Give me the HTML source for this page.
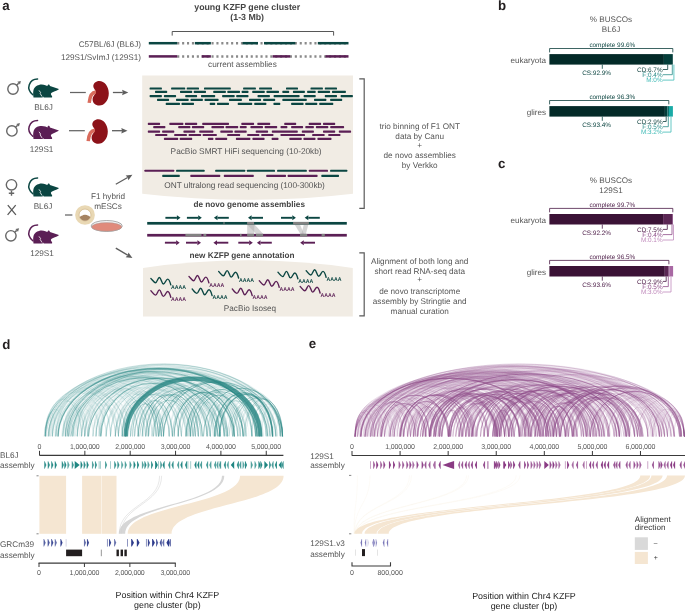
<!DOCTYPE html>
<html><head><meta charset="utf-8"><style>
html,body{margin:0;padding:0;background:#fff;}
svg{display:block;will-change:transform;font-family:"Liberation Sans",sans-serif;text-rendering:geometricPrecision;}
</style></head><body>
<svg width="685" height="612" viewBox="0 0 685 612">
<rect width="685" height="612" fill="#fff"/>
<text x="2.3" y="9.7" font-size="13.3" text-anchor="start" fill="#231f20" font-weight="bold" >a</text>
<text x="247.2" y="10.4" font-size="8.8" text-anchor="middle" fill="#444" font-weight="bold" >young KZFP gene cluster</text>
<text x="247.2" y="20.4" font-size="8.8" text-anchor="middle" fill="#444" font-weight="bold" >(1-3 Mb)</text>
<path d="M172.2,35.6 V31.5 H333.6 V35.6" fill="none" stroke="#444" stroke-width="0.9"/>
<text x="141" y="47.3" font-size="8.2" text-anchor="end" fill="#555555" font-weight="normal" >C57BL/6J (BL6J)</text>
<text x="141" y="60.4" font-size="8.2" text-anchor="end" fill="#555555" font-weight="normal" >129S1/SvImJ (129S1)</text>
<line x1="177.2" y1="43.2" x2="348.5" y2="43.2" stroke="#8a8a8a" stroke-width="2.5" stroke-dasharray="2.1 2.8"/>
<line x1="177.2" y1="56.4" x2="348.5" y2="56.4" stroke="#8a8a8a" stroke-width="2.5" stroke-dasharray="2.1 2.8"/>
<rect x="148.8" y="41.95" width="28.399999999999977" height="2.5" fill="#0b4642"/>
<rect x="194.8" y="41.95" width="16.099999999999994" height="2.5" fill="#0b4642"/>
<rect x="242.6" y="41.95" width="15.400000000000006" height="2.5" fill="#0b4642"/>
<rect x="264" y="41.95" width="31.30000000000001" height="2.5" fill="#0b4642"/>
<rect x="317.8" y="41.95" width="30.69999999999999" height="2.5" fill="#0b4642"/>
<rect x="148.8" y="55.15" width="28.399999999999977" height="2.5" fill="#5b1f55"/>
<rect x="201.7" y="55.15" width="9.200000000000017" height="2.5" fill="#5b1f55"/>
<rect x="272.6" y="55.15" width="17.599999999999966" height="2.5" fill="#5b1f55"/>
<rect x="325.5" y="55.15" width="23.0" height="2.5" fill="#5b1f55"/>
<text x="242.4" y="67.2" font-size="8.2" text-anchor="middle" fill="#555555" font-weight="normal" >current assemblies</text>
<path d="M142.2,75.5 H353 V193.7 Q247.6,206 142.2,193.7 Z" fill="#f1ece4"/>
<rect x="149.6" y="87.45" width="12.3" height="2.1" rx="0.6" fill="#0b4642"/>
<rect x="171.1" y="87.45" width="14.1" height="2.1" rx="0.6" fill="#0b4642"/>
<rect x="186.7" y="87.45" width="12.3" height="2.1" rx="0.6" fill="#0b4642"/>
<rect x="204.0" y="87.45" width="26.8" height="2.1" rx="0.6" fill="#0b4642"/>
<rect x="243.1" y="87.45" width="12.8" height="2.1" rx="0.6" fill="#0b4642"/>
<rect x="259.1" y="87.45" width="12.9" height="2.1" rx="0.6" fill="#0b4642"/>
<rect x="286.0" y="87.45" width="12.0" height="2.1" rx="0.6" fill="#0b4642"/>
<rect x="310.5" y="87.45" width="12.4" height="2.1" rx="0.6" fill="#0b4642"/>
<rect x="324.8" y="87.45" width="12.2" height="2.1" rx="0.6" fill="#0b4642"/>
<rect x="155.0" y="90.85" width="12.2" height="2.1" rx="0.6" fill="#0b4642"/>
<rect x="180.0" y="90.85" width="12.2" height="2.1" rx="0.6" fill="#0b4642"/>
<rect x="193.7" y="90.85" width="12.3" height="2.1" rx="0.6" fill="#0b4642"/>
<rect x="213.2" y="90.85" width="12.7" height="2.1" rx="0.6" fill="#0b4642"/>
<rect x="227.3" y="90.85" width="12.7" height="2.1" rx="0.6" fill="#0b4642"/>
<rect x="241.6" y="90.85" width="6.9" height="2.1" rx="0.6" fill="#0b4642"/>
<rect x="252.2" y="90.85" width="12.6" height="2.1" rx="0.6" fill="#0b4642"/>
<rect x="266.4" y="90.85" width="12.6" height="2.1" rx="0.6" fill="#0b4642"/>
<rect x="282.3" y="90.85" width="6.9" height="2.1" rx="0.6" fill="#0b4642"/>
<rect x="292.9" y="90.85" width="12.0" height="2.1" rx="0.6" fill="#0b4642"/>
<rect x="307.1" y="90.85" width="8.6" height="2.1" rx="0.6" fill="#0b4642"/>
<rect x="317.7" y="90.85" width="12.4" height="2.1" rx="0.6" fill="#0b4642"/>
<rect x="332.0" y="90.85" width="13.9" height="2.1" rx="0.6" fill="#0b4642"/>
<rect x="149.6" y="95.05" width="12.3" height="2.1" rx="0.6" fill="#0b4642"/>
<rect x="163.9" y="95.05" width="12.2" height="2.1" rx="0.6" fill="#0b4642"/>
<rect x="185.2" y="95.05" width="11.9" height="2.1" rx="0.6" fill="#0b4642"/>
<rect x="201.0" y="95.05" width="14.2" height="2.1" rx="0.6" fill="#0b4642"/>
<rect x="222.1" y="95.05" width="12.6" height="2.1" rx="0.6" fill="#0b4642"/>
<rect x="236.2" y="95.05" width="12.3" height="2.1" rx="0.6" fill="#0b4642"/>
<rect x="257.5" y="95.05" width="12.4" height="2.1" rx="0.6" fill="#0b4642"/>
<rect x="273.6" y="95.05" width="26.0" height="2.1" rx="0.6" fill="#0b4642"/>
<rect x="303.6" y="95.05" width="12.1" height="2.1" rx="0.6" fill="#0b4642"/>
<rect x="324.8" y="95.05" width="12.2" height="2.1" rx="0.6" fill="#0b4642"/>
<rect x="340.6" y="95.05" width="12.3" height="2.1" rx="0.6" fill="#0b4642"/>
<rect x="157.0" y="98.85" width="12.1" height="2.1" rx="0.6" fill="#0b4642"/>
<rect x="176.0" y="98.85" width="12.7" height="2.1" rx="0.6" fill="#0b4642"/>
<rect x="190.5" y="98.85" width="12.4" height="2.1" rx="0.6" fill="#0b4642"/>
<rect x="204.5" y="98.85" width="14.1" height="2.1" rx="0.6" fill="#0b4642"/>
<rect x="229.0" y="98.85" width="12.9" height="2.1" rx="0.6" fill="#0b4642"/>
<rect x="249.0" y="98.85" width="12.1" height="2.1" rx="0.6" fill="#0b4642"/>
<rect x="263.1" y="98.85" width="12.1" height="2.1" rx="0.6" fill="#0b4642"/>
<rect x="282.3" y="98.85" width="24.5" height="2.1" rx="0.6" fill="#0b4642"/>
<rect x="314.0" y="98.85" width="12.4" height="2.1" rx="0.6" fill="#0b4642"/>
<rect x="330.1" y="98.85" width="12.1" height="2.1" rx="0.6" fill="#0b4642"/>
<rect x="165.7" y="102.85" width="14.3" height="2.1" rx="0.6" fill="#0b4642"/>
<rect x="181.5" y="102.85" width="12.5" height="2.1" rx="0.6" fill="#0b4642"/>
<rect x="209.7" y="102.85" width="5.5" height="2.1" rx="0.6" fill="#0b4642"/>
<rect x="217.0" y="102.85" width="12.0" height="2.1" rx="0.6" fill="#0b4642"/>
<rect x="237.7" y="102.85" width="14.5" height="2.1" rx="0.6" fill="#0b4642"/>
<rect x="254.2" y="102.85" width="12.2" height="2.1" rx="0.6" fill="#0b4642"/>
<rect x="273.4" y="102.85" width="6.9" height="2.1" rx="0.6" fill="#0b4642"/>
<rect x="291.1" y="102.85" width="12.5" height="2.1" rx="0.6" fill="#0b4642"/>
<rect x="305.2" y="102.85" width="12.1" height="2.1" rx="0.6" fill="#0b4642"/>
<rect x="319.2" y="102.85" width="14.1" height="2.1" rx="0.6" fill="#0b4642"/>
<rect x="147.8" y="122.85" width="12.3" height="2.1" rx="0.6" fill="#5b1f55"/>
<rect x="169.3" y="122.85" width="14.1" height="2.1" rx="0.6" fill="#5b1f55"/>
<rect x="184.9" y="122.85" width="12.3" height="2.1" rx="0.6" fill="#5b1f55"/>
<rect x="202.2" y="122.85" width="26.8" height="2.1" rx="0.6" fill="#5b1f55"/>
<rect x="241.3" y="122.85" width="12.8" height="2.1" rx="0.6" fill="#5b1f55"/>
<rect x="257.3" y="122.85" width="12.9" height="2.1" rx="0.6" fill="#5b1f55"/>
<rect x="284.2" y="122.85" width="12.0" height="2.1" rx="0.6" fill="#5b1f55"/>
<rect x="308.7" y="122.85" width="12.4" height="2.1" rx="0.6" fill="#5b1f55"/>
<rect x="323.0" y="122.85" width="12.2" height="2.1" rx="0.6" fill="#5b1f55"/>
<rect x="153.2" y="126.05" width="12.2" height="2.1" rx="0.6" fill="#5b1f55"/>
<rect x="178.2" y="126.05" width="12.2" height="2.1" rx="0.6" fill="#5b1f55"/>
<rect x="191.9" y="126.05" width="12.3" height="2.1" rx="0.6" fill="#5b1f55"/>
<rect x="211.4" y="126.05" width="12.7" height="2.1" rx="0.6" fill="#5b1f55"/>
<rect x="225.5" y="126.05" width="12.7" height="2.1" rx="0.6" fill="#5b1f55"/>
<rect x="239.8" y="126.05" width="6.9" height="2.1" rx="0.6" fill="#5b1f55"/>
<rect x="250.4" y="126.05" width="12.6" height="2.1" rx="0.6" fill="#5b1f55"/>
<rect x="264.6" y="126.05" width="12.6" height="2.1" rx="0.6" fill="#5b1f55"/>
<rect x="280.5" y="126.05" width="6.9" height="2.1" rx="0.6" fill="#5b1f55"/>
<rect x="291.1" y="126.05" width="12.0" height="2.1" rx="0.6" fill="#5b1f55"/>
<rect x="305.3" y="126.05" width="8.6" height="2.1" rx="0.6" fill="#5b1f55"/>
<rect x="315.9" y="126.05" width="12.4" height="2.1" rx="0.6" fill="#5b1f55"/>
<rect x="330.2" y="126.05" width="13.9" height="2.1" rx="0.6" fill="#5b1f55"/>
<rect x="147.8" y="130.55" width="12.3" height="2.1" rx="0.6" fill="#5b1f55"/>
<rect x="162.1" y="130.55" width="12.2" height="2.1" rx="0.6" fill="#5b1f55"/>
<rect x="183.4" y="130.55" width="11.9" height="2.1" rx="0.6" fill="#5b1f55"/>
<rect x="199.2" y="130.55" width="14.2" height="2.1" rx="0.6" fill="#5b1f55"/>
<rect x="220.3" y="130.55" width="12.6" height="2.1" rx="0.6" fill="#5b1f55"/>
<rect x="234.4" y="130.55" width="12.3" height="2.1" rx="0.6" fill="#5b1f55"/>
<rect x="255.7" y="130.55" width="12.4" height="2.1" rx="0.6" fill="#5b1f55"/>
<rect x="271.8" y="130.55" width="26.0" height="2.1" rx="0.6" fill="#5b1f55"/>
<rect x="301.8" y="130.55" width="12.1" height="2.1" rx="0.6" fill="#5b1f55"/>
<rect x="323.0" y="130.55" width="12.2" height="2.1" rx="0.6" fill="#5b1f55"/>
<rect x="338.8" y="130.55" width="12.3" height="2.1" rx="0.6" fill="#5b1f55"/>
<rect x="155.2" y="133.95" width="12.1" height="2.1" rx="0.6" fill="#5b1f55"/>
<rect x="174.2" y="133.95" width="12.7" height="2.1" rx="0.6" fill="#5b1f55"/>
<rect x="188.7" y="133.95" width="12.4" height="2.1" rx="0.6" fill="#5b1f55"/>
<rect x="202.7" y="133.95" width="14.1" height="2.1" rx="0.6" fill="#5b1f55"/>
<rect x="227.2" y="133.95" width="12.9" height="2.1" rx="0.6" fill="#5b1f55"/>
<rect x="247.2" y="133.95" width="12.1" height="2.1" rx="0.6" fill="#5b1f55"/>
<rect x="261.3" y="133.95" width="12.1" height="2.1" rx="0.6" fill="#5b1f55"/>
<rect x="280.5" y="133.95" width="24.5" height="2.1" rx="0.6" fill="#5b1f55"/>
<rect x="312.2" y="133.95" width="12.4" height="2.1" rx="0.6" fill="#5b1f55"/>
<rect x="328.3" y="133.95" width="12.1" height="2.1" rx="0.6" fill="#5b1f55"/>
<rect x="163.9" y="137.85" width="14.3" height="2.1" rx="0.6" fill="#5b1f55"/>
<rect x="179.7" y="137.85" width="12.5" height="2.1" rx="0.6" fill="#5b1f55"/>
<rect x="207.9" y="137.85" width="5.5" height="2.1" rx="0.6" fill="#5b1f55"/>
<rect x="215.2" y="137.85" width="12.0" height="2.1" rx="0.6" fill="#5b1f55"/>
<rect x="235.9" y="137.85" width="14.5" height="2.1" rx="0.6" fill="#5b1f55"/>
<rect x="252.4" y="137.85" width="12.2" height="2.1" rx="0.6" fill="#5b1f55"/>
<rect x="271.6" y="137.85" width="6.9" height="2.1" rx="0.6" fill="#5b1f55"/>
<rect x="289.3" y="137.85" width="12.5" height="2.1" rx="0.6" fill="#5b1f55"/>
<rect x="303.4" y="137.85" width="12.1" height="2.1" rx="0.6" fill="#5b1f55"/>
<rect x="317.4" y="137.85" width="14.1" height="2.1" rx="0.6" fill="#5b1f55"/>
<text x="246.1" y="154.1" font-size="8.3" text-anchor="middle" fill="#555555" font-weight="normal" textLength="151">PacBio SMRT HiFi sequencing (10-20kb)</text>
<rect x="144.5" y="169.75" width="29.7" height="2.1" rx="0.6" fill="#5b1f55"/>
<rect x="176.1" y="169.75" width="28.5" height="2.1" rx="0.6" fill="#0b4642"/>
<rect x="215.2" y="169.75" width="30.0" height="2.1" rx="0.6" fill="#0b4642"/>
<rect x="246.9" y="169.75" width="28.1" height="2.1" rx="0.6" fill="#0b4642"/>
<rect x="277.1" y="169.75" width="29.7" height="2.1" rx="0.6" fill="#0b4642"/>
<rect x="308.9" y="169.75" width="19.1" height="2.1" rx="0.6" fill="#5b1f55"/>
<rect x="330.1" y="169.75" width="17.2" height="2.1" rx="0.6" fill="#0b4642"/>
<rect x="162.2" y="174.85" width="17.6" height="2.1" rx="0.6" fill="#0b4642"/>
<rect x="190.3" y="174.85" width="30.0" height="2.1" rx="0.6" fill="#5b1f55"/>
<rect x="223.8" y="174.85" width="30.0" height="2.1" rx="0.6" fill="#5b1f55"/>
<rect x="266.2" y="174.85" width="19.8" height="2.1" rx="0.6" fill="#5b1f55"/>
<rect x="287.6" y="174.85" width="30.0" height="2.1" rx="0.6" fill="#5b1f55"/>
<rect x="321.3" y="174.85" width="17.7" height="2.1" rx="0.6" fill="#0b4642"/>
<text x="244.6" y="188.4" font-size="8.3" text-anchor="middle" fill="#555555" font-weight="normal" textLength="160.5">ONT ultralong read sequencing (100-300kb)</text>
<path d="M359.3,78.9 H364.2 V208.4 H359.3" fill="none" stroke="#5a5a5a" stroke-width="1.2"/>
<path d="M359.3,252.8 H364.2 V315.8 H359.3" fill="none" stroke="#5a5a5a" stroke-width="1.2"/>
<text x="419.7" y="128.9" font-size="8.2" text-anchor="middle" fill="#555555" font-weight="normal" >trio binning of F1 ONT</text>
<text x="419.7" y="139" font-size="8.2" text-anchor="middle" fill="#555555" font-weight="normal" >data by Canu</text>
<text x="419.7" y="147.6" font-size="8.2" text-anchor="middle" fill="#555555" font-weight="normal" >+</text>
<text x="419.7" y="158" font-size="8.2" text-anchor="middle" fill="#555555" font-weight="normal" >de novo assemblies</text>
<text x="419.7" y="167.8" font-size="8.2" text-anchor="middle" fill="#555555" font-weight="normal" >by Verkko</text>
<text x="419.7" y="264.2" font-size="8.2" text-anchor="middle" fill="#555555" font-weight="normal" >Alignment of both long and</text>
<text x="419.7" y="274.1" font-size="8.2" text-anchor="middle" fill="#555555" font-weight="normal" >short read RNA-seq data</text>
<text x="419.7" y="282.4" font-size="8.2" text-anchor="middle" fill="#555555" font-weight="normal" >+</text>
<text x="419.7" y="293.7" font-size="8.2" text-anchor="middle" fill="#555555" font-weight="normal" >de novo transcriptome</text>
<text x="419.7" y="303.7" font-size="8.2" text-anchor="middle" fill="#555555" font-weight="normal" >assembly by Stringtie and</text>
<text x="419.7" y="313.6" font-size="8.2" text-anchor="middle" fill="#555555" font-weight="normal" >manual curation</text>
<text x="249.2" y="206.6" font-size="8.2" text-anchor="middle" fill="#444" font-weight="bold" >de novo genome assemblies</text>
<path d="M247.2,224.5 L254.5,224.5 L254,234 L247.2,234 Z" fill="#b4b4b4" fill-opacity="0.55"/>
<path d="M247.2,224.5 L254.5,224.5 L263.3,234 L256,234 Z" fill="#b4b4b4" fill-opacity="0.55"/>
<path d="M294.6,224.6 L300,224.6 L304,234 L300.4,234 Z" fill="#b4b4b4" fill-opacity="0.55"/>
<path d="M303.8,224.6 L308.3,224.6 L305.9,234 L301.4,234 Z" fill="#b4b4b4" fill-opacity="0.55"/>
<rect x="147.2" y="221.95000000000002" width="199.60000000000002" height="2.7" fill="#0b4642"/>
<rect x="147.2" y="233.9" width="199.60000000000002" height="2.7" fill="#5b1f55"/>
<rect x="223.5" y="221.95000000000002" width="1.0" height="2.7" fill="#828282"/>
<rect x="247.1" y="221.95000000000002" width="7.0" height="2.7" fill="#828282"/>
<rect x="293.1" y="221.95000000000002" width="15.799999999999955" height="2.7" fill="#828282"/>
<rect x="185.4" y="233.9" width="16.099999999999994" height="2.7" fill="#828282"/>
<rect x="203.4" y="233.9" width="2.9000000000000057" height="2.7" fill="#828282"/>
<rect x="240" y="233.9" width="1.5999999999999943" height="2.7" fill="#828282"/>
<rect x="247.1" y="233.9" width="7.0" height="2.7" fill="#828282"/>
<rect x="256" y="233.9" width="7.100000000000023" height="2.7" fill="#828282"/>
<rect x="300" y="233.9" width="7.199999999999989" height="2.7" fill="#828282"/>
<rect x="321.6" y="233.9" width="3.1999999999999886" height="2.7" fill="#828282"/>
<line x1="165.4" y1="217.8" x2="176.9" y2="217.8" stroke="#0b4642" stroke-width="1.9"/>
<path d="M176.9,215.3 L180.5,217.8 L176.9,220.3 Z" fill="#0b4642"/>
<line x1="186.9" y1="217.8" x2="198.20000000000002" y2="217.8" stroke="#0b4642" stroke-width="1.9"/>
<path d="M198.20000000000002,215.3 L201.8,217.8 L198.20000000000002,220.3 Z" fill="#0b4642"/>
<line x1="228.8" y1="217.8" x2="217.5" y2="217.8" stroke="#0b4642" stroke-width="1.9"/>
<path d="M217.5,215.3 L213.9,217.8 L217.5,220.3 Z" fill="#0b4642"/>
<line x1="263" y1="217.8" x2="251.6" y2="217.8" stroke="#0b4642" stroke-width="1.9"/>
<path d="M251.6,215.3 L248,217.8 L251.6,220.3 Z" fill="#0b4642"/>
<line x1="281" y1="217.8" x2="292.29999999999995" y2="217.8" stroke="#0b4642" stroke-width="1.9"/>
<path d="M292.29999999999995,215.3 L295.9,217.8 L292.29999999999995,220.3 Z" fill="#0b4642"/>
<line x1="319.8" y1="217.8" x2="308.3" y2="217.8" stroke="#0b4642" stroke-width="1.9"/>
<path d="M308.3,215.3 L304.7,217.8 L308.3,220.3 Z" fill="#0b4642"/>
<line x1="164.9" y1="242.7" x2="176.1" y2="242.7" stroke="#5b1f55" stroke-width="1.9"/>
<path d="M176.1,240.2 L179.7,242.7 L176.1,245.2 Z" fill="#5b1f55"/>
<line x1="186" y1="242.7" x2="197.4" y2="242.7" stroke="#5b1f55" stroke-width="1.9"/>
<path d="M197.4,240.2 L201,242.7 L197.4,245.2 Z" fill="#5b1f55"/>
<line x1="228.3" y1="242.7" x2="217.0" y2="242.7" stroke="#5b1f55" stroke-width="1.9"/>
<path d="M217.0,240.2 L213.4,242.7 L217.0,245.2 Z" fill="#5b1f55"/>
<line x1="238.3" y1="242.7" x2="249.20000000000002" y2="242.7" stroke="#5b1f55" stroke-width="1.9"/>
<path d="M249.20000000000002,240.2 L252.8,242.7 L249.20000000000002,245.2 Z" fill="#5b1f55"/>
<line x1="271.8" y1="242.7" x2="260.5" y2="242.7" stroke="#5b1f55" stroke-width="1.9"/>
<path d="M260.5,240.2 L256.9,242.7 L260.5,245.2 Z" fill="#5b1f55"/>
<line x1="315" y1="242.7" x2="303.8" y2="242.7" stroke="#5b1f55" stroke-width="1.9"/>
<path d="M303.8,240.2 L300.2,242.7 L303.8,245.2 Z" fill="#5b1f55"/>
<line x1="115.8" y1="184.3" x2="127.64" y2="177.45" stroke="#5e5e5e" stroke-width="1.3"/>
<path d="M128.41,180.18 L132.4,174.7 L125.66,175.42 L127.64,177.45 Z" fill="#5e5e5e"/>
<line x1="115.8" y1="248.1" x2="127.68" y2="255.18" stroke="#5e5e5e" stroke-width="1.3"/>
<path d="M125.67,257.19 L132.4,258 L128.48,252.46 L127.68,255.18 Z" fill="#5e5e5e"/>
<line x1="112.9" y1="92.5" x2="122.80" y2="92.50" stroke="#5e5e5e" stroke-width="1.3"/>
<path d="M122.10,95.25 L128.3,92.5 L122.10,89.75 L122.80,92.50 Z" fill="#5e5e5e"/>
<line x1="112" y1="130.7" x2="122.00" y2="130.70" stroke="#5e5e5e" stroke-width="1.3"/>
<path d="M121.30,133.45 L127.5,130.7 L121.30,127.95 L122.00,130.70 Z" fill="#5e5e5e"/>
<line x1="70" y1="92.5" x2="85.8" y2="92.5" stroke="#646464" stroke-width="1.25"/>
<line x1="69" y1="130.7" x2="84.8" y2="130.7" stroke="#646464" stroke-width="1.25"/>
<line x1="65" y1="215" x2="72.4" y2="215" stroke="#646464" stroke-width="1.25"/>
<path d="M143,268 Q247.6,252.6 352.8,268 V316.4 H143 Z" fill="#f1ece4"/>
<text x="242" y="258.2" font-size="8.2" text-anchor="middle" fill="#444" font-weight="bold" >new KZFP gene annotation</text>
<text x="250" y="310.8" font-size="8.2" text-anchor="middle" fill="#555555" font-weight="normal" >PacBio Isoseq</text>
<path d="M150.9,278.40000000000003 C152.4,279.90000000000003 153.9,282.7 155.5,282.7 C157.20000000000002,282.7 157.8,277.5 159.4,277.5 C161.1,277.5 161.70000000000002,284.0 163.4,284.0 C165.20000000000002,284.0 165.9,279.1 167.70000000000002,279.1 C169.3,279.1 170.1,282.3 170.8,284.90000000000003" fill="none" stroke="#0b4642" stroke-width="1.4" stroke-linecap="round"/>
<text x="171.1" y="288.6" font-size="5.3" text-anchor="start" fill="#0b4642" font-weight="bold" textLength="15" lengthAdjust="spacingAndGlyphs">AAAA</text>
<path d="M150.9,290.8 C152.4,292.3 153.9,295.09999999999997 155.5,295.09999999999997 C157.20000000000002,295.09999999999997 157.8,289.9 159.4,289.9 C161.1,289.9 161.70000000000002,296.4 163.4,296.4 C165.20000000000002,296.4 165.9,291.5 167.70000000000002,291.5 C169.3,291.5 170.1,294.7 170.8,297.3" fill="none" stroke="#5b1f55" stroke-width="1.4" stroke-linecap="round"/>
<text x="171.1" y="301.0" font-size="5.3" text-anchor="start" fill="#5b1f55" font-weight="bold" textLength="15" lengthAdjust="spacingAndGlyphs">AAAA</text>
<path d="M189,276.40000000000003 C190.5,277.90000000000003 192,280.7 193.6,280.7 C195.3,280.7 195.9,275.5 197.5,275.5 C199.2,275.5 199.8,282.0 201.5,282.0 C203.3,282.0 204,277.1 205.8,277.1 C207.4,277.1 208.2,280.3 208.9,282.90000000000003" fill="none" stroke="#5b1f55" stroke-width="1.4" stroke-linecap="round"/>
<text x="209.2" y="286.6" font-size="5.3" text-anchor="start" fill="#5b1f55" font-weight="bold" textLength="15" lengthAdjust="spacingAndGlyphs">AAAA</text>
<path d="M192.2,289.1 C193.7,290.6 195.2,293.4 196.79999999999998,293.4 C198.5,293.4 199.1,288.2 200.7,288.2 C202.39999999999998,288.2 203.0,294.7 204.7,294.7 C206.5,294.7 207.2,289.8 209.0,289.8 C210.6,289.8 211.39999999999998,293 212.1,295.6" fill="none" stroke="#0b4642" stroke-width="1.4" stroke-linecap="round"/>
<text x="212.39999999999998" y="299.3" font-size="5.3" text-anchor="start" fill="#0b4642" font-weight="bold" textLength="15" lengthAdjust="spacingAndGlyphs">AAAA</text>
<path d="M218.7,271.5 C220.2,273.0 221.7,275.79999999999995 223.29999999999998,275.79999999999995 C225.0,275.79999999999995 225.6,270.59999999999997 227.2,270.59999999999997 C228.89999999999998,270.59999999999997 229.5,277.09999999999997 231.2,277.09999999999997 C233.0,277.09999999999997 233.7,272.2 235.5,272.2 C237.1,272.2 237.89999999999998,275.4 238.6,278.0" fill="none" stroke="#0b4642" stroke-width="1.4" stroke-linecap="round"/>
<text x="238.89999999999998" y="281.7" font-size="5.3" text-anchor="start" fill="#0b4642" font-weight="bold" textLength="15" lengthAdjust="spacingAndGlyphs">AAAA</text>
<path d="M232.3,289.1 C233.8,290.6 235.3,293.4 236.9,293.4 C238.60000000000002,293.4 239.20000000000002,288.2 240.8,288.2 C242.5,288.2 243.10000000000002,294.7 244.8,294.7 C246.60000000000002,294.7 247.3,289.8 249.10000000000002,289.8 C250.70000000000002,289.8 251.5,293 252.20000000000002,295.6" fill="none" stroke="#5b1f55" stroke-width="1.4" stroke-linecap="round"/>
<text x="252.5" y="299.3" font-size="5.3" text-anchor="start" fill="#5b1f55" font-weight="bold" textLength="15" lengthAdjust="spacingAndGlyphs">AAAA</text>
<path d="M259.3,280.70000000000005 C260.8,282.20000000000005 262.3,285.0 263.90000000000003,285.0 C265.6,285.0 266.2,279.8 267.8,279.8 C269.5,279.8 270.1,286.3 271.8,286.3 C273.6,286.3 274.3,281.40000000000003 276.1,281.40000000000003 C277.7,281.40000000000003 278.5,284.6 279.2,287.20000000000005" fill="none" stroke="#5b1f55" stroke-width="1.4" stroke-linecap="round"/>
<text x="279.5" y="290.90000000000003" font-size="5.3" text-anchor="start" fill="#5b1f55" font-weight="bold" textLength="15" lengthAdjust="spacingAndGlyphs">AAAA</text>
<path d="M278,272.3 C279.5,273.8 281,276.59999999999997 282.6,276.59999999999997 C284.3,276.59999999999997 284.9,271.4 286.5,271.4 C288.2,271.4 288.8,277.9 290.5,277.9 C292.3,277.9 293,273.0 294.8,273.0 C296.4,273.0 297.2,276.2 297.9,278.8" fill="none" stroke="#0b4642" stroke-width="1.4" stroke-linecap="round"/>
<text x="298.2" y="282.5" font-size="5.3" text-anchor="start" fill="#0b4642" font-weight="bold" textLength="15" lengthAdjust="spacingAndGlyphs">AAAA</text>
<path d="M306.2,270.70000000000005 C307.7,272.20000000000005 309.2,275.0 310.8,275.0 C312.5,275.0 313.09999999999997,269.8 314.7,269.8 C316.4,269.8 317.0,276.3 318.7,276.3 C320.5,276.3 321.2,271.40000000000003 323.0,271.40000000000003 C324.59999999999997,271.40000000000003 325.4,274.6 326.09999999999997,277.20000000000005" fill="none" stroke="#0b4642" stroke-width="1.4" stroke-linecap="round"/>
<text x="326.4" y="280.90000000000003" font-size="5.3" text-anchor="start" fill="#0b4642" font-weight="bold" textLength="15" lengthAdjust="spacingAndGlyphs">AAAA</text>
<path d="M300.2,286.5 C301.7,288.0 303.2,290.79999999999995 304.8,290.79999999999995 C306.5,290.79999999999995 307.09999999999997,285.59999999999997 308.7,285.59999999999997 C310.4,285.59999999999997 311.0,292.09999999999997 312.7,292.09999999999997 C314.5,292.09999999999997 315.2,287.2 317.0,287.2 C318.59999999999997,287.2 319.4,290.4 320.09999999999997,293.0" fill="none" stroke="#5b1f55" stroke-width="1.4" stroke-linecap="round"/>
<text x="320.4" y="296.7" font-size="5.3" text-anchor="start" fill="#5b1f55" font-weight="bold" textLength="15" lengthAdjust="spacingAndGlyphs">AAAA</text>
<circle cx="13" cy="89" r="5.2" fill="none" stroke="#666" stroke-width="1.4"/>
<line x1="16.63" y1="85.28" x2="18.67" y2="83.19" stroke="#666" stroke-width="1.4"/>
<path d="M20.03,84.52 L20.9,80.9 L17.31,81.86 Z" fill="#666"/>
<g transform="translate(25,75)">
<path d="M12.55,4.1 C9,4.1 5.5,6.5 4.2,10 C3.2,13 4,16.5 7.8,19.8" fill="none" stroke="#0b4642" stroke-width="1.5" stroke-linecap="round"/>
<path d="M8.5,22.5 C8,19 8,16 8.8,14 C9.6,12 11.5,10.5 14,9.9 C16,9.4 18.5,9.5 20.4,10.2 C21.3,10.5 22,10.8 22.4,11 C22.5,10 23.2,9.3 23.9,9.4 C24.5,9.6 24.8,10.3 24.9,11 C26,11.3 27,11.6 28,12 L33.9,14 L33.3,14.7 C32,15.3 30.5,16 29.2,16.6 C28,17.2 27,17.6 26.3,18.1 C25.8,18.6 25.8,19.2 26,19.6 C26.5,20.5 27.2,21.3 27.2,21.9 L26.9,22.5 L18.7,22.5 L18.1,21.6 L17.5,22.5 Z" fill="#0b4642"/>
<path d="M14,15.4 L15.6,17.6 L15.2,18.5 L17,21.5" fill="none" stroke="#fff" stroke-width="0.8"/>
</g>
<text x="43.6" y="110.3" font-size="8.2" text-anchor="middle" fill="#555555" font-weight="normal" >BL6J</text>
<circle cx="11.9" cy="130.9" r="5.2" fill="none" stroke="#666" stroke-width="1.4"/>
<line x1="15.60" y1="127.25" x2="17.62" y2="125.25" stroke="#666" stroke-width="1.4"/>
<path d="M18.96,126.60 L19.9,123 L16.29,123.90 Z" fill="#666"/>
<g transform="translate(25,116.4)">
<path d="M12.55,4.1 C9,4.1 5.5,6.5 4.2,10 C3.2,13 4,16.5 7.8,19.8" fill="none" stroke="#5b1f55" stroke-width="1.5" stroke-linecap="round"/>
<path d="M8.5,22.5 C8,19 8,16 8.8,14 C9.6,12 11.5,10.5 14,9.9 C16,9.4 18.5,9.5 20.4,10.2 C21.3,10.5 22,10.8 22.4,11 C22.5,10 23.2,9.3 23.9,9.4 C24.5,9.6 24.8,10.3 24.9,11 C26,11.3 27,11.6 28,12 L33.9,14 L33.3,14.7 C32,15.3 30.5,16 29.2,16.6 C28,17.2 27,17.6 26.3,18.1 C25.8,18.6 25.8,19.2 26,19.6 C26.5,20.5 27.2,21.3 27.2,21.9 L26.9,22.5 L18.7,22.5 L18.1,21.6 L17.5,22.5 Z" fill="#5b1f55"/>
<path d="M14,15.4 L15.6,17.6 L15.2,18.5 L17,21.5" fill="none" stroke="#fff" stroke-width="0.8"/>
</g>
<text x="41.6" y="152" font-size="8.2" text-anchor="middle" fill="#555555" font-weight="normal" >129S1</text>
<circle cx="11.5" cy="184.8" r="5.2" fill="none" stroke="#666" stroke-width="1.4"/>
<path d="M11.5,190.70000000000002 V195.8 M8.8,193.20000000000002 H14.2" fill="none" stroke="#666" stroke-width="1.4"/>
<g transform="translate(25,174)">
<path d="M12.55,4.1 C9,4.1 5.5,6.5 4.2,10 C3.2,13 4,16.5 7.8,19.8" fill="none" stroke="#0b4642" stroke-width="1.5" stroke-linecap="round"/>
<path d="M8.5,22.5 C8,19 8,16 8.8,14 C9.6,12 11.5,10.5 14,9.9 C16,9.4 18.5,9.5 20.4,10.2 C21.3,10.5 22,10.8 22.4,11 C22.5,10 23.2,9.3 23.9,9.4 C24.5,9.6 24.8,10.3 24.9,11 C26,11.3 27,11.6 28,12 L33.9,14 L33.3,14.7 C32,15.3 30.5,16 29.2,16.6 C28,17.2 27,17.6 26.3,18.1 C25.8,18.6 25.8,19.2 26,19.6 C26.5,20.5 27.2,21.3 27.2,21.9 L26.9,22.5 L18.7,22.5 L18.1,21.6 L17.5,22.5 Z" fill="#0b4642"/>
<path d="M14,15.4 L15.6,17.6 L15.2,18.5 L17,21.5" fill="none" stroke="#fff" stroke-width="0.8"/>
</g>
<text x="43" y="209.2" font-size="8.2" text-anchor="middle" fill="#555555" font-weight="normal" >BL6J</text>
<path d="M7.8,205.2 L15.9,214.8 M15.7,205.2 L7.6,214.8" stroke="#5a5a5a" stroke-width="1.3"/>
<circle cx="10.9" cy="235.8" r="5.2" fill="none" stroke="#666" stroke-width="1.4"/>
<line x1="14.71" y1="232.27" x2="16.75" y2="230.38" stroke="#666" stroke-width="1.4"/>
<path d="M18.04,231.77 L19.1,228.2 L15.46,228.98 Z" fill="#666"/>
<g transform="translate(25,221)">
<path d="M12.55,4.1 C9,4.1 5.5,6.5 4.2,10 C3.2,13 4,16.5 7.8,19.8" fill="none" stroke="#5b1f55" stroke-width="1.5" stroke-linecap="round"/>
<path d="M8.5,22.5 C8,19 8,16 8.8,14 C9.6,12 11.5,10.5 14,9.9 C16,9.4 18.5,9.5 20.4,10.2 C21.3,10.5 22,10.8 22.4,11 C22.5,10 23.2,9.3 23.9,9.4 C24.5,9.6 24.8,10.3 24.9,11 C26,11.3 27,11.6 28,12 L33.9,14 L33.3,14.7 C32,15.3 30.5,16 29.2,16.6 C28,17.2 27,17.6 26.3,18.1 C25.8,18.6 25.8,19.2 26,19.6 C26.5,20.5 27.2,21.3 27.2,21.9 L26.9,22.5 L18.7,22.5 L18.1,21.6 L17.5,22.5 Z" fill="#5b1f55"/>
<path d="M14,15.4 L15.6,17.6 L15.2,18.5 L17,21.5" fill="none" stroke="#fff" stroke-width="0.8"/>
</g>
<text x="42" y="255.5" font-size="8.2" text-anchor="middle" fill="#555555" font-weight="normal" >129S1</text>
<g transform="translate(84,76)">
<path d="M15.2,5 C20.5,5 24.8,10.5 24.8,17.3 C24.8,24.5 20.4,29.6 15.3,29.6 C11.4,29.6 8.6,27 8.6,23.6 C8.6,20.2 11.5,18.6 11.5,15.8 C11.5,13.6 9.3,12.6 9.3,10.3 C9.3,7.3 12,5 15.2,5 Z" fill="#8c1219"/>
<path d="M11.8,16 C7.6,16.3 5.9,19.6 5.2,26.9" fill="none" stroke="#d96b5c" stroke-width="3.5"/>
</g>
<g transform="translate(83,114.2)">
<path d="M15.2,5 C20.5,5 24.8,10.5 24.8,17.3 C24.8,24.5 20.4,29.6 15.3,29.6 C11.4,29.6 8.6,27 8.6,23.6 C8.6,20.2 11.5,18.6 11.5,15.8 C11.5,13.6 9.3,12.6 9.3,10.3 C9.3,7.3 12,5 15.2,5 Z" fill="#8c1219"/>
<path d="M11.8,16 C7.6,16.3 5.9,19.6 5.2,26.9" fill="none" stroke="#d96b5c" stroke-width="3.5"/>
</g>
<circle cx="85" cy="215" r="7.8" fill="#fff" stroke="#e9d8b4" stroke-width="4.1"/>
<circle cx="85" cy="215" r="6" fill="none" stroke="#cdb185" stroke-width="0.6"/>
<path d="M79.75,217.2 C80.5,216.1 81.5,215.6 82.5,215.4 C83.3,214.7 84.2,214.5 85,214.9 C86,214.6 87,215.2 87.8,215.6 C88.8,215.8 89.7,216.4 90.25,217.2 A5.7,5.7 0 0 1 79.75,217.2 Z" fill="#a68463"/>
<ellipse cx="106.7" cy="226" rx="15.6" ry="5.5" fill="#f4f4f4" stroke="#8a8a8a" stroke-width="0.7"/>
<ellipse cx="106.7" cy="226.9" rx="15" ry="4.3" fill="#e08a7b" stroke="#9a9a9a" stroke-width="0.4"/>
<text x="108" y="199.4" font-size="8.2" text-anchor="middle" fill="#555555" font-weight="normal" >F1 hybrid</text>
<text x="108" y="209.4" font-size="8.2" text-anchor="middle" fill="#555555" font-weight="normal" >mESCs</text>
<text x="497.9" y="9.7" font-size="13.3" text-anchor="start" fill="#231f20" font-weight="bold" >b</text>
<text x="611" y="22" font-size="8.1" text-anchor="middle" fill="#555555" font-weight="normal" >% BUSCOs</text>
<text x="611" y="31.6" font-size="8.1" text-anchor="middle" fill="#555555" font-weight="normal" >BL6J</text>
<path d="M549.6,52.4 V48.5 H672.8 V52.4" fill="none" stroke="#0c3e3b" stroke-width="0.8"/>
<text x="612.3" y="46.8" font-size="6.4" text-anchor="middle" fill="#0d4541" font-weight="normal" >complete 99.6%</text>
<rect x="549.4" y="54.1" width="114.50" height="10.5" fill="#032a28"/>
<rect x="663.9" y="54.1" width="8.90" height="10.5" fill="#043e3a"/>
<text x="546" y="62.6" font-size="8.1" text-anchor="end" fill="#555555" font-weight="normal" >eukaryota</text>
<line x1="602.3" y1="64.6" x2="602.3" y2="68.8" stroke="#0d4541" stroke-width="0.8"/>
<text x="596.6" y="75.4" font-size="6.4" text-anchor="middle" fill="#0d4541" font-weight="normal" >CS:92.9%</text>
<text x="662.6" y="71.6" font-size="6.4" text-anchor="end" fill="#0c3e3b" font-weight="normal" >CD:6.7%</text>
<path d="M663,69.5 H667.7 V64.6" fill="none" stroke="#0c3e3b" stroke-width="0.8"/>
<text x="662.6" y="76.9" font-size="6.4" text-anchor="end" fill="#2a8c88" font-weight="normal" >F:0.4%</text>
<path d="M663,74.7 H672.3 V64.6" fill="none" stroke="#2a8c88" stroke-width="0.8"/>
<text x="662.6" y="82.2" font-size="6.4" text-anchor="end" fill="#3fbab6" font-weight="normal" >M:0%</text>
<path d="M663,80.1 H673.9 V64.6" fill="none" stroke="#3fbab6" stroke-width="0.8"/>
<path d="M549.6,104.4 V100.5 H668.8 V104.4" fill="none" stroke="#0c3e3b" stroke-width="0.8"/>
<text x="612.3" y="98.8" font-size="6.4" text-anchor="middle" fill="#0d4541" font-weight="normal" >complete 96.3%</text>
<rect x="549.4" y="106.1" width="115.50" height="10.5" fill="#032a28"/>
<rect x="664.9" y="106.1" width="2.60" height="10.5" fill="#043e3a"/>
<rect x="667.5" y="106.1" width="1.50" height="10.5" fill="#0e6e6a"/>
<rect x="669" y="106.1" width="3.90" height="10.5" fill="#19aaa6"/>
<text x="546" y="114.6" font-size="8.1" text-anchor="end" fill="#555555" font-weight="normal" >glires</text>
<line x1="602.3" y1="116.6" x2="602.3" y2="120.8" stroke="#0d4541" stroke-width="0.8"/>
<text x="596.6" y="127.4" font-size="6.4" text-anchor="middle" fill="#0d4541" font-weight="normal" >CS:93.4%</text>
<text x="662.6" y="123.6" font-size="6.4" text-anchor="end" fill="#0c3e3b" font-weight="normal" >CD:2.9%</text>
<path d="M663,121.5 H666.2 V116.6" fill="none" stroke="#0c3e3b" stroke-width="0.8"/>
<text x="662.6" y="128.9" font-size="6.4" text-anchor="end" fill="#2a8c88" font-weight="normal" >F:0.5%</text>
<path d="M663,126.7 H668.3 V116.6" fill="none" stroke="#2a8c88" stroke-width="0.8"/>
<text x="662.6" y="134.2" font-size="6.4" text-anchor="end" fill="#3fbab6" font-weight="normal" >M:3.2%</text>
<path d="M663,132.1 H671 V116.6" fill="none" stroke="#3fbab6" stroke-width="0.8"/>
<text x="497.9" y="167.6" font-size="13.3" text-anchor="start" fill="#231f20" font-weight="bold" >c</text>
<text x="611" y="183.1" font-size="8.1" text-anchor="middle" fill="#555555" font-weight="normal" >% BUSCOs</text>
<text x="611" y="192.94" font-size="8.1" text-anchor="middle" fill="#555555" font-weight="normal" >129S1</text>
<path d="M549.6,212.3 V208.4 H672.8 V212.3" fill="none" stroke="#4a1a45" stroke-width="0.8"/>
<text x="612.3" y="206.7" font-size="6.4" text-anchor="middle" fill="#4a1a45" font-weight="normal" >complete 99.7%</text>
<rect x="549.4" y="214.0" width="113.70" height="10.5" fill="#3b1236"/>
<rect x="663.1" y="214.0" width="9.10" height="10.5" fill="#5b2654"/>
<rect x="672.2" y="214.0" width="0.80" height="10.5" fill="#7d3f78"/>
<text x="546" y="222.5" font-size="8.1" text-anchor="end" fill="#555555" font-weight="normal" >eukaryota</text>
<line x1="602.3" y1="224.5" x2="602.3" y2="228.7" stroke="#4a1a45" stroke-width="0.8"/>
<text x="596.6" y="235.3" font-size="6.4" text-anchor="middle" fill="#4a1a45" font-weight="normal" >CS:92.2%</text>
<text x="662.6" y="231.5" font-size="6.4" text-anchor="end" fill="#4a1a45" font-weight="normal" >CD:7.5%</text>
<path d="M663,229.4 H667.3 V224.5" fill="none" stroke="#4a1a45" stroke-width="0.8"/>
<text x="662.6" y="236.8" font-size="6.4" text-anchor="end" fill="#8e4d89" font-weight="normal" >F:0.4%</text>
<path d="M663,234.60000000000002 H672 V224.5" fill="none" stroke="#8e4d89" stroke-width="0.8"/>
<text x="662.6" y="242.10000000000002" font-size="6.4" text-anchor="end" fill="#c08bbc" font-weight="normal" >M:0.1%</text>
<path d="M663,240.0 H673.5 V224.5" fill="none" stroke="#c08bbc" stroke-width="0.8"/>
<path d="M549.6,264.3 V260.4 H668.9 V264.3" fill="none" stroke="#4a1a45" stroke-width="0.8"/>
<text x="612.3" y="258.7" font-size="6.4" text-anchor="middle" fill="#4a1a45" font-weight="normal" >complete 96.5%</text>
<rect x="549.4" y="266.0" width="115.40" height="10.5" fill="#3b1236"/>
<rect x="664.8" y="266.0" width="3.80" height="10.5" fill="#5b2654"/>
<rect x="668.6" y="266.0" width="0.90" height="10.5" fill="#7d3f78"/>
<rect x="669.5" y="266.0" width="3.60" height="10.5" fill="#a868a3"/>
<text x="546" y="274.5" font-size="8.1" text-anchor="end" fill="#555555" font-weight="normal" >glires</text>
<line x1="602.3" y1="276.5" x2="602.3" y2="280.7" stroke="#4a1a45" stroke-width="0.8"/>
<text x="596.6" y="287.3" font-size="6.4" text-anchor="middle" fill="#4a1a45" font-weight="normal" >CS:93.6%</text>
<text x="662.6" y="283.5" font-size="6.4" text-anchor="end" fill="#4a1a45" font-weight="normal" >CD:2.9%</text>
<path d="M663,281.4 H666.2 V276.5" fill="none" stroke="#4a1a45" stroke-width="0.8"/>
<text x="662.6" y="288.8" font-size="6.4" text-anchor="end" fill="#8e4d89" font-weight="normal" >F:0.5%</text>
<path d="M663,286.6 H668.3 V276.5" fill="none" stroke="#8e4d89" stroke-width="0.8"/>
<text x="662.6" y="294.1" font-size="6.4" text-anchor="end" fill="#c08bbc" font-weight="normal" >M:3.0%</text>
<path d="M663,292.0 H671 V276.5" fill="none" stroke="#c08bbc" stroke-width="0.8"/>
<g fill="none" stroke="#2a8784">
<path d="M158.5,436.4 A16.1,35.4 0 0 1 190.7,436.4" stroke-width="0.5" stroke-opacity="0.06"/>
<path d="M156.5,436.4 A31.8,45.2 0 0 1 220.0,436.4" stroke-width="0.35" stroke-opacity="0.05"/>
<path d="M130.6,436.4 A27.7,43.0 0 0 1 186.0,436.4" stroke-width="0.45" stroke-opacity="0.11"/>
<path d="M48.8,436.4 A44.6,51.1 0 0 1 138.1,436.4" stroke-width="0.3" stroke-opacity="0.05"/>
<path d="M152.1,436.4 A53.7,54.6 0 0 1 259.5,436.4" stroke-width="0.45" stroke-opacity="0.07"/>
<path d="M161.3,436.4 A47.1,52.1 0 0 1 255.6,436.4" stroke-width="0.45" stroke-opacity="0.05"/>
<path d="M87.7,436.4 A50.1,53.2 0 0 1 187.9,436.4" stroke-width="0.45" stroke-opacity="0.11"/>
<path d="M45.3,436.4 A21.2,39.1 0 0 1 87.7,436.4" stroke-width="0.3" stroke-opacity="0.05"/>
<path d="M106.1,436.4 A19.7,38.0 0 0 1 145.5,436.4" stroke-width="0.3" stroke-opacity="0.10"/>
<path d="M169.2,436.4 A35.5,47.0 0 0 1 240.2,436.4" stroke-width="0.4" stroke-opacity="0.07"/>
<path d="M195.4,436.4 A35.4,47.0 0 0 1 266.2,436.4" stroke-width="0.3" stroke-opacity="0.06"/>
<path d="M96.0,436.4 A11.2,31.0 0 0 1 118.4,436.4" stroke-width="0.5" stroke-opacity="0.06"/>
<path d="M152.1,436.4 A2.2,17.3 0 0 1 156.5,436.4" stroke-width="0.35" stroke-opacity="0.07"/>
<path d="M227.7,436.4 A5.1,23.3 0 0 1 237.8,436.4" stroke-width="0.5" stroke-opacity="0.07"/>
<path d="M45.3,436.4 A3.5,20.4 0 0 1 52.3,436.4" stroke-width="0.35" stroke-opacity="0.06"/>
<path d="M48.8,436.4 A57.4,55.9 0 0 1 163.6,436.4" stroke-width="0.4" stroke-opacity="0.10"/>
<path d="M181.4,436.4 A28.2,43.3 0 0 1 237.8,436.4" stroke-width="0.35" stroke-opacity="0.05"/>
<path d="M122.3,436.4 A71.9,60.6 0 0 1 266.2,436.4" stroke-width="0.35" stroke-opacity="0.10"/>
<path d="M72.8,436.4 A37.9,48.1 0 0 1 148.6,436.4" stroke-width="0.35" stroke-opacity="0.09"/>
<path d="M138.1,436.4 A11.6,31.4 0 0 1 161.3,436.4" stroke-width="0.45" stroke-opacity="0.10"/>
<path d="M77.2,436.4 A5.2,23.6 0 0 1 87.7,436.4" stroke-width="0.4" stroke-opacity="0.06"/>
<path d="M240.2,436.4 A15.0,34.4 0 0 1 270.1,436.4" stroke-width="0.5" stroke-opacity="0.08"/>
<path d="M145.5,436.4 A26.3,42.2 0 0 1 198.2,436.4" stroke-width="0.5" stroke-opacity="0.09"/>
<path d="M172.5,436.4 A36.8,47.6 0 0 1 246.0,436.4" stroke-width="0.35" stroke-opacity="0.10"/>
<path d="M81.6,436.4 A43.8,50.7 0 0 1 169.2,436.4" stroke-width="0.35" stroke-opacity="0.05"/>
<path d="M130.6,436.4 A7.5,26.8 0 0 1 145.5,436.4" stroke-width="0.35" stroke-opacity="0.11"/>
<path d="M125.8,436.4 A40.6,49.4 0 0 1 207.1,436.4" stroke-width="0.3" stroke-opacity="0.08"/>
<path d="M195.4,436.4 A11.0,30.8 0 0 1 217.3,436.4" stroke-width="0.3" stroke-opacity="0.09"/>
<path d="M84.7,436.4 A16.9,36.0 0 0 1 118.4,436.4" stroke-width="0.3" stroke-opacity="0.05"/>
<path d="M65.4,436.4 A79.7,62.9 0 0 1 224.8,436.4" stroke-width="0.6" stroke-opacity="0.10"/>
<path d="M122.3,436.4 A42.4,50.1 0 0 1 207.1,436.4" stroke-width="0.45" stroke-opacity="0.11"/>
<path d="M55.8,436.4 A10.7,30.5 0 0 1 77.2,436.4" stroke-width="0.5" stroke-opacity="0.09"/>
<path d="M48.8,436.4 A89.4,65.6 0 0 1 227.7,436.4" stroke-width="0.3" stroke-opacity="0.05"/>
<path d="M115.3,436.4 A77.4,62.2 0 0 1 270.1,436.4" stroke-width="0.6" stroke-opacity="0.07"/>
<path d="M110.5,436.4 A38.7,48.5 0 0 1 187.9,436.4" stroke-width="0.5" stroke-opacity="0.05"/>
<path d="M110.5,436.4 A23.0,40.2 0 0 1 156.5,436.4" stroke-width="0.35" stroke-opacity="0.11"/>
<path d="M77.2,436.4 A19.0,37.6 0 0 1 115.3,436.4" stroke-width="0.6" stroke-opacity="0.11"/>
<path d="M207.1,436.4 A31.5,45.0 0 0 1 270.1,436.4" stroke-width="0.35" stroke-opacity="0.08"/>
<path d="M110.5,436.4 A49.9,53.1 0 0 1 210.3,436.4" stroke-width="0.35" stroke-opacity="0.07"/>
<path d="M161.3,436.4 A54.4,54.8 0 0 1 270.1,436.4" stroke-width="0.35" stroke-opacity="0.10"/>
<path d="M237.8,436.4 A7.0,26.2 0 0 1 251.8,436.4" stroke-width="0.4" stroke-opacity="0.06"/>
<path d="M62.8,436.4 A31.5,45.0 0 0 1 125.8,436.4" stroke-width="0.4" stroke-opacity="0.10"/>
<path d="M115.3,436.4 A21.6,39.3 0 0 1 158.5,436.4" stroke-width="0.35" stroke-opacity="0.10"/>
<path d="M77.2,436.4 A75.2,61.6 0 0 1 227.7,436.4" stroke-width="0.6" stroke-opacity="0.10"/>
<path d="M125.8,436.4 A16.4,35.6 0 0 1 158.5,436.4" stroke-width="0.5" stroke-opacity="0.05"/>
<path d="M110.5,436.4 A31.0,44.8 0 0 1 172.5,436.4" stroke-width="0.45" stroke-opacity="0.08"/>
<path d="M45.3,436.4 A5.2,23.6 0 0 1 55.8,436.4" stroke-width="0.6" stroke-opacity="0.06"/>
<path d="M106.1,436.4 A59.4,56.6 0 0 1 224.8,436.4" stroke-width="0.6" stroke-opacity="0.06"/>
<path d="M148.6,436.4 A35.7,47.1 0 0 1 220.0,436.4" stroke-width="0.5" stroke-opacity="0.09"/>
<path d="M145.5,436.4 A26.3,42.2 0 0 1 198.2,436.4" stroke-width="0.5" stroke-opacity="0.08"/>
<path d="M138.1,436.4 A51.0,53.6 0 0 1 240.2,436.4" stroke-width="0.6" stroke-opacity="0.11"/>
<path d="M93.0,436.4 A91.4,66.1 0 0 1 275.9,436.4" stroke-width="0.6" stroke-opacity="0.07"/>
<path d="M118.4,436.4 A20.0,38.3 0 0 1 158.5,436.4" stroke-width="0.5" stroke-opacity="0.09"/>
<path d="M210.3,436.4 A34.9,46.8 0 0 1 280.2,436.4" stroke-width="0.6" stroke-opacity="0.11"/>
<path d="M96.0,436.4 A45.0,51.2 0 0 1 186.0,436.4" stroke-width="0.4" stroke-opacity="0.08"/>
<path d="M163.6,436.4 A18.7,37.3 0 0 1 201.0,436.4" stroke-width="0.3" stroke-opacity="0.07"/>
<path d="M62.8,436.4 A12.5,32.2 0 0 1 87.7,436.4" stroke-width="0.5" stroke-opacity="0.07"/>
<path d="M172.5,436.4 A30.0,44.3 0 0 1 232.5,436.4" stroke-width="0.35" stroke-opacity="0.10"/>
<path d="M81.6,436.4 A8.8,28.4 0 0 1 99.1,436.4" stroke-width="0.35" stroke-opacity="0.08"/>
<path d="M125.8,436.4 A42.3,50.1 0 0 1 210.3,436.4" stroke-width="0.45" stroke-opacity="0.09"/>
<path d="M93.0,436.4 A79.4,62.8 0 0 1 251.8,436.4" stroke-width="0.5" stroke-opacity="0.07"/>
<path d="M142.9,436.4 A6.8,25.9 0 0 1 156.5,436.4" stroke-width="0.5" stroke-opacity="0.06"/>
<path d="M138.1,436.4 A44.8,51.1 0 0 1 227.7,436.4" stroke-width="0.5" stroke-opacity="0.07"/>
<path d="M77.2,436.4 A42.1,50.0 0 0 1 161.3,436.4" stroke-width="0.3" stroke-opacity="0.08"/>
<path d="M55.8,436.4 A85.9,64.6 0 0 1 227.7,436.4" stroke-width="0.3" stroke-opacity="0.08"/>
<path d="M118.4,436.4 A77.0,62.1 0 0 1 272.5,436.4" stroke-width="0.6" stroke-opacity="0.06"/>
<path d="M187.9,436.4 A44.0,50.8 0 0 1 275.9,436.4" stroke-width="0.45" stroke-opacity="0.07"/>
<path d="M220.0,436.4 A31.3,44.9 0 0 1 282.6,436.4" stroke-width="0.45" stroke-opacity="0.08"/>
<path d="M106.1,436.4 A23.0,40.2 0 0 1 152.1,436.4" stroke-width="0.3" stroke-opacity="0.11"/>
<path d="M96.0,436.4 A13.1,32.9 0 0 1 122.3,436.4" stroke-width="0.6" stroke-opacity="0.07"/>
<path d="M217.3,436.4 A22.0,39.6 0 0 1 261.4,436.4" stroke-width="0.3" stroke-opacity="0.08"/>
<path d="M118.4,436.4 A19.0,37.6 0 0 1 156.5,436.4" stroke-width="0.6" stroke-opacity="0.06"/>
<path d="M100.4,436.4 A38.8,48.6 0 0 1 178.1,436.4" stroke-width="0.5" stroke-opacity="0.06"/>
<path d="M125.8,436.4 A64.9,58.4 0 0 1 255.6,436.4" stroke-width="0.6" stroke-opacity="0.10"/>
<path d="M148.6,436.4 A24.8,41.3 0 0 1 198.2,436.4" stroke-width="0.35" stroke-opacity="0.06"/>
<path d="M134.6,436.4 A8.8,28.4 0 0 1 152.1,436.4" stroke-width="0.3" stroke-opacity="0.06"/>
<path d="M96.0,436.4 A2.2,17.3 0 0 1 100.4,436.4" stroke-width="0.45" stroke-opacity="0.08"/>
<path d="M122.3,436.4 A19.5,37.9 0 0 1 161.3,436.4" stroke-width="0.6" stroke-opacity="0.10"/>
<path d="M96.0,436.4 A32.7,45.6 0 0 1 161.3,436.4" stroke-width="0.4" stroke-opacity="0.11"/>
<path d="M115.3,436.4 A52.4,54.1 0 0 1 220.1,436.4" stroke-width="0.6" stroke-opacity="0.10"/>
<path d="M152.1,436.4 A64.0,58.1 0 0 1 280.2,436.4" stroke-width="0.45" stroke-opacity="0.05"/>
<path d="M62.8,436.4 A46.9,52.0 0 0 1 156.5,436.4" stroke-width="0.45" stroke-opacity="0.06"/>
<path d="M62.8,436.4 A42.9,50.3 0 0 1 148.6,436.4" stroke-width="0.6" stroke-opacity="0.05"/>
<path d="M72.8,436.4 A26.5,42.3 0 0 1 125.8,436.4" stroke-width="0.45" stroke-opacity="0.05"/>
<path d="M96.0,436.4 A24.8,41.3 0 0 1 145.5,436.4" stroke-width="0.45" stroke-opacity="0.06"/>
<path d="M48.8,436.4 A88.0,65.2 0 0 1 224.8,436.4" stroke-width="0.3" stroke-opacity="0.10"/>
<path d="M148.6,436.4 A63.6,58.0 0 0 1 275.9,436.4" stroke-width="0.6" stroke-opacity="0.07"/>
<path d="M118.4,436.4 A16.8,36.0 0 0 1 152.1,436.4" stroke-width="0.3" stroke-opacity="0.10"/>
<path d="M152.1,436.4 A60.2,56.9 0 0 1 272.5,436.4" stroke-width="0.4" stroke-opacity="0.10"/>
<path d="M163.6,436.4 A4.5,22.3 0 0 1 172.5,436.4" stroke-width="0.6" stroke-opacity="0.10"/>
<path d="M138.1,436.4 A39.6,48.9 0 0 1 217.3,436.4" stroke-width="0.6" stroke-opacity="0.07"/>
<path d="M100.4,436.4 A24.1,40.9 0 0 1 148.6,436.4" stroke-width="0.6" stroke-opacity="0.06"/>
<path d="M186.0,436.4 A12.2,32.0 0 0 1 210.3,436.4" stroke-width="0.3" stroke-opacity="0.10"/>
<path d="M68.5,436.4 A18.8,37.4 0 0 1 106.1,436.4" stroke-width="0.6" stroke-opacity="0.07"/>
<path d="M148.6,436.4 A30.9,44.7 0 0 1 210.3,436.4" stroke-width="0.6" stroke-opacity="0.06"/>
<path d="M172.5,436.4 A33.8,46.2 0 0 1 240.2,436.4" stroke-width="0.4" stroke-opacity="0.08"/>
<path d="M68.5,436.4 A105.8,69.7 0 0 1 280.2,436.4" stroke-width="0.6" stroke-opacity="0.07"/>
<path d="M96.0,436.4 A26.3,42.2 0 0 1 148.6,436.4" stroke-width="0.5" stroke-opacity="0.07"/>
<path d="M96.0,436.4 A7.2,26.5 0 0 1 110.5,436.4" stroke-width="0.3" stroke-opacity="0.08"/>
<path d="M65.4,436.4 A86.2,64.7 0 0 1 237.8,436.4" stroke-width="0.35" stroke-opacity="0.07"/>
<path d="M77.2,436.4 A32.9,45.7 0 0 1 142.9,436.4" stroke-width="0.5" stroke-opacity="0.05"/>
<path d="M77.2,436.4 A28.7,43.6 0 0 1 134.6,436.4" stroke-width="0.4" stroke-opacity="0.08"/>
<path d="M169.2,436.4 A48.5,52.6 0 0 1 266.2,436.4" stroke-width="0.4" stroke-opacity="0.09"/>
<path d="M125.8,436.4 A27.8,43.1 0 0 1 181.4,436.4" stroke-width="0.6" stroke-opacity="0.06"/>
<path d="M68.5,436.4 A84.7,64.3 0 0 1 237.8,436.4" stroke-width="0.6" stroke-opacity="0.07"/>
<path d="M84.7,436.4 A56.7,55.7 0 0 1 198.2,436.4" stroke-width="0.35" stroke-opacity="0.08"/>
<path d="M65.4,436.4 A98.0,67.8 0 0 1 261.4,436.4" stroke-width="0.6" stroke-opacity="0.11"/>
<path d="M130.6,436.4 A65.4,58.6 0 0 1 261.4,436.4" stroke-width="0.3" stroke-opacity="0.05"/>
<path d="M246.0,436.4 A18.3,37.0 0 0 1 282.6,436.4" stroke-width="0.35" stroke-opacity="0.06"/>
<path d="M110.5,436.4 A7.6,27.1 0 0 1 125.8,436.4" stroke-width="0.45" stroke-opacity="0.09"/>
<path d="M220.1,436.4 A31.3,44.9 0 0 1 282.6,436.4" stroke-width="0.5" stroke-opacity="0.10"/>
<path d="M125.8,436.4 A27.8,43.1 0 0 1 181.4,436.4" stroke-width="0.35" stroke-opacity="0.08"/>
<path d="M195.4,436.4 A42.4,50.1 0 0 1 280.2,436.4" stroke-width="0.5" stroke-opacity="0.10"/>
<path d="M152.1,436.4 A10.2,30.0 0 0 1 172.5,436.4" stroke-width="0.35" stroke-opacity="0.11"/>
<path d="M161.3,436.4 A59.4,56.6 0 0 1 280.2,436.4" stroke-width="0.3" stroke-opacity="0.09"/>
<path d="M106.1,436.4 A72.9,60.9 0 0 1 251.8,436.4" stroke-width="0.3" stroke-opacity="0.10"/>
<path d="M138.1,436.4 A60.7,57.0 0 0 1 259.5,436.4" stroke-width="0.4" stroke-opacity="0.08"/>
<path d="M217.3,436.4 A32.7,45.6 0 0 1 282.6,436.4" stroke-width="0.3" stroke-opacity="0.10"/>
<path d="M158.5,436.4 A43.8,50.7 0 0 1 246.0,436.4" stroke-width="0.6" stroke-opacity="0.06"/>
<path d="M134.6,436.4 A17.3,36.3 0 0 1 169.2,436.4" stroke-width="0.6" stroke-opacity="0.10"/>
<path d="M99.1,436.4 A24.8,41.3 0 0 1 148.6,436.4" stroke-width="0.5" stroke-opacity="0.05"/>
<path d="M87.7,436.4 A56.6,55.6 0 0 1 201.0,436.4" stroke-width="0.45" stroke-opacity="0.08"/>
<path d="M217.3,436.4 A7.6,27.0 0 0 1 232.5,436.4" stroke-width="0.35" stroke-opacity="0.11"/>
<path d="M87.7,436.4 A49.1,52.9 0 0 1 186.0,436.4" stroke-width="0.6" stroke-opacity="0.07"/>
<path d="M130.6,436.4 A19.3,37.8 0 0 1 169.2,436.4" stroke-width="0.3" stroke-opacity="0.07"/>
<path d="M110.5,436.4 A31.0,44.8 0 0 1 172.5,436.4" stroke-width="0.4" stroke-opacity="0.08"/>
<path d="M251.8,436.4 A10.3,30.2 0 0 1 272.5,436.4" stroke-width="0.6" stroke-opacity="0.11"/>
<path d="M261.4,436.4 A5.6,24.1 0 0 1 272.5,436.4" stroke-width="0.6" stroke-opacity="0.07"/>
<path d="M152.1,436.4 A42.9,50.3 0 0 1 237.8,436.4" stroke-width="0.4" stroke-opacity="0.10"/>
<path d="M134.6,436.4 A40.2,49.2 0 0 1 215.0,436.4" stroke-width="0.4" stroke-opacity="0.10"/>
<path d="M72.8,436.4 A89.5,65.6 0 0 1 251.8,436.4" stroke-width="0.5" stroke-opacity="0.07"/>
<path d="M52.3,436.4 A36.8,47.6 0 0 1 125.8,436.4" stroke-width="0.3" stroke-opacity="0.07"/>
<path d="M106.1,436.4 A33.2,45.9 0 0 1 172.5,436.4" stroke-width="0.3" stroke-opacity="0.05"/>
<path d="M96.0,436.4 A17.3,36.3 0 0 1 130.6,436.4" stroke-width="0.6" stroke-opacity="0.08"/>
<path d="M232.5,436.4 A9.7,29.4 0 0 1 251.8,436.4" stroke-width="0.5" stroke-opacity="0.07"/>
<path d="M187.9,436.4 A32.0,45.3 0 0 1 251.8,436.4" stroke-width="0.45" stroke-opacity="0.08"/>
<path d="M65.4,436.4 A9.6,29.4 0 0 1 84.7,436.4" stroke-width="0.6" stroke-opacity="0.07"/>
<path d="M45.3,436.4 A91.2,66.0 0 0 1 227.7,436.4" stroke-width="0.45" stroke-opacity="0.11"/>
<path d="M55.8,436.4 A82.2,63.6 0 0 1 220.1,436.4" stroke-width="0.3" stroke-opacity="0.07"/>
<path d="M195.4,436.4 A43.6,50.6 0 0 1 282.6,436.4" stroke-width="0.45" stroke-opacity="0.09"/>
<path d="M201.0,436.4 A15.8,35.1 0 0 1 232.5,436.4" stroke-width="0.3" stroke-opacity="0.08"/>
<path d="M115.3,436.4 A35.4,46.9 0 0 1 186.0,436.4" stroke-width="0.35" stroke-opacity="0.11"/>
<path d="M52.3,436.4 A67.8,59.3 0 0 1 187.9,436.4" stroke-width="0.3" stroke-opacity="0.07"/>
<path d="M106.1,436.4 A27.6,42.9 0 0 1 161.3,436.4" stroke-width="0.45" stroke-opacity="0.09"/>
<path d="M251.8,436.4 A15.4,34.8 0 0 1 282.6,436.4" stroke-width="0.4" stroke-opacity="0.09"/>
<path d="M163.6,436.4 A51.3,53.7 0 0 1 266.2,436.4" stroke-width="0.45" stroke-opacity="0.11"/>
<path d="M93.0,436.4 A58.7,56.3 0 0 1 210.3,436.4" stroke-width="0.35" stroke-opacity="0.07"/>
<path d="M125.8,436.4 A60.1,56.8 0 0 1 246.0,436.4" stroke-width="0.45" stroke-opacity="0.11"/>
<path d="M72.8,436.4 A49.9,53.1 0 0 1 172.5,436.4" stroke-width="0.35" stroke-opacity="0.11"/>
<path d="M220.0,436.4 A2.4,17.8 0 0 1 224.8,436.4" stroke-width="0.35" stroke-opacity="0.09"/>
<path d="M138.1,436.4 A10.2,30.0 0 0 1 158.5,436.4" stroke-width="0.5" stroke-opacity="0.06"/>
<path d="M161.3,436.4 A3.9,21.3 0 0 1 169.2,436.4" stroke-width="0.35" stroke-opacity="0.10"/>
<path d="M45.3,436.4 A21.2,39.1 0 0 1 87.7,436.4" stroke-width="0.6" stroke-opacity="0.08"/>
<path d="M237.8,436.4 A21.2,39.1 0 0 1 280.2,436.4" stroke-width="0.6" stroke-opacity="0.05"/>
<path d="M110.5,436.4 A25.4,41.7 0 0 1 161.3,436.4" stroke-width="0.35" stroke-opacity="0.11"/>
<path d="M142.9,436.4 A26.2,42.2 0 0 1 195.4,436.4" stroke-width="0.45" stroke-opacity="0.09"/>
<path d="M65.4,436.4 A8.1,27.6 0 0 1 81.6,436.4" stroke-width="0.45" stroke-opacity="0.09"/>
<path d="M118.4,436.4 A33.8,46.2 0 0 1 186.0,436.4" stroke-width="0.45" stroke-opacity="0.06"/>
<path d="M115.3,436.4 A36.3,47.4 0 0 1 187.9,436.4" stroke-width="0.6" stroke-opacity="0.06"/>
<path d="M134.6,436.4 A23.4,40.5 0 0 1 181.4,436.4" stroke-width="0.5" stroke-opacity="0.10"/>
<path d="M210.3,436.4 A14.9,34.4 0 0 1 240.2,436.4" stroke-width="0.3" stroke-opacity="0.06"/>
<path d="M161.3,436.4 A33.2,45.9 0 0 1 227.7,436.4" stroke-width="0.4" stroke-opacity="0.07"/>
<path d="M172.5,436.4 A23.8,40.7 0 0 1 220.0,436.4" stroke-width="0.4" stroke-opacity="0.08"/>
<path d="M210.3,436.4 A8.7,28.3 0 0 1 227.7,436.4" stroke-width="0.6" stroke-opacity="0.09"/>
<path d="M169.2,436.4 A10.8,30.6 0 0 1 190.7,436.4" stroke-width="0.3" stroke-opacity="0.08"/>
<path d="M84.7,436.4 A62.8,57.7 0 0 1 210.3,436.4" stroke-width="0.45" stroke-opacity="0.11"/>
<path d="M125.8,436.4 A58.9,56.4 0 0 1 243.6,436.4" stroke-width="0.6" stroke-opacity="0.07"/>
<path d="M207.1,436.4 A34.4,46.5 0 0 1 275.9,436.4" stroke-width="0.6" stroke-opacity="0.07"/>
<path d="M198.2,436.4 A31.6,45.1 0 0 1 261.4,436.4" stroke-width="0.5" stroke-opacity="0.08"/>
<path d="M163.6,436.4 A30.6,44.6 0 0 1 224.8,436.4" stroke-width="0.3" stroke-opacity="0.08"/>
<path d="M243.6,436.4 A19.5,37.9 0 0 1 282.6,436.4" stroke-width="0.5" stroke-opacity="0.09"/>
<path d="M186.0,436.4 A42.1,50.0 0 0 1 270.1,436.4" stroke-width="0.4" stroke-opacity="0.09"/>
<path d="M130.6,436.4 A13.0,32.7 0 0 1 156.5,436.4" stroke-width="0.35" stroke-opacity="0.11"/>
<path d="M55.8,436.4 A52.8,54.2 0 0 1 161.3,436.4" stroke-width="0.35" stroke-opacity="0.10"/>
<path d="M125.8,436.4 A67.8,59.3 0 0 1 261.4,436.4" stroke-width="0.45" stroke-opacity="0.09"/>
<path d="M93.0,436.4 A57.0,55.8 0 0 1 207.1,436.4" stroke-width="0.4" stroke-opacity="0.07"/>
<path d="M118.4,436.4 A20.0,38.3 0 0 1 158.5,436.4" stroke-width="0.35" stroke-opacity="0.06"/>
<path d="M81.6,436.4 A28.2,43.3 0 0 1 138.1,436.4" stroke-width="0.3" stroke-opacity="0.11"/>
<path d="M45.3,436.4 A66.4,58.9 0 0 1 178.1,436.4" stroke-width="0.4" stroke-opacity="0.06"/>
<path d="M172.5,436.4 A23.8,40.7 0 0 1 220.1,436.4" stroke-width="0.45" stroke-opacity="0.06"/>
<path d="M125.8,436.4 A34.8,46.7 0 0 1 195.4,436.4" stroke-width="0.6" stroke-opacity="0.11"/>
<path d="M52.3,436.4 A5.2,23.6 0 0 1 62.8,436.4" stroke-width="0.5" stroke-opacity="0.07"/>
<path d="M243.6,436.4 A14.5,34.0 0 0 1 272.5,436.4" stroke-width="0.5" stroke-opacity="0.11"/>
<path d="M62.8,436.4 A2.9,19.0 0 0 1 68.5,436.4" stroke-width="0.35" stroke-opacity="0.07"/>
<path d="M77.2,436.4 A14.4,34.0 0 0 1 106.1,436.4" stroke-width="0.45" stroke-opacity="0.11"/>
<path d="M178.1,436.4 A48.9,52.8 0 0 1 275.9,436.4" stroke-width="0.45" stroke-opacity="0.10"/>
<path d="M195.4,436.4 A40.2,49.2 0 0 1 275.9,436.4" stroke-width="0.5" stroke-opacity="0.07"/>
<path d="M100.4,436.4 A91.1,66.0 0 0 1 282.6,436.4" stroke-width="0.4" stroke-opacity="0.11"/>
<path d="M100.4,436.4 A40.5,49.3 0 0 1 181.4,436.4" stroke-width="0.5" stroke-opacity="0.07"/>
<path d="M195.4,436.4 A14.7,34.2 0 0 1 224.8,436.4" stroke-width="0.45" stroke-opacity="0.11"/>
<path d="M106.1,436.4 A57.0,55.7 0 0 1 220.0,436.4" stroke-width="0.35" stroke-opacity="0.08"/>
<path d="M240.2,436.4 A9.7,29.4 0 0 1 259.5,436.4" stroke-width="0.6" stroke-opacity="0.11"/>
<path d="M224.8,436.4 A28.9,43.7 0 0 1 282.6,436.4" stroke-width="0.35" stroke-opacity="0.06"/>
<path d="M118.4,436.4 A82.1,63.6 0 0 1 282.6,436.4" stroke-width="0.3" stroke-opacity="0.08"/>
<path d="M187.9,436.4 A5.1,23.5 0 0 1 198.2,436.4" stroke-width="0.35" stroke-opacity="0.05"/>
<path d="M145.5,436.4 A6.5,25.5 0 0 1 158.5,436.4" stroke-width="0.3" stroke-opacity="0.08"/>
<path d="M115.3,436.4 A41.4,49.7 0 0 1 198.2,436.4" stroke-width="0.45" stroke-opacity="0.10"/>
<path d="M161.3,436.4 A10.0,29.9 0 0 1 181.4,436.4" stroke-width="0.6" stroke-opacity="0.11"/>
<path d="M161.3,436.4 A18.4,37.1 0 0 1 198.2,436.4" stroke-width="0.4" stroke-opacity="0.11"/>
<path d="M52.3,436.4 A46.6,51.9 0 0 1 145.5,436.4" stroke-width="0.6" stroke-opacity="0.11"/>
<path d="M100.4,436.4 A30.5,44.5 0 0 1 161.3,436.4" stroke-width="0.4" stroke-opacity="0.09"/>
<path d="M172.5,436.4 A12.8,32.6 0 0 1 198.2,436.4" stroke-width="0.6" stroke-opacity="0.10"/>
<path d="M110.5,436.4 A48.3,52.5 0 0 1 207.1,436.4" stroke-width="0.35" stroke-opacity="0.06"/>
<path d="M118.4,436.4 A38.5,48.4 0 0 1 195.4,436.4" stroke-width="0.35" stroke-opacity="0.07"/>
<path d="M259.5,436.4 A10.3,30.2 0 0 1 280.2,436.4" stroke-width="0.4" stroke-opacity="0.07"/>
<path d="M115.3,436.4 A70.2,60.1 0 0 1 255.6,436.4" stroke-width="0.35" stroke-opacity="0.09"/>
<path d="M122.3,436.4 A25.1,41.5 0 0 1 172.5,436.4" stroke-width="0.3" stroke-opacity="0.08"/>
<path d="M84.7,436.4 A12.9,32.7 0 0 1 110.5,436.4" stroke-width="0.3" stroke-opacity="0.08"/>
<path d="M45.3,436.4 A10.1,29.9 0 0 1 65.4,436.4" stroke-width="0.4" stroke-opacity="0.08"/>
<path d="M72.8,436.4 A13.1,32.9 0 0 1 99.1,436.4" stroke-width="0.4" stroke-opacity="0.09"/>
<path d="M55.8,436.4 A46.4,51.8 0 0 1 148.6,436.4" stroke-width="0.35" stroke-opacity="0.11"/>
<path d="M62.8,436.4 A63.9,58.1 0 0 1 190.7,436.4" stroke-width="0.5" stroke-opacity="0.07"/>
<path d="M77.2,436.4 A16.6,35.8 0 0 1 110.5,436.4" stroke-width="0.45" stroke-opacity="0.10"/>
<path d="M181.4,436.4 A49.4,53.0 0 0 1 280.2,436.4" stroke-width="0.6" stroke-opacity="0.09"/>
<path d="M145.5,436.4 A13.5,33.2 0 0 1 172.5,436.4" stroke-width="0.45" stroke-opacity="0.08"/>
<path d="M190.7,436.4 A39.7,48.9 0 0 1 270.1,436.4" stroke-width="0.5" stroke-opacity="0.08"/>
<path d="M62.8,436.4 A49.3,52.9 0 0 1 161.3,436.4" stroke-width="0.6" stroke-opacity="0.05"/>
<path d="M100.4,436.4 A29.0,43.7 0 0 1 158.5,436.4" stroke-width="0.45" stroke-opacity="0.08"/>
<path d="M110.5,436.4 A26.5,42.3 0 0 1 163.6,436.4" stroke-width="0.5" stroke-opacity="0.09"/>
<path d="M259.5,436.4 A5.3,23.7 0 0 1 270.1,436.4" stroke-width="0.4" stroke-opacity="0.10"/>
<path d="M125.8,436.4 A18.9,37.5 0 0 1 163.6,436.4" stroke-width="0.35" stroke-opacity="0.06"/>
<path d="M187.9,436.4 A18.5,37.1 0 0 1 224.8,436.4" stroke-width="0.35" stroke-opacity="0.09"/>
<path d="M65.4,436.4 A28.4,43.4 0 0 1 122.3,436.4" stroke-width="0.5" stroke-opacity="0.11"/>
<path d="M130.6,436.4 A28.7,43.5 0 0 1 187.9,436.4" stroke-width="0.3" stroke-opacity="0.05"/>
<path d="M275.9,436.4 A3.4,20.1 0 0 1 282.6,436.4" stroke-width="0.3" stroke-opacity="0.11"/>
<path d="M215.0,436.4 A20.3,38.4 0 0 1 255.6,436.4" stroke-width="0.3" stroke-opacity="0.11"/>
<path d="M210.3,436.4 A4.9,23.0 0 0 1 220.1,436.4" stroke-width="0.45" stroke-opacity="0.09"/>
<path d="M72.8,436.4 A68.8,59.6 0 0 1 210.3,436.4" stroke-width="0.5" stroke-opacity="0.11"/>
<path d="M145.5,436.4 A22.6,40.0 0 0 1 190.7,436.4" stroke-width="0.35" stroke-opacity="0.07"/>
<path d="M68.5,436.4 A88.8,65.4 0 0 1 246.0,436.4" stroke-width="0.35" stroke-opacity="0.06"/>
<path d="M81.6,436.4 A28.2,43.3 0 0 1 138.1,436.4" stroke-width="0.4" stroke-opacity="0.08"/>
<path d="M148.6,436.4 A42.0,49.9 0 0 1 232.5,436.4" stroke-width="0.35" stroke-opacity="0.08"/>
<path d="M52.3,436.4 A60.1,56.8 0 0 1 172.5,436.4" stroke-width="0.6" stroke-opacity="0.06"/>
<path d="M240.2,436.4 A5.8,24.5 0 0 1 251.8,436.4" stroke-width="0.6" stroke-opacity="0.11"/>
<path d="M125.8,436.4 A47.1,52.1 0 0 1 220.1,436.4" stroke-width="0.6" stroke-opacity="0.10"/>
<path d="M52.3,436.4 A33.1,45.8 0 0 1 118.4,436.4" stroke-width="0.45" stroke-opacity="0.08"/>
<path d="M195.4,436.4 A16.1,35.4 0 0 1 227.7,436.4" stroke-width="0.5" stroke-opacity="0.06"/>
<path d="M55.8,436.4 A4.8,22.9 0 0 1 65.4,436.4" stroke-width="0.4" stroke-opacity="0.07"/>
<path d="M125.8,436.4 A70.2,60.1 0 0 1 266.2,436.4" stroke-width="0.5" stroke-opacity="0.06"/>
<path d="M81.6,436.4 A38.5,48.4 0 0 1 158.5,436.4" stroke-width="0.5" stroke-opacity="0.09"/>
<path d="M272.5,436.4 A5.1,23.3 0 0 1 282.6,436.4" stroke-width="0.4" stroke-opacity="0.07"/>
<path d="M178.1,436.4 A34.0,46.3 0 0 1 246.0,436.4" stroke-width="0.45" stroke-opacity="0.08"/>
<path d="M81.6,436.4 A52.2,54.0 0 0 1 186.0,436.4" stroke-width="0.35" stroke-opacity="0.08"/>
<path d="M118.4,436.4 A49.5,53.0 0 0 1 217.3,436.4" stroke-width="0.4" stroke-opacity="0.06"/>
<path d="M93.0,436.4 A35.3,46.9 0 0 1 163.6,436.4" stroke-width="0.3" stroke-opacity="0.07"/>
<path d="M72.8,436.4 A16.6,35.8 0 0 1 106.1,436.4" stroke-width="0.6" stroke-opacity="0.07"/>
<path d="M100.4,436.4 A18.8,37.4 0 0 1 138.1,436.4" stroke-width="0.6" stroke-opacity="0.06"/>
<path d="M93.0,436.4 A58.7,56.3 0 0 1 210.3,436.4" stroke-width="0.35" stroke-opacity="0.08"/>
<path d="M195.4,436.4 A37.4,47.9 0 0 1 270.1,436.4" stroke-width="0.3" stroke-opacity="0.11"/>
<path d="M118.4,436.4 A50.8,53.5 0 0 1 220.1,436.4" stroke-width="0.45" stroke-opacity="0.07"/>
<path d="M77.2,436.4 A75.2,61.6 0 0 1 227.7,436.4" stroke-width="0.4" stroke-opacity="0.08"/>
<path d="M163.6,436.4 A18.7,37.3 0 0 1 201.0,436.4" stroke-width="0.4" stroke-opacity="0.08"/>
<path d="M148.6,436.4 A7.5,26.9 0 0 1 163.6,436.4" stroke-width="0.45" stroke-opacity="0.09"/>
<path d="M55.8,436.4 A82.2,63.6 0 0 1 220.1,436.4" stroke-width="0.35" stroke-opacity="0.10"/>
<path d="M68.5,436.4 A103.7,69.2 0 0 1 275.9,436.4" stroke-width="0.3" stroke-opacity="0.07"/>
<path d="M190.7,436.4 A5.2,23.5 0 0 1 201.0,436.4" stroke-width="0.35" stroke-opacity="0.09"/>
<path d="M169.2,436.4 A13.1,32.8 0 0 1 195.4,436.4" stroke-width="0.45" stroke-opacity="0.11"/>
<path d="M134.6,436.4 A31.8,45.2 0 0 1 198.2,436.4" stroke-width="0.35" stroke-opacity="0.08"/>
<path d="M240.2,436.4 A21.2,39.1 0 0 1 282.6,436.4" stroke-width="0.5" stroke-opacity="0.05"/>
<path d="M172.5,436.4 A17.3,36.3 0 0 1 207.1,436.4" stroke-width="0.6" stroke-opacity="0.06"/>
<path d="M138.1,436.4 A51.0,53.6 0 0 1 240.2,436.4" stroke-width="0.35" stroke-opacity="0.06"/>
<path d="M232.5,436.4 A18.8,37.4 0 0 1 270.1,436.4" stroke-width="0.6" stroke-opacity="0.08"/>
<path d="M178.1,436.4 A40.7,49.4 0 0 1 259.5,436.4" stroke-width="0.6" stroke-opacity="0.06"/>
<path d="M115.3,436.4 A40.1,49.1 0 0 1 195.4,436.4" stroke-width="0.5" stroke-opacity="0.10"/>
<path d="M266.2,436.4 A8.2,27.7 0 0 1 282.6,436.4" stroke-width="0.3" stroke-opacity="0.07"/>
<path d="M240.2,436.4 A20.0,38.2 0 0 1 280.2,436.4" stroke-width="0.6" stroke-opacity="0.07"/>
<path d="M224.8,436.4 A22.7,40.0 0 0 1 270.1,436.4" stroke-width="0.4" stroke-opacity="0.06"/>
<path d="M122.3,436.4 A60.6,57.0 0 0 1 243.6,436.4" stroke-width="0.45" stroke-opacity="0.09"/>
<path d="M122.3,436.4 A23.4,40.5 0 0 1 169.2,436.4" stroke-width="0.35" stroke-opacity="0.06"/>
<path d="M181.4,436.4 A37.1,47.8 0 0 1 255.6,436.4" stroke-width="0.3" stroke-opacity="0.08"/>
<path d="M125.8,436.4 A21.7,39.4 0 0 1 169.2,436.4" stroke-width="0.45" stroke-opacity="0.06"/>
<path d="M45.3,436.4 A40.2,49.2 0 0 1 125.8,436.4" stroke-width="0.35" stroke-opacity="0.07"/>
<path d="M45.3,436.4 A36.6,47.5 0 0 1 118.4,436.4" stroke-width="0.45" stroke-opacity="0.06"/>
<path d="M81.6,436.4 A56.9,55.7 0 0 1 195.4,436.4" stroke-width="0.6" stroke-opacity="0.07"/>
<path d="M240.2,436.4 A17.8,36.7 0 0 1 275.9,436.4" stroke-width="0.5" stroke-opacity="0.07"/>
<path d="M178.1,436.4 A34.0,46.3 0 0 1 246.0,436.4" stroke-width="0.35" stroke-opacity="0.08"/>
<path d="M106.1,436.4 A82.0,63.6 0 0 1 270.1,436.4" stroke-width="0.45" stroke-opacity="0.06"/>
<path d="M169.2,436.4 A15.9,35.2 0 0 1 201.0,436.4" stroke-width="0.45" stroke-opacity="0.07"/>
<path d="M87.7,436.4 A83.9,64.1 0 0 1 255.6,436.4" stroke-width="0.4" stroke-opacity="0.08"/>
<path d="M68.5,436.4 A31.0,44.8 0 0 1 130.6,436.4" stroke-width="0.3" stroke-opacity="0.06"/>
<path d="M125.8,436.4 A70.2,60.1 0 0 1 266.2,436.4" stroke-width="0.35" stroke-opacity="0.11"/>
<path d="M275.9,436.4 A3.4,20.1 0 0 1 282.6,436.4" stroke-width="0.45" stroke-opacity="0.08"/>
<path d="M246.0,436.4 A18.3,37.0 0 0 1 282.6,436.4" stroke-width="0.45" stroke-opacity="0.08"/>
<path d="M68.5,436.4 A38.5,48.4 0 0 1 145.5,436.4" stroke-width="0.35" stroke-opacity="0.08"/>
<path d="M84.7,436.4 A7.2,26.5 0 0 1 99.1,436.4" stroke-width="0.45" stroke-opacity="0.05"/>
<path d="M81.6,436.4 A81.0,63.3 0 0 1 243.6,436.4" stroke-width="0.3" stroke-opacity="0.10"/>
<path d="M163.6,436.4 A48.9,52.8 0 0 1 261.4,436.4" stroke-width="0.6" stroke-opacity="0.08"/>
<path d="M96.0,436.4 A49.7,53.1 0 0 1 195.4,436.4" stroke-width="0.45" stroke-opacity="0.07"/>
<path d="M270.1,436.4 A2.9,19.1 0 0 1 275.9,436.4" stroke-width="0.5" stroke-opacity="0.05"/>
<path d="M130.6,436.4 A25.4,41.7 0 0 1 181.4,436.4" stroke-width="0.4" stroke-opacity="0.10"/>
<path d="M220.1,436.4 A6.2,25.1 0 0 1 232.5,436.4" stroke-width="0.6" stroke-opacity="0.07"/>
<path d="M72.8,436.4 A11.6,31.4 0 0 1 96.0,436.4" stroke-width="0.6" stroke-opacity="0.06"/>
<path d="M163.6,436.4 A11.2,31.0 0 0 1 186.0,436.4" stroke-width="0.4" stroke-opacity="0.07"/>
<path d="M62.8,436.4 A18.8,37.4 0 0 1 100.4,436.4" stroke-width="0.4" stroke-opacity="0.11"/>
<path d="M52.3,436.4 A95.7,67.2 0 0 1 243.6,436.4" stroke-width="0.4" stroke-opacity="0.05"/>
<path d="M106.1,436.4 A47.5,52.2 0 0 1 201.0,436.4" stroke-width="0.35" stroke-opacity="0.08"/>
<path d="M145.5,436.4 A43.5,50.6 0 0 1 232.5,436.4" stroke-width="0.4" stroke-opacity="0.10"/>
<path d="M217.3,436.4 A32.7,45.6 0 0 1 282.6,436.4" stroke-width="0.3" stroke-opacity="0.06"/>
<path d="M110.5,436.4 A52.2,54.0 0 0 1 215.0,436.4" stroke-width="0.6" stroke-opacity="0.08"/>
<path d="M100.4,436.4 A43.8,50.7 0 0 1 187.9,436.4" stroke-width="0.45" stroke-opacity="0.10"/>
<path d="M227.7,436.4 A26.2,42.2 0 0 1 280.2,436.4" stroke-width="0.3" stroke-opacity="0.08"/>
<path d="M100.4,436.4 A29.0,43.7 0 0 1 158.5,436.4" stroke-width="0.4" stroke-opacity="0.06"/>
<path d="M190.7,436.4 A8.2,27.7 0 0 1 207.1,436.4" stroke-width="0.6" stroke-opacity="0.09"/>
<path d="M152.1,436.4 A34.0,46.3 0 0 1 220.0,436.4" stroke-width="0.45" stroke-opacity="0.05"/>
<path d="M45.3,436.4 A38.5,48.4 0 0 1 122.3,436.4" stroke-width="0.6" stroke-opacity="0.10"/>
<path d="M115.3,436.4 A7.6,27.1 0 0 1 130.6,436.4" stroke-width="0.5" stroke-opacity="0.06"/>
<path d="M96.0,436.4 A33.8,46.2 0 0 1 163.6,436.4" stroke-width="0.4" stroke-opacity="0.08"/>
<path d="M134.6,436.4 A40.2,49.2 0 0 1 215.0,436.4" stroke-width="0.35" stroke-opacity="0.08"/>
<path d="M259.5,436.4 A11.6,31.4 0 0 1 282.6,436.4" stroke-width="0.45" stroke-opacity="0.10"/>
<path d="M77.2,436.4 A3.8,20.9 0 0 1 84.7,436.4" stroke-width="0.5" stroke-opacity="0.11"/>
<path d="M81.6,436.4 A26.5,42.3 0 0 1 134.6,436.4" stroke-width="0.35" stroke-opacity="0.05"/>
<path d="M62.8,436.4 A76.1,61.9 0 0 1 215.0,436.4" stroke-width="0.35" stroke-opacity="0.10"/>
<path d="M118.4,436.4 A6.1,24.9 0 0 1 130.6,436.4" stroke-width="0.6" stroke-opacity="0.09"/>
<path d="M181.4,436.4 A25.5,41.8 0 0 1 232.5,436.4" stroke-width="0.4" stroke-opacity="0.10"/>
<path d="M161.3,436.4 A33.2,45.9 0 0 1 227.7,436.4" stroke-width="0.6" stroke-opacity="0.11"/>
<path d="M220.1,436.4 A11.8,31.6 0 0 1 243.6,436.4" stroke-width="0.5" stroke-opacity="0.08"/>
<path d="M122.3,436.4 A29.6,44.0 0 0 1 181.4,436.4" stroke-width="0.4" stroke-opacity="0.07"/>
<path d="M48.8,436.4 A16.4,35.6 0 0 1 81.6,436.4" stroke-width="0.6" stroke-opacity="0.09"/>
<path d="M134.6,436.4 A30.4,44.5 0 0 1 195.4,436.4" stroke-width="0.45" stroke-opacity="0.07"/>
<path d="M172.5,436.4 A51.7,53.8 0 0 1 275.9,436.4" stroke-width="0.5" stroke-opacity="0.06"/>
<path d="M96.0,436.4 A59.5,56.6 0 0 1 215.0,436.4" stroke-width="0.45" stroke-opacity="0.06"/>
<path d="M118.4,436.4 A44.3,50.9 0 0 1 207.1,436.4" stroke-width="0.3" stroke-opacity="0.09"/>
<path d="M187.9,436.4 A32.0,45.3 0 0 1 251.8,436.4" stroke-width="0.45" stroke-opacity="0.06"/>
<path d="M251.8,436.4 A12.0,31.9 0 0 1 275.9,436.4" stroke-width="0.3" stroke-opacity="0.07"/>
<path d="M178.1,436.4 A14.5,34.1 0 0 1 207.1,436.4" stroke-width="0.6" stroke-opacity="0.11"/>
<path d="M48.8,436.4 A66.3,58.9 0 0 1 181.4,436.4" stroke-width="0.35" stroke-opacity="0.05"/>
<path d="M122.3,436.4 A51.3,53.7 0 0 1 224.8,436.4" stroke-width="0.4" stroke-opacity="0.07"/>
<path d="M118.4,436.4 A27.0,42.6 0 0 1 172.5,436.4" stroke-width="0.3" stroke-opacity="0.08"/>
<path d="M93.0,436.4 A75.3,61.6 0 0 1 243.6,436.4" stroke-width="0.3" stroke-opacity="0.07"/>
<path d="M52.3,436.4 A81.3,63.4 0 0 1 215.0,436.4" stroke-width="0.35" stroke-opacity="0.08"/>
<path d="M142.9,436.4 A38.6,48.5 0 0 1 220.1,436.4" stroke-width="0.4" stroke-opacity="0.08"/>
<path d="M72.8,436.4 A89.5,65.6 0 0 1 251.8,436.4" stroke-width="0.45" stroke-opacity="0.08"/>
<path d="M115.3,436.4 A70.2,60.1 0 0 1 255.6,436.4" stroke-width="0.3" stroke-opacity="0.11"/>
<path d="M246.0,436.4 A13.2,33.0 0 0 1 272.5,436.4" stroke-width="0.5" stroke-opacity="0.06"/>
<path d="M130.6,436.4 A47.1,52.1 0 0 1 224.8,436.4" stroke-width="0.3" stroke-opacity="0.10"/>
<path d="M87.7,436.4 A30.4,44.5 0 0 1 148.6,436.4" stroke-width="0.6" stroke-opacity="0.08"/>
<path d="M100.4,436.4 A9.0,28.7 0 0 1 118.4,436.4" stroke-width="0.3" stroke-opacity="0.07"/>
<path d="M220.1,436.4 A26.2,42.1 0 0 1 272.5,436.4" stroke-width="0.5" stroke-opacity="0.11"/>
<path d="M96.0,436.4 A45.0,51.2 0 0 1 186.0,436.4" stroke-width="0.5" stroke-opacity="0.06"/>
<path d="M122.3,436.4 A68.6,59.6 0 0 1 259.5,436.4" stroke-width="0.5" stroke-opacity="0.08"/>
<path d="M181.4,436.4 A18.0,36.8 0 0 1 217.3,436.4" stroke-width="0.35" stroke-opacity="0.09"/>
<path d="M68.5,436.4 A61.1,57.2 0 0 1 190.7,436.4" stroke-width="0.5" stroke-opacity="0.08"/>
<path d="M45.3,436.4 A30.4,44.5 0 0 1 106.1,436.4" stroke-width="0.5" stroke-opacity="0.06"/>
<path d="M145.5,436.4 A65.2,58.5 0 0 1 275.9,436.4" stroke-width="0.6" stroke-opacity="0.11"/>
<path d="M207.1,436.4 A34.4,46.5 0 0 1 275.9,436.4" stroke-width="0.6" stroke-opacity="0.07"/>
<path d="M55.8,436.4 A62.8,57.7 0 0 1 181.4,436.4" stroke-width="0.45" stroke-opacity="0.07"/>
<path d="M65.4,436.4 A86.2,64.7 0 0 1 237.8,436.4" stroke-width="0.3" stroke-opacity="0.06"/>
<path d="M115.3,436.4 A11.4,31.2 0 0 1 138.1,436.4" stroke-width="0.5" stroke-opacity="0.11"/>
<path d="M163.6,436.4 A37.1,47.8 0 0 1 237.8,436.4" stroke-width="0.45" stroke-opacity="0.07"/>
<path d="M100.4,436.4 A53.3,54.4 0 0 1 207.1,436.4" stroke-width="0.3" stroke-opacity="0.07"/>
<path d="M72.8,436.4 A32.6,45.6 0 0 1 138.1,436.4" stroke-width="0.5" stroke-opacity="0.07"/>
<path d="M96.0,436.4 A77.9,62.4 0 0 1 251.8,436.4" stroke-width="0.3" stroke-opacity="0.07"/>
<path d="M255.6,436.4 A5.3,23.7 0 0 1 266.2,436.4" stroke-width="0.5" stroke-opacity="0.08"/>
<path d="M48.8,436.4 A88.0,65.2 0 0 1 224.8,436.4" stroke-width="0.3" stroke-opacity="0.05"/>
<path d="M217.3,436.4 A32.7,45.6 0 0 1 282.6,436.4" stroke-width="0.35" stroke-opacity="0.09"/>
<path d="M45.3,436.4 A13.8,33.4 0 0 1 72.8,436.4" stroke-width="0.4" stroke-opacity="0.05"/>
<path d="M93.0,436.4 A38.1,48.2 0 0 1 169.2,436.4" stroke-width="0.45" stroke-opacity="0.09"/>
<path d="M210.3,436.4 A7.2,26.5 0 0 1 224.8,436.4" stroke-width="0.35" stroke-opacity="0.10"/>
<path d="M134.6,436.4 A36.2,47.4 0 0 1 207.1,436.4" stroke-width="0.6" stroke-opacity="0.07"/>
<path d="M178.1,436.4 A27.2,42.7 0 0 1 232.5,436.4" stroke-width="0.4" stroke-opacity="0.09"/>
<path d="M52.3,436.4 A96.8,67.5 0 0 1 246.0,436.4" stroke-width="0.3" stroke-opacity="0.10"/>
<path d="M243.6,436.4 A11.3,31.1 0 0 1 266.2,436.4" stroke-width="0.3" stroke-opacity="0.08"/>
<path d="M125.8,436.4 A50.9,53.5 0 0 1 227.7,436.4" stroke-width="0.6" stroke-opacity="0.08"/>
<path d="M45.3,436.4 A36.6,47.5 0 0 1 118.4,436.4" stroke-width="0.4" stroke-opacity="0.09"/>
<path d="M45.3,436.4 A35.0,46.8 0 0 1 115.3,436.4" stroke-width="0.35" stroke-opacity="0.05"/>
<path d="M125.8,436.4 A37.6,48.0 0 0 1 201.0,436.4" stroke-width="0.3" stroke-opacity="0.06"/>
<path d="M172.5,436.4 A23.8,40.7 0 0 1 220.0,436.4" stroke-width="0.45" stroke-opacity="0.11"/>
<path d="M77.2,436.4 A42.1,50.0 0 0 1 161.3,436.4" stroke-width="0.6" stroke-opacity="0.10"/>
<path d="M84.7,436.4 A35.9,47.2 0 0 1 156.5,436.4" stroke-width="0.4" stroke-opacity="0.06"/>
<path d="M138.1,436.4 A38.5,48.4 0 0 1 215.0,436.4" stroke-width="0.45" stroke-opacity="0.09"/>
<path d="M158.5,436.4 A39.7,48.9 0 0 1 237.8,436.4" stroke-width="0.45" stroke-opacity="0.07"/>
<path d="M130.6,436.4 A67.8,59.3 0 0 1 266.2,436.4" stroke-width="0.45" stroke-opacity="0.07"/>
<path d="M232.5,436.4 A11.5,31.4 0 0 1 255.6,436.4" stroke-width="0.4" stroke-opacity="0.09"/>
<path d="M65.4,436.4 A102.4,68.8 0 0 1 270.1,436.4" stroke-width="0.4" stroke-opacity="0.07"/>
<path d="M100.4,436.4 A72.8,60.9 0 0 1 246.0,436.4" stroke-width="0.3" stroke-opacity="0.08"/>
<path d="M251.8,436.4 A12.0,31.9 0 0 1 275.9,436.4" stroke-width="0.5" stroke-opacity="0.05"/>
<path d="M195.4,436.4 A42.4,50.1 0 0 1 280.2,436.4" stroke-width="0.3" stroke-opacity="0.11"/>
<path d="M138.1,436.4 A39.6,48.9 0 0 1 217.3,436.4" stroke-width="0.4" stroke-opacity="0.08"/>
<path d="M158.5,436.4 A29.4,43.9 0 0 1 217.3,436.4" stroke-width="0.3" stroke-opacity="0.06"/>
<path d="M134.6,436.4 A55.7,55.3 0 0 1 246.0,436.4" stroke-width="0.5" stroke-opacity="0.10"/>
<path d="M158.5,436.4 A28.2,43.3 0 0 1 215.0,436.4" stroke-width="0.4" stroke-opacity="0.09"/>
<path d="M106.1,436.4 A57.0,55.8 0 0 1 220.1,436.4" stroke-width="0.6" stroke-opacity="0.10"/>
<path d="M142.9,436.4 A10.3,30.2 0 0 1 163.6,436.4" stroke-width="0.4" stroke-opacity="0.09"/>
<path d="M178.1,436.4 A46.0,51.6 0 0 1 270.1,436.4" stroke-width="0.4" stroke-opacity="0.08"/>
<path d="M169.2,436.4 A43.2,50.5 0 0 1 255.6,436.4" stroke-width="0.35" stroke-opacity="0.10"/>
<path d="M122.3,436.4 A7.9,27.4 0 0 1 138.1,436.4" stroke-width="0.5" stroke-opacity="0.10"/>
<path d="M138.1,436.4 A43.4,50.5 0 0 1 224.8,436.4" stroke-width="0.4" stroke-opacity="0.09"/>
<path d="M255.6,436.4 A5.3,23.7 0 0 1 266.2,436.4" stroke-width="0.4" stroke-opacity="0.07"/>
<path d="M246.0,436.4 A18.3,37.0 0 0 1 282.6,436.4" stroke-width="0.3" stroke-opacity="0.11"/>
<path d="M99.1,436.4 A8.1,27.6 0 0 1 115.3,436.4" stroke-width="0.5" stroke-opacity="0.11"/>
<path d="M138.1,436.4 A7.0,26.2 0 0 1 152.1,436.4" stroke-width="0.6" stroke-opacity="0.09"/>
<path d="M55.8,436.4 A37.4,47.9 0 0 1 130.6,436.4" stroke-width="0.35" stroke-opacity="0.11"/>
<path d="M84.7,436.4 A7.9,27.3 0 0 1 100.4,436.4" stroke-width="0.35" stroke-opacity="0.05"/>
<path d="M77.2,436.4 A70.1,60.1 0 0 1 217.3,436.4" stroke-width="0.6" stroke-opacity="0.05"/>
<path d="M125.8,436.4 A4.4,22.2 0 0 1 134.6,436.4" stroke-width="0.5" stroke-opacity="0.05"/>
<path d="M186.0,436.4 A42.1,50.0 0 0 1 270.1,436.4" stroke-width="0.5" stroke-opacity="0.11"/>
<path d="M99.1,436.4 A17.8,36.6 0 0 1 134.6,436.4" stroke-width="0.3" stroke-opacity="0.09"/>
<path d="M110.5,436.4 A43.8,50.7 0 0 1 198.2,436.4" stroke-width="0.3" stroke-opacity="0.05"/>
<path d="M45.3,436.4 A5.2,23.6 0 0 1 55.8,436.4" stroke-width="0.5" stroke-opacity="0.10"/>
<path d="M45.3,436.4 A21.2,39.1 0 0 1 87.7,436.4" stroke-width="0.35" stroke-opacity="0.07"/>
<path d="M125.8,436.4 A40.6,49.4 0 0 1 207.1,436.4" stroke-width="0.35" stroke-opacity="0.06"/>
<path d="M207.1,436.4 A8.9,28.5 0 0 1 224.8,436.4" stroke-width="0.4" stroke-opacity="0.08"/>
<path d="M232.5,436.4 A13.5,33.2 0 0 1 259.5,436.4" stroke-width="0.45" stroke-opacity="0.08"/>
<path d="M207.1,436.4 A29.5,44.0 0 0 1 266.2,436.4" stroke-width="0.5" stroke-opacity="0.06"/>
<path d="M45.3,436.4 A3.5,20.4 0 0 1 52.3,436.4" stroke-width="0.4" stroke-opacity="0.10"/>
<path d="M62.8,436.4 A90.4,65.8 0 0 1 243.6,436.4" stroke-width="0.5" stroke-opacity="0.05"/>
<path d="M261.4,436.4 A9.4,29.1 0 0 1 280.2,436.4" stroke-width="0.3" stroke-opacity="0.07"/>
<path d="M125.8,436.4 A49.5,53.0 0 0 1 224.8,436.4" stroke-width="0.3" stroke-opacity="0.11"/>
<path d="M125.8,436.4 A56.0,55.4 0 0 1 237.8,436.4" stroke-width="0.6" stroke-opacity="0.10"/>
<path d="M210.3,436.4 A27.9,43.1 0 0 1 266.2,436.4" stroke-width="0.6" stroke-opacity="0.05"/>
<path d="M48.8,436.4 A9.9,29.6 0 0 1 68.5,436.4" stroke-width="0.45" stroke-opacity="0.11"/>
<path d="M77.2,436.4 A10.9,30.8 0 0 1 99.1,436.4" stroke-width="0.45" stroke-opacity="0.11"/>
<path d="M178.1,436.4 A10.0,29.9 0 0 1 198.2,436.4" stroke-width="0.6" stroke-opacity="0.07"/>
<path d="M45.3,436.4 A10.1,29.9 0 0 1 65.4,436.4" stroke-width="0.6" stroke-opacity="0.10"/>
<path d="M106.1,436.4 A40.9,49.5 0 0 1 187.9,436.4" stroke-width="0.35" stroke-opacity="0.11"/>
<path d="M84.7,436.4 A31.9,45.3 0 0 1 148.6,436.4" stroke-width="0.6" stroke-opacity="0.05"/>
<path d="M163.6,436.4 A15.9,35.2 0 0 1 195.4,436.4" stroke-width="0.5" stroke-opacity="0.08"/>
<path d="M110.5,436.4 A26.5,42.3 0 0 1 163.6,436.4" stroke-width="0.3" stroke-opacity="0.09"/>
<path d="M52.3,436.4 A16.2,35.4 0 0 1 84.7,436.4" stroke-width="0.6" stroke-opacity="0.08"/>
<path d="M138.1,436.4 A34.5,46.5 0 0 1 207.1,436.4" stroke-width="0.3" stroke-opacity="0.07"/>
<path d="M187.9,436.4 A13.5,33.2 0 0 1 215.0,436.4" stroke-width="0.45" stroke-opacity="0.08"/>
<path d="M130.6,436.4 A10.8,30.6 0 0 1 152.1,436.4" stroke-width="0.6" stroke-opacity="0.05"/>
<path d="M251.8,436.4 A10.3,30.2 0 0 1 272.5,436.4" stroke-width="0.6" stroke-opacity="0.10"/>
<path d="M52.3,436.4 A29.1,43.8 0 0 1 110.5,436.4" stroke-width="0.3" stroke-opacity="0.08"/>
<path d="M148.6,436.4 A44.6,51.0 0 0 1 237.8,436.4" stroke-width="0.4" stroke-opacity="0.06"/>
<path d="M224.8,436.4 A10.6,30.4 0 0 1 246.0,436.4" stroke-width="0.35" stroke-opacity="0.10"/>
<path d="M99.1,436.4 A91.8,66.2 0 0 1 282.6,436.4" stroke-width="0.45" stroke-opacity="0.06"/>
<path d="M232.5,436.4 A11.5,31.4 0 0 1 255.6,436.4" stroke-width="0.5" stroke-opacity="0.10"/>
<path d="M138.1,436.4 A26.3,42.2 0 0 1 190.7,436.4" stroke-width="0.4" stroke-opacity="0.10"/>
<path d="M198.2,436.4 A30.7,44.6 0 0 1 259.5,436.4" stroke-width="0.45" stroke-opacity="0.06"/>
<path d="M178.1,436.4 A16.1,35.4 0 0 1 210.3,436.4" stroke-width="0.6" stroke-opacity="0.09"/>
<path d="M215.0,436.4 A25.6,41.8 0 0 1 266.2,436.4" stroke-width="0.45" stroke-opacity="0.10"/>
<path d="M156.5,436.4 A35.6,47.1 0 0 1 227.7,436.4" stroke-width="0.6" stroke-opacity="0.08"/>
<path d="M77.2,436.4 A46.0,51.6 0 0 1 169.2,436.4" stroke-width="0.6" stroke-opacity="0.08"/>
<path d="M72.8,436.4 A6.0,24.7 0 0 1 84.7,436.4" stroke-width="0.35" stroke-opacity="0.11"/>
<path d="M172.5,436.4 A36.8,47.6 0 0 1 246.0,436.4" stroke-width="0.35" stroke-opacity="0.09"/>
<path d="M227.7,436.4 A22.4,39.8 0 0 1 272.5,436.4" stroke-width="0.5" stroke-opacity="0.05"/>
<path d="M84.7,436.4 A73.9,61.2 0 0 1 232.5,436.4" stroke-width="0.35" stroke-opacity="0.07"/>
<path d="M220.0,436.4 A30.1,44.3 0 0 1 280.2,436.4" stroke-width="0.6" stroke-opacity="0.10"/>
<path d="M122.3,436.4 A31.9,45.2 0 0 1 186.0,436.4" stroke-width="0.6" stroke-opacity="0.09"/>
<path d="M186.0,436.4 A17.0,36.1 0 0 1 220.0,436.4" stroke-width="0.35" stroke-opacity="0.05"/>
<path d="M52.3,436.4 A52.1,54.0 0 0 1 156.5,436.4" stroke-width="0.45" stroke-opacity="0.10"/>
<path d="M81.6,436.4 A95.5,67.1 0 0 1 272.5,436.4" stroke-width="0.35" stroke-opacity="0.06"/>
<path d="M118.4,436.4 A29.8,44.2 0 0 1 178.1,436.4" stroke-width="0.4" stroke-opacity="0.11"/>
<path d="M72.8,436.4 A24.8,41.3 0 0 1 122.3,436.4" stroke-width="0.45" stroke-opacity="0.10"/>
<path d="M45.3,436.4 A59.1,56.5 0 0 1 163.6,436.4" stroke-width="0.6" stroke-opacity="0.11"/>
<path d="M237.8,436.4 A7.0,26.2 0 0 1 251.8,436.4" stroke-width="0.3" stroke-opacity="0.05"/>
<path d="M77.2,436.4 A30.4,44.5 0 0 1 138.1,436.4" stroke-width="0.35" stroke-opacity="0.06"/>
<path d="M118.4,436.4 A8.1,27.6 0 0 1 134.6,436.4" stroke-width="0.4" stroke-opacity="0.08"/>
<path d="M55.8,436.4 A46.4,51.8 0 0 1 148.6,436.4" stroke-width="0.6" stroke-opacity="0.10"/>
<path d="M45.3,436.4 A30.4,44.5 0 0 1 106.1,436.4" stroke-width="0.4" stroke-opacity="0.08"/>
<path d="M186.0,436.4 A2.3,17.7 0 0 1 190.7,436.4" stroke-width="0.4" stroke-opacity="0.05"/>
<path d="M169.2,436.4 A38.4,48.4 0 0 1 246.0,436.4" stroke-width="0.5" stroke-opacity="0.05"/>
<path d="M261.4,436.4 A10.6,30.4 0 0 1 282.6,436.4" stroke-width="0.4" stroke-opacity="0.07"/>
<path d="M68.5,436.4 A70.9,60.3 0 0 1 210.3,436.4" stroke-width="0.4" stroke-opacity="0.08"/>
<path d="M246.0,436.4 A18.3,37.0 0 0 1 282.6,436.4" stroke-width="0.35" stroke-opacity="0.10"/>
<path d="M87.7,436.4 A15.4,34.8 0 0 1 118.4,436.4" stroke-width="0.45" stroke-opacity="0.09"/>
<path d="M270.1,436.4 A5.0,23.3 0 0 1 280.2,436.4" stroke-width="0.45" stroke-opacity="0.11"/>
<path d="M45.3,436.4 A23.9,40.7 0 0 1 93.0,436.4" stroke-width="0.35" stroke-opacity="0.08"/>
<path d="M106.1,436.4 A31.5,45.1 0 0 1 169.2,436.4" stroke-width="0.45" stroke-opacity="0.05"/>
<path d="M106.1,436.4 A40.9,49.5 0 0 1 187.9,436.4" stroke-width="0.3" stroke-opacity="0.08"/>
<path d="M45.3,436.4 A61.9,57.5 0 0 1 169.2,436.4" stroke-width="0.5" stroke-opacity="0.08"/>
<path d="M99.1,436.4 A11.6,31.4 0 0 1 122.3,436.4" stroke-width="0.6" stroke-opacity="0.06"/>
<path d="M232.5,436.4 A13.5,33.2 0 0 1 259.5,436.4" stroke-width="0.5" stroke-opacity="0.08"/>
<path d="M52.3,436.4 A33.1,45.8 0 0 1 118.4,436.4" stroke-width="0.5" stroke-opacity="0.05"/>
<path d="M232.5,436.4 A14.4,34.0 0 0 1 261.4,436.4" stroke-width="0.4" stroke-opacity="0.11"/>
<path d="M45.3,436.4 A36.6,47.5 0 0 1 118.4,436.4" stroke-width="0.6" stroke-opacity="0.08"/>
<path d="M84.7,436.4 A33.7,46.1 0 0 1 152.1,436.4" stroke-width="0.45" stroke-opacity="0.06"/>
<path d="M100.4,436.4 A71.6,60.5 0 0 1 243.6,436.4" stroke-width="0.4" stroke-opacity="0.06"/>
<path d="M52.3,436.4 A111.8,71.1 0 0 1 275.9,436.4" stroke-width="0.5" stroke-opacity="0.10"/>
<path d="M187.9,436.4 A16.0,35.3 0 0 1 220.0,436.4" stroke-width="0.5" stroke-opacity="0.08"/>
<path d="M227.7,436.4 A26.2,42.2 0 0 1 280.2,436.4" stroke-width="0.45" stroke-opacity="0.10"/>
<path d="M84.7,436.4 A22.9,40.2 0 0 1 130.6,436.4" stroke-width="0.6" stroke-opacity="0.07"/>
<path d="M87.7,436.4 A61.3,57.2 0 0 1 210.3,436.4" stroke-width="0.45" stroke-opacity="0.05"/>
<path d="M215.0,436.4 A33.8,46.2 0 0 1 282.6,436.4" stroke-width="0.4" stroke-opacity="0.05"/>
<path d="M227.7,436.4 A12.1,31.9 0 0 1 251.8,436.4" stroke-width="0.4" stroke-opacity="0.11"/>
<path d="M84.7,436.4 A38.3,48.3 0 0 1 161.3,436.4" stroke-width="0.6" stroke-opacity="0.07"/>
<path d="M210.3,436.4 A4.9,23.0 0 0 1 220.1,436.4" stroke-width="0.4" stroke-opacity="0.06"/>
<path d="M138.1,436.4 A68.9,59.7 0 0 1 275.9,436.4" stroke-width="0.35" stroke-opacity="0.10"/>
<path d="M156.5,436.4 A22.2,39.7 0 0 1 201.0,436.4" stroke-width="0.4" stroke-opacity="0.10"/>
<path d="M210.3,436.4 A31.1,44.8 0 0 1 272.5,436.4" stroke-width="0.4" stroke-opacity="0.11"/>
<path d="M237.8,436.4 A22.4,39.8 0 0 1 282.6,436.4" stroke-width="0.5" stroke-opacity="0.08"/>
<path d="M52.3,436.4 A29.1,43.8 0 0 1 110.5,436.4" stroke-width="0.4" stroke-opacity="0.08"/>
<path d="M45.3,436.4 A11.6,31.4 0 0 1 68.5,436.4" stroke-width="0.35" stroke-opacity="0.07"/>
<path d="M118.4,436.4 A27.0,42.6 0 0 1 172.5,436.4" stroke-width="0.45" stroke-opacity="0.09"/>
<path d="M134.6,436.4 A30.4,44.5 0 0 1 195.4,436.4" stroke-width="0.5" stroke-opacity="0.06"/>
<path d="M84.7,436.4 A30.4,44.5 0 0 1 145.5,436.4" stroke-width="0.3" stroke-opacity="0.10"/>
<path d="M52.3,436.4 A55.6,55.3 0 0 1 163.6,436.4" stroke-width="0.6" stroke-opacity="0.09"/>
<path d="M181.4,436.4 A32.3,45.4 0 0 1 246.0,436.4" stroke-width="0.4" stroke-opacity="0.10"/>
<path d="M220.0,436.4 A13.0,32.7 0 0 1 246.0,436.4" stroke-width="0.3" stroke-opacity="0.08"/>
<path d="M178.1,436.4 A51.0,53.6 0 0 1 280.2,436.4" stroke-width="0.35" stroke-opacity="0.08"/>
<path d="M134.6,436.4 A31.8,45.2 0 0 1 198.2,436.4" stroke-width="0.4" stroke-opacity="0.10"/>
<path d="M100.4,436.4 A22.5,39.9 0 0 1 145.5,436.4" stroke-width="0.5" stroke-opacity="0.09"/>
<path d="M142.9,436.4 A13.1,32.9 0 0 1 169.2,436.4" stroke-width="0.4" stroke-opacity="0.10"/>
<path d="M201.0,436.4 A25.4,41.7 0 0 1 251.8,436.4" stroke-width="0.6" stroke-opacity="0.05"/>
<path d="M45.3,436.4 A18.1,36.9 0 0 1 81.6,436.4" stroke-width="0.45" stroke-opacity="0.09"/>
<path d="M81.6,436.4 A78.1,62.4 0 0 1 237.8,436.4" stroke-width="0.45" stroke-opacity="0.05"/>
<path d="M81.6,436.4 A32.0,45.3 0 0 1 145.5,436.4" stroke-width="0.4" stroke-opacity="0.05"/>
<path d="M178.1,436.4 A36.9,47.7 0 0 1 251.8,436.4" stroke-width="0.4" stroke-opacity="0.06"/>
<path d="M45.3,436.4 A108.0,70.2 0 0 1 261.4,436.4" stroke-width="0.4" stroke-opacity="0.06"/>
<path d="M45.3,436.4 A3.5,20.4 0 0 1 52.3,436.4" stroke-width="0.3" stroke-opacity="0.06"/>
<path d="M96.0,436.4 A62.0,57.5 0 0 1 220.0,436.4" stroke-width="0.35" stroke-opacity="0.07"/>
<path d="M110.5,436.4 A19.0,37.6 0 0 1 148.6,436.4" stroke-width="0.4" stroke-opacity="0.08"/>
<path d="M251.8,436.4 A15.4,34.8 0 0 1 282.6,436.4" stroke-width="0.6" stroke-opacity="0.10"/>
<path d="M178.1,436.4 A4.9,23.0 0 0 1 187.9,436.4" stroke-width="0.4" stroke-opacity="0.10"/>
<path d="M190.7,436.4 A17.1,36.1 0 0 1 224.8,436.4" stroke-width="0.45" stroke-opacity="0.05"/>
<path d="M255.6,436.4 A12.3,32.1 0 0 1 280.2,436.4" stroke-width="0.6" stroke-opacity="0.11"/>
<path d="M152.1,436.4 A27.5,42.9 0 0 1 207.1,436.4" stroke-width="0.5" stroke-opacity="0.08"/>
<path d="M62.8,436.4 A59.3,56.6 0 0 1 181.4,436.4" stroke-width="0.3" stroke-opacity="0.08"/>
<path d="M48.8,436.4 A33.2,45.9 0 0 1 115.3,436.4" stroke-width="0.45" stroke-opacity="0.09"/>
<path d="M115.3,436.4 A21.6,39.3 0 0 1 158.5,436.4" stroke-width="0.45" stroke-opacity="0.09"/>
<path d="M45.3,436.4 A13.8,33.4 0 0 1 72.8,436.4" stroke-width="0.35" stroke-opacity="0.11"/>
<path d="M152.1,436.4 A29.1,43.8 0 0 1 210.3,436.4" stroke-width="0.35" stroke-opacity="0.10"/>
<path d="M145.5,436.4 A30.8,44.7 0 0 1 207.1,436.4" stroke-width="0.5" stroke-opacity="0.08"/>
<path d="M77.2,436.4 A35.7,47.1 0 0 1 148.6,436.4" stroke-width="0.3" stroke-opacity="0.07"/>
<path d="M125.8,436.4 A17.8,36.6 0 0 1 161.3,436.4" stroke-width="0.6" stroke-opacity="0.06"/>
<path d="M201.0,436.4 A9.5,29.3 0 0 1 220.0,436.4" stroke-width="0.6" stroke-opacity="0.06"/>
<path d="M45.3,436.4 A35.0,46.8 0 0 1 115.3,436.4" stroke-width="0.3" stroke-opacity="0.10"/>
<path d="M186.0,436.4 A25.9,42.0 0 0 1 237.8,436.4" stroke-width="0.6" stroke-opacity="0.06"/>
<path d="M148.6,436.4 A67.0,59.1 0 0 1 282.6,436.4" stroke-width="0.3" stroke-opacity="0.06"/>
<path d="M48.8,436.4 A19.5,37.9 0 0 1 87.7,436.4" stroke-width="0.6" stroke-opacity="0.09"/>
<path d="M198.2,436.4 A19.8,38.1 0 0 1 237.8,436.4" stroke-width="0.3" stroke-opacity="0.07"/>
<path d="M118.4,436.4 A59.7,56.7 0 0 1 237.8,436.4" stroke-width="0.3" stroke-opacity="0.06"/>
<path d="M220.1,436.4 A2.4,17.7 0 0 1 224.8,436.4" stroke-width="0.45" stroke-opacity="0.06"/>
<path d="M148.6,436.4 A47.5,52.2 0 0 1 243.6,436.4" stroke-width="0.45" stroke-opacity="0.09"/>
<path d="M246.0,436.4 A6.8,25.9 0 0 1 259.5,436.4" stroke-width="0.3" stroke-opacity="0.06"/>
<path d="M237.8,436.4 A22.4,39.8 0 0 1 282.6,436.4" stroke-width="0.6" stroke-opacity="0.06"/>
<path d="M201.0,436.4 A9.5,29.3 0 0 1 220.1,436.4" stroke-width="0.35" stroke-opacity="0.09"/>
<path d="M55.8,436.4 A101.8,68.7 0 0 1 259.5,436.4" stroke-width="0.45" stroke-opacity="0.06"/>
<path d="M65.4,436.4 A30.2,44.4 0 0 1 125.8,436.4" stroke-width="0.5" stroke-opacity="0.11"/>
<path d="M45.3,436.4 A8.8,28.4 0 0 1 62.8,436.4" stroke-width="0.3" stroke-opacity="0.08"/>
<path d="M84.7,436.4 A20.5,38.6 0 0 1 125.8,436.4" stroke-width="0.45" stroke-opacity="0.08"/>
<path d="M156.5,436.4 A17.1,36.1 0 0 1 190.7,436.4" stroke-width="0.5" stroke-opacity="0.05"/>
<path d="M48.8,436.4 A79.2,62.7 0 0 1 207.1,436.4" stroke-width="0.5" stroke-opacity="0.10"/>
<path d="M122.3,436.4 A42.4,50.1 0 0 1 207.1,436.4" stroke-width="0.3" stroke-opacity="0.11"/>
<path d="M65.4,436.4 A13.8,33.5 0 0 1 93.0,436.4" stroke-width="0.3" stroke-opacity="0.09"/>
<path d="M148.6,436.4 A45.8,51.5 0 0 1 240.2,436.4" stroke-width="0.4" stroke-opacity="0.10"/>
<path d="M172.5,436.4 A23.8,40.7 0 0 1 220.1,436.4" stroke-width="0.45" stroke-opacity="0.09"/>
<path d="M130.6,436.4 A16.5,35.7 0 0 1 163.6,436.4" stroke-width="0.5" stroke-opacity="0.05"/>
<path d="M72.8,436.4 A13.8,33.5 0 0 1 100.4,436.4" stroke-width="0.4" stroke-opacity="0.06"/>
<path d="M207.1,436.4 A15.4,34.8 0 0 1 237.8,436.4" stroke-width="0.4" stroke-opacity="0.08"/>
<path d="M152.1,436.4 A34.0,46.3 0 0 1 220.1,436.4" stroke-width="0.3" stroke-opacity="0.05"/>
<path d="M45.3,436.4 A80.9,63.2 0 0 1 207.1,436.4" stroke-width="0.45" stroke-opacity="0.11"/>
<path d="M55.8,436.4 A12.9,32.7 0 0 1 81.6,436.4" stroke-width="0.35" stroke-opacity="0.10"/>
<path d="M145.5,436.4 A22.6,40.0 0 0 1 190.7,436.4" stroke-width="0.6" stroke-opacity="0.07"/>
<path d="M198.2,436.4 A26.8,42.5 0 0 1 251.8,436.4" stroke-width="0.5" stroke-opacity="0.06"/>
<path d="M122.3,436.4 A19.5,37.9 0 0 1 161.3,436.4" stroke-width="0.35" stroke-opacity="0.09"/>
<path d="M275.9,436.4 A3.4,20.1 0 0 1 282.6,436.4" stroke-width="0.5" stroke-opacity="0.09"/>
<path d="M198.2,436.4 A9.6,29.3 0 0 1 217.3,436.4" stroke-width="0.6" stroke-opacity="0.10"/>
<path d="M187.9,436.4 A41.1,49.6 0 0 1 270.1,436.4" stroke-width="0.4" stroke-opacity="0.11"/>
<path d="M55.8,436.4 A8.5,28.1 0 0 1 72.8,436.4" stroke-width="0.3" stroke-opacity="0.05"/>
<path d="M138.1,436.4 A9.2,28.9 0 0 1 156.5,436.4" stroke-width="0.5" stroke-opacity="0.09"/>
<path d="M215.0,436.4 A33.8,46.2 0 0 1 282.6,436.4" stroke-width="0.5" stroke-opacity="0.09"/>
<path d="M68.5,436.4 A95.5,67.1 0 0 1 259.5,436.4" stroke-width="0.4" stroke-opacity="0.07"/>
<path d="M99.1,436.4 A39.5,48.9 0 0 1 178.1,436.4" stroke-width="0.3" stroke-opacity="0.08"/>
<path d="M163.6,436.4 A51.3,53.7 0 0 1 266.2,436.4" stroke-width="0.5" stroke-opacity="0.06"/>
<path d="M72.8,436.4 A48.2,52.5 0 0 1 169.2,436.4" stroke-width="0.4" stroke-opacity="0.09"/>
<path d="M96.0,436.4 A36.6,47.5 0 0 1 169.2,436.4" stroke-width="0.45" stroke-opacity="0.11"/>
<path d="M240.2,436.4 A13.0,32.7 0 0 1 266.2,436.4" stroke-width="0.4" stroke-opacity="0.05"/>
<path d="M65.4,436.4 A26.5,42.3 0 0 1 118.4,436.4" stroke-width="0.5" stroke-opacity="0.05"/>
<path d="M134.6,436.4 A8.8,28.4 0 0 1 152.1,436.4" stroke-width="0.35" stroke-opacity="0.10"/>
<path d="M110.5,436.4 A40.1,49.1 0 0 1 190.7,436.4" stroke-width="0.35" stroke-opacity="0.09"/>
<path d="M45.3,436.4 A48.8,52.7 0 0 1 142.9,436.4" stroke-width="0.35" stroke-opacity="0.06"/>
<path d="M81.6,436.4 A16.9,36.0 0 0 1 115.3,436.4" stroke-width="0.35" stroke-opacity="0.06"/>
<path d="M148.6,436.4 A5.0,23.1 0 0 1 158.5,436.4" stroke-width="0.3" stroke-opacity="0.07"/>
<path d="M68.5,436.4 A69.3,59.8 0 0 1 207.1,436.4" stroke-width="0.45" stroke-opacity="0.10"/>
<path d="M62.8,436.4 A21.6,39.3 0 0 1 106.1,436.4" stroke-width="0.4" stroke-opacity="0.08"/>
<path d="M65.4,436.4 A89.1,65.5 0 0 1 243.6,436.4" stroke-width="0.35" stroke-opacity="0.08"/>
<path d="M186.0,436.4 A4.7,22.7 0 0 1 195.4,436.4" stroke-width="0.35" stroke-opacity="0.10"/>
<path d="M84.7,436.4 A99.0,68.0 0 0 1 282.6,436.4" stroke-width="0.45" stroke-opacity="0.09"/>
<path d="M72.8,436.4 A64.1,58.2 0 0 1 201.0,436.4" stroke-width="0.3" stroke-opacity="0.10"/>
<path d="M125.8,436.4 A66.8,59.0 0 0 1 259.5,436.4" stroke-width="0.5" stroke-opacity="0.11"/>
<path d="M178.1,436.4 A40.7,49.4 0 0 1 259.5,436.4" stroke-width="0.5" stroke-opacity="0.10"/>
<path d="M210.3,436.4 A25.5,41.8 0 0 1 261.4,436.4" stroke-width="0.6" stroke-opacity="0.11"/>
<path d="M224.8,436.4 A13.5,33.2 0 0 1 251.8,436.4" stroke-width="0.35" stroke-opacity="0.10"/>
<path d="M77.2,436.4 A7.9,27.4 0 0 1 93.0,436.4" stroke-width="0.35" stroke-opacity="0.11"/>
<path d="M261.4,436.4 A10.6,30.4 0 0 1 282.6,436.4" stroke-width="0.6" stroke-opacity="0.11"/>
<path d="M275.9,436.4 A3.4,20.1 0 0 1 282.6,436.4" stroke-width="0.4" stroke-opacity="0.08"/>
<path d="M134.6,436.4 A17.3,36.3 0 0 1 169.2,436.4" stroke-width="0.45" stroke-opacity="0.09"/>
<path d="M45.3,436.4 A10.1,29.9 0 0 1 65.4,436.4" stroke-width="0.35" stroke-opacity="0.11"/>
<path d="M186.0,436.4 A20.8,38.8 0 0 1 227.7,436.4" stroke-width="0.6" stroke-opacity="0.06"/>
<path d="M87.7,436.4 A91.2,66.0 0 0 1 270.1,436.4" stroke-width="0.45" stroke-opacity="0.06"/>
<path d="M81.6,436.4 A67.9,59.4 0 0 1 217.3,436.4" stroke-width="0.35" stroke-opacity="0.10"/>
<path d="M99.1,436.4 A5.7,24.3 0 0 1 110.5,436.4" stroke-width="0.6" stroke-opacity="0.08"/>
<path d="M158.5,436.4 A21.2,39.1 0 0 1 201.0,436.4" stroke-width="0.3" stroke-opacity="0.10"/>
<path d="M48.8,436.4 A105.3,69.6 0 0 1 259.5,436.4" stroke-width="0.5" stroke-opacity="0.08"/>
<path d="M62.8,436.4 A67.7,59.3 0 0 1 198.2,436.4" stroke-width="0.45" stroke-opacity="0.07"/>
<path d="M125.8,436.4 A47.1,52.1 0 0 1 220.1,436.4" stroke-width="0.6" stroke-opacity="0.08"/>
<path d="M122.3,436.4 A44.0,50.8 0 0 1 210.3,436.4" stroke-width="0.3" stroke-opacity="0.06"/>
<path d="M96.0,436.4 A30.2,44.4 0 0 1 156.5,436.4" stroke-width="0.4" stroke-opacity="0.11"/>
<path d="M62.8,436.4 A62.6,57.7 0 0 1 187.9,436.4" stroke-width="0.4" stroke-opacity="0.09"/>
<path d="M138.1,436.4 A68.9,59.7 0 0 1 275.9,436.4" stroke-width="0.6" stroke-opacity="0.09"/>
<path d="M93.0,436.4 A8.8,28.4 0 0 1 110.5,436.4" stroke-width="0.6" stroke-opacity="0.05"/>
<path d="M93.0,436.4 A22.5,39.9 0 0 1 138.1,436.4" stroke-width="0.5" stroke-opacity="0.08"/>
<path d="M106.1,436.4 A50.5,53.4 0 0 1 207.1,436.4" stroke-width="0.45" stroke-opacity="0.05"/>
<path d="M93.0,436.4 A67.3,59.2 0 0 1 227.7,436.4" stroke-width="0.35" stroke-opacity="0.05"/>
<path d="M148.6,436.4 A10.3,30.1 0 0 1 169.2,436.4" stroke-width="0.5" stroke-opacity="0.09"/>
<path d="M45.3,436.4 A26.9,42.5 0 0 1 99.1,436.4" stroke-width="0.3" stroke-opacity="0.08"/>
<path d="M84.7,436.4 A38.3,48.3 0 0 1 161.3,436.4" stroke-width="0.45" stroke-opacity="0.09"/>
<path d="M220.0,436.4 A31.3,44.9 0 0 1 282.6,436.4" stroke-width="0.35" stroke-opacity="0.09"/>
<path d="M142.9,436.4 A38.6,48.5 0 0 1 220.1,436.4" stroke-width="0.3" stroke-opacity="0.11"/>
<path d="M122.3,436.4 A48.9,52.7 0 0 1 220.0,436.4" stroke-width="0.3" stroke-opacity="0.06"/>
<path d="M100.4,436.4 A57.3,55.9 0 0 1 215.0,436.4" stroke-width="0.3" stroke-opacity="0.08"/>
<path d="M187.9,436.4 A18.5,37.1 0 0 1 224.8,436.4" stroke-width="0.6" stroke-opacity="0.10"/>
<path d="M130.6,436.4 A27.7,43.0 0 0 1 186.0,436.4" stroke-width="0.3" stroke-opacity="0.08"/>
<path d="M99.1,436.4 A76.4,61.9 0 0 1 251.8,436.4" stroke-width="0.3" stroke-opacity="0.05"/>
<path d="M237.8,436.4 A7.0,26.2 0 0 1 251.8,436.4" stroke-width="0.6" stroke-opacity="0.10"/>
<path d="M190.7,436.4 A18.5,37.2 0 0 1 227.7,436.4" stroke-width="0.45" stroke-opacity="0.10"/>
<path d="M148.6,436.4 A53.5,54.5 0 0 1 255.6,436.4" stroke-width="0.3" stroke-opacity="0.06"/>
<path d="M198.2,436.4 A14.8,34.3 0 0 1 227.7,436.4" stroke-width="0.3" stroke-opacity="0.10"/>
<path d="M65.4,436.4 A60.3,56.9 0 0 1 186.0,436.4" stroke-width="0.4" stroke-opacity="0.05"/>
<path d="M96.0,436.4 A33.8,46.2 0 0 1 163.6,436.4" stroke-width="0.3" stroke-opacity="0.11"/>
<path d="M210.3,436.4 A11.1,30.9 0 0 1 232.5,436.4" stroke-width="0.35" stroke-opacity="0.06"/>
<path d="M186.0,436.4 A12.2,32.0 0 0 1 210.3,436.4" stroke-width="0.45" stroke-opacity="0.10"/>
<path d="M156.5,436.4 A41.8,49.9 0 0 1 240.2,436.4" stroke-width="0.45" stroke-opacity="0.07"/>
<path d="M45.3,436.4 A19.7,38.0 0 0 1 84.7,436.4" stroke-width="0.5" stroke-opacity="0.07"/>
<path d="M220.1,436.4 A17.8,36.6 0 0 1 255.6,436.4" stroke-width="0.4" stroke-opacity="0.08"/>
<path d="M272.5,436.4 A5.1,23.3 0 0 1 282.6,436.4" stroke-width="0.4" stroke-opacity="0.09"/>
<path d="M220.0,436.4 A3.8,21.1 0 0 1 227.7,436.4" stroke-width="0.4" stroke-opacity="0.06"/>
<path d="M55.8,436.4 A101.8,68.7 0 0 1 259.5,436.4" stroke-width="0.5" stroke-opacity="0.05"/>
<path d="M45.3,436.4 A5.2,23.6 0 0 1 55.8,436.4" stroke-width="0.3" stroke-opacity="0.07"/>
<path d="M77.2,436.4 A24.3,41.0 0 0 1 125.8,436.4" stroke-width="0.6" stroke-opacity="0.11"/>
<path d="M130.6,436.4 A27.7,43.0 0 0 1 186.0,436.4" stroke-width="0.5" stroke-opacity="0.11"/>
<path d="M45.3,436.4 A38.5,48.4 0 0 1 122.3,436.4" stroke-width="0.4" stroke-opacity="0.06"/>
<path d="M115.3,436.4 A58.6,56.3 0 0 1 232.5,436.4" stroke-width="0.4" stroke-opacity="0.10"/>
<path d="M100.4,436.4 A40.5,49.3 0 0 1 181.4,436.4" stroke-width="0.4" stroke-opacity="0.11"/>
<path d="M190.7,436.4 A42.6,50.2 0 0 1 275.9,436.4" stroke-width="0.3" stroke-opacity="0.09"/>
<path d="M62.8,436.4 A11.0,30.8 0 0 1 84.7,436.4" stroke-width="0.35" stroke-opacity="0.07"/>
<path d="M106.1,436.4 A60.8,57.1 0 0 1 227.7,436.4" stroke-width="0.3" stroke-opacity="0.10"/>
<path d="M122.3,436.4 A23.4,40.5 0 0 1 169.2,436.4" stroke-width="0.5" stroke-opacity="0.06"/>
<path d="M207.1,436.4 A15.4,34.8 0 0 1 237.8,436.4" stroke-width="0.45" stroke-opacity="0.08"/>
<path d="M125.8,436.4 A34.8,46.7 0 0 1 195.4,436.4" stroke-width="0.6" stroke-opacity="0.11"/>
<path d="M255.6,436.4 A13.5,33.2 0 0 1 282.6,436.4" stroke-width="0.4" stroke-opacity="0.09"/>
<path d="M181.4,436.4 A7.0,26.2 0 0 1 195.4,436.4" stroke-width="0.35" stroke-opacity="0.05"/>
<path d="M65.4,436.4 A89.1,65.5 0 0 1 243.6,436.4" stroke-width="0.3" stroke-opacity="0.06"/>
<path d="M87.7,436.4 A37.9,48.2 0 0 1 163.6,436.4" stroke-width="0.45" stroke-opacity="0.11"/>
<path d="M122.3,436.4 A48.9,52.7 0 0 1 220.0,436.4" stroke-width="0.5" stroke-opacity="0.10"/>
<path d="M178.1,436.4 A11.5,31.3 0 0 1 201.0,436.4" stroke-width="0.6" stroke-opacity="0.11"/>
<path d="M62.8,436.4 A106.5,69.8 0 0 1 275.9,436.4" stroke-width="0.4" stroke-opacity="0.08"/>
<path d="M45.3,436.4 A19.7,38.0 0 0 1 84.7,436.4" stroke-width="0.45" stroke-opacity="0.05"/>
<path d="M45.3,436.4 A27.6,42.9 0 0 1 100.4,436.4" stroke-width="0.45" stroke-opacity="0.09"/>
<path d="M190.7,436.4 A40.9,49.5 0 0 1 272.5,436.4" stroke-width="0.35" stroke-opacity="0.08"/>
<path d="M106.1,436.4 A42.3,50.1 0 0 1 190.7,436.4" stroke-width="0.35" stroke-opacity="0.06"/>
<path d="M125.8,436.4 A78.4,62.5 0 0 1 282.6,436.4" stroke-width="0.3" stroke-opacity="0.09"/>
<path d="M145.5,436.4 A25.0,41.4 0 0 1 195.4,436.4" stroke-width="0.4" stroke-opacity="0.05"/>
<path d="M84.7,436.4 A65.2,58.5 0 0 1 215.0,436.4" stroke-width="0.3" stroke-opacity="0.10"/>
<path d="M68.5,436.4 A61.1,57.2 0 0 1 190.7,436.4" stroke-width="0.3" stroke-opacity="0.11"/>
<path d="M81.6,436.4 A30.7,44.6 0 0 1 142.9,436.4" stroke-width="0.4" stroke-opacity="0.09"/>
<path d="M161.3,436.4 A35.6,47.1 0 0 1 232.5,436.4" stroke-width="0.5" stroke-opacity="0.11"/>
<path d="M190.7,436.4 A24.8,41.3 0 0 1 240.2,436.4" stroke-width="0.5" stroke-opacity="0.07"/>
<path d="M72.8,436.4 A71.1,60.4 0 0 1 215.0,436.4" stroke-width="0.45" stroke-opacity="0.07"/>
<path d="M81.6,436.4 A7.2,26.5 0 0 1 96.0,436.4" stroke-width="0.6" stroke-opacity="0.07"/>
<path d="M93.0,436.4 A12.7,32.5 0 0 1 118.4,436.4" stroke-width="0.45" stroke-opacity="0.07"/>
<path d="M65.4,436.4 A72.5,60.8 0 0 1 210.3,436.4" stroke-width="0.6" stroke-opacity="0.06"/>
<path d="M186.0,436.4 A20.8,38.8 0 0 1 227.7,436.4" stroke-width="0.6" stroke-opacity="0.07"/>
<path d="M169.2,436.4 A31.7,45.1 0 0 1 232.5,436.4" stroke-width="0.4" stroke-opacity="0.05"/>
<path d="M178.1,436.4 A18.5,37.1 0 0 1 215.0,436.4" stroke-width="0.6" stroke-opacity="0.11"/>
<path d="M125.8,436.4 A34.8,46.7 0 0 1 195.4,436.4" stroke-width="0.3" stroke-opacity="0.07"/>
<path d="M96.0,436.4 A82.7,63.7 0 0 1 261.4,436.4" stroke-width="0.5" stroke-opacity="0.10"/>
<path d="M106.1,436.4 A16.0,35.3 0 0 1 138.1,436.4" stroke-width="0.5" stroke-opacity="0.08"/>
<path d="M198.2,436.4 A19.8,38.1 0 0 1 237.8,436.4" stroke-width="0.4" stroke-opacity="0.05"/>
<path d="M110.5,436.4 A63.7,58.0 0 0 1 237.8,436.4" stroke-width="0.6" stroke-opacity="0.09"/>
<path d="M163.6,436.4 A23.4,40.4 0 0 1 210.3,436.4" stroke-width="0.45" stroke-opacity="0.07"/>
<path d="M243.6,436.4 A13.3,33.0 0 0 1 270.1,436.4" stroke-width="0.4" stroke-opacity="0.05"/>
<path d="M55.8,436.4 A14.5,34.0 0 0 1 84.7,436.4" stroke-width="0.6" stroke-opacity="0.08"/>
<path d="M45.3,436.4 A38.5,48.4 0 0 1 122.3,436.4" stroke-width="0.45" stroke-opacity="0.05"/>
<path d="M65.4,436.4 A51.9,53.9 0 0 1 169.2,436.4" stroke-width="0.3" stroke-opacity="0.11"/>
<path d="M115.3,436.4 A45.9,51.6 0 0 1 207.1,436.4" stroke-width="0.6" stroke-opacity="0.07"/>
<path d="M122.3,436.4 A76.8,62.1 0 0 1 275.9,436.4" stroke-width="0.4" stroke-opacity="0.10"/>
<path d="M181.4,436.4 A19.3,37.8 0 0 1 220.0,436.4" stroke-width="0.35" stroke-opacity="0.11"/>
<path d="M72.8,436.4 A79.8,62.9 0 0 1 232.5,436.4" stroke-width="0.3" stroke-opacity="0.09"/>
<path d="M207.1,436.4 A15.4,34.8 0 0 1 237.8,436.4" stroke-width="0.4" stroke-opacity="0.07"/>
<path d="M65.4,436.4 A11.1,31.0 0 0 1 87.7,436.4" stroke-width="0.5" stroke-opacity="0.07"/>
<path d="M172.5,436.4 A26.2,42.1 0 0 1 224.8,436.4" stroke-width="0.3" stroke-opacity="0.08"/>
<path d="M190.7,436.4 A13.3,33.0 0 0 1 217.3,436.4" stroke-width="0.6" stroke-opacity="0.10"/>
<path d="M161.3,436.4 A41.1,49.6 0 0 1 243.6,436.4" stroke-width="0.35" stroke-opacity="0.08"/>
<path d="M68.5,436.4 A78.2,62.5 0 0 1 224.8,436.4" stroke-width="0.35" stroke-opacity="0.05"/>
<path d="M181.4,436.4 A40.0,49.1 0 0 1 261.4,436.4" stroke-width="0.4" stroke-opacity="0.05"/>
<path d="M100.4,436.4 A79.5,62.9 0 0 1 259.5,436.4" stroke-width="0.6" stroke-opacity="0.06"/>
<path d="M217.3,436.4 A7.6,27.0 0 0 1 232.5,436.4" stroke-width="0.6" stroke-opacity="0.06"/>
<path d="M118.4,436.4 A71.5,60.5 0 0 1 261.4,436.4" stroke-width="0.4" stroke-opacity="0.05"/>
<path d="M227.7,436.4 A15.9,35.2 0 0 1 259.5,436.4" stroke-width="0.35" stroke-opacity="0.09"/>
<path d="M251.8,436.4 A14.2,33.8 0 0 1 280.2,436.4" stroke-width="0.3" stroke-opacity="0.08"/>
<path d="M215.0,436.4 A33.8,46.2 0 0 1 282.6,436.4" stroke-width="0.5" stroke-opacity="0.06"/>
<path d="M190.7,436.4 A23.6,40.6 0 0 1 237.8,436.4" stroke-width="0.35" stroke-opacity="0.06"/>
<path d="M158.5,436.4 A42.5,50.2 0 0 1 243.6,436.4" stroke-width="0.35" stroke-opacity="0.06"/>
<path d="M87.7,436.4 A63.6,58.0 0 0 1 215.0,436.4" stroke-width="0.5" stroke-opacity="0.10"/>
<path d="M115.3,436.4 A83.7,64.0 0 0 1 282.6,436.4" stroke-width="0.3" stroke-opacity="0.06"/>
<path d="M55.8,436.4 A35.0,46.8 0 0 1 125.8,436.4" stroke-width="0.6" stroke-opacity="0.11"/>
<path d="M125.8,436.4 A30.1,44.3 0 0 1 186.0,436.4" stroke-width="0.45" stroke-opacity="0.08"/>
<path d="M55.8,436.4 A41.1,49.6 0 0 1 138.1,436.4" stroke-width="0.6" stroke-opacity="0.08"/>
<path d="M77.2,436.4 A35.7,47.1 0 0 1 148.6,436.4" stroke-width="0.35" stroke-opacity="0.07"/>
<path d="M72.8,436.4 A44.3,50.9 0 0 1 161.3,436.4" stroke-width="0.45" stroke-opacity="0.08"/>
<path d="M125.8,436.4 A34.8,46.7 0 0 1 195.4,436.4" stroke-width="0.4" stroke-opacity="0.07"/>
<path d="M81.6,436.4 A99.3,68.1 0 0 1 280.2,436.4" stroke-width="0.5" stroke-opacity="0.08"/>
<path d="M81.6,436.4 A69.2,59.8 0 0 1 220.1,436.4" stroke-width="0.3" stroke-opacity="0.10"/>
<path d="M243.6,436.4 A11.3,31.1 0 0 1 266.2,436.4" stroke-width="0.45" stroke-opacity="0.08"/>
<path d="M72.8,436.4 A18.9,37.4 0 0 1 110.5,436.4" stroke-width="0.3" stroke-opacity="0.08"/>
<path d="M130.6,436.4 A72.6,60.8 0 0 1 275.9,436.4" stroke-width="0.6" stroke-opacity="0.05"/>
<path d="M118.4,436.4 A8.1,27.6 0 0 1 134.6,436.4" stroke-width="0.3" stroke-opacity="0.10"/>
<path d="M84.7,436.4 A12.9,32.7 0 0 1 110.5,436.4" stroke-width="0.35" stroke-opacity="0.10"/>
<path d="M68.5,436.4 A8.1,27.6 0 0 1 84.7,436.4" stroke-width="0.6" stroke-opacity="0.11"/>
<path d="M45.3,436.4 A18.1,36.9 0 0 1 81.6,436.4" stroke-width="0.45" stroke-opacity="0.10"/>
<path d="M156.5,436.4 A43.5,50.6 0 0 1 243.6,436.4" stroke-width="0.35" stroke-opacity="0.05"/>
<path d="M55.8,436.4 A18.6,37.3 0 0 1 93.0,436.4" stroke-width="0.45" stroke-opacity="0.06"/>
<path d="M48.8,436.4 A83.1,63.9 0 0 1 215.0,436.4" stroke-width="0.35" stroke-opacity="0.06"/>
<path d="M161.3,436.4 A5.6,24.2 0 0 1 172.5,436.4" stroke-width="0.5" stroke-opacity="0.07"/>
<path d="M217.3,436.4 A14.3,33.9 0 0 1 246.0,436.4" stroke-width="0.6" stroke-opacity="0.05"/>
<path d="M65.4,436.4 A24.9,41.4 0 0 1 115.3,436.4" stroke-width="0.35" stroke-opacity="0.06"/>
<path d="M96.0,436.4 A28.0,43.2 0 0 1 152.1,436.4" stroke-width="0.35" stroke-opacity="0.11"/>
<path d="M115.3,436.4 A37.7,48.0 0 0 1 190.7,436.4" stroke-width="0.6" stroke-opacity="0.11"/>
<path d="M255.6,436.4 A2.9,19.1 0 0 1 261.4,436.4" stroke-width="0.4" stroke-opacity="0.05"/>
<path d="M178.1,436.4 A41.6,49.8 0 0 1 261.4,436.4" stroke-width="0.45" stroke-opacity="0.10"/>
<path d="M207.1,436.4 A22.4,39.8 0 0 1 251.8,436.4" stroke-width="0.5" stroke-opacity="0.07"/>
<path d="M62.8,436.4 A40.1,49.1 0 0 1 142.9,436.4" stroke-width="0.5" stroke-opacity="0.09"/>
<path d="M118.4,436.4 A31.5,45.0 0 0 1 181.4,436.4" stroke-width="0.4" stroke-opacity="0.10"/>
<path d="M52.3,436.4 A64.6,58.3 0 0 1 181.4,436.4" stroke-width="0.5" stroke-opacity="0.11"/>
<path d="M145.5,436.4 A37.2,47.8 0 0 1 220.0,436.4" stroke-width="0.5" stroke-opacity="0.05"/>
<path d="M172.5,436.4 A41.5,49.8 0 0 1 255.6,436.4" stroke-width="0.3" stroke-opacity="0.06"/>
<path d="M87.7,436.4 A28.9,43.7 0 0 1 145.5,436.4" stroke-width="0.35" stroke-opacity="0.09"/>
<path d="M220.0,436.4 A23.1,40.3 0 0 1 266.2,436.4" stroke-width="0.4" stroke-opacity="0.08"/>
<path d="M172.5,436.4 A36.8,47.6 0 0 1 246.0,436.4" stroke-width="0.5" stroke-opacity="0.11"/>
<path d="M169.2,436.4 A8.4,28.0 0 0 1 186.0,436.4" stroke-width="0.35" stroke-opacity="0.07"/>
<path d="M100.4,436.4 A62.2,57.5 0 0 1 224.8,436.4" stroke-width="0.6" stroke-opacity="0.08"/>
<path d="M130.6,436.4 A43.4,50.5 0 0 1 217.3,436.4" stroke-width="0.45" stroke-opacity="0.08"/>
<path d="M190.7,436.4 A9.8,29.6 0 0 1 210.3,436.4" stroke-width="0.4" stroke-opacity="0.09"/>
<path d="M100.4,436.4 A77.6,62.3 0 0 1 255.6,436.4" stroke-width="0.45" stroke-opacity="0.09"/>
<path d="M178.1,436.4 A21.0,38.9 0 0 1 220.1,436.4" stroke-width="0.6" stroke-opacity="0.08"/>
<path d="M142.9,436.4 A48.6,52.7 0 0 1 240.2,436.4" stroke-width="0.4" stroke-opacity="0.07"/>
<path d="M45.3,436.4 A5.2,23.6 0 0 1 55.8,436.4" stroke-width="0.5" stroke-opacity="0.06"/>
<path d="M93.0,436.4 A44.2,50.9 0 0 1 181.4,436.4" stroke-width="0.45" stroke-opacity="0.05"/>
<path d="M161.3,436.4 A45.2,51.3 0 0 1 251.8,436.4" stroke-width="0.4" stroke-opacity="0.07"/>
<path d="M115.3,436.4 A31.4,45.0 0 0 1 178.1,436.4" stroke-width="0.45" stroke-opacity="0.10"/>
<path d="M45.3,436.4 A18.1,36.9 0 0 1 81.6,436.4" stroke-width="0.5" stroke-opacity="0.10"/>
<path d="M65.4,436.4 A97.0,67.5 0 0 1 259.5,436.4" stroke-width="0.4" stroke-opacity="0.08"/>
<path d="M68.5,436.4 A21.0,38.9 0 0 1 110.5,436.4" stroke-width="0.5" stroke-opacity="0.10"/>
<path d="M190.7,436.4 A14.7,34.2 0 0 1 220.0,436.4" stroke-width="0.35" stroke-opacity="0.06"/>
<path d="M207.1,436.4 A24.2,41.0 0 0 1 255.6,436.4" stroke-width="0.4" stroke-opacity="0.09"/>
<path d="M163.6,436.4 A32.0,45.3 0 0 1 227.7,436.4" stroke-width="0.45" stroke-opacity="0.07"/>
<path d="M99.1,436.4 A15.8,35.1 0 0 1 130.6,436.4" stroke-width="0.5" stroke-opacity="0.08"/>
<path d="M134.6,436.4 A60.5,57.0 0 0 1 255.6,436.4" stroke-width="0.3" stroke-opacity="0.07"/>
<path d="M48.8,436.4 A34.8,46.7 0 0 1 118.4,436.4" stroke-width="0.4" stroke-opacity="0.11"/>
<path d="M145.5,436.4 A5.5,24.0 0 0 1 156.5,436.4" stroke-width="0.35" stroke-opacity="0.07"/>
<path d="M68.5,436.4 A37.2,47.8 0 0 1 142.9,436.4" stroke-width="0.5" stroke-opacity="0.09"/>
<path d="M106.1,436.4 A76.7,62.0 0 0 1 259.5,436.4" stroke-width="0.6" stroke-opacity="0.09"/>
<path d="M178.1,436.4 A21.0,38.9 0 0 1 220.0,436.4" stroke-width="0.45" stroke-opacity="0.08"/>
<path d="M138.1,436.4 A11.6,31.4 0 0 1 161.3,436.4" stroke-width="0.45" stroke-opacity="0.07"/>
<path d="M72.8,436.4 A10.1,29.9 0 0 1 93.0,436.4" stroke-width="0.3" stroke-opacity="0.06"/>
<path d="M240.2,436.4 A20.0,38.2 0 0 1 280.2,436.4" stroke-width="0.35" stroke-opacity="0.05"/>
<path d="M163.6,436.4 A23.4,40.4 0 0 1 210.3,436.4" stroke-width="0.5" stroke-opacity="0.09"/>
<path d="M87.7,436.4 A91.2,66.0 0 0 1 270.1,436.4" stroke-width="0.3" stroke-opacity="0.10"/>
<path d="M93.0,436.4 A11.1,31.0 0 0 1 115.3,436.4" stroke-width="0.4" stroke-opacity="0.10"/>
<path d="M115.3,436.4 A21.6,39.3 0 0 1 158.5,436.4" stroke-width="0.5" stroke-opacity="0.06"/>
<path d="M45.3,436.4 A27.6,42.9 0 0 1 100.4,436.4" stroke-width="0.3" stroke-opacity="0.08"/>
<path d="M148.6,436.4 A21.0,39.0 0 0 1 190.7,436.4" stroke-width="0.6" stroke-opacity="0.11"/>
<path d="M158.5,436.4 A2.5,18.2 0 0 1 163.6,436.4" stroke-width="0.45" stroke-opacity="0.11"/>
<path d="M118.4,436.4 A22.6,40.0 0 0 1 163.6,436.4" stroke-width="0.4" stroke-opacity="0.09"/>
<path d="M81.6,436.4 A58.3,56.2 0 0 1 198.2,436.4" stroke-width="0.4" stroke-opacity="0.10"/>
<path d="M251.8,436.4 A15.4,34.8 0 0 1 282.6,436.4" stroke-width="0.35" stroke-opacity="0.08"/>
<path d="M270.1,436.4 A6.2,25.2 0 0 1 282.6,436.4" stroke-width="0.45" stroke-opacity="0.09"/>
<path d="M99.1,436.4 A62.9,57.8 0 0 1 224.8,436.4" stroke-width="0.3" stroke-opacity="0.08"/>
<path d="M186.0,436.4 A42.1,50.0 0 0 1 270.1,436.4" stroke-width="0.5" stroke-opacity="0.08"/>
<path d="M134.6,436.4 A41.4,49.7 0 0 1 217.3,436.4" stroke-width="0.3" stroke-opacity="0.07"/>
<path d="M122.3,436.4 A19.5,37.9 0 0 1 161.3,436.4" stroke-width="0.3" stroke-opacity="0.10"/>
<path d="M77.2,436.4 A7.9,27.4 0 0 1 93.0,436.4" stroke-width="0.35" stroke-opacity="0.05"/>
<path d="M255.6,436.4 A12.3,32.1 0 0 1 280.2,436.4" stroke-width="0.3" stroke-opacity="0.10"/>
<path d="M118.4,436.4 A15.1,34.6 0 0 1 148.6,436.4" stroke-width="0.5" stroke-opacity="0.08"/>
<path d="M266.2,436.4 A8.2,27.7 0 0 1 282.6,436.4" stroke-width="0.5" stroke-opacity="0.07"/>
<path d="M87.7,436.4 A36.8,47.6 0 0 1 161.3,436.4" stroke-width="0.6" stroke-opacity="0.11"/>
<path d="M261.4,436.4 A10.6,30.4 0 0 1 282.6,436.4" stroke-width="0.5" stroke-opacity="0.06"/>
<path d="M100.4,436.4 A58.5,56.3 0 0 1 217.3,436.4" stroke-width="0.35" stroke-opacity="0.06"/>
<path d="M45.3,436.4 A25.4,41.6 0 0 1 96.0,436.4" stroke-width="0.3" stroke-opacity="0.08"/>
<path d="M52.3,436.4 A111.8,71.1 0 0 1 275.9,436.4" stroke-width="0.45" stroke-opacity="0.08"/>
<path d="M178.1,436.4 A21.0,38.9 0 0 1 220.1,436.4" stroke-width="0.5" stroke-opacity="0.10"/>
<path d="M99.1,436.4 A31.1,44.8 0 0 1 161.3,436.4" stroke-width="0.5" stroke-opacity="0.11"/>
<path d="M84.7,436.4 A20.5,38.6 0 0 1 125.8,436.4" stroke-width="0.3" stroke-opacity="0.10"/>
<path d="M125.8,436.4 A67.2,57.6 0 0 1 260.2,436.4" stroke-width="4.6" stroke-opacity="0.8"/>
<path d="M58.1,436.4 A99.4,67.6 0 0 1 257.1,436.4" stroke-width="1.3" stroke-opacity="0.6"/>
<path d="M67.2,436.4 A87.9,64.8 0 0 1 243.0,436.4" stroke-width="1.0" stroke-opacity="0.5"/>
<path d="M70.9,436.4 A73.8,60.9 0 0 1 218.4,436.4" stroke-width="0.9" stroke-opacity="0.5"/>
<path d="M88.5,436.4 A73.0,60.5 0 0 1 234.4,436.4" stroke-width="1.1" stroke-opacity="0.55"/>
<path d="M101.1,436.4 A50.7,53.1 0 0 1 202.5,436.4" stroke-width="1.0" stroke-opacity="0.5"/>
<path d="M142.2,436.4 A25.2,41.4 0 0 1 192.8,436.4" stroke-width="0.9" stroke-opacity="0.5"/>
<path d="M153.5,436.4 A35.2,46.6 0 0 1 224.0,436.4" stroke-width="1.0" stroke-opacity="0.5"/>
<path d="M159.0,436.4 A54.3,54.5 0 0 1 267.7,436.4" stroke-width="1.0" stroke-opacity="0.5"/>
<path d="M163.2,436.4 A54.6,54.6 0 0 1 272.6,436.4" stroke-width="0.9" stroke-opacity="0.5"/>
<path d="M174.2,436.4 A30.1,44.0 0 0 1 234.4,436.4" stroke-width="1.1" stroke-opacity="0.55"/>
<path d="M186.1,436.4 A35.5,46.8 0 0 1 257.2,436.4" stroke-width="1.0" stroke-opacity="0.5"/>
<path d="M203.5,436.4 A38.7,48.2 0 0 1 280.9,436.4" stroke-width="1.0" stroke-opacity="0.5"/>
<path d="M219.5,436.4 A26.4,42.0 0 0 1 272.4,436.4" stroke-width="1.3" stroke-opacity="0.6"/>
<path d="M193.6,436.4 A24.7,41.1 0 0 1 243.1,436.4" stroke-width="0.9" stroke-opacity="0.5"/>
<path d="M214.6,436.4 A29.1,43.5 0 0 1 272.9,436.4" stroke-width="1.2" stroke-opacity="0.6"/>
<path d="M44.3,436.4 A119.2,72.5 0 0 1 282.7,436.4" stroke-width="0.6" stroke-opacity="0.4"/>
<path d="M48.2,436.4 A116.8,72.0 0 0 1 281.8,436.4" stroke-width="0.5" stroke-opacity="0.4"/>
<path d="M122.0,436.4 A16.9,35.9 0 0 1 155.8,436.4" stroke-width="0.86" stroke-opacity="0.4"/>
<path d="M138.4,436.4 A16.9,35.9 0 0 1 172.2,436.4" stroke-width="0.79" stroke-opacity="0.41"/>
<path d="M139.7,436.4 A43.5,50.3 0 0 1 226.6,436.4" stroke-width="0.96" stroke-opacity="0.32"/>
<path d="M190.0,436.4 A31.1,44.6 0 0 1 252.3,436.4" stroke-width="0.87" stroke-opacity="0.45"/>
<path d="M132.6,436.4 A12.8,32.5 0 0 1 158.3,436.4" stroke-width="1.08" stroke-opacity="0.36"/>
<path d="M146.2,436.4 A26.1,41.9 0 0 1 198.5,436.4" stroke-width="0.85" stroke-opacity="0.44"/>
<path d="M147.8,436.4 A21.3,38.9 0 0 1 190.3,436.4" stroke-width="0.93" stroke-opacity="0.38"/>
<path d="M244.4,436.4 A19.1,37.5 0 0 1 282.6,436.4" stroke-width="0.84" stroke-opacity="0.33"/>
<path d="M229.1,436.4 A26.8,42.3 0 0 1 282.6,436.4" stroke-width="0.71" stroke-opacity="0.41"/>
<path d="M233.3,436.4 A24.7,41.1 0 0 1 282.6,436.4" stroke-width="0.79" stroke-opacity="0.42"/>
<path d="M215.4,436.4 A20.3,38.3 0 0 1 255.9,436.4" stroke-width="0.96" stroke-opacity="0.33"/>
<path d="M125.8,436.4 A26.3,42.0 0 0 1 178.5,436.4" stroke-width="0.83" stroke-opacity="0.36"/>
<path d="M70.1,436.4 A98.7,67.7 0 0 1 267.5,436.4" stroke-width="0.69" stroke-opacity="0.25"/>
<path d="M84.9,436.4 A89.2,65.3 0 0 1 263.3,436.4" stroke-width="0.49" stroke-opacity="0.14"/>
<path d="M69.1,436.4 A85.7,64.4 0 0 1 240.5,436.4" stroke-width="0.6" stroke-opacity="0.13"/>
<path d="M50.6,436.4 A112.4,71.0 0 0 1 275.4,436.4" stroke-width="0.58" stroke-opacity="0.21"/>
<path d="M46.4,436.4 A90.2,65.5 0 0 1 226.8,436.4" stroke-width="0.67" stroke-opacity="0.2"/>
<path d="M84.9,436.4 A61.6,57.1 0 0 1 208.0,436.4" stroke-width="0.54" stroke-opacity="0.22"/>
<path d="M61.4,436.4 A100.9,68.3 0 0 1 263.1,436.4" stroke-width="0.57" stroke-opacity="0.14"/>
<path d="M46.5,436.4 A117.3,72.1 0 0 1 281.2,436.4" stroke-width="0.44" stroke-opacity="0.15"/>
<path d="M56.7,436.4 A99.7,67.9 0 0 1 256.1,436.4" stroke-width="0.66" stroke-opacity="0.18"/>
<path d="M63.6,436.4 A99.7,68.0 0 0 1 263.1,436.4" stroke-width="0.48" stroke-opacity="0.17"/>
<path d="M68.5,436.4 A90.2,65.6 0 0 1 249.0,436.4" stroke-width="0.41" stroke-opacity="0.13"/>
<path d="M48.2,436.4 A104.4,69.1 0 0 1 257.1,436.4" stroke-width="0.61" stroke-opacity="0.25"/>
<path d="M75.3,436.4 A69.0,59.5 0 0 1 213.4,436.4" stroke-width="0.63" stroke-opacity="0.25"/>
<path d="M57.3,436.4 A66.7,58.8 0 0 1 190.7,436.4" stroke-width="0.51" stroke-opacity="0.16"/>
<path d="M49.8,436.4 A72.1,60.5 0 0 1 194.0,436.4" stroke-width="0.44" stroke-opacity="0.23"/>
<path d="M44.3,436.4 A101.3,68.4 0 0 1 246.9,436.4" stroke-width="0.46" stroke-opacity="0.15"/>
<path d="M77.5,436.4 A70.0,59.9 0 0 1 217.6,436.4" stroke-width="0.46" stroke-opacity="0.18"/>
<path d="M72.2,436.4 A83.1,63.6 0 0 1 238.5,436.4" stroke-width="0.66" stroke-opacity="0.17"/>
<path d="M64.8,436.4 A95.8,67.0 0 0 1 256.4,436.4" stroke-width="0.54" stroke-opacity="0.21"/>
<path d="M62.3,436.4 A69.9,59.9 0 0 1 202.2,436.4" stroke-width="0.44" stroke-opacity="0.22"/>
<path d="M74.3,436.4 A101.5,68.4 0 0 1 277.4,436.4" stroke-width="0.61" stroke-opacity="0.2"/>
<path d="M49.3,436.4 A109.9,70.4 0 0 1 269.1,436.4" stroke-width="0.44" stroke-opacity="0.18"/>
<path d="M48.2,436.4 A88.5,65.1 0 0 1 225.2,436.4" stroke-width="0.49" stroke-opacity="0.18"/>
<path d="M72.8,436.4 A83.7,63.8 0 0 1 240.2,436.4" stroke-width="0.47" stroke-opacity="0.22"/>
<path d="M73.8,436.4 A96.4,67.2 0 0 1 266.7,436.4" stroke-width="0.41" stroke-opacity="0.2"/>
<path d="M80.7,436.4 A66.6,58.8 0 0 1 213.9,436.4" stroke-width="0.46" stroke-opacity="0.23"/>
<path d="M57.9,436.4 A84.5,64.0 0 0 1 227.0,436.4" stroke-width="0.65" stroke-opacity="0.17"/>
<path d="M50.8,436.4 A79.5,62.7 0 0 1 209.7,436.4" stroke-width="0.5" stroke-opacity="0.21"/>
<path d="M58.0,436.4 A101.7,68.5 0 0 1 261.5,436.4" stroke-width="0.42" stroke-opacity="0.15"/>
<path d="M69.2,436.4 A82.6,63.5 0 0 1 234.3,436.4" stroke-width="0.55" stroke-opacity="0.24"/>
<path d="M54.1,436.4 A76.3,61.8 0 0 1 206.7,436.4" stroke-width="0.41" stroke-opacity="0.18"/>
<path d="M55.0,436.4 A89.5,65.4 0 0 1 233.9,436.4" stroke-width="0.4" stroke-opacity="0.12"/>
<path d="M58.5,436.4 A100.9,68.3 0 0 1 260.3,436.4" stroke-width="0.49" stroke-opacity="0.24"/>
<path d="M67.2,436.4 A80.0,62.8 0 0 1 227.2,436.4" stroke-width="0.63" stroke-opacity="0.15"/>
<path d="M68.3,436.4 A100.1,68.1 0 0 1 268.4,436.4" stroke-width="0.56" stroke-opacity="0.16"/>
<path d="M46.3,436.4 A98.4,67.7 0 0 1 243.2,436.4" stroke-width="0.46" stroke-opacity="0.17"/>
<path d="M65.6,436.4 A105.8,69.4 0 0 1 277.2,436.4" stroke-width="0.6" stroke-opacity="0.19"/>
<path d="M79.2,436.4 A69.6,59.7 0 0 1 218.4,436.4" stroke-width="0.52" stroke-opacity="0.21"/>
<path d="M66.1,436.4 A72.1,60.5 0 0 1 210.3,436.4" stroke-width="0.52" stroke-opacity="0.23"/>
<path d="M52.6,436.4 A101.4,68.4 0 0 1 255.4,436.4" stroke-width="0.41" stroke-opacity="0.24"/>
</g>
<path d="M39.4,455.3 H283.4" stroke="#3a3a3a" stroke-width="1.15"/>
<path d="M39.50,450.8 V455.3" stroke="#3a3a3a" stroke-width="1"/>
<text x="39.5" y="448.7" font-size="7" text-anchor="middle" fill="#555555" font-weight="normal" >0</text>
<path d="M84.85,450.8 V455.3" stroke="#3a3a3a" stroke-width="1"/>
<text x="84.85" y="448.7" font-size="7" text-anchor="middle" fill="#555555" font-weight="normal" textLength="29.8">1,000,000</text>
<path d="M130.20,450.8 V455.3" stroke="#3a3a3a" stroke-width="1"/>
<text x="130.2" y="448.7" font-size="7" text-anchor="middle" fill="#555555" font-weight="normal" textLength="29.8">2,000,000</text>
<path d="M175.55,450.8 V455.3" stroke="#3a3a3a" stroke-width="1"/>
<text x="175.55" y="448.7" font-size="7" text-anchor="middle" fill="#555555" font-weight="normal" textLength="29.8">3,000,000</text>
<path d="M220.90,450.8 V455.3" stroke="#3a3a3a" stroke-width="1"/>
<text x="220.9" y="448.7" font-size="7" text-anchor="middle" fill="#555555" font-weight="normal" textLength="29.8">4,000,000</text>
<path d="M266.25,450.8 V455.3" stroke="#3a3a3a" stroke-width="1"/>
<text x="266.25" y="448.7" font-size="7" text-anchor="middle" fill="#555555" font-weight="normal" textLength="29.8">5,000,000</text>
<text x="0" y="458.3" font-size="8.2" text-anchor="start" fill="#555555" font-weight="normal" >BL6J</text>
<text x="0" y="468.4" font-size="8.2" text-anchor="start" fill="#555555" font-weight="normal" >assembly</text>
<path d="M44.25,461.20 L44.77,461.20 L46.35,465.00 L44.77,468.80 L44.25,468.80 Z" fill="#1f8682" fill-opacity="0.89"/>
<path d="M47.75,461.20 L48.27,461.20 L49.85,465.00 L48.27,468.80 L47.75,468.80 Z" fill="#1f8682" fill-opacity="0.93"/>
<path d="M51.25,461.20 L51.77,461.20 L53.35,465.00 L51.77,468.80 L51.25,468.80 Z" fill="#1f8682" fill-opacity="0.94"/>
<path d="M54.75,461.20 L55.27,461.20 L56.85,465.00 L55.27,468.80 L54.75,468.80 Z" fill="#1f8682" fill-opacity="0.98"/>
<path d="M61.75,461.20 L62.27,461.20 L63.85,465.00 L62.27,468.80 L61.75,468.80 Z" fill="#1f8682" fill-opacity="0.93"/>
<path d="M64.35,461.20 L64.88,461.20 L66.45,465.00 L64.88,468.80 L64.35,468.80 Z" fill="#1f8682" fill-opacity="0.98"/>
<path d="M67.45,461.20 L67.97,461.20 L69.55,465.00 L67.97,468.80 L67.45,468.80 Z" fill="#1f8682" fill-opacity="0.73"/>
<path d="M71.75,461.20 L72.27,461.20 L73.85,465.00 L72.27,468.80 L71.75,468.80 Z" fill="#1f8682" fill-opacity="0.85"/>
<path d="M80.55,461.20 L81.07,461.20 L82.65,465.00 L81.07,468.80 L80.55,468.80 Z" fill="#1f8682" fill-opacity="0.98"/>
<path d="M83.65,461.20 L84.17,461.20 L85.75,465.00 L84.17,468.80 L83.65,468.80 Z" fill="#1f8682" fill-opacity="0.90"/>
<path d="M86.65,461.20 L87.17,461.20 L88.75,465.00 L87.17,468.80 L86.65,468.80 Z" fill="#1f8682" fill-opacity="0.97"/>
<path d="M91.95,461.20 L92.47,461.20 L94.05,465.00 L92.47,468.80 L91.95,468.80 Z" fill="#1f8682" fill-opacity="0.75"/>
<path d="M94.95,461.20 L95.47,461.20 L97.05,465.00 L95.47,468.80 L94.95,468.80 Z" fill="#1f8682" fill-opacity="0.85"/>
<path d="M105.05,461.20 L105.57,461.20 L107.15,465.00 L105.57,468.80 L105.05,468.80 Z" fill="#1f8682" fill-opacity="0.79"/>
<path d="M114.25,461.20 L114.77,461.20 L116.35,465.00 L114.77,468.80 L114.25,468.80 Z" fill="#1f8682" fill-opacity="0.87"/>
<path d="M117.35,461.20 L117.88,461.20 L119.45,465.00 L117.88,468.80 L117.35,468.80 Z" fill="#1f8682" fill-opacity="0.88"/>
<path d="M121.25,461.20 L121.77,461.20 L123.35,465.00 L121.77,468.80 L121.25,468.80 Z" fill="#1f8682" fill-opacity="0.72"/>
<path d="M124.75,461.20 L125.27,461.20 L126.85,465.00 L125.27,468.80 L124.75,468.80 Z" fill="#1f8682" fill-opacity="0.78"/>
<path d="M129.55,461.20 L130.08,461.20 L131.65,465.00 L130.08,468.80 L129.55,468.80 Z" fill="#1f8682" fill-opacity="0.80"/>
<path d="M133.55,461.20 L134.08,461.20 L135.65,465.00 L134.08,468.80 L133.55,468.80 Z" fill="#1f8682" fill-opacity="0.98"/>
<path d="M137.05,461.20 L137.58,461.20 L139.15,465.00 L137.58,468.80 L137.05,468.80 Z" fill="#1f8682" fill-opacity="0.93"/>
<path d="M141.85,461.20 L142.38,461.20 L143.95,465.00 L142.38,468.80 L141.85,468.80 Z" fill="#1f8682" fill-opacity="0.76"/>
<path d="M144.45,461.20 L144.98,461.20 L146.55,465.00 L144.98,468.80 L144.45,468.80 Z" fill="#1f8682" fill-opacity="0.94"/>
<path d="M147.55,461.20 L148.08,461.20 L149.65,465.00 L148.08,468.80 L147.55,468.80 Z" fill="#1f8682" fill-opacity="0.76"/>
<path d="M151.05,461.20 L151.58,461.20 L153.15,465.00 L151.58,468.80 L151.05,468.80 Z" fill="#1f8682" fill-opacity="0.89"/>
<path d="M160.25,461.20 L160.78,461.20 L162.35,465.00 L160.78,468.80 L160.25,468.80 Z" fill="#1f8682" fill-opacity="0.76"/>
<path d="M242.55,461.20 L243.08,461.20 L244.65,465.00 L243.08,468.80 L242.55,468.80 Z" fill="#1f8682" fill-opacity="0.72"/>
<path d="M244.95,461.20 L245.48,461.20 L247.05,465.00 L245.48,468.80 L244.95,468.80 Z" fill="#1f8682" fill-opacity="0.96"/>
<path d="M250.75,461.20 L251.28,461.20 L252.85,465.00 L251.28,468.80 L250.75,468.80 Z" fill="#1f8682" fill-opacity="0.78"/>
<path d="M254.55,461.20 L255.07,461.20 L256.65,465.00 L255.07,468.80 L254.55,468.80 Z" fill="#1f8682" fill-opacity="0.78"/>
<path d="M258.45,461.20 L258.98,461.20 L260.55,465.00 L258.98,468.80 L258.45,468.80 Z" fill="#1f8682" fill-opacity="1.00"/>
<path d="M260.35,461.20 L260.88,461.20 L262.45,465.00 L260.88,468.80 L260.35,468.80 Z" fill="#1f8682" fill-opacity="0.96"/>
<path d="M269.05,461.20 L269.58,461.20 L271.15,465.00 L269.58,468.80 L269.05,468.80 Z" fill="#1f8682" fill-opacity="0.80"/>
<path d="M164.65,461.20 L164.12,461.20 L162.55,465.00 L164.12,468.80 L164.65,468.80 Z" fill="#1f8682" fill-opacity="0.99"/>
<path d="M170.25,461.20 L169.72,461.20 L168.15,465.00 L169.72,468.80 L170.25,468.80 Z" fill="#1f8682" fill-opacity="0.87"/>
<path d="M173.55,461.20 L173.02,461.20 L171.45,465.00 L173.02,468.80 L173.55,468.80 Z" fill="#1f8682" fill-opacity="0.91"/>
<path d="M179.15,461.20 L178.62,461.20 L177.05,465.00 L178.62,468.80 L179.15,468.80 Z" fill="#1f8682" fill-opacity="0.78"/>
<path d="M182.45,461.20 L181.92,461.20 L180.35,465.00 L181.92,468.80 L182.45,468.80 Z" fill="#1f8682" fill-opacity="0.98"/>
<path d="M187.05,461.20 L186.52,461.20 L184.95,465.00 L186.52,468.80 L187.05,468.80 Z" fill="#1f8682" fill-opacity="0.91"/>
<path d="M196.45,461.20 L195.92,461.20 L194.35,465.00 L195.92,468.80 L196.45,468.80 Z" fill="#1f8682" fill-opacity="0.99"/>
<path d="M199.25,461.20 L198.72,461.20 L197.15,465.00 L198.72,468.80 L199.25,468.80 Z" fill="#1f8682" fill-opacity="0.97"/>
<path d="M202.05,461.20 L201.52,461.20 L199.95,465.00 L201.52,468.80 L202.05,468.80 Z" fill="#1f8682" fill-opacity="0.80"/>
<path d="M208.15,461.20 L207.62,461.20 L206.05,465.00 L207.62,468.80 L208.15,468.80 Z" fill="#1f8682" fill-opacity="0.82"/>
<path d="M211.35,461.20 L210.82,461.20 L209.25,465.00 L210.82,468.80 L211.35,468.80 Z" fill="#1f8682" fill-opacity="0.77"/>
<path d="M216.05,461.20 L215.52,461.20 L213.95,465.00 L215.52,468.80 L216.05,468.80 Z" fill="#1f8682" fill-opacity="0.76"/>
<path d="M218.35,461.20 L217.82,461.20 L216.25,465.00 L217.82,468.80 L218.35,468.80 Z" fill="#1f8682" fill-opacity="0.74"/>
<path d="M221.15,461.20 L220.62,461.20 L219.05,465.00 L220.62,468.80 L221.15,468.80 Z" fill="#1f8682" fill-opacity="0.80"/>
<path d="M225.85,461.20 L225.32,461.20 L223.75,465.00 L225.32,468.80 L225.85,468.80 Z" fill="#1f8682" fill-opacity="0.89"/>
<path d="M228.75,461.20 L228.22,461.20 L226.65,465.00 L228.22,468.80 L228.75,468.80 Z" fill="#1f8682" fill-opacity="0.72"/>
<path d="M238.85,461.20 L238.32,461.20 L236.75,465.00 L238.32,468.80 L238.85,468.80 Z" fill="#1f8682" fill-opacity="0.91"/>
<path d="M241.25,461.20 L240.72,461.20 L239.15,465.00 L240.72,468.80 L241.25,468.80 Z" fill="#1f8682" fill-opacity="0.81"/>
<path d="M273.55,461.20 L273.02,461.20 L271.45,465.00 L273.02,468.80 L273.55,468.80 Z" fill="#1f8682" fill-opacity="0.81"/>
<path d="M276.95,461.20 L276.42,461.20 L274.85,465.00 L276.42,468.80 L276.95,468.80 Z" fill="#1f8682" fill-opacity="0.95"/>
<path d="M283.65,461.20 L283.12,461.20 L281.55,465.00 L283.12,468.80 L283.65,468.80 Z" fill="#1f8682" fill-opacity="0.85"/>
<path d="M74.70,461.10 L74.70,461.10 L79.70,465.00 L74.70,468.90 L74.70,468.90 Z" fill="#1f8682" fill-opacity="1.00"/>
<path d="M264.40,461.10 L264.40,461.10 L268.00,465.00 L264.40,468.90 L264.40,468.90 Z" fill="#1f8682" fill-opacity="1.00"/>
<path d="M234.20,461.10 L234.20,461.10 L230.80,465.00 L234.20,468.90 L234.20,468.90 Z" fill="#1f8682" fill-opacity="1.00"/>
<path d="M281.70,461.10 L281.70,461.10 L278.70,465.00 L281.70,468.90 L281.70,468.90 Z" fill="#1f8682" fill-opacity="1.00"/>
<path d="M155.10,461.10 L155.80,461.10 L157.90,465.00 L155.80,468.90 L155.10,468.90 Z" fill="#1f8682" fill-opacity="1.00"/>
<rect x="98.64999999999999" y="461.2" width="0.9" height="7.6" fill="#1f8682" fill-opacity="0.45"/>
<rect x="99.95" y="461.2" width="0.9" height="7.6" fill="#1f8682" fill-opacity="0.45"/>
<rect x="110.05" y="461.2" width="0.9" height="7.6" fill="#1f8682" fill-opacity="0.45"/>
<rect x="158.05" y="461.2" width="0.9" height="7.6" fill="#1f8682" fill-opacity="0.45"/>
<rect x="187.45000000000002" y="461.2" width="0.9" height="7.6" fill="#1f8682" fill-opacity="0.45"/>
<rect x="190.25" y="461.2" width="0.9" height="7.6" fill="#1f8682" fill-opacity="0.45"/>
<rect x="219.55" y="461.2" width="0.9" height="7.6" fill="#1f8682" fill-opacity="0.45"/>
<rect x="39.4" y="475.8" width="26.7" height="58" fill="#f5e6d2"/>
<rect x="82.1" y="475.8" width="19.1" height="58" fill="#f5e6d2"/>
<rect x="101.6" y="475.8" width="14.9" height="58" fill="#f5e6d2"/>
<path d="M36.5,475.8 H38.6 M36.5,533.8 H38.6" stroke="#555" stroke-width="0.7"/>
<path d="M240.1,475.8 C240.1,504.8 127.7,504.8 127.7,533.8 H171.6 C171.6,504.8 283.6,504.8 283.6,475.8 Z" fill="#f5e6d2"/>
<path d="M222,475.8 C222,504.8 118.9,504.8 118.9,533.8 H125.2 C125.2,504.8 224.3,504.8 224.3,475.8 Z" fill="#d6d6d6"/>
<path d="M159.6,475.8 C159.6,504.8 119.2,504.8 119.2,533.8 M161.6,475.8 C161.6,504.8 121.2,504.8 121.2,533.8" fill="none" stroke="#d0d0d0" stroke-width="0.5"/>
<path d="M43.55,539.00 L44.07,539.00 L45.65,542.80 L44.07,546.60 L43.55,546.60 Z" fill="#2e3c8c" fill-opacity="0.81"/>
<path d="M47.65,539.00 L48.17,539.00 L49.75,542.80 L48.17,546.60 L47.65,546.60 Z" fill="#2e3c8c" fill-opacity="0.85"/>
<path d="M51.25,539.00 L51.77,539.00 L53.35,542.80 L51.77,546.60 L51.25,546.60 Z" fill="#2e3c8c" fill-opacity="0.92"/>
<path d="M54.75,539.00 L55.27,539.00 L56.85,542.80 L55.27,546.60 L54.75,546.60 Z" fill="#2e3c8c" fill-opacity="0.74"/>
<path d="M60.45,539.00 L60.97,539.00 L62.55,542.80 L60.97,546.60 L60.45,546.60 Z" fill="#2e3c8c" fill-opacity="0.99"/>
<path d="M83.95,539.00 L84.47,539.00 L86.05,542.80 L84.47,546.60 L83.95,546.60 Z" fill="#2e3c8c" fill-opacity="0.73"/>
<path d="M86.95,539.00 L87.47,539.00 L89.05,542.80 L87.47,546.60 L86.95,546.60 Z" fill="#2e3c8c" fill-opacity="0.93"/>
<path d="M109.05,539.00 L109.57,539.00 L111.15,542.80 L109.57,546.60 L109.05,546.60 Z" fill="#2e3c8c" fill-opacity="0.96"/>
<path d="M114.15,539.00 L114.67,539.00 L116.25,542.80 L114.67,546.60 L114.15,546.60 Z" fill="#2e3c8c" fill-opacity="0.73"/>
<path d="M147.85,539.00 L148.38,539.00 L149.95,542.80 L148.38,546.60 L147.85,546.60 Z" fill="#2e3c8c" fill-opacity="0.94"/>
<path d="M156.05,539.00 L156.58,539.00 L158.15,542.80 L156.58,546.60 L156.05,546.60 Z" fill="#2e3c8c" fill-opacity="0.82"/>
<path d="M131.20,539.00 L131.90,539.00 L134.00,542.80 L131.90,546.60 L131.20,546.60 Z" fill="#2e3c8c" fill-opacity="1.00"/>
<path d="M136.80,539.00 L137.50,539.00 L139.60,542.80 L137.50,546.60 L136.80,546.60 Z" fill="#2e3c8c" fill-opacity="1.00"/>
<path d="M152.10,539.00 L152.80,539.00 L154.90,542.80 L152.80,546.60 L152.10,546.60 Z" fill="#2e3c8c" fill-opacity="1.00"/>
<path d="M161.75,539.00 L161.22,539.00 L159.65,542.80 L161.22,546.60 L161.75,546.60 Z" fill="#2e3c8c" fill-opacity="0.88"/>
<path d="M164.25,539.00 L163.72,539.00 L162.15,542.80 L163.72,546.60 L164.25,546.60 Z" fill="#2e3c8c" fill-opacity="0.72"/>
<path d="M170.95,539.00 L170.42,539.00 L168.85,542.80 L170.42,546.60 L170.95,546.60 Z" fill="#2e3c8c" fill-opacity="0.73"/>
<path d="M169.20,539.00 L168.50,539.00 L166.40,542.80 L168.50,546.60 L169.20,546.60 Z" fill="#2e3c8c" fill-opacity="1.00"/>
<rect x="106.95" y="539" width="0.9" height="7.6" fill="#2e3c8c" fill-opacity="0.6"/>
<rect x="127.05" y="539" width="0.9" height="7.6" fill="#2e3c8c" fill-opacity="0.6"/>
<rect x="145.95000000000002" y="539" width="0.9" height="7.6" fill="#2e3c8c" fill-opacity="0.6"/>
<rect x="65.7" y="539" width="0.8" height="7.6" fill="#c9cbe0"/>
<text x="0" y="546.6" font-size="8.2" text-anchor="start" fill="#555555" font-weight="normal" >GRCm39</text>
<text x="0" y="557.6" font-size="8.2" text-anchor="start" fill="#555555" font-weight="normal" >assembly</text>
<rect x="66.1" y="549.6" width="16" height="6.6" fill="#231f20"/>
<rect x="100.9" y="549.6" width="0.6" height="6.6" fill="#555"/>
<rect x="116.5" y="549.6" width="2.4" height="6.6" fill="#231f20"/>
<rect x="120.6" y="549.6" width="2.4" height="6.6" fill="#231f20"/>
<rect x="124.4" y="549.6" width="2.4" height="6.6" fill="#231f20"/>
<path d="M38.5,563.1 H175.8" stroke="#3a3a3a" stroke-width="1.15"/>
<path d="M39.00,563.1 V567" stroke="#3a3a3a" stroke-width="1"/>
<text x="39.0" y="574.9" font-size="7" text-anchor="middle" fill="#555555" font-weight="normal" >0</text>
<path d="M84.43,563.1 V567" stroke="#3a3a3a" stroke-width="1"/>
<text x="84.43" y="574.9" font-size="7" text-anchor="middle" fill="#555555" font-weight="normal" textLength="29.8">1,000,000</text>
<path d="M129.86,563.1 V567" stroke="#3a3a3a" stroke-width="1"/>
<text x="129.86" y="574.9" font-size="7" text-anchor="middle" fill="#555555" font-weight="normal" textLength="29.8">2,000,000</text>
<path d="M175.29,563.1 V567" stroke="#3a3a3a" stroke-width="1"/>
<text x="175.29" y="574.9" font-size="7" text-anchor="middle" fill="#555555" font-weight="normal" textLength="29.8">3,000,000</text>
<text x="167.4" y="598.3" font-size="8.9" text-anchor="middle" fill="#222" font-weight="normal" >Position within Chr4 KZFP</text>
<text x="167.4" y="607.9" font-size="8.9" text-anchor="middle" fill="#222" font-weight="normal" >gene cluster (bp)</text>
<text x="2.3" y="348.7" font-size="13.3" text-anchor="start" fill="#231f20" font-weight="bold" >d</text>
<g fill="none" stroke="#8d4a88">
<path d="M661.6,436.6 A11.3,27.9 0 0 1 684.3,436.6" stroke-width="0.5" stroke-opacity="0.08"/>
<path d="M531.7,436.6 A52.9,48.6 0 0 1 637.6,436.6" stroke-width="0.35" stroke-opacity="0.09"/>
<path d="M384.4,436.6 A20.5,34.5 0 0 1 425.3,436.6" stroke-width="0.5" stroke-opacity="0.09"/>
<path d="M468.7,436.6 A64.0,52.0 0 0 1 596.7,436.6" stroke-width="0.35" stroke-opacity="0.10"/>
<path d="M475.9,436.6 A6.2,22.4 0 0 1 488.2,436.6" stroke-width="0.5" stroke-opacity="0.07"/>
<path d="M435.5,436.6 A18.2,33.1 0 0 1 471.8,436.6" stroke-width="0.4" stroke-opacity="0.12"/>
<path d="M365.0,436.6 A147.2,70.2 0 0 1 659.5,436.6" stroke-width="0.5" stroke-opacity="0.06"/>
<path d="M525.1,436.6 A45.6,46.1 0 0 1 616.4,436.6" stroke-width="0.5" stroke-opacity="0.10"/>
<path d="M534.6,436.6 A66.4,52.7 0 0 1 667.5,436.6" stroke-width="0.3" stroke-opacity="0.06"/>
<path d="M390.0,436.6 A37.8,43.1 0 0 1 465.7,436.6" stroke-width="0.4" stroke-opacity="0.06"/>
<path d="M659.5,436.6 A12.4,28.8 0 0 1 684.3,436.6" stroke-width="0.4" stroke-opacity="0.06"/>
<path d="M448.5,436.6 A25.4,37.3 0 0 1 499.4,436.6" stroke-width="0.45" stroke-opacity="0.07"/>
<path d="M504.7,436.6 A88.0,58.3 0 0 1 680.6,436.6" stroke-width="0.5" stroke-opacity="0.06"/>
<path d="M514.2,436.6 A2.5,16.3 0 0 1 519.3,436.6" stroke-width="0.3" stroke-opacity="0.05"/>
<path d="M525.1,436.6 A32.5,40.8 0 0 1 590.1,436.6" stroke-width="0.35" stroke-opacity="0.11"/>
<path d="M403.3,436.6 A135.4,68.1 0 0 1 674.1,436.6" stroke-width="0.45" stroke-opacity="0.10"/>
<path d="M381.3,436.6 A42.2,44.8 0 0 1 465.7,436.6" stroke-width="0.45" stroke-opacity="0.08"/>
<path d="M355.0,436.6 A17.5,32.6 0 0 1 390.0,436.6" stroke-width="0.45" stroke-opacity="0.12"/>
<path d="M475.9,436.6 A32.2,40.6 0 0 1 540.2,436.6" stroke-width="0.5" stroke-opacity="0.11"/>
<path d="M422.7,436.6 A72.8,54.5 0 0 1 568.2,436.6" stroke-width="0.3" stroke-opacity="0.08"/>
<path d="M365.0,436.6 A48.6,47.1 0 0 1 462.1,436.6" stroke-width="0.35" stroke-opacity="0.11"/>
<path d="M407.4,436.6 A88.1,58.4 0 0 1 583.5,436.6" stroke-width="0.6" stroke-opacity="0.10"/>
<path d="M661.6,436.6 A9.5,26.2 0 0 1 680.6,436.6" stroke-width="0.4" stroke-opacity="0.10"/>
<path d="M370.6,436.6 A138.6,68.7 0 0 1 647.8,436.6" stroke-width="0.4" stroke-opacity="0.06"/>
<path d="M546.6,436.6 A15.2,31.0 0 0 1 577.0,436.6" stroke-width="0.6" stroke-opacity="0.06"/>
<path d="M370.6,436.6 A38.9,43.5 0 0 1 448.5,436.6" stroke-width="0.6" stroke-opacity="0.07"/>
<path d="M394.1,436.6 A34.0,41.4 0 0 1 462.1,436.6" stroke-width="0.45" stroke-opacity="0.06"/>
<path d="M384.4,436.6 A70.4,53.8 0 0 1 525.1,436.6" stroke-width="0.6" stroke-opacity="0.08"/>
<path d="M413.5,436.6 A88.3,58.4 0 0 1 590.1,436.6" stroke-width="0.45" stroke-opacity="0.09"/>
<path d="M417.6,436.6 A66.6,52.8 0 0 1 550.7,436.6" stroke-width="0.45" stroke-opacity="0.08"/>
<path d="M381.3,436.6 A113.4,63.9 0 0 1 608.1,436.6" stroke-width="0.4" stroke-opacity="0.10"/>
<path d="M465.7,436.6 A58.9,50.5 0 0 1 583.5,436.6" stroke-width="0.4" stroke-opacity="0.12"/>
<path d="M462.1,436.6 A39.1,43.5 0 0 1 540.2,436.6" stroke-width="0.6" stroke-opacity="0.08"/>
<path d="M568.2,436.6 A58.0,50.2 0 0 1 684.3,436.6" stroke-width="0.6" stroke-opacity="0.06"/>
<path d="M540.2,436.6 A47.2,46.6 0 0 1 634.6,436.6" stroke-width="0.35" stroke-opacity="0.09"/>
<path d="M448.5,436.6 A24.2,36.6 0 0 1 496.8,436.6" stroke-width="0.3" stroke-opacity="0.07"/>
<path d="M374.2,436.6 A113.8,64.0 0 0 1 601.8,436.6" stroke-width="0.4" stroke-opacity="0.10"/>
<path d="M496.8,436.6 A31.3,40.2 0 0 1 559.5,436.6" stroke-width="0.5" stroke-opacity="0.09"/>
<path d="M394.1,436.6 A94.7,59.9 0 0 1 583.5,436.6" stroke-width="0.4" stroke-opacity="0.06"/>
<path d="M435.5,436.6 A34.6,41.7 0 0 1 504.7,436.6" stroke-width="0.3" stroke-opacity="0.06"/>
<path d="M572.6,436.6 A46.0,46.2 0 0 1 664.6,436.6" stroke-width="0.4" stroke-opacity="0.07"/>
<path d="M413.5,436.6 A17.5,32.6 0 0 1 448.5,436.6" stroke-width="0.6" stroke-opacity="0.09"/>
<path d="M394.1,436.6 A52.6,48.5 0 0 1 499.4,436.6" stroke-width="0.35" stroke-opacity="0.12"/>
<path d="M497.4,436.6 A75.2,55.1 0 0 1 647.8,436.6" stroke-width="0.6" stroke-opacity="0.07"/>
<path d="M435.5,436.6 A113.1,63.8 0 0 1 661.6,436.6" stroke-width="0.3" stroke-opacity="0.11"/>
<path d="M568.2,436.6 A9.1,25.8 0 0 1 586.5,436.6" stroke-width="0.3" stroke-opacity="0.06"/>
<path d="M434.0,436.6 A31.4,40.3 0 0 1 496.8,436.6" stroke-width="0.5" stroke-opacity="0.10"/>
<path d="M370.6,436.6 A29.4,39.3 0 0 1 429.4,436.6" stroke-width="0.6" stroke-opacity="0.12"/>
<path d="M355.0,436.6 A37.2,42.8 0 0 1 429.4,436.6" stroke-width="0.3" stroke-opacity="0.08"/>
<path d="M465.7,436.6 A36.0,42.3 0 0 1 537.6,436.6" stroke-width="0.5" stroke-opacity="0.06"/>
<path d="M434.0,436.6 A74.8,55.0 0 0 1 583.5,436.6" stroke-width="0.3" stroke-opacity="0.07"/>
<path d="M593.0,436.6 A11.7,28.2 0 0 1 616.4,436.6" stroke-width="0.5" stroke-opacity="0.11"/>
<path d="M471.8,436.6 A43.8,45.4 0 0 1 559.5,436.6" stroke-width="0.3" stroke-opacity="0.10"/>
<path d="M604.7,436.6 A27.4,38.3 0 0 1 659.5,436.6" stroke-width="0.3" stroke-opacity="0.09"/>
<path d="M448.5,436.6 A49.1,47.3 0 0 1 546.6,436.6" stroke-width="0.5" stroke-opacity="0.06"/>
<path d="M531.7,436.6 A35.0,41.9 0 0 1 601.8,436.6" stroke-width="0.45" stroke-opacity="0.12"/>
<path d="M608.1,436.6 A14.8,30.7 0 0 1 637.6,436.6" stroke-width="0.6" stroke-opacity="0.05"/>
<path d="M465.7,436.6 A26.8,38.0 0 0 1 519.3,436.6" stroke-width="0.6" stroke-opacity="0.10"/>
<path d="M568.2,436.6 A34.7,41.7 0 0 1 637.6,436.6" stroke-width="0.5" stroke-opacity="0.08"/>
<path d="M407.4,436.6 A46.0,46.2 0 0 1 499.4,436.6" stroke-width="0.6" stroke-opacity="0.06"/>
<path d="M537.6,436.6 A24.4,36.8 0 0 1 586.5,436.6" stroke-width="0.35" stroke-opacity="0.11"/>
<path d="M429.4,436.6 A104.1,62.0 0 0 1 637.6,436.6" stroke-width="0.45" stroke-opacity="0.08"/>
<path d="M652.9,436.6 A13.9,30.0 0 0 1 680.6,436.6" stroke-width="0.6" stroke-opacity="0.09"/>
<path d="M355.0,436.6 A7.8,24.4 0 0 1 370.6,436.6" stroke-width="0.3" stroke-opacity="0.10"/>
<path d="M355.0,436.6 A37.2,42.8 0 0 1 429.4,436.6" stroke-width="0.3" stroke-opacity="0.10"/>
<path d="M390.0,436.6 A78.3,55.9 0 0 1 546.6,436.6" stroke-width="0.4" stroke-opacity="0.09"/>
<path d="M355.0,436.6 A117.6,64.8 0 0 1 590.1,436.6" stroke-width="0.35" stroke-opacity="0.11"/>
<path d="M365.0,436.6 A22.8,35.9 0 0 1 410.5,436.6" stroke-width="0.35" stroke-opacity="0.06"/>
<path d="M511.3,436.6 A14.5,30.4 0 0 1 540.2,436.6" stroke-width="0.3" stroke-opacity="0.09"/>
<path d="M394.1,436.6 A62.6,51.6 0 0 1 519.3,436.6" stroke-width="0.5" stroke-opacity="0.08"/>
<path d="M355.0,436.6 A19.6,33.9 0 0 1 394.1,436.6" stroke-width="0.4" stroke-opacity="0.09"/>
<path d="M370.6,436.6 A147.0,70.2 0 0 1 664.6,436.6" stroke-width="0.45" stroke-opacity="0.05"/>
<path d="M413.5,436.6 A108.0,62.8 0 0 1 629.5,436.6" stroke-width="0.4" stroke-opacity="0.10"/>
<path d="M390.0,436.6 A128.9,66.9 0 0 1 647.8,436.6" stroke-width="0.35" stroke-opacity="0.07"/>
<path d="M439.6,436.6 A28.6,38.9 0 0 1 496.8,436.6" stroke-width="0.45" stroke-opacity="0.10"/>
<path d="M514.2,436.6 A10.2,26.9 0 0 1 534.6,436.6" stroke-width="0.5" stroke-opacity="0.10"/>
<path d="M537.6,436.6 A13.8,30.0 0 0 1 565.3,436.6" stroke-width="0.4" stroke-opacity="0.10"/>
<path d="M422.7,436.6 A40.9,44.3 0 0 1 504.5,436.6" stroke-width="0.35" stroke-opacity="0.06"/>
<path d="M596.7,436.6 A43.8,45.4 0 0 1 684.3,436.6" stroke-width="0.3" stroke-opacity="0.10"/>
<path d="M475.9,436.6 A14.4,30.4 0 0 1 504.7,436.6" stroke-width="0.45" stroke-opacity="0.08"/>
<path d="M370.6,436.6 A70.3,53.8 0 0 1 511.3,436.6" stroke-width="0.35" stroke-opacity="0.07"/>
<path d="M435.5,436.6 A26.3,37.8 0 0 1 488.2,436.6" stroke-width="0.3" stroke-opacity="0.10"/>
<path d="M407.4,436.6 A50.9,47.9 0 0 1 509.1,436.6" stroke-width="0.6" stroke-opacity="0.05"/>
<path d="M390.0,436.6 A107.4,62.7 0 0 1 604.7,436.6" stroke-width="0.35" stroke-opacity="0.11"/>
<path d="M465.7,436.6 A84.5,57.5 0 0 1 634.6,436.6" stroke-width="0.45" stroke-opacity="0.10"/>
<path d="M462.1,436.6 A42.2,44.8 0 0 1 546.6,436.6" stroke-width="0.3" stroke-opacity="0.08"/>
<path d="M381.3,436.6 A71.9,54.3 0 0 1 525.1,436.6" stroke-width="0.6" stroke-opacity="0.12"/>
<path d="M384.4,436.6 A2.8,16.9 0 0 1 390.0,436.6" stroke-width="0.4" stroke-opacity="0.10"/>
<path d="M361.0,436.6 A67.2,52.9 0 0 1 495.3,436.6" stroke-width="0.4" stroke-opacity="0.12"/>
<path d="M355.0,436.6 A74.8,55.0 0 0 1 504.7,436.6" stroke-width="0.35" stroke-opacity="0.09"/>
<path d="M667.5,436.6 A6.6,22.9 0 0 1 680.6,436.6" stroke-width="0.6" stroke-opacity="0.11"/>
<path d="M435.5,436.6 A6.5,22.8 0 0 1 448.5,436.6" stroke-width="0.5" stroke-opacity="0.08"/>
<path d="M525.1,436.6 A33.9,41.4 0 0 1 593.0,436.6" stroke-width="0.3" stroke-opacity="0.11"/>
<path d="M425.3,436.6 A23.2,36.1 0 0 1 471.8,436.6" stroke-width="0.6" stroke-opacity="0.11"/>
<path d="M572.6,436.6 A5.4,21.4 0 0 1 583.5,436.6" stroke-width="0.5" stroke-opacity="0.07"/>
<path d="M471.8,436.6 A60.6,51.0 0 0 1 593.0,436.6" stroke-width="0.35" stroke-opacity="0.09"/>
<path d="M546.6,436.6 A62.2,51.5 0 0 1 671.1,436.6" stroke-width="0.4" stroke-opacity="0.12"/>
<path d="M534.6,436.6 A2.8,16.9 0 0 1 540.2,436.6" stroke-width="0.5" stroke-opacity="0.12"/>
<path d="M504.7,436.6 A61.0,51.1 0 0 1 626.6,436.6" stroke-width="0.6" stroke-opacity="0.10"/>
<path d="M528.1,436.6 A27.7,38.5 0 0 1 583.5,436.6" stroke-width="0.6" stroke-opacity="0.05"/>
<path d="M434.0,436.6 A25.0,37.1 0 0 1 484.0,436.6" stroke-width="0.6" stroke-opacity="0.06"/>
<path d="M355.0,436.6 A24.2,36.6 0 0 1 403.3,436.6" stroke-width="0.4" stroke-opacity="0.11"/>
<path d="M468.7,436.6 A17.9,32.9 0 0 1 504.5,436.6" stroke-width="0.5" stroke-opacity="0.11"/>
<path d="M608.1,436.6 A38.1,43.2 0 0 1 684.3,436.6" stroke-width="0.6" stroke-opacity="0.09"/>
<path d="M390.0,436.6 A131.4,67.4 0 0 1 652.9,436.6" stroke-width="0.35" stroke-opacity="0.10"/>
<path d="M390.0,436.6 A109.1,63.0 0 0 1 608.1,436.6" stroke-width="0.6" stroke-opacity="0.10"/>
<path d="M494.9,436.6 A41.1,44.3 0 0 1 577.0,436.6" stroke-width="0.6" stroke-opacity="0.08"/>
<path d="M553.6,436.6 A63.5,51.9 0 0 1 680.6,436.6" stroke-width="0.6" stroke-opacity="0.10"/>
<path d="M390.0,436.6 A125.2,66.2 0 0 1 640.5,436.6" stroke-width="0.5" stroke-opacity="0.06"/>
<path d="M429.4,436.6 A98.6,60.8 0 0 1 626.6,436.6" stroke-width="0.3" stroke-opacity="0.11"/>
<path d="M568.2,436.6 A29.2,39.2 0 0 1 626.6,436.6" stroke-width="0.35" stroke-opacity="0.11"/>
<path d="M590.1,436.6 A3.3,17.9 0 0 1 596.7,436.6" stroke-width="0.3" stroke-opacity="0.10"/>
<path d="M374.2,436.6 A72.5,54.4 0 0 1 519.3,436.6" stroke-width="0.3" stroke-opacity="0.12"/>
<path d="M614.2,436.6 A11.7,28.2 0 0 1 637.6,436.6" stroke-width="0.3" stroke-opacity="0.09"/>
<path d="M572.6,436.6 A44.5,45.6 0 0 1 661.6,436.6" stroke-width="0.45" stroke-opacity="0.06"/>
<path d="M394.1,436.6 A143.2,69.5 0 0 1 680.6,436.6" stroke-width="0.3" stroke-opacity="0.10"/>
<path d="M355.0,436.6 A9.6,26.3 0 0 1 374.2,436.6" stroke-width="0.6" stroke-opacity="0.07"/>
<path d="M546.6,436.6 A36.3,42.4 0 0 1 619.3,436.6" stroke-width="0.35" stroke-opacity="0.07"/>
<path d="M484.0,436.6 A6.7,23.1 0 0 1 497.4,436.6" stroke-width="0.35" stroke-opacity="0.12"/>
<path d="M417.6,436.6 A92.1,59.3 0 0 1 601.8,436.6" stroke-width="0.45" stroke-opacity="0.08"/>
<path d="M514.2,436.6 A39.4,43.7 0 0 1 593.0,436.6" stroke-width="0.3" stroke-opacity="0.09"/>
<path d="M434.0,436.6 A61.2,51.2 0 0 1 556.5,436.6" stroke-width="0.6" stroke-opacity="0.05"/>
<path d="M667.5,436.6 A8.4,25.0 0 0 1 684.3,436.6" stroke-width="0.5" stroke-opacity="0.11"/>
<path d="M448.5,436.6 A38.3,43.2 0 0 1 525.1,436.6" stroke-width="0.6" stroke-opacity="0.11"/>
<path d="M355.0,436.6 A5.0,20.8 0 0 1 365.0,436.6" stroke-width="0.4" stroke-opacity="0.07"/>
<path d="M537.6,436.6 A6.6,22.9 0 0 1 550.7,436.6" stroke-width="0.4" stroke-opacity="0.08"/>
<path d="M525.1,436.6 A12.8,29.1 0 0 1 550.7,436.6" stroke-width="0.45" stroke-opacity="0.10"/>
<path d="M417.6,436.6 A131.5,67.4 0 0 1 680.6,436.6" stroke-width="0.6" stroke-opacity="0.05"/>
<path d="M586.5,436.6 A25.6,37.4 0 0 1 637.6,436.6" stroke-width="0.35" stroke-opacity="0.05"/>
<path d="M525.1,436.6 A74.5,54.9 0 0 1 674.1,436.6" stroke-width="0.3" stroke-opacity="0.10"/>
<path d="M634.6,436.6 A16.4,31.9 0 0 1 667.5,436.6" stroke-width="0.35" stroke-opacity="0.07"/>
<path d="M497.4,436.6 A33.9,41.4 0 0 1 565.3,436.6" stroke-width="0.45" stroke-opacity="0.06"/>
<path d="M572.6,436.6 A14.6,30.6 0 0 1 601.8,436.6" stroke-width="0.35" stroke-opacity="0.11"/>
<path d="M504.7,436.6 A51.7,48.2 0 0 1 608.1,436.6" stroke-width="0.3" stroke-opacity="0.09"/>
<path d="M370.6,436.6 A97.3,60.5 0 0 1 565.3,436.6" stroke-width="0.35" stroke-opacity="0.07"/>
<path d="M604.7,436.6 A37.9,43.1 0 0 1 680.6,436.6" stroke-width="0.45" stroke-opacity="0.06"/>
<path d="M465.7,436.6 A71.2,54.1 0 0 1 608.1,436.6" stroke-width="0.5" stroke-opacity="0.11"/>
<path d="M413.5,436.6 A24.3,36.7 0 0 1 462.1,436.6" stroke-width="0.4" stroke-opacity="0.12"/>
<path d="M425.3,436.6 A16.8,32.2 0 0 1 459.0,436.6" stroke-width="0.35" stroke-opacity="0.05"/>
<path d="M410.5,436.6 A12.5,28.9 0 0 1 435.5,436.6" stroke-width="0.35" stroke-opacity="0.09"/>
<path d="M355.0,436.6 A22.3,35.6 0 0 1 399.7,436.6" stroke-width="0.35" stroke-opacity="0.08"/>
<path d="M468.7,436.6 A14.1,30.1 0 0 1 496.8,436.6" stroke-width="0.4" stroke-opacity="0.06"/>
<path d="M559.5,436.6 A35.0,41.9 0 0 1 629.5,436.6" stroke-width="0.3" stroke-opacity="0.07"/>
<path d="M626.6,436.6 A27.0,38.1 0 0 1 680.6,436.6" stroke-width="0.4" stroke-opacity="0.09"/>
<path d="M525.1,436.6 A30.7,39.9 0 0 1 586.5,436.6" stroke-width="0.6" stroke-opacity="0.08"/>
<path d="M565.3,436.6 A3.7,18.6 0 0 1 572.6,436.6" stroke-width="0.4" stroke-opacity="0.12"/>
<path d="M468.7,436.6 A28.2,38.7 0 0 1 525.1,436.6" stroke-width="0.3" stroke-opacity="0.09"/>
<path d="M407.4,436.6 A5.1,20.9 0 0 1 417.6,436.6" stroke-width="0.45" stroke-opacity="0.06"/>
<path d="M619.3,436.6 A32.5,40.8 0 0 1 684.3,436.6" stroke-width="0.4" stroke-opacity="0.10"/>
<path d="M537.6,436.6 A44.5,45.6 0 0 1 626.6,436.6" stroke-width="0.45" stroke-opacity="0.07"/>
<path d="M496.8,436.6 A40.1,44.0 0 0 1 577.0,436.6" stroke-width="0.45" stroke-opacity="0.10"/>
<path d="M484.0,436.6 A31.3,40.2 0 0 1 546.6,436.6" stroke-width="0.3" stroke-opacity="0.08"/>
<path d="M413.5,436.6 A71.5,54.1 0 0 1 556.5,436.6" stroke-width="0.35" stroke-opacity="0.09"/>
<path d="M439.6,436.6 A24.3,36.7 0 0 1 488.2,436.6" stroke-width="0.3" stroke-opacity="0.08"/>
<path d="M590.1,436.6 A18.2,33.1 0 0 1 626.6,436.6" stroke-width="0.3" stroke-opacity="0.11"/>
<path d="M471.8,436.6 A71.2,54.1 0 0 1 614.2,436.6" stroke-width="0.3" stroke-opacity="0.06"/>
<path d="M504.7,436.6 A39.4,43.7 0 0 1 583.5,436.6" stroke-width="0.4" stroke-opacity="0.09"/>
<path d="M355.0,436.6 A19.6,33.9 0 0 1 394.1,436.6" stroke-width="0.5" stroke-opacity="0.06"/>
<path d="M448.5,436.6 A44.6,45.7 0 0 1 537.6,436.6" stroke-width="0.4" stroke-opacity="0.06"/>
<path d="M448.5,436.6 A8.6,25.3 0 0 1 465.7,436.6" stroke-width="0.35" stroke-opacity="0.11"/>
<path d="M475.9,436.6 A19.2,33.7 0 0 1 514.2,436.6" stroke-width="0.45" stroke-opacity="0.12"/>
<path d="M614.2,436.6 A25.2,37.2 0 0 1 664.6,436.6" stroke-width="0.5" stroke-opacity="0.11"/>
<path d="M361.0,436.6 A156.6,71.8 0 0 1 674.1,436.6" stroke-width="0.35" stroke-opacity="0.09"/>
<path d="M577.0,436.6 A37.9,43.1 0 0 1 652.9,436.6" stroke-width="0.4" stroke-opacity="0.07"/>
<path d="M399.7,436.6 A9.0,25.6 0 0 1 417.6,436.6" stroke-width="0.5" stroke-opacity="0.08"/>
<path d="M534.6,436.6 A8.1,24.7 0 0 1 550.7,436.6" stroke-width="0.5" stroke-opacity="0.07"/>
<path d="M626.6,436.6 A13.1,29.4 0 0 1 652.9,436.6" stroke-width="0.45" stroke-opacity="0.09"/>
<path d="M471.8,436.6 A2.0,15.1 0 0 1 475.9,436.6" stroke-width="0.6" stroke-opacity="0.07"/>
<path d="M390.0,436.6 A37.8,43.1 0 0 1 465.7,436.6" stroke-width="0.5" stroke-opacity="0.08"/>
<path d="M377.3,436.6 A16.6,32.0 0 0 1 410.5,436.6" stroke-width="0.5" stroke-opacity="0.08"/>
<path d="M394.1,436.6 A9.7,26.4 0 0 1 413.5,436.6" stroke-width="0.45" stroke-opacity="0.07"/>
<path d="M435.5,436.6 A24.2,36.7 0 0 1 484.0,436.6" stroke-width="0.3" stroke-opacity="0.05"/>
<path d="M394.1,436.6 A15.6,31.3 0 0 1 425.3,436.6" stroke-width="0.4" stroke-opacity="0.07"/>
<path d="M355.0,436.6 A13.2,29.4 0 0 1 381.3,436.6" stroke-width="0.4" stroke-opacity="0.06"/>
<path d="M355.0,436.6 A26.2,37.7 0 0 1 407.4,436.6" stroke-width="0.4" stroke-opacity="0.08"/>
<path d="M525.1,436.6 A41.5,44.5 0 0 1 608.1,436.6" stroke-width="0.3" stroke-opacity="0.10"/>
<path d="M459.0,436.6 A63.8,52.0 0 0 1 586.5,436.6" stroke-width="0.4" stroke-opacity="0.07"/>
<path d="M410.5,436.6 A6.1,22.3 0 0 1 422.7,436.6" stroke-width="0.35" stroke-opacity="0.11"/>
<path d="M465.7,436.6 A49.8,47.5 0 0 1 565.3,436.6" stroke-width="0.5" stroke-opacity="0.11"/>
<path d="M425.3,436.6 A36.0,42.3 0 0 1 497.4,436.6" stroke-width="0.45" stroke-opacity="0.06"/>
<path d="M425.3,436.6 A65.6,52.5 0 0 1 556.5,436.6" stroke-width="0.4" stroke-opacity="0.10"/>
<path d="M394.1,436.6 A32.4,40.7 0 0 1 459.0,436.6" stroke-width="0.5" stroke-opacity="0.08"/>
<path d="M553.6,436.6 A37.9,43.1 0 0 1 629.5,436.6" stroke-width="0.3" stroke-opacity="0.11"/>
<path d="M553.6,436.6 A37.9,43.1 0 0 1 629.5,436.6" stroke-width="0.3" stroke-opacity="0.11"/>
<path d="M556.5,436.6 A4.4,19.8 0 0 1 565.3,436.6" stroke-width="0.4" stroke-opacity="0.11"/>
<path d="M583.5,436.6 A21.6,35.2 0 0 1 626.6,436.6" stroke-width="0.45" stroke-opacity="0.08"/>
<path d="M439.6,436.6 A4.4,19.9 0 0 1 448.5,436.6" stroke-width="0.3" stroke-opacity="0.07"/>
<path d="M429.4,436.6 A33.7,41.3 0 0 1 496.8,436.6" stroke-width="0.35" stroke-opacity="0.11"/>
<path d="M604.7,436.6 A7.3,23.8 0 0 1 619.3,436.6" stroke-width="0.4" stroke-opacity="0.07"/>
<path d="M425.3,436.6 A121.1,65.5 0 0 1 667.5,436.6" stroke-width="0.5" stroke-opacity="0.06"/>
<path d="M417.6,436.6 A24.0,36.6 0 0 1 465.7,436.6" stroke-width="0.35" stroke-opacity="0.06"/>
<path d="M465.7,436.6 A49.8,47.5 0 0 1 565.3,436.6" stroke-width="0.5" stroke-opacity="0.09"/>
<path d="M468.7,436.6 A107.8,62.8 0 0 1 684.3,436.6" stroke-width="0.3" stroke-opacity="0.06"/>
<path d="M422.7,436.6 A43.2,45.2 0 0 1 509.1,436.6" stroke-width="0.35" stroke-opacity="0.08"/>
<path d="M374.2,436.6 A113.8,64.0 0 0 1 601.8,436.6" stroke-width="0.6" stroke-opacity="0.06"/>
<path d="M596.7,436.6 A41.9,44.7 0 0 1 680.6,436.6" stroke-width="0.3" stroke-opacity="0.08"/>
<path d="M377.3,436.6 A55.4,49.4 0 0 1 488.2,436.6" stroke-width="0.35" stroke-opacity="0.09"/>
<path d="M637.6,436.6 A23.3,36.2 0 0 1 684.3,436.6" stroke-width="0.6" stroke-opacity="0.10"/>
<path d="M407.4,436.6 A40.1,44.0 0 0 1 487.6,436.6" stroke-width="0.3" stroke-opacity="0.10"/>
<path d="M537.6,436.6 A26.2,37.7 0 0 1 590.1,436.6" stroke-width="0.4" stroke-opacity="0.09"/>
<path d="M593.0,436.6 A34.3,41.6 0 0 1 661.6,436.6" stroke-width="0.5" stroke-opacity="0.06"/>
<path d="M462.1,436.6 A31.5,40.3 0 0 1 525.1,436.6" stroke-width="0.5" stroke-opacity="0.10"/>
<path d="M434.0,436.6 A112.8,63.8 0 0 1 659.5,436.6" stroke-width="0.4" stroke-opacity="0.07"/>
<path d="M497.4,436.6 A28.1,38.7 0 0 1 553.6,436.6" stroke-width="0.5" stroke-opacity="0.10"/>
<path d="M413.5,436.6 A26.1,37.7 0 0 1 465.7,436.6" stroke-width="0.35" stroke-opacity="0.07"/>
<path d="M509.1,436.6 A47.8,46.8 0 0 1 604.7,436.6" stroke-width="0.35" stroke-opacity="0.09"/>
<path d="M357.5,436.6 A73.5,54.7 0 0 1 504.5,436.6" stroke-width="0.3" stroke-opacity="0.06"/>
<path d="M439.6,436.6 A32.5,40.8 0 0 1 504.7,436.6" stroke-width="0.35" stroke-opacity="0.05"/>
<path d="M471.8,436.6 A23.7,36.4 0 0 1 519.3,436.6" stroke-width="0.3" stroke-opacity="0.11"/>
<path d="M439.6,436.6 A32.5,40.8 0 0 1 504.7,436.6" stroke-width="0.45" stroke-opacity="0.10"/>
<path d="M448.5,436.6 A32.9,40.9 0 0 1 514.2,436.6" stroke-width="0.45" stroke-opacity="0.10"/>
<path d="M357.5,436.6 A26.5,37.9 0 0 1 410.5,436.6" stroke-width="0.35" stroke-opacity="0.08"/>
<path d="M596.7,436.6 A16.4,31.9 0 0 1 629.5,436.6" stroke-width="0.3" stroke-opacity="0.09"/>
<path d="M496.8,436.6 A35.7,42.2 0 0 1 568.2,436.6" stroke-width="0.5" stroke-opacity="0.09"/>
<path d="M511.3,436.6 A70.8,53.9 0 0 1 652.9,436.6" stroke-width="0.6" stroke-opacity="0.12"/>
<path d="M434.0,436.6 A100.3,61.2 0 0 1 634.6,436.6" stroke-width="0.5" stroke-opacity="0.10"/>
<path d="M540.2,436.6 A8.1,24.8 0 0 1 556.5,436.6" stroke-width="0.3" stroke-opacity="0.06"/>
<path d="M661.6,436.6 A9.5,26.2 0 0 1 680.6,436.6" stroke-width="0.5" stroke-opacity="0.10"/>
<path d="M504.7,436.6 A2.2,15.5 0 0 1 509.1,436.6" stroke-width="0.35" stroke-opacity="0.07"/>
<path d="M407.4,436.6 A103.4,61.8 0 0 1 614.2,436.6" stroke-width="0.3" stroke-opacity="0.05"/>
<path d="M640.5,436.6 A6.2,22.5 0 0 1 652.9,436.6" stroke-width="0.6" stroke-opacity="0.06"/>
<path d="M519.3,436.6 A2.9,17.1 0 0 1 525.1,436.6" stroke-width="0.5" stroke-opacity="0.09"/>
<path d="M459.0,436.6 A22.8,35.9 0 0 1 504.5,436.6" stroke-width="0.4" stroke-opacity="0.11"/>
<path d="M435.5,436.6 A34.5,41.6 0 0 1 504.5,436.6" stroke-width="0.45" stroke-opacity="0.09"/>
<path d="M626.6,436.6 A28.8,39.1 0 0 1 684.3,436.6" stroke-width="0.4" stroke-opacity="0.09"/>
<path d="M439.6,436.6 A112.5,63.7 0 0 1 664.6,436.6" stroke-width="0.3" stroke-opacity="0.11"/>
<path d="M572.6,436.6 A44.5,45.6 0 0 1 661.6,436.6" stroke-width="0.45" stroke-opacity="0.08"/>
<path d="M556.5,436.6 A16.8,32.1 0 0 1 590.1,436.6" stroke-width="0.3" stroke-opacity="0.08"/>
<path d="M403.3,436.6 A9.7,26.4 0 0 1 422.7,436.6" stroke-width="0.3" stroke-opacity="0.05"/>
<path d="M417.6,436.6 A99.4,61.0 0 0 1 616.4,436.6" stroke-width="0.4" stroke-opacity="0.11"/>
<path d="M465.7,436.6 A74.3,54.9 0 0 1 614.2,436.6" stroke-width="0.6" stroke-opacity="0.12"/>
<path d="M614.2,436.6 A7.6,24.2 0 0 1 629.5,436.6" stroke-width="0.3" stroke-opacity="0.05"/>
<path d="M384.4,436.6 A13.1,29.3 0 0 1 410.5,436.6" stroke-width="0.4" stroke-opacity="0.12"/>
<path d="M381.3,436.6 A61.6,51.3 0 0 1 504.5,436.6" stroke-width="0.4" stroke-opacity="0.06"/>
<path d="M637.6,436.6 A7.6,24.2 0 0 1 652.9,436.6" stroke-width="0.5" stroke-opacity="0.06"/>
<path d="M394.1,436.6 A50.6,47.8 0 0 1 495.3,436.6" stroke-width="0.5" stroke-opacity="0.09"/>
<path d="M577.0,436.6 A37.9,43.1 0 0 1 652.9,436.6" stroke-width="0.5" stroke-opacity="0.11"/>
<path d="M593.0,436.6 A27.4,38.3 0 0 1 647.8,436.6" stroke-width="0.6" stroke-opacity="0.11"/>
<path d="M422.7,436.6 A32.8,40.9 0 0 1 488.2,436.6" stroke-width="0.45" stroke-opacity="0.10"/>
<path d="M365.0,436.6 A4.6,20.2 0 0 1 374.2,436.6" stroke-width="0.35" stroke-opacity="0.06"/>
<path d="M494.9,436.6 A19.9,34.1 0 0 1 534.6,436.6" stroke-width="0.4" stroke-opacity="0.09"/>
<path d="M425.3,436.6 A94.5,59.8 0 0 1 614.2,436.6" stroke-width="0.45" stroke-opacity="0.10"/>
<path d="M425.3,436.6 A127.7,66.7 0 0 1 680.6,436.6" stroke-width="0.3" stroke-opacity="0.07"/>
<path d="M519.3,436.6 A6.2,22.5 0 0 1 531.7,436.6" stroke-width="0.6" stroke-opacity="0.07"/>
<path d="M381.3,436.6 A82.7,57.0 0 0 1 546.6,436.6" stroke-width="0.45" stroke-opacity="0.07"/>
<path d="M355.0,436.6 A114.2,64.1 0 0 1 583.5,436.6" stroke-width="0.5" stroke-opacity="0.09"/>
<path d="M374.2,436.6 A65.2,52.4 0 0 1 504.5,436.6" stroke-width="0.4" stroke-opacity="0.10"/>
<path d="M519.3,436.6 A36.9,42.6 0 0 1 593.0,436.6" stroke-width="0.5" stroke-opacity="0.11"/>
<path d="M488.2,436.6 A51.0,47.9 0 0 1 590.1,436.6" stroke-width="0.5" stroke-opacity="0.08"/>
<path d="M664.6,436.6 A9.8,26.5 0 0 1 684.3,436.6" stroke-width="0.45" stroke-opacity="0.06"/>
<path d="M509.1,436.6 A33.9,41.4 0 0 1 577.0,436.6" stroke-width="0.35" stroke-opacity="0.08"/>
<path d="M410.5,436.6 A104.4,62.0 0 0 1 619.3,436.6" stroke-width="0.35" stroke-opacity="0.06"/>
<path d="M361.0,436.6 A6.6,23.0 0 0 1 374.2,436.6" stroke-width="0.4" stroke-opacity="0.07"/>
<path d="M497.4,436.6 A85.1,57.6 0 0 1 667.5,436.6" stroke-width="0.5" stroke-opacity="0.09"/>
<path d="M586.5,436.6 A21.5,35.1 0 0 1 629.5,436.6" stroke-width="0.3" stroke-opacity="0.05"/>
<path d="M519.3,436.6 A15.7,31.4 0 0 1 550.7,436.6" stroke-width="0.5" stroke-opacity="0.11"/>
<path d="M637.6,436.6 A23.3,36.2 0 0 1 684.3,436.6" stroke-width="0.35" stroke-opacity="0.07"/>
<path d="M475.9,436.6 A21.7,35.2 0 0 1 519.3,436.6" stroke-width="0.3" stroke-opacity="0.06"/>
<path d="M495.3,436.6 A6.9,23.3 0 0 1 509.1,436.6" stroke-width="0.35" stroke-opacity="0.07"/>
<path d="M550.7,436.6 A8.8,25.4 0 0 1 568.2,436.6" stroke-width="0.3" stroke-opacity="0.08"/>
<path d="M667.5,436.6 A6.6,22.9 0 0 1 680.6,436.6" stroke-width="0.4" stroke-opacity="0.11"/>
<path d="M377.3,436.6 A121.0,65.4 0 0 1 619.3,436.6" stroke-width="0.45" stroke-opacity="0.11"/>
<path d="M556.5,436.6 A39.1,43.5 0 0 1 634.6,436.6" stroke-width="0.4" stroke-opacity="0.05"/>
<path d="M381.3,436.6 A93.5,59.6 0 0 1 568.2,436.6" stroke-width="0.5" stroke-opacity="0.07"/>
<path d="M355.0,436.6 A35.2,41.9 0 0 1 425.3,436.6" stroke-width="0.45" stroke-opacity="0.06"/>
<path d="M422.7,436.6 A130.8,67.3 0 0 1 684.3,436.6" stroke-width="0.6" stroke-opacity="0.11"/>
<path d="M429.4,436.6 A78.6,56.0 0 0 1 586.5,436.6" stroke-width="0.5" stroke-opacity="0.05"/>
<path d="M384.4,436.6 A25.6,37.4 0 0 1 435.5,436.6" stroke-width="0.35" stroke-opacity="0.07"/>
<path d="M374.2,436.6 A27.6,38.4 0 0 1 429.4,436.6" stroke-width="0.4" stroke-opacity="0.11"/>
<path d="M528.1,436.6 A20.1,34.3 0 0 1 568.2,436.6" stroke-width="0.4" stroke-opacity="0.11"/>
<path d="M519.3,436.6 A72.7,54.5 0 0 1 664.6,436.6" stroke-width="0.45" stroke-opacity="0.06"/>
<path d="M448.5,436.6 A19.8,34.1 0 0 1 488.2,436.6" stroke-width="0.45" stroke-opacity="0.07"/>
<path d="M488.2,436.6 A26.0,37.6 0 0 1 540.2,436.6" stroke-width="0.3" stroke-opacity="0.06"/>
<path d="M608.1,436.6 A14.8,30.7 0 0 1 637.6,436.6" stroke-width="0.4" stroke-opacity="0.12"/>
<path d="M384.4,436.6 A56.2,49.6 0 0 1 496.8,436.6" stroke-width="0.5" stroke-opacity="0.09"/>
<path d="M429.4,436.6 A89.4,58.7 0 0 1 608.1,436.6" stroke-width="0.6" stroke-opacity="0.06"/>
<path d="M355.0,436.6 A14.7,30.6 0 0 1 384.4,436.6" stroke-width="0.4" stroke-opacity="0.06"/>
<path d="M504.5,436.6 A62.5,51.6 0 0 1 629.5,436.6" stroke-width="0.3" stroke-opacity="0.05"/>
<path d="M422.7,436.6 A37.3,42.9 0 0 1 497.4,436.6" stroke-width="0.3" stroke-opacity="0.09"/>
<path d="M377.3,436.6 A40.8,44.3 0 0 1 459.0,436.6" stroke-width="0.3" stroke-opacity="0.08"/>
<path d="M465.7,436.6 A45.4,46.0 0 0 1 556.5,436.6" stroke-width="0.6" stroke-opacity="0.06"/>
<path d="M528.1,436.6 A27.7,38.5 0 0 1 583.5,436.6" stroke-width="0.45" stroke-opacity="0.09"/>
<path d="M462.1,436.6 A12.8,29.1 0 0 1 487.6,436.6" stroke-width="0.45" stroke-opacity="0.07"/>
<path d="M519.3,436.6 A35.4,42.0 0 0 1 590.1,436.6" stroke-width="0.4" stroke-opacity="0.09"/>
<path d="M459.0,436.6 A85.2,57.7 0 0 1 629.5,436.6" stroke-width="0.5" stroke-opacity="0.05"/>
<path d="M537.6,436.6 A35.2,42.0 0 0 1 608.1,436.6" stroke-width="0.4" stroke-opacity="0.11"/>
<path d="M499.4,436.6 A6.0,22.1 0 0 1 511.3,436.6" stroke-width="0.4" stroke-opacity="0.07"/>
<path d="M471.8,436.6 A31.4,40.3 0 0 1 534.6,436.6" stroke-width="0.45" stroke-opacity="0.06"/>
<path d="M608.1,436.6 A29.7,39.5 0 0 1 667.5,436.6" stroke-width="0.6" stroke-opacity="0.10"/>
<path d="M540.2,436.6 A65.4,52.4 0 0 1 671.1,436.6" stroke-width="0.3" stroke-opacity="0.06"/>
<path d="M377.3,436.6 A130.2,67.2 0 0 1 637.6,436.6" stroke-width="0.4" stroke-opacity="0.07"/>
<path d="M608.1,436.6 A29.7,39.5 0 0 1 667.5,436.6" stroke-width="0.45" stroke-opacity="0.08"/>
<path d="M377.3,436.6 A16.6,32.0 0 0 1 410.5,436.6" stroke-width="0.45" stroke-opacity="0.12"/>
<path d="M471.8,436.6 A26.7,38.0 0 0 1 525.1,436.6" stroke-width="0.4" stroke-opacity="0.11"/>
<path d="M468.7,436.6 A14.1,30.1 0 0 1 496.8,436.6" stroke-width="0.4" stroke-opacity="0.09"/>
<path d="M583.5,436.6 A10.6,27.2 0 0 1 604.7,436.6" stroke-width="0.6" stroke-opacity="0.07"/>
<path d="M374.2,436.6 A89.7,58.7 0 0 1 553.6,436.6" stroke-width="0.4" stroke-opacity="0.07"/>
<path d="M604.7,436.6 A29.9,39.6 0 0 1 664.6,436.6" stroke-width="0.4" stroke-opacity="0.05"/>
<path d="M429.4,436.6 A21.2,35.0 0 0 1 471.8,436.6" stroke-width="0.45" stroke-opacity="0.10"/>
<path d="M497.4,436.6 A86.9,58.1 0 0 1 671.1,436.6" stroke-width="0.5" stroke-opacity="0.05"/>
<path d="M601.8,436.6 A32.9,40.9 0 0 1 667.5,436.6" stroke-width="0.6" stroke-opacity="0.05"/>
<path d="M550.7,436.6 A10.9,27.6 0 0 1 572.6,436.6" stroke-width="0.4" stroke-opacity="0.11"/>
<path d="M377.3,436.6 A151.7,71.0 0 0 1 680.6,436.6" stroke-width="0.45" stroke-opacity="0.07"/>
<path d="M614.2,436.6 A28.4,38.9 0 0 1 671.1,436.6" stroke-width="0.4" stroke-opacity="0.11"/>
<path d="M390.0,436.6 A40.9,44.3 0 0 1 471.8,436.6" stroke-width="0.35" stroke-opacity="0.11"/>
<path d="M394.1,436.6 A60.1,50.8 0 0 1 514.2,436.6" stroke-width="0.45" stroke-opacity="0.07"/>
<path d="M565.3,436.6 A9.1,25.8 0 0 1 583.5,436.6" stroke-width="0.4" stroke-opacity="0.05"/>
<path d="M546.6,436.6 A19.9,34.2 0 0 1 586.5,436.6" stroke-width="0.5" stroke-opacity="0.09"/>
<path d="M528.1,436.6 A29.2,39.2 0 0 1 586.5,436.6" stroke-width="0.35" stroke-opacity="0.08"/>
<path d="M528.1,436.6 A59.8,50.8 0 0 1 647.8,436.6" stroke-width="0.35" stroke-opacity="0.11"/>
<path d="M514.2,436.6 A41.2,44.4 0 0 1 596.7,436.6" stroke-width="0.3" stroke-opacity="0.08"/>
<path d="M647.8,436.6 A13.2,29.4 0 0 1 674.1,436.6" stroke-width="0.5" stroke-opacity="0.08"/>
<path d="M556.5,436.6 A31.4,40.3 0 0 1 619.3,436.6" stroke-width="0.35" stroke-opacity="0.05"/>
<path d="M593.0,436.6 A39.1,43.5 0 0 1 671.1,436.6" stroke-width="0.45" stroke-opacity="0.09"/>
<path d="M390.0,436.6 A42.9,45.1 0 0 1 475.9,436.6" stroke-width="0.3" stroke-opacity="0.10"/>
<path d="M361.0,436.6 A6.6,23.0 0 0 1 374.2,436.6" stroke-width="0.4" stroke-opacity="0.08"/>
<path d="M475.9,436.6 A11.8,28.3 0 0 1 499.4,436.6" stroke-width="0.4" stroke-opacity="0.09"/>
<path d="M413.5,436.6 A13.1,29.3 0 0 1 439.6,436.6" stroke-width="0.4" stroke-opacity="0.07"/>
<path d="M525.1,436.6 A41.5,44.5 0 0 1 608.1,436.6" stroke-width="0.6" stroke-opacity="0.11"/>
<path d="M519.3,436.6 A44.4,45.6 0 0 1 608.1,436.6" stroke-width="0.5" stroke-opacity="0.07"/>
<path d="M357.5,436.6 A158.3,72.1 0 0 1 674.1,436.6" stroke-width="0.6" stroke-opacity="0.10"/>
<path d="M355.0,436.6 A9.6,26.3 0 0 1 374.2,436.6" stroke-width="0.6" stroke-opacity="0.10"/>
<path d="M496.8,436.6 A61.2,51.2 0 0 1 619.3,436.6" stroke-width="0.4" stroke-opacity="0.07"/>
<path d="M439.6,436.6 A42.8,45.0 0 0 1 525.1,436.6" stroke-width="0.45" stroke-opacity="0.06"/>
<path d="M487.6,436.6 A51.2,48.0 0 0 1 590.1,436.6" stroke-width="0.6" stroke-opacity="0.10"/>
<path d="M390.0,436.6 A8.7,25.4 0 0 1 407.4,436.6" stroke-width="0.6" stroke-opacity="0.07"/>
<path d="M435.5,436.6 A34.5,41.6 0 0 1 504.5,436.6" stroke-width="0.4" stroke-opacity="0.06"/>
<path d="M394.1,436.6 A60.1,50.8 0 0 1 514.2,436.6" stroke-width="0.45" stroke-opacity="0.10"/>
<path d="M439.6,436.6 A29.9,39.6 0 0 1 499.4,436.6" stroke-width="0.3" stroke-opacity="0.11"/>
<path d="M403.3,436.6 A113.1,63.9 0 0 1 629.5,436.6" stroke-width="0.5" stroke-opacity="0.07"/>
<path d="M499.4,436.6 A63.6,51.9 0 0 1 626.6,436.6" stroke-width="0.4" stroke-opacity="0.09"/>
<path d="M511.3,436.6 A40.8,44.3 0 0 1 593.0,436.6" stroke-width="0.35" stroke-opacity="0.07"/>
<path d="M504.7,436.6 A83.2,57.2 0 0 1 671.1,436.6" stroke-width="0.35" stroke-opacity="0.09"/>
<path d="M465.7,436.6 A31.2,40.2 0 0 1 528.1,436.6" stroke-width="0.4" stroke-opacity="0.09"/>
<path d="M586.5,436.6 A14.9,30.8 0 0 1 616.4,436.6" stroke-width="0.4" stroke-opacity="0.05"/>
<path d="M525.1,436.6 A77.8,55.8 0 0 1 680.6,436.6" stroke-width="0.5" stroke-opacity="0.10"/>
<path d="M439.6,436.6 A27.8,38.6 0 0 1 495.3,436.6" stroke-width="0.4" stroke-opacity="0.08"/>
<path d="M361.0,436.6 A88.3,58.4 0 0 1 537.6,436.6" stroke-width="0.3" stroke-opacity="0.08"/>
<path d="M381.3,436.6 A61.6,51.3 0 0 1 504.5,436.6" stroke-width="0.5" stroke-opacity="0.11"/>
<path d="M504.7,436.6 A3.3,17.9 0 0 1 511.3,436.6" stroke-width="0.6" stroke-opacity="0.06"/>
<path d="M425.3,436.6 A4.3,19.8 0 0 1 434.0,436.6" stroke-width="0.4" stroke-opacity="0.10"/>
<path d="M361.0,436.6 A36.5,42.5 0 0 1 434.0,436.6" stroke-width="0.5" stroke-opacity="0.07"/>
<path d="M568.2,436.6 A34.7,41.7 0 0 1 637.6,436.6" stroke-width="0.45" stroke-opacity="0.06"/>
<path d="M468.7,436.6 A22.8,35.9 0 0 1 514.2,436.6" stroke-width="0.45" stroke-opacity="0.09"/>
<path d="M528.1,436.6 A24.4,36.8 0 0 1 577.0,436.6" stroke-width="0.3" stroke-opacity="0.10"/>
<path d="M462.1,436.6 A86.2,57.9 0 0 1 634.6,436.6" stroke-width="0.5" stroke-opacity="0.05"/>
<path d="M494.9,436.6 A36.7,42.6 0 0 1 568.2,436.6" stroke-width="0.3" stroke-opacity="0.11"/>
<path d="M439.6,436.6 A24.3,36.7 0 0 1 488.2,436.6" stroke-width="0.5" stroke-opacity="0.10"/>
<path d="M465.7,436.6 A22.8,35.9 0 0 1 511.3,436.6" stroke-width="0.4" stroke-opacity="0.05"/>
<path d="M504.7,436.6 A17.8,32.8 0 0 1 540.2,436.6" stroke-width="0.3" stroke-opacity="0.11"/>
<path d="M429.4,436.6 A127.4,66.7 0 0 1 684.3,436.6" stroke-width="0.35" stroke-opacity="0.06"/>
<path d="M448.5,436.6 A43.1,45.1 0 0 1 534.6,436.6" stroke-width="0.35" stroke-opacity="0.07"/>
<path d="M497.4,436.6 A10.9,27.6 0 0 1 519.3,436.6" stroke-width="0.5" stroke-opacity="0.08"/>
<path d="M475.9,436.6 A95.8,60.2 0 0 1 667.5,436.6" stroke-width="0.6" stroke-opacity="0.07"/>
<path d="M434.0,436.6 A7.2,23.8 0 0 1 448.5,436.6" stroke-width="0.3" stroke-opacity="0.10"/>
<path d="M475.9,436.6 A30.9,40.0 0 0 1 537.6,436.6" stroke-width="0.6" stroke-opacity="0.08"/>
<path d="M577.0,436.6 A28.8,39.0 0 0 1 634.6,436.6" stroke-width="0.6" stroke-opacity="0.10"/>
<path d="M407.4,436.6 A89.6,58.7 0 0 1 586.5,436.6" stroke-width="0.5" stroke-opacity="0.08"/>
<path d="M439.6,436.6 A22.2,35.5 0 0 1 484.0,436.6" stroke-width="0.3" stroke-opacity="0.07"/>
<path d="M559.5,436.6 A16.8,32.1 0 0 1 593.0,436.6" stroke-width="0.45" stroke-opacity="0.08"/>
<path d="M616.4,436.6 A21.6,35.2 0 0 1 659.5,436.6" stroke-width="0.35" stroke-opacity="0.06"/>
<path d="M434.0,436.6 A35.2,42.0 0 0 1 504.5,436.6" stroke-width="0.4" stroke-opacity="0.10"/>
<path d="M361.0,436.6 A50.6,47.8 0 0 1 462.1,436.6" stroke-width="0.6" stroke-opacity="0.06"/>
<path d="M361.0,436.6 A26.2,37.7 0 0 1 413.5,436.6" stroke-width="0.3" stroke-opacity="0.06"/>
<path d="M390.0,436.6 A101.5,61.4 0 0 1 593.0,436.6" stroke-width="0.6" stroke-opacity="0.09"/>
<path d="M652.9,436.6 A13.9,30.0 0 0 1 680.6,436.6" stroke-width="0.6" stroke-opacity="0.06"/>
<path d="M514.2,436.6 A45.2,45.9 0 0 1 604.7,436.6" stroke-width="0.45" stroke-opacity="0.11"/>
<path d="M487.6,436.6 A8.4,25.1 0 0 1 504.5,436.6" stroke-width="0.35" stroke-opacity="0.08"/>
<path d="M586.5,436.6 A10.8,27.4 0 0 1 608.1,436.6" stroke-width="0.5" stroke-opacity="0.06"/>
<path d="M590.1,436.6 A45.2,45.9 0 0 1 680.6,436.6" stroke-width="0.4" stroke-opacity="0.06"/>
<path d="M429.4,436.6 A105.6,62.3 0 0 1 640.5,436.6" stroke-width="0.5" stroke-opacity="0.07"/>
<path d="M439.6,436.6 A18.1,33.1 0 0 1 475.9,436.6" stroke-width="0.45" stroke-opacity="0.07"/>
<path d="M417.6,436.6 A22.2,35.6 0 0 1 462.1,436.6" stroke-width="0.6" stroke-opacity="0.08"/>
<path d="M504.7,436.6 A15.0,30.8 0 0 1 534.6,436.6" stroke-width="0.45" stroke-opacity="0.09"/>
<path d="M399.7,436.6 A88.7,58.5 0 0 1 577.0,436.6" stroke-width="0.6" stroke-opacity="0.08"/>
<path d="M601.8,436.6 A29.9,39.6 0 0 1 661.6,436.6" stroke-width="0.35" stroke-opacity="0.11"/>
<path d="M537.6,436.6 A48.5,47.1 0 0 1 634.6,436.6" stroke-width="0.6" stroke-opacity="0.05"/>
<path d="M495.3,436.6 A35.0,41.9 0 0 1 565.3,436.6" stroke-width="0.45" stroke-opacity="0.06"/>
<path d="M514.2,436.6 A45.2,45.9 0 0 1 604.7,436.6" stroke-width="0.3" stroke-opacity="0.09"/>
<path d="M619.3,436.6 A32.5,40.8 0 0 1 684.3,436.6" stroke-width="0.35" stroke-opacity="0.10"/>
<path d="M475.9,436.6 A55.3,49.4 0 0 1 586.5,436.6" stroke-width="0.35" stroke-opacity="0.06"/>
<path d="M394.1,436.6 A32.4,40.7 0 0 1 459.0,436.6" stroke-width="0.3" stroke-opacity="0.08"/>
<path d="M488.2,436.6 A54.3,49.0 0 0 1 596.7,436.6" stroke-width="0.5" stroke-opacity="0.06"/>
<path d="M425.3,436.6 A36.0,42.3 0 0 1 497.4,436.6" stroke-width="0.45" stroke-opacity="0.06"/>
<path d="M410.5,436.6 A109.5,63.1 0 0 1 629.5,436.6" stroke-width="0.35" stroke-opacity="0.10"/>
<path d="M647.8,436.6 A18.2,33.1 0 0 1 684.3,436.6" stroke-width="0.35" stroke-opacity="0.06"/>
<path d="M471.8,436.6 A11.8,28.3 0 0 1 495.3,436.6" stroke-width="0.3" stroke-opacity="0.12"/>
<path d="M667.5,436.6 A8.4,25.0 0 0 1 684.3,436.6" stroke-width="0.3" stroke-opacity="0.12"/>
<path d="M384.4,436.6 A81.1,56.7 0 0 1 546.6,436.6" stroke-width="0.3" stroke-opacity="0.05"/>
<path d="M647.8,436.6 A8.4,25.0 0 0 1 664.6,436.6" stroke-width="0.5" stroke-opacity="0.05"/>
<path d="M448.5,436.6 A24.4,36.8 0 0 1 497.4,436.6" stroke-width="0.35" stroke-opacity="0.08"/>
<path d="M459.0,436.6 A37.8,43.0 0 0 1 534.6,436.6" stroke-width="0.35" stroke-opacity="0.07"/>
<path d="M374.2,436.6 A83.0,57.1 0 0 1 540.2,436.6" stroke-width="0.35" stroke-opacity="0.06"/>
<path d="M399.7,436.6 A24.4,36.8 0 0 1 448.5,436.6" stroke-width="0.45" stroke-opacity="0.11"/>
<path d="M619.3,436.6 A32.5,40.8 0 0 1 684.3,436.6" stroke-width="0.35" stroke-opacity="0.07"/>
<path d="M499.4,436.6 A4.9,20.6 0 0 1 509.1,436.6" stroke-width="0.45" stroke-opacity="0.06"/>
<path d="M381.3,436.6 A6.4,22.7 0 0 1 394.1,436.6" stroke-width="0.35" stroke-opacity="0.08"/>
<path d="M435.5,436.6 A95.6,60.1 0 0 1 626.6,436.6" stroke-width="0.6" stroke-opacity="0.05"/>
<path d="M565.3,436.6 A19.7,34.0 0 0 1 604.7,436.6" stroke-width="0.5" stroke-opacity="0.07"/>
<path d="M403.3,436.6 A81.0,56.6 0 0 1 565.3,436.6" stroke-width="0.3" stroke-opacity="0.08"/>
<path d="M509.1,436.6 A23.7,36.4 0 0 1 556.5,436.6" stroke-width="0.3" stroke-opacity="0.07"/>
<path d="M499.4,436.6 A16.2,31.7 0 0 1 531.7,436.6" stroke-width="0.35" stroke-opacity="0.10"/>
<path d="M528.1,436.6 A14.2,30.3 0 0 1 556.5,436.6" stroke-width="0.3" stroke-opacity="0.09"/>
<path d="M355.0,436.6 A17.5,32.6 0 0 1 390.0,436.6" stroke-width="0.3" stroke-opacity="0.08"/>
<path d="M377.3,436.6 A13.0,29.3 0 0 1 403.3,436.6" stroke-width="0.6" stroke-opacity="0.10"/>
<path d="M403.3,436.6 A9.7,26.4 0 0 1 422.7,436.6" stroke-width="0.45" stroke-opacity="0.11"/>
<path d="M355.0,436.6 A11.2,27.7 0 0 1 377.3,436.6" stroke-width="0.4" stroke-opacity="0.06"/>
<path d="M468.7,436.6 A29.7,39.5 0 0 1 528.1,436.6" stroke-width="0.4" stroke-opacity="0.11"/>
<path d="M471.8,436.6 A8.2,24.8 0 0 1 488.2,436.6" stroke-width="0.6" stroke-opacity="0.07"/>
<path d="M546.6,436.6 A6.4,22.8 0 0 1 559.5,436.6" stroke-width="0.6" stroke-opacity="0.05"/>
<path d="M413.5,436.6 A119.7,65.2 0 0 1 652.9,436.6" stroke-width="0.35" stroke-opacity="0.06"/>
<path d="M413.5,436.6 A41.9,44.7 0 0 1 497.4,436.6" stroke-width="0.3" stroke-opacity="0.06"/>
<path d="M559.5,436.6 A6.6,22.9 0 0 1 572.6,436.6" stroke-width="0.3" stroke-opacity="0.05"/>
<path d="M370.6,436.6 A58.8,50.5 0 0 1 488.2,436.6" stroke-width="0.35" stroke-opacity="0.09"/>
<path d="M614.2,436.6 A16.8,32.1 0 0 1 647.8,436.6" stroke-width="0.45" stroke-opacity="0.05"/>
<path d="M637.6,436.6 A18.2,33.1 0 0 1 674.1,436.6" stroke-width="0.3" stroke-opacity="0.10"/>
<path d="M494.9,436.6 A50.9,47.9 0 0 1 596.7,436.6" stroke-width="0.3" stroke-opacity="0.05"/>
<path d="M422.7,436.6 A80.4,56.5 0 0 1 583.5,436.6" stroke-width="0.35" stroke-opacity="0.07"/>
<path d="M390.0,436.6 A73.8,54.8 0 0 1 537.6,436.6" stroke-width="0.3" stroke-opacity="0.05"/>
<path d="M403.3,436.6 A75.2,55.1 0 0 1 553.6,436.6" stroke-width="0.35" stroke-opacity="0.08"/>
<path d="M435.5,436.6 A114.6,64.2 0 0 1 664.6,436.6" stroke-width="0.35" stroke-opacity="0.11"/>
<path d="M537.6,436.6 A4.5,20.0 0 0 1 546.6,436.6" stroke-width="0.3" stroke-opacity="0.08"/>
<path d="M355.0,436.6 A17.5,32.6 0 0 1 390.0,436.6" stroke-width="0.35" stroke-opacity="0.08"/>
<path d="M429.4,436.6 A33.0,41.0 0 0 1 495.3,436.6" stroke-width="0.4" stroke-opacity="0.09"/>
<path d="M355.0,436.6 A3.0,17.3 0 0 1 361.0,436.6" stroke-width="0.45" stroke-opacity="0.08"/>
<path d="M361.0,436.6 A114.6,64.2 0 0 1 590.1,436.6" stroke-width="0.45" stroke-opacity="0.08"/>
<path d="M496.8,436.6 A27.0,38.1 0 0 1 550.7,436.6" stroke-width="0.6" stroke-opacity="0.11"/>
<path d="M417.6,436.6 A122.0,65.6 0 0 1 661.6,436.6" stroke-width="0.5" stroke-opacity="0.06"/>
<path d="M365.0,436.6 A32.2,40.6 0 0 1 429.4,436.6" stroke-width="0.3" stroke-opacity="0.10"/>
<path d="M540.2,436.6 A72.0,54.3 0 0 1 684.3,436.6" stroke-width="0.4" stroke-opacity="0.07"/>
<path d="M484.0,436.6 A7.7,24.3 0 0 1 499.4,436.6" stroke-width="0.35" stroke-opacity="0.11"/>
<path d="M425.3,436.6 A31.2,40.1 0 0 1 487.6,436.6" stroke-width="0.5" stroke-opacity="0.05"/>
<path d="M399.7,436.6 A34.5,41.6 0 0 1 468.7,436.6" stroke-width="0.6" stroke-opacity="0.08"/>
<path d="M429.4,436.6 A42.4,44.9 0 0 1 514.2,436.6" stroke-width="0.45" stroke-opacity="0.06"/>
<path d="M403.3,436.6 A76.6,55.5 0 0 1 556.5,436.6" stroke-width="0.4" stroke-opacity="0.11"/>
<path d="M435.5,436.6 A80.6,56.5 0 0 1 596.7,436.6" stroke-width="0.35" stroke-opacity="0.09"/>
<path d="M434.0,436.6 A12.5,28.9 0 0 1 459.0,436.6" stroke-width="0.45" stroke-opacity="0.07"/>
<path d="M407.4,436.6 A66.4,52.7 0 0 1 540.2,436.6" stroke-width="0.45" stroke-opacity="0.11"/>
<path d="M355.0,436.6 A158.1,72.0 0 0 1 671.1,436.6" stroke-width="0.45" stroke-opacity="0.07"/>
<path d="M355.0,436.6 A3.0,17.3 0 0 1 361.0,436.6" stroke-width="0.3" stroke-opacity="0.08"/>
<path d="M608.1,436.6 A29.7,39.5 0 0 1 667.5,436.6" stroke-width="0.3" stroke-opacity="0.11"/>
<path d="M550.7,436.6 A2.9,17.1 0 0 1 556.5,436.6" stroke-width="0.5" stroke-opacity="0.11"/>
<path d="M565.3,436.6 A34.7,41.7 0 0 1 634.6,436.6" stroke-width="0.5" stroke-opacity="0.10"/>
<path d="M381.3,436.6 A78.2,55.9 0 0 1 537.6,436.6" stroke-width="0.4" stroke-opacity="0.12"/>
<path d="M553.6,436.6 A24.1,36.6 0 0 1 601.8,436.6" stroke-width="0.35" stroke-opacity="0.10"/>
<path d="M546.6,436.6 A19.9,34.2 0 0 1 586.5,436.6" stroke-width="0.5" stroke-opacity="0.11"/>
<path d="M568.2,436.6 A23.0,36.0 0 0 1 614.2,436.6" stroke-width="0.3" stroke-opacity="0.06"/>
<path d="M484.0,436.6 A12.6,28.9 0 0 1 509.1,436.6" stroke-width="0.3" stroke-opacity="0.11"/>
<path d="M475.9,436.6 A16.6,32.0 0 0 1 509.1,436.6" stroke-width="0.6" stroke-opacity="0.08"/>
<path d="M540.2,436.6 A28.2,38.8 0 0 1 596.7,436.6" stroke-width="0.45" stroke-opacity="0.06"/>
<path d="M399.7,436.6 A79.9,56.4 0 0 1 559.5,436.6" stroke-width="0.3" stroke-opacity="0.10"/>
<path d="M531.7,436.6 A47.4,46.7 0 0 1 626.6,436.6" stroke-width="0.6" stroke-opacity="0.08"/>
<path d="M413.5,436.6 A17.5,32.6 0 0 1 448.5,436.6" stroke-width="0.6" stroke-opacity="0.09"/>
<path d="M429.4,436.6 A119.1,65.0 0 0 1 667.5,436.6" stroke-width="0.3" stroke-opacity="0.11"/>
<path d="M499.4,436.6 A12.9,29.2 0 0 1 525.1,436.6" stroke-width="0.5" stroke-opacity="0.11"/>
<path d="M429.4,436.6 A47.9,46.9 0 0 1 525.1,436.6" stroke-width="0.35" stroke-opacity="0.10"/>
<path d="M355.0,436.6 A5.0,20.8 0 0 1 365.0,436.6" stroke-width="0.4" stroke-opacity="0.05"/>
<path d="M514.2,436.6 A34.6,41.7 0 0 1 583.5,436.6" stroke-width="0.3" stroke-opacity="0.06"/>
<path d="M583.5,436.6 A17.9,32.9 0 0 1 619.3,436.6" stroke-width="0.6" stroke-opacity="0.11"/>
<path d="M647.8,436.6 A18.2,33.1 0 0 1 684.3,436.6" stroke-width="0.3" stroke-opacity="0.09"/>
<path d="M509.1,436.6 A23.7,36.4 0 0 1 556.5,436.6" stroke-width="0.35" stroke-opacity="0.09"/>
<path d="M410.5,436.6 A7.4,23.9 0 0 1 425.3,436.6" stroke-width="0.45" stroke-opacity="0.11"/>
<path d="M634.6,436.6 A16.4,31.9 0 0 1 667.5,436.6" stroke-width="0.45" stroke-opacity="0.07"/>
<path d="M399.7,436.6 A132.5,67.6 0 0 1 664.6,436.6" stroke-width="0.6" stroke-opacity="0.06"/>
<path d="M417.6,436.6 A5.9,22.1 0 0 1 429.4,436.6" stroke-width="0.35" stroke-opacity="0.06"/>
<path d="M403.3,436.6 A16.1,31.7 0 0 1 435.5,436.6" stroke-width="0.35" stroke-opacity="0.09"/>
<path d="M537.6,436.6 A10.9,27.6 0 0 1 559.5,436.6" stroke-width="0.45" stroke-opacity="0.10"/>
<path d="M494.9,436.6 A94.7,59.9 0 0 1 684.3,436.6" stroke-width="0.4" stroke-opacity="0.08"/>
<path d="M407.4,436.6 A100.4,61.2 0 0 1 608.1,436.6" stroke-width="0.45" stroke-opacity="0.05"/>
<path d="M534.6,436.6 A69.8,53.7 0 0 1 674.1,436.6" stroke-width="0.3" stroke-opacity="0.10"/>
<path d="M417.6,436.6 A39.6,43.8 0 0 1 496.8,436.6" stroke-width="0.6" stroke-opacity="0.05"/>
<path d="M422.7,436.6 A66.9,52.9 0 0 1 556.5,436.6" stroke-width="0.35" stroke-opacity="0.07"/>
<path d="M370.6,436.6 A113.1,63.8 0 0 1 596.7,436.6" stroke-width="0.5" stroke-opacity="0.10"/>
<path d="M667.5,436.6 A8.4,25.0 0 0 1 684.3,436.6" stroke-width="0.35" stroke-opacity="0.11"/>
<path d="M484.0,436.6 A10.2,26.9 0 0 1 504.5,436.6" stroke-width="0.4" stroke-opacity="0.09"/>
<path d="M674.1,436.6 A5.1,20.9 0 0 1 684.3,436.6" stroke-width="0.4" stroke-opacity="0.05"/>
<path d="M652.9,436.6 A7.3,23.8 0 0 1 667.5,436.6" stroke-width="0.5" stroke-opacity="0.07"/>
<path d="M357.5,436.6 A52.3,48.4 0 0 1 462.1,436.6" stroke-width="0.3" stroke-opacity="0.08"/>
<path d="M434.0,436.6 A91.2,59.1 0 0 1 616.4,436.6" stroke-width="0.3" stroke-opacity="0.07"/>
<path d="M365.0,436.6 A94.3,59.8 0 0 1 553.6,436.6" stroke-width="0.4" stroke-opacity="0.10"/>
<path d="M468.7,436.6 A45.4,46.0 0 0 1 559.5,436.6" stroke-width="0.45" stroke-opacity="0.06"/>
<path d="M550.7,436.6 A25.5,37.4 0 0 1 601.8,436.6" stroke-width="0.4" stroke-opacity="0.06"/>
<path d="M465.7,436.6 A84.5,57.5 0 0 1 634.6,436.6" stroke-width="0.45" stroke-opacity="0.12"/>
<path d="M537.6,436.6 A40.8,44.3 0 0 1 619.3,436.6" stroke-width="0.5" stroke-opacity="0.08"/>
<path d="M487.6,436.6 A31.6,40.3 0 0 1 550.7,436.6" stroke-width="0.5" stroke-opacity="0.09"/>
<path d="M462.1,436.6 A42.2,44.8 0 0 1 546.6,436.6" stroke-width="0.5" stroke-opacity="0.11"/>
<path d="M596.7,436.6 A11.3,27.9 0 0 1 619.3,436.6" stroke-width="0.45" stroke-opacity="0.11"/>
<path d="M637.6,436.6 A5.1,20.9 0 0 1 647.8,436.6" stroke-width="0.6" stroke-opacity="0.07"/>
<path d="M459.0,436.6 A22.8,35.9 0 0 1 504.5,436.6" stroke-width="0.3" stroke-opacity="0.06"/>
<path d="M394.1,436.6 A27.2,38.2 0 0 1 448.5,436.6" stroke-width="0.35" stroke-opacity="0.11"/>
<path d="M390.0,436.6 A53.7,48.8 0 0 1 497.4,436.6" stroke-width="0.4" stroke-opacity="0.09"/>
<path d="M504.5,436.6 A48.6,47.1 0 0 1 601.8,436.6" stroke-width="0.4" stroke-opacity="0.05"/>
<path d="M413.5,436.6 A135.4,68.1 0 0 1 684.3,436.6" stroke-width="0.6" stroke-opacity="0.05"/>
<path d="M499.4,436.6 A12.9,29.2 0 0 1 525.1,436.6" stroke-width="0.5" stroke-opacity="0.08"/>
<path d="M664.6,436.6 A9.8,26.5 0 0 1 684.3,436.6" stroke-width="0.35" stroke-opacity="0.07"/>
<path d="M614.2,436.6 A23.7,36.4 0 0 1 661.6,436.6" stroke-width="0.6" stroke-opacity="0.09"/>
<path d="M528.1,436.6 A6.1,22.3 0 0 1 540.2,436.6" stroke-width="0.5" stroke-opacity="0.11"/>
<path d="M468.7,436.6 A35.8,42.2 0 0 1 540.2,436.6" stroke-width="0.5" stroke-opacity="0.07"/>
<path d="M422.7,436.6 A40.9,44.3 0 0 1 504.5,436.6" stroke-width="0.5" stroke-opacity="0.08"/>
<path d="M413.5,436.6 A41.7,44.6 0 0 1 496.8,436.6" stroke-width="0.35" stroke-opacity="0.08"/>
<path d="M601.8,436.6 A34.7,41.7 0 0 1 671.1,436.6" stroke-width="0.35" stroke-opacity="0.07"/>
<path d="M511.3,436.6 A6.9,23.3 0 0 1 525.1,436.6" stroke-width="0.35" stroke-opacity="0.09"/>
<path d="M403.3,436.6 A15.3,31.1 0 0 1 434.0,436.6" stroke-width="0.45" stroke-opacity="0.07"/>
<path d="M384.4,436.6 A22.5,35.7 0 0 1 429.4,436.6" stroke-width="0.6" stroke-opacity="0.08"/>
<path d="M504.7,436.6 A84.7,57.5 0 0 1 674.1,436.6" stroke-width="0.3" stroke-opacity="0.09"/>
<path d="M525.1,436.6 A4.8,20.4 0 0 1 534.6,436.6" stroke-width="0.3" stroke-opacity="0.11"/>
<path d="M448.5,436.6 A23.2,36.1 0 0 1 494.9,436.6" stroke-width="0.4" stroke-opacity="0.10"/>
<path d="M528.1,436.6 A34.3,41.6 0 0 1 596.7,436.6" stroke-width="0.35" stroke-opacity="0.09"/>
<path d="M410.5,436.6 A83.2,57.2 0 0 1 577.0,436.6" stroke-width="0.45" stroke-opacity="0.11"/>
<path d="M407.4,436.6 A40.4,44.1 0 0 1 488.2,436.6" stroke-width="0.6" stroke-opacity="0.05"/>
<path d="M511.3,436.6 A36.1,42.3 0 0 1 583.5,436.6" stroke-width="0.3" stroke-opacity="0.05"/>
<path d="M429.4,436.6 A62.1,51.5 0 0 1 553.6,436.6" stroke-width="0.5" stroke-opacity="0.12"/>
<path d="M365.0,436.6 A14.6,30.5 0 0 1 394.1,436.6" stroke-width="0.3" stroke-opacity="0.09"/>
<path d="M462.1,436.6 A13.0,29.3 0 0 1 488.2,436.6" stroke-width="0.4" stroke-opacity="0.08"/>
<path d="M537.6,436.6 A39.4,43.7 0 0 1 616.4,436.6" stroke-width="0.4" stroke-opacity="0.09"/>
<path d="M448.5,436.6 A69.0,53.5 0 0 1 586.5,436.6" stroke-width="0.35" stroke-opacity="0.09"/>
<path d="M475.9,436.6 A66.1,52.6 0 0 1 608.1,436.6" stroke-width="0.5" stroke-opacity="0.08"/>
<path d="M399.7,436.6 A98.5,60.8 0 0 1 596.7,436.6" stroke-width="0.3" stroke-opacity="0.08"/>
<path d="M422.7,436.6 A89.5,58.7 0 0 1 601.8,436.6" stroke-width="0.4" stroke-opacity="0.11"/>
<path d="M381.3,436.6 A45.2,45.9 0 0 1 471.8,436.6" stroke-width="0.4" stroke-opacity="0.11"/>
<path d="M499.4,436.6 A58.5,50.4 0 0 1 616.4,436.6" stroke-width="0.35" stroke-opacity="0.11"/>
<path d="M439.6,436.6 A117.2,64.7 0 0 1 674.1,436.6" stroke-width="0.3" stroke-opacity="0.10"/>
<path d="M407.4,436.6 A48.6,47.1 0 0 1 504.5,436.6" stroke-width="0.45" stroke-opacity="0.12"/>
<path d="M614.2,436.6 A19.3,33.8 0 0 1 652.9,436.6" stroke-width="0.6" stroke-opacity="0.05"/>
<path d="M559.5,436.6 A44.1,45.5 0 0 1 647.8,436.6" stroke-width="0.3" stroke-opacity="0.08"/>
<path d="M509.1,436.6 A38.7,43.4 0 0 1 586.5,436.6" stroke-width="0.6" stroke-opacity="0.11"/>
<path d="M429.4,436.6 A9.6,26.2 0 0 1 448.5,436.6" stroke-width="0.4" stroke-opacity="0.08"/>
<path d="M407.4,436.6 A38.3,43.2 0 0 1 484.0,436.6" stroke-width="0.4" stroke-opacity="0.10"/>
<path d="M422.7,436.6 A41.0,44.3 0 0 1 504.7,436.6" stroke-width="0.45" stroke-opacity="0.05"/>
<path d="M468.7,436.6 A84.5,57.5 0 0 1 637.6,436.6" stroke-width="0.3" stroke-opacity="0.06"/>
<path d="M370.6,436.6 A29.4,39.3 0 0 1 429.4,436.6" stroke-width="0.3" stroke-opacity="0.07"/>
<path d="M370.6,436.6 A88.0,58.3 0 0 1 546.6,436.6" stroke-width="0.5" stroke-opacity="0.05"/>
<path d="M619.3,436.6 A3.7,18.6 0 0 1 626.6,436.6" stroke-width="0.45" stroke-opacity="0.05"/>
<path d="M394.1,436.6 A135.2,68.1 0 0 1 664.6,436.6" stroke-width="0.45" stroke-opacity="0.06"/>
<path d="M422.7,436.6 A23.0,36.0 0 0 1 468.7,436.6" stroke-width="0.4" stroke-opacity="0.11"/>
<path d="M459.0,436.6 A26.2,37.7 0 0 1 511.3,436.6" stroke-width="0.5" stroke-opacity="0.07"/>
<path d="M365.0,436.6 A65.9,52.6 0 0 1 496.8,436.6" stroke-width="0.4" stroke-opacity="0.08"/>
<path d="M403.3,436.6 A18.2,33.1 0 0 1 439.6,436.6" stroke-width="0.3" stroke-opacity="0.08"/>
<path d="M495.3,436.6 A69.7,53.6 0 0 1 634.6,436.6" stroke-width="0.3" stroke-opacity="0.09"/>
<path d="M429.4,436.6 A86.2,57.9 0 0 1 601.8,436.6" stroke-width="0.6" stroke-opacity="0.08"/>
<path d="M459.0,436.6 A26.2,37.7 0 0 1 511.3,436.6" stroke-width="0.5" stroke-opacity="0.08"/>
<path d="M652.9,436.6 A13.9,30.0 0 0 1 680.6,436.6" stroke-width="0.45" stroke-opacity="0.11"/>
<path d="M417.6,436.6 A8.9,25.6 0 0 1 435.5,436.6" stroke-width="0.3" stroke-opacity="0.10"/>
<path d="M540.2,436.6 A8.1,24.8 0 0 1 556.5,436.6" stroke-width="0.35" stroke-opacity="0.10"/>
<path d="M514.2,436.6 A41.2,44.4 0 0 1 596.7,436.6" stroke-width="0.5" stroke-opacity="0.10"/>
<path d="M504.7,436.6 A16.5,31.9 0 0 1 537.6,436.6" stroke-width="0.5" stroke-opacity="0.06"/>
<path d="M596.7,436.6 A32.4,40.7 0 0 1 661.6,436.6" stroke-width="0.35" stroke-opacity="0.06"/>
<path d="M370.6,436.6 A92.9,59.5 0 0 1 556.5,436.6" stroke-width="0.6" stroke-opacity="0.07"/>
<path d="M504.7,436.6 A23.0,36.0 0 0 1 550.7,436.6" stroke-width="0.45" stroke-opacity="0.10"/>
<path d="M572.6,436.6 A28.4,38.9 0 0 1 629.5,436.6" stroke-width="0.3" stroke-opacity="0.11"/>
<path d="M394.1,436.6 A103.8,61.9 0 0 1 601.8,436.6" stroke-width="0.45" stroke-opacity="0.06"/>
<path d="M410.5,436.6 A38.8,43.5 0 0 1 488.2,436.6" stroke-width="0.45" stroke-opacity="0.10"/>
<path d="M525.1,436.6 A54.8,49.2 0 0 1 634.6,436.6" stroke-width="0.5" stroke-opacity="0.09"/>
<path d="M637.6,436.6 A21.5,35.1 0 0 1 680.6,436.6" stroke-width="0.5" stroke-opacity="0.08"/>
<path d="M637.6,436.6 A23.3,36.2 0 0 1 684.3,436.6" stroke-width="0.5" stroke-opacity="0.08"/>
<path d="M448.5,436.6 A17.8,32.8 0 0 1 484.0,436.6" stroke-width="0.35" stroke-opacity="0.08"/>
<path d="M355.0,436.6 A26.2,37.7 0 0 1 407.4,436.6" stroke-width="0.3" stroke-opacity="0.11"/>
<path d="M425.3,436.6 A36.0,42.3 0 0 1 497.4,436.6" stroke-width="0.4" stroke-opacity="0.11"/>
<path d="M407.4,436.6 A13.3,29.6 0 0 1 434.0,436.6" stroke-width="0.3" stroke-opacity="0.05"/>
<path d="M496.8,436.6 A35.7,42.2 0 0 1 568.2,436.6" stroke-width="0.5" stroke-opacity="0.11"/>
<path d="M417.6,436.6 A33.2,41.1 0 0 1 484.0,436.6" stroke-width="0.5" stroke-opacity="0.11"/>
<path d="M365.0,436.6 A22.8,35.9 0 0 1 410.5,436.6" stroke-width="0.4" stroke-opacity="0.09"/>
<path d="M629.5,436.6 A27.4,38.3 0 0 1 684.3,436.6" stroke-width="0.3" stroke-opacity="0.08"/>
<path d="M459.0,436.6 A34.6,41.7 0 0 1 528.1,436.6" stroke-width="0.35" stroke-opacity="0.07"/>
<path d="M475.9,436.6 A53.8,48.9 0 0 1 583.5,436.6" stroke-width="0.5" stroke-opacity="0.11"/>
<path d="M504.5,436.6 A7.4,23.9 0 0 1 519.3,436.6" stroke-width="0.4" stroke-opacity="0.11"/>
<path d="M634.6,436.6 A19.8,34.1 0 0 1 674.1,436.6" stroke-width="0.4" stroke-opacity="0.06"/>
<path d="M497.4,436.6 A7.0,23.4 0 0 1 511.3,436.6" stroke-width="0.3" stroke-opacity="0.09"/>
<path d="M586.5,436.6 A27.0,38.1 0 0 1 640.5,436.6" stroke-width="0.4" stroke-opacity="0.07"/>
<path d="M497.4,436.6 A26.7,38.0 0 0 1 550.7,436.6" stroke-width="0.35" stroke-opacity="0.07"/>
<path d="M519.3,436.6 A32.1,40.6 0 0 1 583.5,436.6" stroke-width="0.35" stroke-opacity="0.10"/>
<path d="M499.4,436.6 A28.6,38.9 0 0 1 556.5,436.6" stroke-width="0.6" stroke-opacity="0.10"/>
<path d="M540.2,436.6 A24.9,37.1 0 0 1 590.1,436.6" stroke-width="0.3" stroke-opacity="0.08"/>
<path d="M475.9,436.6 A38.9,43.5 0 0 1 553.6,436.6" stroke-width="0.5" stroke-opacity="0.05"/>
<path d="M377.3,436.6 A53.3,48.7 0 0 1 484.0,436.6" stroke-width="0.3" stroke-opacity="0.06"/>
<path d="M403.3,436.6 A9.7,26.4 0 0 1 422.7,436.6" stroke-width="0.6" stroke-opacity="0.09"/>
<path d="M465.7,436.6 A42.5,44.9 0 0 1 550.7,436.6" stroke-width="0.3" stroke-opacity="0.11"/>
<path d="M417.6,436.6 A35.3,42.0 0 0 1 488.2,436.6" stroke-width="0.5" stroke-opacity="0.12"/>
<path d="M629.5,436.6 A11.7,28.2 0 0 1 652.9,436.6" stroke-width="0.3" stroke-opacity="0.05"/>
<path d="M384.4,436.6 A73.7,54.7 0 0 1 531.7,436.6" stroke-width="0.4" stroke-opacity="0.05"/>
<path d="M608.1,436.6 A33.0,41.0 0 0 1 674.1,436.6" stroke-width="0.6" stroke-opacity="0.11"/>
<path d="M504.7,436.6 A27.4,38.3 0 0 1 559.5,436.6" stroke-width="0.35" stroke-opacity="0.10"/>
<path d="M439.6,436.6 A27.6,38.5 0 0 1 494.9,436.6" stroke-width="0.6" stroke-opacity="0.11"/>
<path d="M357.5,436.6 A3.8,18.7 0 0 1 365.0,436.6" stroke-width="0.3" stroke-opacity="0.09"/>
<path d="M556.5,436.6 A22.6,35.8 0 0 1 601.8,436.6" stroke-width="0.4" stroke-opacity="0.10"/>
<path d="M381.3,436.6 A144.9,69.8 0 0 1 671.1,436.6" stroke-width="0.3" stroke-opacity="0.11"/>
<path d="M495.3,436.6 A25.7,37.4 0 0 1 546.6,436.6" stroke-width="0.45" stroke-opacity="0.07"/>
<path d="M577.0,436.6 A18.6,33.3 0 0 1 614.2,436.6" stroke-width="0.35" stroke-opacity="0.10"/>
<path d="M568.2,436.6 A30.6,39.9 0 0 1 629.5,436.6" stroke-width="0.6" stroke-opacity="0.07"/>
<path d="M377.3,436.6 A20.2,34.3 0 0 1 417.6,436.6" stroke-width="0.6" stroke-opacity="0.06"/>
<path d="M462.1,436.6 A33.0,41.0 0 0 1 528.1,436.6" stroke-width="0.35" stroke-opacity="0.10"/>
<path d="M377.3,436.6 A153.5,71.3 0 0 1 684.3,436.6" stroke-width="0.5" stroke-opacity="0.05"/>
<path d="M425.3,436.6 A88.2,58.4 0 0 1 601.8,436.6" stroke-width="0.5" stroke-opacity="0.06"/>
<path d="M586.5,436.6 A16.4,31.9 0 0 1 619.3,436.6" stroke-width="0.3" stroke-opacity="0.06"/>
<path d="M410.5,436.6 A60.6,51.0 0 0 1 531.7,436.6" stroke-width="0.5" stroke-opacity="0.10"/>
<path d="M586.5,436.6 A13.9,30.0 0 0 1 614.2,436.6" stroke-width="0.4" stroke-opacity="0.06"/>
<path d="M459.0,436.6 A30.1,39.7 0 0 1 519.3,436.6" stroke-width="0.6" stroke-opacity="0.09"/>
<path d="M475.9,436.6 A11.8,28.3 0 0 1 499.4,436.6" stroke-width="0.45" stroke-opacity="0.07"/>
<path d="M637.6,436.6 A10.9,27.6 0 0 1 659.5,436.6" stroke-width="0.5" stroke-opacity="0.09"/>
<path d="M509.1,436.6 A41.9,44.7 0 0 1 593.0,436.6" stroke-width="0.6" stroke-opacity="0.08"/>
<path d="M394.1,436.6 A76.2,55.4 0 0 1 546.6,436.6" stroke-width="0.6" stroke-opacity="0.12"/>
<path d="M381.3,436.6 A16.1,31.7 0 0 1 413.5,436.6" stroke-width="0.4" stroke-opacity="0.06"/>
<path d="M499.4,436.6 A45.4,46.0 0 0 1 590.1,436.6" stroke-width="0.4" stroke-opacity="0.06"/>
<path d="M468.7,436.6 A28.2,38.7 0 0 1 525.1,436.6" stroke-width="0.6" stroke-opacity="0.11"/>
<path d="M504.5,436.6 A78.6,56.0 0 0 1 661.6,436.6" stroke-width="0.6" stroke-opacity="0.09"/>
<path d="M355.0,436.6 A14.7,30.6 0 0 1 384.4,436.6" stroke-width="0.45" stroke-opacity="0.08"/>
<path d="M471.8,436.6 A66.5,52.7 0 0 1 604.7,436.6" stroke-width="0.4" stroke-opacity="0.11"/>
<path d="M634.6,436.6 A6.6,23.0 0 0 1 647.8,436.6" stroke-width="0.5" stroke-opacity="0.12"/>
<path d="M465.7,436.6 A37.3,42.8 0 0 1 540.2,436.6" stroke-width="0.3" stroke-opacity="0.07"/>
<path d="M626.6,436.6 A13.1,29.4 0 0 1 652.9,436.6" stroke-width="0.3" stroke-opacity="0.06"/>
<path d="M429.4,436.6 A29.4,39.3 0 0 1 488.2,436.6" stroke-width="0.5" stroke-opacity="0.06"/>
<path d="M365.0,436.6 A86.3,57.9 0 0 1 537.6,436.6" stroke-width="0.5" stroke-opacity="0.08"/>
<path d="M425.3,436.6 A111.2,63.5 0 0 1 647.8,436.6" stroke-width="0.3" stroke-opacity="0.09"/>
<path d="M590.1,436.6 A37.2,42.8 0 0 1 664.6,436.6" stroke-width="0.45" stroke-opacity="0.05"/>
<path d="M487.6,436.6 A3.8,18.9 0 0 1 495.3,436.6" stroke-width="0.4" stroke-opacity="0.08"/>
<path d="M422.7,436.6 A121.0,65.4 0 0 1 664.6,436.6" stroke-width="0.6" stroke-opacity="0.05"/>
<path d="M410.5,436.6 A113.6,64.0 0 0 1 637.6,436.6" stroke-width="0.6" stroke-opacity="0.07"/>
<path d="M394.1,436.6 A20.7,34.7 0 0 1 435.5,436.6" stroke-width="0.6" stroke-opacity="0.10"/>
<path d="M370.6,436.6 A34.5,41.6 0 0 1 439.6,436.6" stroke-width="0.45" stroke-opacity="0.07"/>
<path d="M546.6,436.6 A3.5,18.3 0 0 1 553.6,436.6" stroke-width="0.6" stroke-opacity="0.11"/>
<path d="M525.1,436.6 A38.3,43.3 0 0 1 601.8,436.6" stroke-width="0.3" stroke-opacity="0.12"/>
<path d="M413.5,436.6 A55.8,49.5 0 0 1 525.1,436.6" stroke-width="0.3" stroke-opacity="0.11"/>
<path d="M509.1,436.6 A58.8,50.4 0 0 1 626.6,436.6" stroke-width="0.45" stroke-opacity="0.10"/>
<path d="M519.3,436.6 A50.0,47.6 0 0 1 619.3,436.6" stroke-width="0.35" stroke-opacity="0.10"/>
<path d="M626.6,436.6 A27.0,38.1 0 0 1 680.6,436.6" stroke-width="0.45" stroke-opacity="0.07"/>
<path d="M494.9,436.6 A9.7,26.3 0 0 1 514.2,436.6" stroke-width="0.3" stroke-opacity="0.05"/>
<path d="M403.3,436.6 A45.8,46.1 0 0 1 494.9,436.6" stroke-width="0.6" stroke-opacity="0.06"/>
<path d="M377.3,436.6 A44.2,45.5 0 0 1 465.7,436.6" stroke-width="0.45" stroke-opacity="0.06"/>
<path d="M407.4,436.6 A30.7,39.9 0 0 1 468.7,436.6" stroke-width="0.6" stroke-opacity="0.10"/>
<path d="M429.4,436.6 A23.2,36.1 0 0 1 475.9,436.6" stroke-width="0.5" stroke-opacity="0.09"/>
<path d="M357.5,436.6 A151.0,70.9 0 0 1 659.5,436.6" stroke-width="0.5" stroke-opacity="0.06"/>
<path d="M435.5,436.6 A36.8,42.6 0 0 1 509.1,436.6" stroke-width="0.3" stroke-opacity="0.08"/>
<path d="M559.5,436.6 A12.0,28.5 0 0 1 583.5,436.6" stroke-width="0.6" stroke-opacity="0.07"/>
<path d="M417.6,436.6 A50.8,47.9 0 0 1 519.3,436.6" stroke-width="0.5" stroke-opacity="0.10"/>
<path d="M546.6,436.6 A13.0,29.3 0 0 1 572.6,436.6" stroke-width="0.45" stroke-opacity="0.10"/>
<path d="M484.0,436.6 A98.3,60.7 0 0 1 680.6,436.6" stroke-width="0.35" stroke-opacity="0.06"/>
<path d="M487.6,436.6 A89.9,58.8 0 0 1 667.5,436.6" stroke-width="0.6" stroke-opacity="0.09"/>
<path d="M410.5,436.6 A78.9,56.1 0 0 1 568.2,436.6" stroke-width="0.45" stroke-opacity="0.11"/>
<path d="M553.6,436.6 A30.3,39.7 0 0 1 614.2,436.6" stroke-width="0.6" stroke-opacity="0.11"/>
<path d="M494.9,436.6 A38.9,43.5 0 0 1 572.6,436.6" stroke-width="0.35" stroke-opacity="0.05"/>
<path d="M399.7,436.6 A54.7,49.2 0 0 1 509.1,436.6" stroke-width="0.45" stroke-opacity="0.12"/>
<path d="M504.7,436.6 A30.3,39.7 0 0 1 565.3,436.6" stroke-width="0.4" stroke-opacity="0.10"/>
<path d="M546.6,436.6 A18.4,33.2 0 0 1 583.5,436.6" stroke-width="0.5" stroke-opacity="0.11"/>
<path d="M465.7,436.6 A34.5,41.6 0 0 1 534.6,436.6" stroke-width="0.3" stroke-opacity="0.08"/>
<path d="M468.7,436.6 A31.5,40.3 0 0 1 531.7,436.6" stroke-width="0.4" stroke-opacity="0.12"/>
<path d="M550.7,436.6 A31.8,40.4 0 0 1 614.2,436.6" stroke-width="0.35" stroke-opacity="0.12"/>
<path d="M422.7,436.6 A40.9,44.3 0 0 1 504.5,436.6" stroke-width="0.35" stroke-opacity="0.11"/>
<path d="M370.6,436.6 A58.5,50.4 0 0 1 487.6,436.6" stroke-width="0.5" stroke-opacity="0.12"/>
<path d="M531.7,436.6 A63.9,52.0 0 0 1 659.5,436.6" stroke-width="0.35" stroke-opacity="0.06"/>
<path d="M384.4,436.6 A20.5,34.5 0 0 1 425.3,436.6" stroke-width="0.3" stroke-opacity="0.11"/>
<path d="M422.7,436.6 A106.0,62.4 0 0 1 634.6,436.6" stroke-width="0.45" stroke-opacity="0.12"/>
<path d="M377.3,436.6 A8.4,25.0 0 0 1 394.1,436.6" stroke-width="0.4" stroke-opacity="0.07"/>
<path d="M361.0,436.6 A34.2,41.5 0 0 1 429.4,436.6" stroke-width="0.3" stroke-opacity="0.09"/>
<path d="M429.4,436.6 A119.1,65.0 0 0 1 667.5,436.6" stroke-width="0.35" stroke-opacity="0.10"/>
<path d="M475.9,436.6 A21.7,35.2 0 0 1 519.3,436.6" stroke-width="0.3" stroke-opacity="0.06"/>
<path d="M475.9,436.6 A35.4,42.0 0 0 1 546.6,436.6" stroke-width="0.35" stroke-opacity="0.11"/>
<path d="M361.0,436.6 A32.2,40.6 0 0 1 425.3,436.6" stroke-width="0.45" stroke-opacity="0.12"/>
<path d="M399.7,436.6 A119.0,65.0 0 0 1 637.6,436.6" stroke-width="0.3" stroke-opacity="0.11"/>
<path d="M422.7,436.6 A91.0,59.1 0 0 1 604.7,436.6" stroke-width="0.5" stroke-opacity="0.06"/>
<path d="M568.2,436.6 A2.2,15.5 0 0 1 572.6,436.6" stroke-width="0.5" stroke-opacity="0.09"/>
<path d="M659.5,436.6 A10.6,27.2 0 0 1 680.6,436.6" stroke-width="0.3" stroke-opacity="0.12"/>
<path d="M399.7,436.6 A5.4,21.4 0 0 1 410.5,436.6" stroke-width="0.45" stroke-opacity="0.09"/>
<path d="M448.5,436.6 A24.2,36.6 0 0 1 496.8,436.6" stroke-width="0.6" stroke-opacity="0.09"/>
<path d="M422.7,436.6 A65.5,52.4 0 0 1 553.6,436.6" stroke-width="0.4" stroke-opacity="0.08"/>
<path d="M390.0,436.6 A134.8,68.0 0 0 1 659.5,436.6" stroke-width="0.4" stroke-opacity="0.07"/>
<path d="M496.8,436.6 A34.2,41.5 0 0 1 565.3,436.6" stroke-width="0.5" stroke-opacity="0.10"/>
<path d="M403.3,436.6 A58.0,50.2 0 0 1 519.3,436.6" stroke-width="0.4" stroke-opacity="0.09"/>
<path d="M509.1,436.6 A87.6,58.2 0 0 1 684.3,436.6" stroke-width="0.3" stroke-opacity="0.10"/>
<path d="M384.4,436.6 A13.1,29.3 0 0 1 410.5,436.6" stroke-width="0.45" stroke-opacity="0.12"/>
<path d="M439.6,436.6 A100.4,61.2 0 0 1 640.5,436.6" stroke-width="0.6" stroke-opacity="0.09"/>
<path d="M403.3,436.6 A42.2,44.8 0 0 1 487.6,436.6" stroke-width="0.5" stroke-opacity="0.09"/>
<path d="M422.7,436.6 A77.2,55.6 0 0 1 577.0,436.6" stroke-width="0.6" stroke-opacity="0.06"/>
<path d="M361.0,436.6 A67.2,52.9 0 0 1 495.3,436.6" stroke-width="0.6" stroke-opacity="0.06"/>
<path d="M608.1,436.6 A22.4,35.7 0 0 1 652.9,436.6" stroke-width="0.35" stroke-opacity="0.06"/>
<path d="M504.7,436.6 A57.3,50.0 0 0 1 619.3,436.6" stroke-width="0.35" stroke-opacity="0.08"/>
<path d="M384.4,436.6 A96.3,60.3 0 0 1 577.0,436.6" stroke-width="0.6" stroke-opacity="0.10"/>
<path d="M596.7,436.6 A41.9,44.7 0 0 1 680.6,436.6" stroke-width="0.5" stroke-opacity="0.11"/>
<path d="M577.0,436.6 A35.4,42.0 0 0 1 647.8,436.6" stroke-width="0.4" stroke-opacity="0.07"/>
<path d="M370.6,436.6 A29.4,39.3 0 0 1 429.4,436.6" stroke-width="0.35" stroke-opacity="0.11"/>
<path d="M534.6,436.6 A8.1,24.7 0 0 1 550.7,436.6" stroke-width="0.5" stroke-opacity="0.11"/>
<path d="M439.6,436.6 A117.2,64.7 0 0 1 674.1,436.6" stroke-width="0.3" stroke-opacity="0.10"/>
<path d="M394.1,436.6 A27.2,38.2 0 0 1 448.5,436.6" stroke-width="0.5" stroke-opacity="0.08"/>
<path d="M637.6,436.6 A18.2,33.1 0 0 1 674.1,436.6" stroke-width="0.45" stroke-opacity="0.08"/>
<path d="M399.7,436.6 A132.5,67.6 0 0 1 664.6,436.6" stroke-width="0.35" stroke-opacity="0.10"/>
<path d="M550.7,436.6 A23.0,36.0 0 0 1 596.7,436.6" stroke-width="0.35" stroke-opacity="0.09"/>
<path d="M511.3,436.6 A42.7,45.0 0 0 1 596.7,436.6" stroke-width="0.4" stroke-opacity="0.06"/>
<path d="M394.1,436.6 A19.9,34.2 0 0 1 434.0,436.6" stroke-width="0.6" stroke-opacity="0.09"/>
<path d="M459.0,436.6 A22.8,35.9 0 0 1 504.7,436.6" stroke-width="0.45" stroke-opacity="0.12"/>
<path d="M462.1,436.6 A53.1,48.6 0 0 1 568.2,436.6" stroke-width="0.4" stroke-opacity="0.08"/>
<path d="M361.0,436.6 A53.8,48.9 0 0 1 468.7,436.6" stroke-width="0.4" stroke-opacity="0.12"/>
<path d="M407.4,436.6 A126.1,66.4 0 0 1 659.5,436.6" stroke-width="0.4" stroke-opacity="0.06"/>
<path d="M357.5,436.6 A22.9,35.9 0 0 1 403.3,436.6" stroke-width="0.5" stroke-opacity="0.11"/>
<path d="M534.6,436.6 A27.8,38.5 0 0 1 590.1,436.6" stroke-width="0.6" stroke-opacity="0.09"/>
<path d="M629.5,436.6 A27.4,38.3 0 0 1 684.3,436.6" stroke-width="0.35" stroke-opacity="0.06"/>
<path d="M381.3,436.6 A119.0,65.0 0 0 1 619.3,436.6" stroke-width="0.35" stroke-opacity="0.11"/>
<path d="M565.3,436.6 A12.4,28.8 0 0 1 590.1,436.6" stroke-width="0.5" stroke-opacity="0.10"/>
<path d="M413.5,436.6 A40.9,44.3 0 0 1 495.3,436.6" stroke-width="0.5" stroke-opacity="0.06"/>
<path d="M459.0,436.6 A59.0,50.5 0 0 1 577.0,436.6" stroke-width="0.6" stroke-opacity="0.06"/>
<path d="M553.6,436.6 A19.7,34.0 0 0 1 593.0,436.6" stroke-width="0.35" stroke-opacity="0.09"/>
<path d="M384.4,436.6 A27.6,38.4 0 0 1 439.6,436.6" stroke-width="0.45" stroke-opacity="0.11"/>
<path d="M399.7,436.6 A31.2,40.2 0 0 1 462.1,436.6" stroke-width="0.4" stroke-opacity="0.07"/>
<path d="M494.9,436.6 A8.2,24.8 0 0 1 511.3,436.6" stroke-width="0.5" stroke-opacity="0.11"/>
<path d="M565.3,436.6 A34.7,41.7 0 0 1 634.6,436.6" stroke-width="0.6" stroke-opacity="0.06"/>
<path d="M540.2,436.6 A12.5,28.9 0 0 1 565.3,436.6" stroke-width="0.3" stroke-opacity="0.10"/>
<path d="M361.0,436.6 A16.6,32.0 0 0 1 394.1,436.6" stroke-width="0.3" stroke-opacity="0.05"/>
<path d="M471.8,436.6 A8.2,24.8 0 0 1 488.2,436.6" stroke-width="0.4" stroke-opacity="0.07"/>
<path d="M435.5,436.6 A30.7,39.9 0 0 1 496.8,436.6" stroke-width="0.5" stroke-opacity="0.06"/>
<path d="M361.0,436.6 A68.2,53.2 0 0 1 497.4,436.6" stroke-width="0.35" stroke-opacity="0.07"/>
<path d="M484.0,436.6 A34.8,41.8 0 0 1 553.6,436.6" stroke-width="0.4" stroke-opacity="0.07"/>
<path d="M381.3,436.6 A58.0,50.2 0 0 1 497.4,436.6" stroke-width="0.6" stroke-opacity="0.06"/>
<path d="M365.0,436.6 A112.6,63.7 0 0 1 590.1,436.6" stroke-width="0.35" stroke-opacity="0.08"/>
<path d="M511.3,436.6 A40.8,44.3 0 0 1 593.0,436.6" stroke-width="0.5" stroke-opacity="0.07"/>
<path d="M525.1,436.6 A39.8,43.8 0 0 1 604.7,436.6" stroke-width="0.3" stroke-opacity="0.12"/>
<path d="M357.5,436.6 A59.2,50.6 0 0 1 475.9,436.6" stroke-width="0.4" stroke-opacity="0.08"/>
<path d="M399.7,436.6 A82.8,57.1 0 0 1 565.3,436.6" stroke-width="0.35" stroke-opacity="0.07"/>
<path d="M462.1,436.6 A37.8,43.0 0 0 1 537.6,436.6" stroke-width="0.35" stroke-opacity="0.07"/>
<path d="M390.0,436.6 A96.8,60.4 0 0 1 583.5,436.6" stroke-width="0.4" stroke-opacity="0.09"/>
<path d="M355.0,436.6 A14.7,30.6 0 0 1 384.4,436.6" stroke-width="0.3" stroke-opacity="0.08"/>
<path d="M661.6,436.6 A11.3,27.9 0 0 1 684.3,436.6" stroke-width="0.5" stroke-opacity="0.08"/>
<path d="M361.0,436.6 A126.6,66.5 0 0 1 614.2,436.6" stroke-width="0.5" stroke-opacity="0.07"/>
<path d="M568.2,436.6 A10.9,27.6 0 0 1 590.1,436.6" stroke-width="0.35" stroke-opacity="0.11"/>
<path d="M429.4,436.6 A127.4,66.7 0 0 1 684.3,436.6" stroke-width="0.5" stroke-opacity="0.12"/>
<path d="M403.3,436.6 A11.0,27.6 0 0 1 425.3,436.6" stroke-width="0.4" stroke-opacity="0.11"/>
<path d="M399.7,436.6 A55.8,49.5 0 0 1 511.3,436.6" stroke-width="0.4" stroke-opacity="0.08"/>
<path d="M413.5,436.6 A52.9,48.6 0 0 1 519.3,436.6" stroke-width="0.5" stroke-opacity="0.10"/>
<path d="M439.6,436.6 A39.8,43.9 0 0 1 519.3,436.6" stroke-width="0.3" stroke-opacity="0.06"/>
<path d="M559.5,436.6 A24.3,36.7 0 0 1 608.1,436.6" stroke-width="0.3" stroke-opacity="0.05"/>
<path d="M637.6,436.6 A13.5,29.7 0 0 1 664.6,436.6" stroke-width="0.6" stroke-opacity="0.07"/>
<path d="M407.4,436.6 A45.0,45.8 0 0 1 497.4,436.6" stroke-width="0.4" stroke-opacity="0.07"/>
<path d="M565.3,436.6 A24.5,36.8 0 0 1 614.2,436.6" stroke-width="0.35" stroke-opacity="0.09"/>
<path d="M357.5,436.6 A63.2,51.8 0 0 1 484.0,436.6" stroke-width="0.4" stroke-opacity="0.05"/>
<path d="M471.8,436.6 A8.2,24.8 0 0 1 488.2,436.6" stroke-width="0.4" stroke-opacity="0.06"/>
<path d="M465.7,436.6 A31.2,40.2 0 0 1 528.1,436.6" stroke-width="0.3" stroke-opacity="0.09"/>
<path d="M422.7,436.6 A19.7,34.0 0 0 1 462.1,436.6" stroke-width="0.4" stroke-opacity="0.10"/>
<path d="M514.2,436.6 A75.2,55.1 0 0 1 664.6,436.6" stroke-width="0.45" stroke-opacity="0.09"/>
<path d="M556.5,436.6 A15.0,30.9 0 0 1 586.5,436.6" stroke-width="0.4" stroke-opacity="0.08"/>
<path d="M471.8,436.6 A23.7,36.4 0 0 1 519.3,436.6" stroke-width="0.3" stroke-opacity="0.06"/>
<path d="M626.6,436.6 A28.8,39.1 0 0 1 684.3,436.6" stroke-width="0.35" stroke-opacity="0.08"/>
<path d="M525.1,436.6 A14.2,30.3 0 0 1 553.6,436.6" stroke-width="0.35" stroke-opacity="0.05"/>
<path d="M357.5,436.6 A63.2,51.8 0 0 1 484.0,436.6" stroke-width="0.35" stroke-opacity="0.06"/>
<path d="M468.7,436.6 A15.3,31.1 0 0 1 499.4,436.6" stroke-width="0.3" stroke-opacity="0.09"/>
<path d="M495.3,436.6 A47.4,46.7 0 0 1 590.1,436.6" stroke-width="0.4" stroke-opacity="0.09"/>
<path d="M565.3,436.6 A10.6,27.2 0 0 1 586.5,436.6" stroke-width="0.6" stroke-opacity="0.11"/>
<path d="M399.7,436.6 A104.2,62.0 0 0 1 608.1,436.6" stroke-width="0.45" stroke-opacity="0.06"/>
<path d="M519.3,436.6 A36.9,42.6 0 0 1 593.0,436.6" stroke-width="0.45" stroke-opacity="0.10"/>
<path d="M394.1,436.6 A111.1,63.5 0 0 1 616.4,436.6" stroke-width="0.4" stroke-opacity="0.08"/>
<path d="M384.4,436.6 A32.1,40.6 0 0 1 448.5,436.6" stroke-width="0.45" stroke-opacity="0.08"/>
<path d="M556.5,436.6 A31.4,40.3 0 0 1 619.3,436.6" stroke-width="0.45" stroke-opacity="0.06"/>
<path d="M534.6,436.6 A27.8,38.5 0 0 1 590.1,436.6" stroke-width="0.35" stroke-opacity="0.07"/>
<path d="M407.4,436.6 A25.8,37.5 0 0 1 459.0,436.6" stroke-width="0.45" stroke-opacity="0.08"/>
<path d="M487.6,436.6 A10.8,27.4 0 0 1 509.1,436.6" stroke-width="0.6" stroke-opacity="0.10"/>
<path d="M384.4,436.6 A117.4,64.7 0 0 1 619.3,436.6" stroke-width="0.6" stroke-opacity="0.12"/>
<path d="M593.0,436.6 A33.2,41.1 0 0 1 659.5,436.6" stroke-width="0.45" stroke-opacity="0.08"/>
<path d="M413.5,436.6 A133.6,67.8 0 0 1 680.6,436.6" stroke-width="0.45" stroke-opacity="0.07"/>
<path d="M509.1,436.6 A5.1,20.9 0 0 1 519.3,436.6" stroke-width="0.45" stroke-opacity="0.09"/>
<path d="M434.0,436.6 A20.9,34.8 0 0 1 475.9,436.6" stroke-width="0.6" stroke-opacity="0.05"/>
<path d="M417.6,436.6 A20.7,34.7 0 0 1 459.0,436.6" stroke-width="0.4" stroke-opacity="0.11"/>
<path d="M671.1,436.6 A6.6,23.0 0 0 1 684.3,436.6" stroke-width="0.45" stroke-opacity="0.11"/>
<path d="M365.0,436.6 A73.2,54.6 0 0 1 511.3,436.6" stroke-width="0.4" stroke-opacity="0.11"/>
<path d="M514.2,436.6 A85.0,57.6 0 0 1 684.3,436.6" stroke-width="0.6" stroke-opacity="0.08"/>
<path d="M439.6,436.6 A57.0,49.9 0 0 1 553.6,436.6" stroke-width="0.6" stroke-opacity="0.08"/>
<path d="M439.6,436.6 A11.2,27.8 0 0 1 462.1,436.6" stroke-width="0.4" stroke-opacity="0.10"/>
<path d="M488.2,436.6 A79.8,56.3 0 0 1 647.8,436.6" stroke-width="0.6" stroke-opacity="0.11"/>
<path d="M559.5,436.6 A6.6,22.9 0 0 1 572.6,436.6" stroke-width="0.4" stroke-opacity="0.07"/>
<path d="M357.5,436.6 A8.3,25.0 0 0 1 374.2,436.6" stroke-width="0.4" stroke-opacity="0.06"/>
<path d="M537.6,436.6 A8.0,24.6 0 0 1 553.6,436.6" stroke-width="0.35" stroke-opacity="0.10"/>
<path d="M422.7,436.6 A77.2,55.6 0 0 1 577.0,436.6" stroke-width="0.3" stroke-opacity="0.09"/>
<path d="M499.4,436.6 A51.2,48.0 0 0 1 601.8,436.6" stroke-width="0.6" stroke-opacity="0.08"/>
<path d="M394.1,436.6 A121.8,65.6 0 0 1 637.6,436.6" stroke-width="0.5" stroke-opacity="0.09"/>
<path d="M422.7,436.6 A12.9,29.2 0 0 1 448.5,436.6" stroke-width="0.4" stroke-opacity="0.10"/>
<path d="M528.1,436.6 A36.8,42.6 0 0 1 601.8,436.6" stroke-width="0.6" stroke-opacity="0.10"/>
<path d="M593.0,436.6 A16.8,32.1 0 0 1 626.6,436.6" stroke-width="0.45" stroke-opacity="0.07"/>
<path d="M435.5,436.6 A15.1,30.9 0 0 1 465.7,436.6" stroke-width="0.5" stroke-opacity="0.10"/>
<path d="M361.0,436.6 A120.4,65.3 0 0 1 601.8,436.6" stroke-width="0.35" stroke-opacity="0.11"/>
<path d="M511.3,436.6 A8.4,25.0 0 0 1 528.1,436.6" stroke-width="0.35" stroke-opacity="0.10"/>
<path d="M540.2,436.6 A44.6,45.7 0 0 1 629.5,436.6" stroke-width="0.6" stroke-opacity="0.07"/>
<path d="M514.2,436.6 A22.6,35.8 0 0 1 559.5,436.6" stroke-width="0.4" stroke-opacity="0.11"/>
<path d="M355.0,436.6 A22.3,35.6 0 0 1 399.7,436.6" stroke-width="0.3" stroke-opacity="0.10"/>
<path d="M459.0,436.6 A43.8,45.4 0 0 1 546.6,436.6" stroke-width="0.6" stroke-opacity="0.06"/>
<path d="M390.0,436.6 A10.2,26.9 0 0 1 410.5,436.6" stroke-width="0.4" stroke-opacity="0.07"/>
<path d="M534.6,436.6 A9.5,26.2 0 0 1 553.6,436.6" stroke-width="0.45" stroke-opacity="0.07"/>
<path d="M550.7,436.6 A19.7,34.0 0 0 1 590.1,436.6" stroke-width="0.4" stroke-opacity="0.07"/>
<path d="M355.0,436.6 A158.1,72.0 0 0 1 671.1,436.6" stroke-width="0.4" stroke-opacity="0.06"/>
<path d="M488.2,436.6 A76.2,55.4 0 0 1 640.5,436.6" stroke-width="0.3" stroke-opacity="0.05"/>
<path d="M435.5,436.6 A99.6,61.0 0 0 1 634.6,436.6" stroke-width="0.6" stroke-opacity="0.11"/>
<path d="M471.8,436.6 A6.1,22.3 0 0 1 484.0,436.6" stroke-width="0.6" stroke-opacity="0.07"/>
<path d="M572.6,436.6 A28.4,38.9 0 0 1 629.5,436.6" stroke-width="0.6" stroke-opacity="0.10"/>
<path d="M370.6,436.6 A9.7,26.4 0 0 1 390.0,436.6" stroke-width="0.3" stroke-opacity="0.08"/>
<path d="M355.0,436.6 A5.0,20.8 0 0 1 365.0,436.6" stroke-width="0.3" stroke-opacity="0.06"/>
<path d="M434.0,436.6 A59.8,50.8 0 0 1 553.6,436.6" stroke-width="0.45" stroke-opacity="0.06"/>
<path d="M661.6,436.6 A11.3,27.9 0 0 1 684.3,436.6" stroke-width="0.45" stroke-opacity="0.07"/>
<path d="M504.5,436.6 A4.9,20.6 0 0 1 514.2,436.6" stroke-width="0.35" stroke-opacity="0.07"/>
<path d="M413.5,436.6 A26.1,37.7 0 0 1 465.7,436.6" stroke-width="0.6" stroke-opacity="0.07"/>
<path d="M634.6,436.6 A18.2,33.1 0 0 1 671.1,436.6" stroke-width="0.35" stroke-opacity="0.08"/>
<path d="M531.7,436.6 A30.6,39.9 0 0 1 593.0,436.6" stroke-width="0.4" stroke-opacity="0.09"/>
<path d="M504.5,436.6 A26.0,37.6 0 0 1 556.5,436.6" stroke-width="0.45" stroke-opacity="0.07"/>
<path d="M596.7,436.6 A32.4,40.7 0 0 1 661.6,436.6" stroke-width="0.35" stroke-opacity="0.08"/>
<path d="M448.5,436.6 A38.3,43.2 0 0 1 525.1,436.6" stroke-width="0.4" stroke-opacity="0.11"/>
<path d="M355.0,436.6 A95.8,60.2 0 0 1 546.6,436.6" stroke-width="0.35" stroke-opacity="0.09"/>
<path d="M519.3,436.6 A2.9,17.1 0 0 1 525.1,436.6" stroke-width="0.45" stroke-opacity="0.05"/>
<path d="M410.5,436.6 A14.6,30.5 0 0 1 439.6,436.6" stroke-width="0.35" stroke-opacity="0.11"/>
<path d="M355.0,436.6 A37.2,42.8 0 0 1 429.4,436.6" stroke-width="0.4" stroke-opacity="0.10"/>
<path d="M471.8,436.6 A31.4,40.3 0 0 1 534.6,436.6" stroke-width="0.4" stroke-opacity="0.09"/>
<path d="M465.7,436.6 A102.7,61.7 0 0 1 671.1,436.6" stroke-width="0.3" stroke-opacity="0.10"/>
<path d="M525.1,436.6 A32.5,40.8 0 0 1 590.1,436.6" stroke-width="0.45" stroke-opacity="0.06"/>
<path d="M413.5,436.6 A57.3,50.0 0 0 1 528.1,436.6" stroke-width="0.3" stroke-opacity="0.10"/>
<path d="M471.8,436.6 A11.8,28.3 0 0 1 495.3,436.6" stroke-width="0.45" stroke-opacity="0.06"/>
<path d="M459.0,436.6 A17.9,32.9 0 0 1 494.9,436.6" stroke-width="0.6" stroke-opacity="0.09"/>
<path d="M531.7,436.6 A67.9,53.1 0 0 1 667.5,436.6" stroke-width="0.4" stroke-opacity="0.10"/>
<path d="M365.0,436.6 A115.9,64.4 0 0 1 596.7,436.6" stroke-width="0.4" stroke-opacity="0.11"/>
<path d="M422.7,436.6 A122.4,65.7 0 0 1 667.5,436.6" stroke-width="0.6" stroke-opacity="0.08"/>
<path d="M497.4,436.6 A91.6,59.2 0 0 1 680.6,436.6" stroke-width="0.35" stroke-opacity="0.08"/>
<path d="M525.1,436.6 A14.2,30.3 0 0 1 553.6,436.6" stroke-width="0.5" stroke-opacity="0.08"/>
<path d="M537.6,436.6 A38.3,43.2 0 0 1 614.2,436.6" stroke-width="0.6" stroke-opacity="0.05"/>
<path d="M357.5,436.6 A22.9,35.9 0 0 1 403.3,436.6" stroke-width="0.35" stroke-opacity="0.07"/>
<path d="M531.7,436.6 A10.9,27.6 0 0 1 553.6,436.6" stroke-width="0.6" stroke-opacity="0.05"/>
<path d="M534.6,436.6 A31.1,40.1 0 0 1 596.7,436.6" stroke-width="0.45" stroke-opacity="0.09"/>
<path d="M403.3,436.6 A115.7,64.4 0 0 1 634.6,436.6" stroke-width="0.4" stroke-opacity="0.11"/>
<path d="M546.6,436.6 A10.8,27.4 0 0 1 568.2,436.6" stroke-width="0.5" stroke-opacity="0.10"/>
<path d="M590.1,436.6 A7.3,23.8 0 0 1 604.7,436.6" stroke-width="0.4" stroke-opacity="0.06"/>
<path d="M448.5,436.6 A13.7,29.9 0 0 1 475.9,436.6" stroke-width="0.5" stroke-opacity="0.12"/>
<path d="M494.9,436.6 A25.9,37.5 0 0 1 546.6,436.6" stroke-width="0.6" stroke-opacity="0.05"/>
<path d="M361.0,436.6 A85.4,57.7 0 0 1 531.7,436.6" stroke-width="0.5" stroke-opacity="0.10"/>
<path d="M559.5,436.6 A35.0,41.9 0 0 1 629.5,436.6" stroke-width="0.45" stroke-opacity="0.08"/>
<path d="M488.2,436.6 A44.4,45.6 0 0 1 577.0,436.6" stroke-width="0.5" stroke-opacity="0.11"/>
<path d="M471.8,436.6 A6.1,22.3 0 0 1 484.0,436.6" stroke-width="0.35" stroke-opacity="0.07"/>
<path d="M384.4,436.6 A110.2,63.3 0 0 1 604.7,436.6" stroke-width="0.3" stroke-opacity="0.08"/>
<path d="M377.3,436.6 A124.7,66.1 0 0 1 626.6,436.6" stroke-width="0.4" stroke-opacity="0.08"/>
<path d="M448.5,436.6 A105.5,62.3 0 0 1 659.5,436.6" stroke-width="0.35" stroke-opacity="0.09"/>
<path d="M410.5,436.6 A6.1,22.3 0 0 1 422.7,436.6" stroke-width="0.3" stroke-opacity="0.09"/>
<path d="M537.6,436.6 A71.5,54.1 0 0 1 680.6,436.6" stroke-width="0.4" stroke-opacity="0.08"/>
<path d="M519.3,436.6 A36.9,42.6 0 0 1 593.0,436.6" stroke-width="0.35" stroke-opacity="0.07"/>
<path d="M659.5,436.6 A12.4,28.8 0 0 1 684.3,436.6" stroke-width="0.35" stroke-opacity="0.06"/>
<path d="M504.7,436.6 A2.2,15.5 0 0 1 509.1,436.6" stroke-width="0.3" stroke-opacity="0.09"/>
<path d="M514.2,436.6 A76.6,55.5 0 0 1 667.5,436.6" stroke-width="0.5" stroke-opacity="0.06"/>
<path d="M629.5,436.6 A17.6,32.7 0 0 1 664.6,436.6" stroke-width="0.6" stroke-opacity="0.09"/>
<path d="M577.0,436.6 A4.8,20.4 0 0 1 586.5,436.6" stroke-width="0.45" stroke-opacity="0.11"/>
<path d="M459.0,436.6 A12.5,28.9 0 0 1 484.0,436.6" stroke-width="0.45" stroke-opacity="0.07"/>
<path d="M596.7,436.6 A4.0,19.2 0 0 1 604.7,436.6" stroke-width="0.4" stroke-opacity="0.08"/>
<path d="M403.3,436.6 A130.7,67.3 0 0 1 664.6,436.6" stroke-width="0.35" stroke-opacity="0.09"/>
<path d="M459.0,436.6 A36.4,42.4 0 0 1 531.7,436.6" stroke-width="0.3" stroke-opacity="0.09"/>
<path d="M577.0,436.6 A21.1,34.9 0 0 1 619.3,436.6" stroke-width="0.45" stroke-opacity="0.05"/>
<path d="M434.0,436.6 A35.2,42.0 0 0 1 504.5,436.6" stroke-width="0.5" stroke-opacity="0.10"/>
<path d="M355.0,436.6 A35.2,41.9 0 0 1 425.3,436.6" stroke-width="0.35" stroke-opacity="0.11"/>
<path d="M484.0,436.6 A76.8,55.6 0 0 1 637.6,436.6" stroke-width="0.4" stroke-opacity="0.11"/>
<path d="M361.0,436.6 A52.3,48.4 0 0 1 465.7,436.6" stroke-width="0.35" stroke-opacity="0.09"/>
<path d="M381.3,436.6 A56.8,49.8 0 0 1 494.9,436.6" stroke-width="0.3" stroke-opacity="0.07"/>
<path d="M468.7,436.6 A54.2,49.0 0 0 1 577.0,436.6" stroke-width="0.4" stroke-opacity="0.06"/>
<path d="M394.1,436.6 A4.6,20.2 0 0 1 403.3,436.6" stroke-width="0.6" stroke-opacity="0.09"/>
<path d="M537.6,436.6 A40.8,44.3 0 0 1 619.3,436.6" stroke-width="0.35" stroke-opacity="0.07"/>
<path d="M537.6,436.6 A29.6,39.4 0 0 1 596.7,436.6" stroke-width="0.6" stroke-opacity="0.11"/>
<path d="M377.3,436.6 A77.2,55.7 0 0 1 531.7,436.6" stroke-width="0.3" stroke-opacity="0.07"/>
<path d="M496.8,436.6 A27.0,38.1 0 0 1 550.7,436.6" stroke-width="0.5" stroke-opacity="0.06"/>
<path d="M422.7,436.6 A3.3,18.0 0 0 1 429.4,436.6" stroke-width="0.5" stroke-opacity="0.11"/>
<path d="M546.6,436.6 A23.2,36.1 0 0 1 593.0,436.6" stroke-width="0.4" stroke-opacity="0.10"/>
<path d="M537.6,436.6 A39.4,43.7 0 0 1 616.4,436.6" stroke-width="0.45" stroke-opacity="0.08"/>
<path d="M365.0,436.6 A6.2,22.4 0 0 1 377.3,436.6" stroke-width="0.45" stroke-opacity="0.06"/>
<path d="M357.5,436.6 A57.2,49.9 0 0 1 471.8,436.6" stroke-width="0.35" stroke-opacity="0.06"/>
<path d="M357.5,436.6 A94.6,59.9 0 0 1 546.6,436.6" stroke-width="0.4" stroke-opacity="0.06"/>
<path d="M407.4,436.6 A29.2,39.2 0 0 1 465.7,436.6" stroke-width="0.45" stroke-opacity="0.09"/>
<path d="M355.0,436.6 A142.8,69.4 0 0 1 640.5,436.6" stroke-width="0.3" stroke-opacity="0.10"/>
<path d="M390.0,436.6 A8.7,25.4 0 0 1 407.4,436.6" stroke-width="0.5" stroke-opacity="0.07"/>
<path d="M514.2,436.6 A29.2,39.2 0 0 1 572.6,436.6" stroke-width="0.4" stroke-opacity="0.06"/>
<path d="M509.1,436.6 A28.1,38.7 0 0 1 565.3,436.6" stroke-width="0.35" stroke-opacity="0.08"/>
<path d="M422.7,436.6 A32.8,40.9 0 0 1 488.2,436.6" stroke-width="0.35" stroke-opacity="0.06"/>
<path d="M593.0,436.6 A40.6,44.1 0 0 1 674.1,436.6" stroke-width="0.3" stroke-opacity="0.11"/>
<path d="M355.0,436.6 A3.0,17.3 0 0 1 361.0,436.6" stroke-width="0.5" stroke-opacity="0.06"/>
<path d="M674.1,436.6 A5.1,20.9 0 0 1 684.3,436.6" stroke-width="0.3" stroke-opacity="0.08"/>
<path d="M422.7,436.6 A21.5,35.1 0 0 1 465.7,436.6" stroke-width="0.5" stroke-opacity="0.10"/>
<path d="M390.0,436.6 A29.2,39.2 0 0 1 448.5,436.6" stroke-width="0.4" stroke-opacity="0.08"/>
<path d="M525.1,436.6 A44.6,45.7 0 0 1 614.2,436.6" stroke-width="0.45" stroke-opacity="0.09"/>
<path d="M546.6,436.6 A45.5,46.0 0 0 1 637.6,436.6" stroke-width="0.6" stroke-opacity="0.07"/>
<path d="M468.7,436.6 A17.9,32.9 0 0 1 504.5,436.6" stroke-width="0.5" stroke-opacity="0.11"/>
<path d="M601.8,436.6 A8.8,25.4 0 0 1 619.3,436.6" stroke-width="0.45" stroke-opacity="0.09"/>
<path d="M468.7,436.6 A7.7,24.2 0 0 1 484.0,436.6" stroke-width="0.4" stroke-opacity="0.06"/>
<path d="M374.2,436.6 A142.7,69.4 0 0 1 659.5,436.6" stroke-width="0.3" stroke-opacity="0.05"/>
<path d="M614.2,436.6 A16.8,32.1 0 0 1 647.8,436.6" stroke-width="0.45" stroke-opacity="0.09"/>
<path d="M370.6,436.6 A118.8,65.0 0 0 1 608.1,436.6" stroke-width="0.45" stroke-opacity="0.12"/>
<path d="M370.6,436.6 A69.2,53.5 0 0 1 509.1,436.6" stroke-width="0.6" stroke-opacity="0.12"/>
<path d="M374.2,436.6 A42.4,44.9 0 0 1 459.0,436.6" stroke-width="0.6" stroke-opacity="0.12"/>
<path d="M410.5,436.6 A38.6,43.3 0 0 1 487.6,436.6" stroke-width="0.35" stroke-opacity="0.06"/>
<path d="M556.5,436.6 A25.8,37.5 0 0 1 608.1,436.6" stroke-width="0.3" stroke-opacity="0.11"/>
<path d="M471.8,436.6 A16.3,31.8 0 0 1 504.5,436.6" stroke-width="0.45" stroke-opacity="0.06"/>
<path d="M429.4,436.6 A14.8,30.7 0 0 1 459.0,436.6" stroke-width="0.5" stroke-opacity="0.09"/>
<path d="M528.1,436.6 A18.6,33.3 0 0 1 565.3,436.6" stroke-width="0.4" stroke-opacity="0.10"/>
<path d="M459.0,436.6 A104.2,62.0 0 0 1 667.5,436.6" stroke-width="0.4" stroke-opacity="0.07"/>
<path d="M586.5,436.6 A16.4,31.9 0 0 1 619.3,436.6" stroke-width="0.6" stroke-opacity="0.12"/>
<path d="M465.7,436.6 A19.5,33.9 0 0 1 504.7,436.6" stroke-width="0.35" stroke-opacity="0.09"/>
<path d="M370.6,436.6 A147.0,70.2 0 0 1 664.6,436.6" stroke-width="0.3" stroke-opacity="0.10"/>
<path d="M374.2,436.6 A80.2,56.4 0 0 1 534.6,436.6" stroke-width="0.45" stroke-opacity="0.07"/>
<path d="M417.6,436.6 A115.1,64.3 0 0 1 647.8,436.6" stroke-width="0.5" stroke-opacity="0.06"/>
<path d="M634.6,436.6 A6.6,23.0 0 0 1 647.8,436.6" stroke-width="0.6" stroke-opacity="0.12"/>
<path d="M462.1,436.6 A21.2,35.0 0 0 1 504.5,436.6" stroke-width="0.6" stroke-opacity="0.07"/>
<path d="M468.7,436.6 A84.5,57.5 0 0 1 637.6,436.6" stroke-width="0.35" stroke-opacity="0.09"/>
<path d="M484.0,436.6 A42.1,44.7 0 0 1 568.2,436.6" stroke-width="0.35" stroke-opacity="0.09"/>
<path d="M637.6,436.6 A13.5,29.7 0 0 1 664.6,436.6" stroke-width="0.35" stroke-opacity="0.06"/>
<path d="M468.7,436.6 A98.0,60.6 0 0 1 664.6,436.6" stroke-width="0.5" stroke-opacity="0.10"/>
<path d="M494.9,436.6 A22.7,35.8 0 0 1 540.2,436.6" stroke-width="0.3" stroke-opacity="0.11"/>
<path d="M534.6,436.6 A8.1,24.7 0 0 1 550.7,436.6" stroke-width="0.4" stroke-opacity="0.07"/>
<path d="M540.2,436.6 A32.2,40.6 0 0 1 604.7,436.6" stroke-width="0.5" stroke-opacity="0.09"/>
<path d="M448.5,436.6 A94.6,59.9 0 0 1 637.6,436.6" stroke-width="0.6" stroke-opacity="0.06"/>
<path d="M355.0,436.6 A153.3,71.2 0 0 1 661.6,436.6" stroke-width="0.6" stroke-opacity="0.06"/>
<path d="M487.6,436.6 A8.5,25.2 0 0 1 504.7,436.6" stroke-width="0.6" stroke-opacity="0.08"/>
<path d="M488.2,436.6 A51.0,47.9 0 0 1 590.1,436.6" stroke-width="0.35" stroke-opacity="0.09"/>
<path d="M572.6,436.6 A54.0,48.9 0 0 1 680.6,436.6" stroke-width="0.6" stroke-opacity="0.12"/>
<path d="M528.1,436.6 A18.6,33.3 0 0 1 565.3,436.6" stroke-width="0.45" stroke-opacity="0.08"/>
<path d="M496.8,436.6 A27.0,38.1 0 0 1 550.7,436.6" stroke-width="0.45" stroke-opacity="0.08"/>
<path d="M488.2,436.6 A38.5,43.3 0 0 1 565.3,436.6" stroke-width="0.4" stroke-opacity="0.07"/>
<path d="M448.5,436.6 A6.8,23.2 0 0 1 462.1,436.6" stroke-width="0.35" stroke-opacity="0.06"/>
<path d="M531.7,436.6 A38.2,43.2 0 0 1 608.1,436.6" stroke-width="0.35" stroke-opacity="0.09"/>
<path d="M361.0,436.6 A150.3,70.7 0 0 1 661.6,436.6" stroke-width="0.4" stroke-opacity="0.11"/>
<path d="M488.2,436.6 A38.5,43.3 0 0 1 565.3,436.6" stroke-width="0.5" stroke-opacity="0.09"/>
<path d="M511.3,436.6 A74.1,54.8 0 0 1 659.5,436.6" stroke-width="0.3" stroke-opacity="0.11"/>
<path d="M626.6,436.6 A13.1,29.4 0 0 1 652.9,436.6" stroke-width="0.35" stroke-opacity="0.09"/>
<path d="M429.4,436.6 A98.6,60.8 0 0 1 626.6,436.6" stroke-width="0.4" stroke-opacity="0.06"/>
<path d="M370.6,436.6 A34.5,41.6 0 0 1 439.6,436.6" stroke-width="0.3" stroke-opacity="0.09"/>
<path d="M596.7,436.6 A37.2,42.8 0 0 1 671.1,436.6" stroke-width="0.45" stroke-opacity="0.07"/>
<path d="M590.1,436.6 A19.7,34.0 0 0 1 629.5,436.6" stroke-width="0.4" stroke-opacity="0.05"/>
<path d="M601.8,436.6 A29.9,39.6 0 0 1 661.6,436.6" stroke-width="0.4" stroke-opacity="0.09"/>
<path d="M384.4,436.6 A37.3,42.8 0 0 1 459.0,436.6" stroke-width="0.4" stroke-opacity="0.09"/>
<path d="M559.5,436.6 A29.9,39.6 0 0 1 619.3,436.6" stroke-width="0.4" stroke-opacity="0.11"/>
<path d="M614.2,436.6 A35.0,41.9 0 0 1 684.3,436.6" stroke-width="0.3" stroke-opacity="0.08"/>
<path d="M593.0,436.6 A18.2,33.1 0 0 1 629.5,436.6" stroke-width="0.3" stroke-opacity="0.12"/>
<path d="M565.3,436.6 A49.7,47.5 0 0 1 664.6,436.6" stroke-width="0.3" stroke-opacity="0.11"/>
<path d="M361.0,436.6 A34.2,41.5 0 0 1 429.4,436.6" stroke-width="0.5" stroke-opacity="0.09"/>
<path d="M661.6,436.6 A11.3,27.9 0 0 1 684.3,436.6" stroke-width="0.4" stroke-opacity="0.06"/>
<path d="M377.3,436.6 A18.1,33.0 0 0 1 413.5,436.6" stroke-width="0.5" stroke-opacity="0.07"/>
<path d="M487.6,436.6 A3.8,18.9 0 0 1 495.3,436.6" stroke-width="0.3" stroke-opacity="0.09"/>
<path d="M504.5,436.6 A39.5,43.7 0 0 1 583.5,436.6" stroke-width="0.6" stroke-opacity="0.09"/>
<path d="M407.4,436.6 A127.1,66.6 0 0 1 661.6,436.6" stroke-width="0.35" stroke-opacity="0.08"/>
<path d="M471.8,436.6 A37.4,42.9 0 0 1 546.6,436.6" stroke-width="0.4" stroke-opacity="0.08"/>
<path d="M468.7,436.6 A60.7,51.0 0 0 1 590.1,436.6" stroke-width="0.5" stroke-opacity="0.07"/>
<path d="M525.1,436.6 A47.1,46.6 0 0 1 619.3,436.6" stroke-width="0.3" stroke-opacity="0.07"/>
<path d="M407.4,436.6 A5.1,20.9 0 0 1 417.6,436.6" stroke-width="0.45" stroke-opacity="0.09"/>
<path d="M586.5,436.6 A7.6,24.2 0 0 1 601.8,436.6" stroke-width="0.3" stroke-opacity="0.08"/>
<path d="M465.7,436.6 A31.2,40.2 0 0 1 528.1,436.6" stroke-width="0.35" stroke-opacity="0.06"/>
<path d="M556.5,436.6 A4.4,19.8 0 0 1 565.3,436.6" stroke-width="0.6" stroke-opacity="0.08"/>
<path d="M608.1,436.6 A19.8,34.1 0 0 1 647.8,436.6" stroke-width="0.3" stroke-opacity="0.08"/>
<path d="M583.5,436.6 A4.8,20.4 0 0 1 593.0,436.6" stroke-width="0.5" stroke-opacity="0.10"/>
<path d="M425.3,436.6 A7.2,23.6 0 0 1 439.6,436.6" stroke-width="0.45" stroke-opacity="0.07"/>
<path d="M390.0,436.6 A52.7,48.5 0 0 1 495.3,436.6" stroke-width="0.3" stroke-opacity="0.08"/>
<path d="M394.1,436.6 A17.6,32.7 0 0 1 429.4,436.6" stroke-width="0.45" stroke-opacity="0.08"/>
<path d="M509.1,436.6 A25.2,37.2 0 0 1 559.5,436.6" stroke-width="0.5" stroke-opacity="0.09"/>
<path d="M462.1,436.6 A48.7,47.2 0 0 1 559.5,436.6" stroke-width="0.4" stroke-opacity="0.05"/>
<path d="M434.0,436.6 A14.1,30.1 0 0 1 462.1,436.6" stroke-width="0.6" stroke-opacity="0.08"/>
<path d="M475.9,436.6 A21.7,35.2 0 0 1 519.3,436.6" stroke-width="0.4" stroke-opacity="0.09"/>
<path d="M357.5,436.6 A38.2,43.2 0 0 1 434.0,436.6" stroke-width="0.6" stroke-opacity="0.09"/>
<path d="M459.0,436.6 A39.3,43.6 0 0 1 537.6,436.6" stroke-width="0.6" stroke-opacity="0.06"/>
<path d="M417.6,436.6 A39.6,43.8 0 0 1 496.8,436.6" stroke-width="0.35" stroke-opacity="0.06"/>
<path d="M377.3,436.6 A26.0,37.6 0 0 1 429.4,436.6" stroke-width="0.35" stroke-opacity="0.06"/>
<path d="M468.7,436.6 A79.0,56.1 0 0 1 626.6,436.6" stroke-width="0.3" stroke-opacity="0.09"/>
<path d="M504.7,436.6 A39.4,43.7 0 0 1 583.5,436.6" stroke-width="0.45" stroke-opacity="0.05"/>
<path d="M572.6,436.6 A10.2,26.9 0 0 1 593.0,436.6" stroke-width="0.4" stroke-opacity="0.07"/>
<path d="M439.6,436.6 A39.8,43.9 0 0 1 519.3,436.6" stroke-width="0.35" stroke-opacity="0.08"/>
<path d="M586.5,436.6 A33.2,41.1 0 0 1 652.9,436.6" stroke-width="0.45" stroke-opacity="0.10"/>
<path d="M468.7,436.6 A42.5,44.9 0 0 1 553.6,436.6" stroke-width="0.3" stroke-opacity="0.11"/>
<path d="M475.9,436.6 A29.4,39.3 0 0 1 534.6,436.6" stroke-width="0.4" stroke-opacity="0.05"/>
<path d="M381.3,436.6 A97.8,60.6 0 0 1 577.0,436.6" stroke-width="0.45" stroke-opacity="0.10"/>
<path d="M374.2,436.6 A121.1,65.5 0 0 1 616.4,436.6" stroke-width="0.5" stroke-opacity="0.12"/>
<path d="M448.5,436.6 A25.4,37.3 0 0 1 499.4,436.6" stroke-width="0.6" stroke-opacity="0.09"/>
<path d="M504.5,436.6 A83.3,57.2 0 0 1 671.1,436.6" stroke-width="0.3" stroke-opacity="0.08"/>
<path d="M468.7,436.6 A107.8,62.8 0 0 1 684.3,436.6" stroke-width="0.4" stroke-opacity="0.09"/>
<path d="M422.7,436.6 A91.0,59.1 0 0 1 604.7,436.6" stroke-width="0.5" stroke-opacity="0.11"/>
<path d="M608.1,436.6 A4.1,19.4 0 0 1 616.4,436.6" stroke-width="0.5" stroke-opacity="0.06"/>
<path d="M511.3,436.6 A19.7,34.0 0 0 1 550.7,436.6" stroke-width="0.4" stroke-opacity="0.07"/>
<path d="M556.5,436.6 A13.5,29.7 0 0 1 583.5,436.6" stroke-width="0.4" stroke-opacity="0.11"/>
<path d="M422.7,436.6 A54.5,49.1 0 0 1 531.7,436.6" stroke-width="0.35" stroke-opacity="0.06"/>
<path d="M355.0,436.6 A40.2,44.0 0 0 1 435.5,436.6" stroke-width="0.45" stroke-opacity="0.07"/>
<path d="M410.5,436.6 A42.2,44.8 0 0 1 494.9,436.6" stroke-width="0.3" stroke-opacity="0.07"/>
<path d="M357.5,436.6 A18.3,33.1 0 0 1 394.1,436.6" stroke-width="0.3" stroke-opacity="0.10"/>
<path d="M647.8,436.6 A18.2,33.1 0 0 1 684.3,436.6" stroke-width="0.45" stroke-opacity="0.05"/>
<path d="M629.5,436.6 A9.1,25.8 0 0 1 647.8,436.6" stroke-width="0.4" stroke-opacity="0.09"/>
<path d="M534.6,436.6 A68.2,53.2 0 0 1 671.1,436.6" stroke-width="0.45" stroke-opacity="0.06"/>
<path d="M488.2,436.6 A96.2,60.2 0 0 1 680.6,436.6" stroke-width="0.5" stroke-opacity="0.08"/>
<path d="M619.3,436.6 A10.6,27.2 0 0 1 640.5,436.6" stroke-width="0.5" stroke-opacity="0.07"/>
<path d="M448.5,436.6 A6.8,23.2 0 0 1 462.1,436.6" stroke-width="0.4" stroke-opacity="0.09"/>
<path d="M435.5,436.6 A20.2,34.3 0 0 1 475.9,436.6" stroke-width="0.3" stroke-opacity="0.09"/>
<path d="M590.1,436.6 A47.1,46.6 0 0 1 684.3,436.6" stroke-width="0.4" stroke-opacity="0.06"/>
<path d="M504.7,436.6 A25.9,37.6 0 0 1 556.5,436.6" stroke-width="0.4" stroke-opacity="0.10"/>
<path d="M439.6,436.6 A64.3,52.1 0 0 1 568.2,436.6" stroke-width="0.35" stroke-opacity="0.09"/>
<path d="M429.4,436.6 A42.4,44.9 0 0 1 514.2,436.6" stroke-width="0.3" stroke-opacity="0.11"/>
<path d="M434.0,436.6 A37.6,42.9 0 0 1 509.1,436.6" stroke-width="0.6" stroke-opacity="0.07"/>
<path d="M459.0,436.6 A62.2,51.5 0 0 1 583.5,436.6" stroke-width="0.5" stroke-opacity="0.06"/>
<path d="M616.4,436.6 A24.1,36.6 0 0 1 664.6,436.6" stroke-width="0.35" stroke-opacity="0.10"/>
<path d="M496.8,436.6 A44.8,45.8 0 0 1 586.5,436.6" stroke-width="0.35" stroke-opacity="0.09"/>
<path d="M417.6,436.6 A123.5,65.9 0 0 1 664.6,436.6" stroke-width="0.4" stroke-opacity="0.10"/>
<path d="M448.5,436.6 A85.4,57.7 0 0 1 619.3,436.6" stroke-width="0.35" stroke-opacity="0.06"/>
<path d="M590.1,436.6 A18.2,33.1 0 0 1 626.6,436.6" stroke-width="0.35" stroke-opacity="0.09"/>
<path d="M465.7,436.6 A75.3,55.2 0 0 1 616.4,436.6" stroke-width="0.6" stroke-opacity="0.05"/>
<path d="M355.0,436.6 A11.2,27.7 0 0 1 377.3,436.6" stroke-width="0.3" stroke-opacity="0.08"/>
<path d="M434.0,436.6 A35.3,42.0 0 0 1 504.7,436.6" stroke-width="0.6" stroke-opacity="0.11"/>
<path d="M403.3,436.6 A9.7,26.4 0 0 1 422.7,436.6" stroke-width="0.35" stroke-opacity="0.07"/>
<path d="M559.5,436.6 A27.4,38.3 0 0 1 614.2,436.6" stroke-width="0.35" stroke-opacity="0.07"/>
<path d="M556.5,436.6 A20.1,34.3 0 0 1 596.7,436.6" stroke-width="0.45" stroke-opacity="0.08"/>
<path d="M459.0,436.6 A33.1,41.0 0 0 1 525.1,436.6" stroke-width="0.4" stroke-opacity="0.09"/>
<path d="M528.1,436.6 A31.0,40.1 0 0 1 590.1,436.6" stroke-width="0.6" stroke-opacity="0.10"/>
<path d="M355.0,436.6 A153.3,71.2 0 0 1 661.6,436.6" stroke-width="0.4" stroke-opacity="0.12"/>
<path d="M403.3,436.6 A96.7,60.4 0 0 1 596.7,436.6" stroke-width="0.35" stroke-opacity="0.09"/>
<path d="M626.6,436.6 A13.1,29.4 0 0 1 652.9,436.6" stroke-width="0.6" stroke-opacity="0.09"/>
<path d="M394.1,436.6 A17.6,32.7 0 0 1 429.4,436.6" stroke-width="0.4" stroke-opacity="0.10"/>
<path d="M410.5,436.6 A29.1,39.2 0 0 1 468.7,436.6" stroke-width="0.3" stroke-opacity="0.05"/>
<path d="M590.1,436.6 A12.1,28.5 0 0 1 614.2,436.6" stroke-width="0.35" stroke-opacity="0.11"/>
<path d="M497.4,436.6 A20.1,34.3 0 0 1 537.6,436.6" stroke-width="0.45" stroke-opacity="0.05"/>
<path d="M568.2,436.6 A30.6,39.9 0 0 1 629.5,436.6" stroke-width="0.45" stroke-opacity="0.11"/>
<path d="M377.3,436.6 A80.2,56.4 0 0 1 537.6,436.6" stroke-width="0.35" stroke-opacity="0.11"/>
<path d="M417.6,436.6 A35.3,42.0 0 0 1 488.2,436.6" stroke-width="0.6" stroke-opacity="0.07"/>
<path d="M422.7,436.6 A40.9,44.3 0 0 1 504.5,436.6" stroke-width="0.5" stroke-opacity="0.06"/>
<path d="M370.6,436.6 A21.4,35.1 0 0 1 413.5,436.6" stroke-width="0.5" stroke-opacity="0.11"/>
<path d="M355.0,436.6 A24.2,36.6 0 0 1 403.3,436.6" stroke-width="0.4" stroke-opacity="0.10"/>
<path d="M608.1,436.6 A38.1,43.2 0 0 1 684.3,436.6" stroke-width="0.35" stroke-opacity="0.06"/>
<path d="M616.4,436.6 A12.1,28.5 0 0 1 640.5,436.6" stroke-width="0.3" stroke-opacity="0.06"/>
<path d="M534.6,436.6 A51.5,48.1 0 0 1 637.6,436.6" stroke-width="0.4" stroke-opacity="0.09"/>
<path d="M487.6,436.6 A8.4,25.1 0 0 1 504.5,436.6" stroke-width="0.3" stroke-opacity="0.07"/>
<path d="M590.1,436.6 A18.2,33.1 0 0 1 626.6,436.6" stroke-width="0.45" stroke-opacity="0.12"/>
<path d="M531.7,436.6 A47.4,46.7 0 0 1 626.6,436.6" stroke-width="0.45" stroke-opacity="0.10"/>
<path d="M514.2,436.6 A69.3,53.5 0 0 1 652.9,436.6" stroke-width="0.6" stroke-opacity="0.10"/>
<path d="M422.7,436.6 A44.3,45.6 0 0 1 511.3,436.6" stroke-width="0.6" stroke-opacity="0.11"/>
<path d="M629.5,436.6 A9.1,25.8 0 0 1 647.8,436.6" stroke-width="0.5" stroke-opacity="0.07"/>
<path d="M365.0,436.6 A19.2,33.7 0 0 1 403.3,436.6" stroke-width="0.3" stroke-opacity="0.11"/>
<path d="M525.1,436.6 A25.9,37.6 0 0 1 577.0,436.6" stroke-width="0.45" stroke-opacity="0.08"/>
<path d="M403.3,436.6 A2.0,15.1 0 0 1 407.4,436.6" stroke-width="0.45" stroke-opacity="0.08"/>
<path d="M381.3,436.6 A78.2,55.9 0 0 1 537.6,436.6" stroke-width="0.3" stroke-opacity="0.08"/>
<path d="M439.6,436.6 A32.5,40.8 0 0 1 504.7,436.6" stroke-width="0.6" stroke-opacity="0.07"/>
<path d="M403.3,436.6 A42.4,44.9 0 0 1 488.2,436.6" stroke-width="0.35" stroke-opacity="0.11"/>
<path d="M565.3,436.6 A41.2,44.4 0 0 1 647.8,436.6" stroke-width="0.6" stroke-opacity="0.06"/>
<path d="M514.2,436.6 A39.4,43.7 0 0 1 593.0,436.6" stroke-width="0.35" stroke-opacity="0.10"/>
<path d="M556.5,436.6 A35.1,41.9 0 0 1 626.6,436.6" stroke-width="0.3" stroke-opacity="0.07"/>
<path d="M572.6,436.6 A55.8,49.5 0 0 1 684.3,436.6" stroke-width="0.4" stroke-opacity="0.11"/>
<path d="M487.6,436.6 A70.9,54.0 0 0 1 629.5,436.6" stroke-width="0.6" stroke-opacity="0.08"/>
<path d="M465.7,436.6 A44.0,45.4 0 0 1 553.6,436.6" stroke-width="0.5" stroke-opacity="0.11"/>
<path d="M509.1,436.6 A15.6,31.3 0 0 1 540.2,436.6" stroke-width="0.6" stroke-opacity="0.12"/>
<path d="M357.5,436.6 A101.0,61.3 0 0 1 559.5,436.6" stroke-width="0.4" stroke-opacity="0.09"/>
<path d="M377.3,436.6 A130.2,67.2 0 0 1 637.6,436.6" stroke-width="0.3" stroke-opacity="0.09"/>
<path d="M553.6,436.6 A40.5,44.1 0 0 1 634.6,436.6" stroke-width="0.4" stroke-opacity="0.05"/>
<path d="M361.0,436.6 A37.2,42.8 0 0 1 435.5,436.6" stroke-width="0.3" stroke-opacity="0.11"/>
<path d="M439.6,436.6 A18.1,33.1 0 0 1 475.9,436.6" stroke-width="0.45" stroke-opacity="0.07"/>
<path d="M394.1,436.6 A27.2,38.2 0 0 1 448.5,436.6" stroke-width="0.35" stroke-opacity="0.08"/>
<path d="M540.2,436.6 A26.4,37.8 0 0 1 593.0,436.6" stroke-width="0.4" stroke-opacity="0.05"/>
<path d="M429.4,436.6 A32.8,40.9 0 0 1 494.9,436.6" stroke-width="0.3" stroke-opacity="0.11"/>
<path d="M422.7,436.6 A37.1,42.7 0 0 1 496.8,436.6" stroke-width="0.45" stroke-opacity="0.07"/>
<path d="M475.9,436.6 A19.2,33.7 0 0 1 514.2,436.6" stroke-width="0.35" stroke-opacity="0.09"/>
<path d="M390.0,436.6 A8.7,25.4 0 0 1 407.4,436.6" stroke-width="0.35" stroke-opacity="0.07"/>
<path d="M499.4,436.6 A59.9,50.8 0 0 1 619.3,436.6" stroke-width="0.45" stroke-opacity="0.10"/>
<path d="M355.0,436.6 A105.1,62.2 0 0 1 565.3,436.6" stroke-width="0.4" stroke-opacity="0.05"/>
<path d="M484.0,436.6 A42.1,44.7 0 0 1 568.2,436.6" stroke-width="0.35" stroke-opacity="0.07"/>
<path d="M528.1,436.6 A12.8,29.1 0 0 1 553.6,436.6" stroke-width="0.6" stroke-opacity="0.06"/>
<path d="M429.4,436.6 A71.6,54.2 0 0 1 572.6,436.6" stroke-width="0.5" stroke-opacity="0.05"/>
<path d="M459.0,436.6 A40.6,44.2 0 0 1 540.2,436.6" stroke-width="0.4" stroke-opacity="0.05"/>
<path d="M465.7,436.6 A104.2,62.0 0 0 1 674.1,436.6" stroke-width="0.6" stroke-opacity="0.11"/>
<path d="M425.3,436.6 A43.0,45.1 0 0 1 511.3,436.6" stroke-width="0.5" stroke-opacity="0.08"/>
<path d="M403.3,436.6 A46.0,46.2 0 0 1 495.3,436.6" stroke-width="0.4" stroke-opacity="0.08"/>
<path d="M593.0,436.6 A45.6,46.1 0 0 1 684.3,436.6" stroke-width="0.3" stroke-opacity="0.09"/>
<path d="M468.7,436.6 A48.3,47.0 0 0 1 565.3,436.6" stroke-width="0.35" stroke-opacity="0.11"/>
<path d="M577.0,436.6 A45.2,45.9 0 0 1 667.5,436.6" stroke-width="0.6" stroke-opacity="0.10"/>
<path d="M439.6,436.6 A32.5,40.8 0 0 1 504.7,436.6" stroke-width="0.6" stroke-opacity="0.11"/>
<path d="M509.1,436.6 A15.6,31.3 0 0 1 540.2,436.6" stroke-width="0.35" stroke-opacity="0.09"/>
<path d="M381.3,436.6 A84.7,57.5 0 0 1 550.7,436.6" stroke-width="0.35" stroke-opacity="0.07"/>
<path d="M435.5,436.6 A74.0,54.8 0 0 1 583.5,436.6" stroke-width="0.3" stroke-opacity="0.10"/>
<path d="M459.0,436.6 A34.6,41.7 0 0 1 528.1,436.6" stroke-width="0.6" stroke-opacity="0.06"/>
<path d="M370.6,436.6 A111.2,63.5 0 0 1 593.0,436.6" stroke-width="0.35" stroke-opacity="0.06"/>
<path d="M355.0,436.6 A3.0,17.3 0 0 1 361.0,436.6" stroke-width="0.35" stroke-opacity="0.12"/>
<path d="M514.2,436.6 A52.5,48.5 0 0 1 619.3,436.6" stroke-width="0.4" stroke-opacity="0.06"/>
<path d="M361.0,436.6 A21.2,34.9 0 0 1 403.3,436.6" stroke-width="0.3" stroke-opacity="0.11"/>
<path d="M496.8,436.6 A59.8,50.8 0 0 1 616.4,436.6" stroke-width="0.3" stroke-opacity="0.09"/>
<path d="M531.7,436.6 A13.9,30.0 0 0 1 559.5,436.6" stroke-width="0.4" stroke-opacity="0.09"/>
<path d="M355.0,436.6 A17.5,32.6 0 0 1 390.0,436.6" stroke-width="0.6" stroke-opacity="0.08"/>
<path d="M434.0,436.6 A115.3,64.3 0 0 1 664.6,436.6" stroke-width="0.45" stroke-opacity="0.08"/>
<path d="M652.9,436.6 A5.9,22.0 0 0 1 664.6,436.6" stroke-width="0.4" stroke-opacity="0.10"/>
<path d="M407.4,436.6 A109.6,63.1 0 0 1 626.6,436.6" stroke-width="0.5" stroke-opacity="0.06"/>
<path d="M361.0,436.6 A83.6,57.3 0 0 1 528.1,436.6" stroke-width="0.45" stroke-opacity="0.10"/>
<path d="M559.5,436.6 A35.0,41.9 0 0 1 629.5,436.6" stroke-width="0.35" stroke-opacity="0.11"/>
<path d="M429.4,436.6 A2.3,15.7 0 0 1 434.0,436.6" stroke-width="0.3" stroke-opacity="0.11"/>
<path d="M565.3,436.6 A34.7,41.7 0 0 1 634.6,436.6" stroke-width="0.6" stroke-opacity="0.06"/>
<path d="M509.1,436.6 A2.6,16.3 0 0 1 514.2,436.6" stroke-width="0.6" stroke-opacity="0.10"/>
<path d="M355.0,436.6 A27.8,38.5 0 0 1 410.5,436.6" stroke-width="0.6" stroke-opacity="0.07"/>
<path d="M468.7,436.6 A34.5,41.6 0 0 1 537.6,436.6" stroke-width="0.5" stroke-opacity="0.05"/>
<path d="M425.3,436.6 A37.0,42.7 0 0 1 499.4,436.6" stroke-width="0.6" stroke-opacity="0.09"/>
<path d="M439.6,436.6 A9.7,26.4 0 0 1 459.0,436.6" stroke-width="0.45" stroke-opacity="0.08"/>
<path d="M640.5,436.6 A10.6,27.2 0 0 1 661.6,436.6" stroke-width="0.35" stroke-opacity="0.10"/>
<path d="M355.0,436.6 A7.8,24.4 0 0 1 370.6,436.6" stroke-width="0.6" stroke-opacity="0.09"/>
<path d="M590.1,436.6 A42.0,44.7 0 0 1 674.1,436.6" stroke-width="0.4" stroke-opacity="0.08"/>
<path d="M429.4,436.6 A3.1,17.4 0 0 1 435.5,436.6" stroke-width="0.45" stroke-opacity="0.07"/>
<path d="M413.5,436.6 A13.1,29.3 0 0 1 439.6,436.6" stroke-width="0.6" stroke-opacity="0.09"/>
<path d="M374.2,436.6 A19.7,34.0 0 0 1 413.5,436.6" stroke-width="0.35" stroke-opacity="0.11"/>
<path d="M537.6,436.6 A13.8,30.0 0 0 1 565.3,436.6" stroke-width="0.45" stroke-opacity="0.09"/>
<path d="M374.2,436.6 A12.8,29.1 0 0 1 399.7,436.6" stroke-width="0.5" stroke-opacity="0.09"/>
<path d="M484.0,436.6 A40.6,44.2 0 0 1 565.3,436.6" stroke-width="0.6" stroke-opacity="0.11"/>
<path d="M425.3,436.6 A75.8,55.3 0 0 1 577.0,436.6" stroke-width="0.35" stroke-opacity="0.12"/>
<path d="M377.3,436.6 A8.4,25.0 0 0 1 394.1,436.6" stroke-width="0.5" stroke-opacity="0.10"/>
<path d="M390.0,436.6 A59.6,50.7 0 0 1 509.1,436.6" stroke-width="0.3" stroke-opacity="0.10"/>
<path d="M528.1,436.6 A44.1,45.5 0 0 1 616.4,436.6" stroke-width="0.3" stroke-opacity="0.10"/>
<path d="M593.0,436.6 A45.6,46.1 0 0 1 684.3,436.6" stroke-width="0.4" stroke-opacity="0.08"/>
<path d="M568.2,436.6 A48.2,47.0 0 0 1 664.6,436.6" stroke-width="0.4" stroke-opacity="0.11"/>
<path d="M499.4,436.6 A14.4,30.4 0 0 1 528.1,436.6" stroke-width="0.45" stroke-opacity="0.09"/>
<path d="M550.7,436.6 A31.8,40.4 0 0 1 614.2,436.6" stroke-width="0.4" stroke-opacity="0.06"/>
<path d="M374.2,436.6 A121.1,65.5 0 0 1 616.4,436.6" stroke-width="0.45" stroke-opacity="0.10"/>
<path d="M355.0,436.6 A13.2,29.4 0 0 1 381.3,436.6" stroke-width="0.5" stroke-opacity="0.09"/>
<path d="M565.3,436.6 A59.5,50.7 0 0 1 684.3,436.6" stroke-width="0.3" stroke-opacity="0.10"/>
<path d="M374.2,436.6 A104.7,62.1 0 0 1 583.5,436.6" stroke-width="0.3" stroke-opacity="0.11"/>
<path d="M394.1,436.6 A51.6,48.2 0 0 1 497.4,436.6" stroke-width="0.5" stroke-opacity="0.05"/>
<path d="M499.4,436.6 A34.4,41.6 0 0 1 568.2,436.6" stroke-width="0.6" stroke-opacity="0.06"/>
<path d="M626.6,436.6 A28.8,39.1 0 0 1 684.3,436.6" stroke-width="0.3" stroke-opacity="0.07"/>
<path d="M459.0,436.6 A34.6,41.7 0 0 1 528.1,436.6" stroke-width="0.4" stroke-opacity="0.11"/>
<path d="M514.2,436.6 A37.9,43.1 0 0 1 590.1,436.6" stroke-width="0.5" stroke-opacity="0.07"/>
<path d="M652.9,436.6 A15.7,31.4 0 0 1 684.3,436.6" stroke-width="0.3" stroke-opacity="0.09"/>
<path d="M465.7,436.6 A60.4,51.0 0 0 1 586.5,436.6" stroke-width="0.35" stroke-opacity="0.06"/>
<path d="M370.6,436.6 A145.5,69.9 0 0 1 661.6,436.6" stroke-width="0.45" stroke-opacity="0.09"/>
<path d="M465.7,436.6 A81.9,56.9 0 0 1 629.5,436.6" stroke-width="0.4" stroke-opacity="0.11"/>
<path d="M497.4,436.6 A82.1,56.9 0 0 1 661.6,436.6" stroke-width="0.35" stroke-opacity="0.11"/>
<path d="M365.0,436.6 A65.9,52.6 0 0 1 496.8,436.6" stroke-width="0.35" stroke-opacity="0.10"/>
<path d="M355.0,436.6 A11.2,27.7 0 0 1 377.3,436.6" stroke-width="0.3" stroke-opacity="0.06"/>
<path d="M394.1,436.6 A22.8,35.9 0 0 1 439.6,436.6" stroke-width="0.3" stroke-opacity="0.11"/>
<path d="M497.4,436.6 A26.7,38.0 0 0 1 550.7,436.6" stroke-width="0.3" stroke-opacity="0.07"/>
<path d="M399.7,436.6 A17.2,32.4 0 0 1 434.0,436.6" stroke-width="0.5" stroke-opacity="0.08"/>
<path d="M357.5,436.6 A163.4,72.9 0 0 1 684.3,436.6" stroke-width="0.3" stroke-opacity="0.10"/>
<path d="M361.0,436.6 A26.2,37.7 0 0 1 413.5,436.6" stroke-width="0.3" stroke-opacity="0.10"/>
<path d="M499.4,436.6 A4.9,20.6 0 0 1 509.1,436.6" stroke-width="0.35" stroke-opacity="0.11"/>
<path d="M413.5,436.6 A119.7,65.2 0 0 1 652.9,436.6" stroke-width="0.4" stroke-opacity="0.06"/>
<path d="M355.0,436.6 A35.2,41.9 0 0 1 425.3,436.6" stroke-width="0.6" stroke-opacity="0.12"/>
<path d="M494.9,436.6 A44.3,45.6 0 0 1 583.5,436.6" stroke-width="0.45" stroke-opacity="0.08"/>
<path d="M374.2,436.6 A101.4,61.4 0 0 1 577.0,436.6" stroke-width="0.3" stroke-opacity="0.11"/>
<path d="M355.0,436.6 A95.8,60.2 0 0 1 546.6,436.6" stroke-width="0.6" stroke-opacity="0.09"/>
<path d="M616.4,436.6 A33.9,41.4 0 0 1 684.3,436.6" stroke-width="0.6" stroke-opacity="0.07"/>
<path d="M425.3,436.6 A129.5,67.0 0 0 1 684.3,436.6" stroke-width="0.5" stroke-opacity="0.10"/>
<path d="M365.0,436.6 A9.7,26.4 0 0 1 384.4,436.6" stroke-width="0.6" stroke-opacity="0.10"/>
<path d="M381.3,436.6 A4.3,19.8 0 0 1 390.0,436.6" stroke-width="0.5" stroke-opacity="0.09"/>
<path d="M634.6,436.6 A24.8,37.0 0 0 1 684.3,436.6" stroke-width="0.3" stroke-opacity="0.07"/>
<path d="M434.0,436.6 A26.8,38.0 0 0 1 487.6,436.6" stroke-width="0.5" stroke-opacity="0.11"/>
<path d="M374.2,436.6 A21.7,35.2 0 0 1 417.6,436.6" stroke-width="0.6" stroke-opacity="0.12"/>
<path d="M361.0,436.6 A132.8,67.7 0 0 1 626.6,436.6" stroke-width="0.3" stroke-opacity="0.10"/>
<path d="M429.4,436.6 A67.9,53.2 0 0 1 565.3,436.6" stroke-width="0.4" stroke-opacity="0.06"/>
<path d="M487.6,436.6 A57.1,49.9 0 0 1 601.8,436.6" stroke-width="0.6" stroke-opacity="0.11"/>
<path d="M509.1,436.6 A29.6,39.4 0 0 1 568.2,436.6" stroke-width="0.45" stroke-opacity="0.07"/>
<path d="M361.0,436.6 A129.1,67.0 0 0 1 619.3,436.6" stroke-width="0.4" stroke-opacity="0.06"/>
<path d="M448.5,436.6 A30.3,39.7 0 0 1 509.1,436.6" stroke-width="0.35" stroke-opacity="0.12"/>
<path d="M509.1,436.6 A31.8,40.4 0 0 1 572.6,436.6" stroke-width="0.3" stroke-opacity="0.05"/>
<path d="M448.5,436.6 A30.3,39.7 0 0 1 509.1,436.6" stroke-width="0.35" stroke-opacity="0.11"/>
<path d="M568.2,436.6 A9.1,25.8 0 0 1 586.5,436.6" stroke-width="0.4" stroke-opacity="0.12"/>
<path d="M608.1,436.6 A36.2,42.4 0 0 1 680.6,436.6" stroke-width="0.5" stroke-opacity="0.07"/>
<path d="M448.5,436.6 A17.8,32.8 0 0 1 484.0,436.6" stroke-width="0.5" stroke-opacity="0.08"/>
<path d="M413.5,436.6 A37.3,42.9 0 0 1 488.2,436.6" stroke-width="0.5" stroke-opacity="0.06"/>
<path d="M553.6,436.6 A55.5,49.4 0 0 1 664.6,436.6" stroke-width="0.5" stroke-opacity="0.11"/>
<path d="M439.6,436.6 A27.6,38.5 0 0 1 494.9,436.6" stroke-width="0.5" stroke-opacity="0.06"/>
<path d="M509.1,436.6 A31.8,40.4 0 0 1 572.6,436.6" stroke-width="0.3" stroke-opacity="0.12"/>
<path d="M652.9,436.6 A3.3,17.9 0 0 1 659.5,436.6" stroke-width="0.35" stroke-opacity="0.11"/>
<path d="M601.8,436.6 A31.4,40.3 0 0 1 664.6,436.6" stroke-width="0.35" stroke-opacity="0.06"/>
<path d="M471.8,436.6 A12.8,29.1 0 0 1 497.4,436.6" stroke-width="0.35" stroke-opacity="0.09"/>
<path d="M370.6,436.6 A18.4,33.2 0 0 1 407.4,436.6" stroke-width="0.5" stroke-opacity="0.11"/>
<path d="M553.6,436.6 A40.5,44.1 0 0 1 634.6,436.6" stroke-width="0.5" stroke-opacity="0.06"/>
<path d="M487.6,436.6 A13.3,29.6 0 0 1 514.2,436.6" stroke-width="0.4" stroke-opacity="0.10"/>
<path d="M528.1,436.6 A14.2,30.3 0 0 1 556.5,436.6" stroke-width="0.45" stroke-opacity="0.09"/>
<path d="M637.6,436.6 A16.8,32.1 0 0 1 671.1,436.6" stroke-width="0.35" stroke-opacity="0.10"/>
<path d="M471.8,436.6 A21.2,35.0 0 0 1 514.2,436.6" stroke-width="0.3" stroke-opacity="0.09"/>
<path d="M355.0,436.6 A56.8,49.9 0 0 1 468.7,436.6" stroke-width="0.3" stroke-opacity="0.10"/>
<path d="M399.7,436.6 A31.2,40.2 0 0 1 462.1,436.6" stroke-width="0.3" stroke-opacity="0.11"/>
<path d="M604.7,436.6 A33.2,41.1 0 0 1 671.1,436.6" stroke-width="0.3" stroke-opacity="0.12"/>
<path d="M484.0,436.6 A60.4,50.9 0 0 1 604.7,436.6" stroke-width="0.4" stroke-opacity="0.12"/>
<path d="M448.5,436.6 A96.0,60.2 0 0 1 640.5,436.6" stroke-width="0.45" stroke-opacity="0.06"/>
<path d="M484.0,436.6 A5.7,21.7 0 0 1 495.3,436.6" stroke-width="0.35" stroke-opacity="0.10"/>
<path d="M448.5,436.6 A24.2,36.6 0 0 1 496.8,436.6" stroke-width="0.45" stroke-opacity="0.10"/>
<path d="M384.4,436.6 A60.1,50.8 0 0 1 504.5,436.6" stroke-width="0.35" stroke-opacity="0.11"/>
<path d="M494.9,436.6 A25.9,37.5 0 0 1 546.6,436.6" stroke-width="0.4" stroke-opacity="0.08"/>
<path d="M593.0,436.6 A13.1,29.4 0 0 1 619.3,436.6" stroke-width="0.5" stroke-opacity="0.09"/>
<path d="M417.6,436.6 A29.1,39.2 0 0 1 475.9,436.6" stroke-width="0.5" stroke-opacity="0.11"/>
<path d="M514.2,436.6 A41.2,44.4 0 0 1 596.7,436.6" stroke-width="0.3" stroke-opacity="0.09"/>
<path d="M497.4,436.6 A37.6,43.0 0 0 1 572.6,436.6" stroke-width="0.4" stroke-opacity="0.07"/>
<path d="M390.0,436.6 A91.3,59.1 0 0 1 572.6,436.6" stroke-width="0.45" stroke-opacity="0.12"/>
<path d="M370.6,436.6 A90.1,58.8 0 0 1 550.7,436.6" stroke-width="0.4" stroke-opacity="0.08"/>
<path d="M499.4,436.6 A84.1,57.4 0 0 1 667.5,436.6" stroke-width="0.3" stroke-opacity="0.07"/>
<path d="M596.7,436.6 A21.9,35.4 0 0 1 640.5,436.6" stroke-width="0.5" stroke-opacity="0.07"/>
<path d="M429.4,436.6 A63.6,51.9 0 0 1 556.5,436.6" stroke-width="0.4" stroke-opacity="0.10"/>
<path d="M462.1,436.6 A57.4,50.0 0 0 1 577.0,436.6" stroke-width="0.35" stroke-opacity="0.09"/>
<path d="M377.3,436.6 A71.0,54.0 0 0 1 519.3,436.6" stroke-width="0.3" stroke-opacity="0.09"/>
<path d="M647.8,436.6 A18.2,33.1 0 0 1 684.3,436.6" stroke-width="0.6" stroke-opacity="0.06"/>
<path d="M471.8,436.6 A78.8,56.1 0 0 1 629.5,436.6" stroke-width="0.35" stroke-opacity="0.08"/>
<path d="M629.5,436.6 A11.7,28.2 0 0 1 652.9,436.6" stroke-width="0.45" stroke-opacity="0.09"/>
<path d="M355.0,436.6 A24.2,36.6 0 0 1 403.3,436.6" stroke-width="0.5" stroke-opacity="0.10"/>
<path d="M499.4,436.6 A34.4,41.6 0 0 1 568.2,436.6" stroke-width="0.3" stroke-opacity="0.10"/>
<path d="M608.1,436.6 A38.1,43.2 0 0 1 684.3,436.6" stroke-width="0.45" stroke-opacity="0.06"/>
<path d="M425.3,436.6 A2.0,15.1 0 0 1 429.4,436.6" stroke-width="0.5" stroke-opacity="0.10"/>
<path d="M471.8,436.6 A39.5,43.7 0 0 1 550.7,436.6" stroke-width="0.3" stroke-opacity="0.06"/>
<path d="M399.7,436.6 A64.2,52.1 0 0 1 528.1,436.6" stroke-width="0.4" stroke-opacity="0.09"/>
<path d="M374.2,436.6 A67.5,53.0 0 0 1 509.1,436.6" stroke-width="0.45" stroke-opacity="0.07"/>
<path d="M355.0,436.6 A13.2,29.4 0 0 1 381.3,436.6" stroke-width="0.35" stroke-opacity="0.12"/>
<path d="M429.4,436.6 A100.1,61.1 0 0 1 629.5,436.6" stroke-width="0.5" stroke-opacity="0.07"/>
<path d="M556.5,436.6 A29.9,39.6 0 0 1 616.4,436.6" stroke-width="0.45" stroke-opacity="0.09"/>
<path d="M394.1,436.6 A17.6,32.7 0 0 1 429.4,436.6" stroke-width="0.3" stroke-opacity="0.09"/>
<path d="M403.3,436.6 A13.0,29.3 0 0 1 429.4,436.6" stroke-width="0.3" stroke-opacity="0.12"/>
<path d="M616.4,436.6 A5.1,20.9 0 0 1 626.6,436.6" stroke-width="0.5" stroke-opacity="0.07"/>
<path d="M497.4,436.6 A43.1,45.1 0 0 1 583.5,436.6" stroke-width="0.35" stroke-opacity="0.11"/>
<path d="M553.6,436.6 A27.2,38.3 0 0 1 608.1,436.6" stroke-width="0.45" stroke-opacity="0.10"/>
<path d="M468.7,436.6 A21.3,35.0 0 0 1 511.3,436.6" stroke-width="0.4" stroke-opacity="0.08"/>
<path d="M504.5,436.6 A30.4,39.8 0 0 1 565.3,436.6" stroke-width="0.6" stroke-opacity="0.05"/>
<path d="M465.7,436.6 A31.2,40.2 0 0 1 528.1,436.6" stroke-width="0.35" stroke-opacity="0.07"/>
<path d="M484.0,436.6 A10.3,27.0 0 0 1 504.7,436.6" stroke-width="0.3" stroke-opacity="0.09"/>
<path d="M403.3,436.6 A45.8,46.1 0 0 1 494.9,436.6" stroke-width="0.45" stroke-opacity="0.06"/>
<path d="M504.7,436.6 A40.9,44.3 0 0 1 586.5,436.6" stroke-width="0.5" stroke-opacity="0.08"/>
<path d="M590.1,436.6 A9.0,25.7 0 0 1 608.1,436.6" stroke-width="0.6" stroke-opacity="0.08"/>
<path d="M568.2,436.6 A56.2,49.6 0 0 1 680.6,436.6" stroke-width="0.45" stroke-opacity="0.07"/>
<path d="M556.5,436.6 A18.2,33.1 0 0 1 593.0,436.6" stroke-width="0.3" stroke-opacity="0.05"/>
<path d="M616.4,436.6 A28.9,39.1 0 0 1 674.1,436.6" stroke-width="0.35" stroke-opacity="0.12"/>
<path d="M357.5,436.6 A3.8,18.7 0 0 1 365.0,436.6" stroke-width="0.4" stroke-opacity="0.07"/>
<path d="M407.4,436.6 A100.4,61.2 0 0 1 608.1,436.6" stroke-width="0.45" stroke-opacity="0.10"/>
<path d="M435.5,436.6 A26.1,37.6 0 0 1 487.6,436.6" stroke-width="0.35" stroke-opacity="0.08"/>
<path d="M550.7,436.6 A10.9,27.6 0 0 1 572.6,436.6" stroke-width="0.35" stroke-opacity="0.06"/>
<path d="M390.0,436.6 A37.8,43.1 0 0 1 465.7,436.6" stroke-width="0.35" stroke-opacity="0.07"/>
<path d="M403.3,436.6 A50.7,47.8 0 0 1 504.7,436.6" stroke-width="0.5" stroke-opacity="0.10"/>
<path d="M546.6,436.6 A19.9,34.2 0 0 1 586.5,436.6" stroke-width="0.6" stroke-opacity="0.09"/>
<path d="M674.1,436.6 A5.1,20.9 0 0 1 684.3,436.6" stroke-width="0.5" stroke-opacity="0.10"/>
<path d="M355.0,436.6 A26.2,37.7 0 0 1 407.4,436.6" stroke-width="0.6" stroke-opacity="0.08"/>
<path d="M459.0,436.6 A72.9,54.5 0 0 1 604.7,436.6" stroke-width="0.5" stroke-opacity="0.12"/>
<path d="M417.6,436.6 A8.9,25.6 0 0 1 435.5,436.6" stroke-width="0.3" stroke-opacity="0.10"/>
<path d="M390.0,436.6 A16.3,31.8 0 0 1 422.7,436.6" stroke-width="0.3" stroke-opacity="0.07"/>
<path d="M652.9,436.6 A10.6,27.2 0 0 1 674.1,436.6" stroke-width="0.5" stroke-opacity="0.12"/>
<path d="M381.3,436.6 A133.2,67.7 0 0 1 647.8,436.6" stroke-width="0.35" stroke-opacity="0.06"/>
<path d="M434.0,436.6 A101.8,61.5 0 0 1 637.6,436.6" stroke-width="0.5" stroke-opacity="0.10"/>
<path d="M377.3,436.6 A153.5,71.3 0 0 1 684.3,436.6" stroke-width="0.45" stroke-opacity="0.12"/>
<path d="M531.7,436.6 A22.6,35.8 0 0 1 577.0,436.6" stroke-width="0.3" stroke-opacity="0.07"/>
<path d="M422.7,436.6 A21.5,35.1 0 0 1 465.7,436.6" stroke-width="0.4" stroke-opacity="0.10"/>
<path d="M590.1,436.6 A42.0,44.7 0 0 1 674.1,436.6" stroke-width="0.5" stroke-opacity="0.09"/>
<path d="M365.0,436.6 A148.3,70.4 0 0 1 661.6,436.6" stroke-width="0.5" stroke-opacity="0.07"/>
<path d="M422.7,436.6 A5.7,21.7 0 0 1 434.0,436.6" stroke-width="0.6" stroke-opacity="0.07"/>
<path d="M361.0,436.6 A63.6,51.9 0 0 1 488.2,436.6" stroke-width="0.5" stroke-opacity="0.07"/>
<path d="M429.4,436.6 A102.6,61.7 0 0 1 634.6,436.6" stroke-width="0.4" stroke-opacity="0.07"/>
<path d="M377.3,436.6 A24.0,36.5 0 0 1 425.3,436.6" stroke-width="0.5" stroke-opacity="0.08"/>
<path d="M499.4,436.6 A85.9,57.8 0 0 1 671.1,436.6" stroke-width="0.35" stroke-opacity="0.08"/>
<path d="M601.8,436.6 A23.0,36.0 0 0 1 647.8,436.6" stroke-width="0.6" stroke-opacity="0.10"/>
<path d="M534.6,436.6 A65.0,52.3 0 0 1 664.6,436.6" stroke-width="0.5" stroke-opacity="0.09"/>
<path d="M577.0,436.6 A12.4,28.8 0 0 1 601.8,436.6" stroke-width="0.35" stroke-opacity="0.08"/>
<path d="M365.0,436.6 A92.9,59.5 0 0 1 550.7,436.6" stroke-width="0.3" stroke-opacity="0.06"/>
<path d="M355.0,436.6 A14.7,30.6 0 0 1 384.4,436.6" stroke-width="0.5" stroke-opacity="0.10"/>
<path d="M509.1,436.6 A28.1,38.7 0 0 1 565.3,436.6" stroke-width="0.4" stroke-opacity="0.08"/>
<path d="M448.5,436.6 A11.7,28.2 0 0 1 471.8,436.6" stroke-width="0.4" stroke-opacity="0.07"/>
<path d="M540.2,436.6 A21.6,35.2 0 0 1 583.5,436.6" stroke-width="0.5" stroke-opacity="0.07"/>
<path d="M355.0,436.6 A7.8,24.4 0 0 1 370.6,436.6" stroke-width="0.5" stroke-opacity="0.12"/>
<path d="M410.5,436.6 A127.1,66.6 0 0 1 664.6,436.6" stroke-width="0.3" stroke-opacity="0.08"/>
<path d="M462.1,436.6 A33.0,41.0 0 0 1 528.1,436.6" stroke-width="0.45" stroke-opacity="0.06"/>
<path d="M531.7,436.6 A7.4,24.0 0 0 1 546.6,436.6" stroke-width="0.35" stroke-opacity="0.06"/>
<path d="M496.8,436.6 A24.9,37.0 0 0 1 546.6,436.6" stroke-width="0.4" stroke-opacity="0.06"/>
<path d="M361.0,436.6 A32.2,40.6 0 0 1 425.3,436.6" stroke-width="0.6" stroke-opacity="0.08"/>
<path d="M435.5,436.6 A70.8,53.9 0 0 1 577.0,436.6" stroke-width="0.3" stroke-opacity="0.08"/>
<path d="M550.7,436.6 A23.0,36.0 0 0 1 596.7,436.6" stroke-width="0.45" stroke-opacity="0.08"/>
<path d="M434.0,436.6 A35.2,42.0 0 0 1 504.5,436.6" stroke-width="0.3" stroke-opacity="0.08"/>
<path d="M468.7,436.6 A17.9,32.9 0 0 1 504.5,436.6" stroke-width="0.35" stroke-opacity="0.09"/>
<path d="M519.3,436.6 A17.2,32.4 0 0 1 553.6,436.6" stroke-width="0.4" stroke-opacity="0.09"/>
<path d="M614.2,436.6 A7.6,24.2 0 0 1 629.5,436.6" stroke-width="0.5" stroke-opacity="0.06"/>
<path d="M553.6,436.6 A63.5,51.9 0 0 1 680.6,436.6" stroke-width="0.3" stroke-opacity="0.05"/>
<path d="M593.0,436.6 A18.2,33.1 0 0 1 629.5,436.6" stroke-width="0.6" stroke-opacity="0.11"/>
<path d="M674.1,436.6 A5.1,20.9 0 0 1 684.3,436.6" stroke-width="0.35" stroke-opacity="0.07"/>
<path d="M471.8,436.6 A8.2,24.8 0 0 1 488.2,436.6" stroke-width="0.35" stroke-opacity="0.10"/>
<path d="M565.3,436.6 A34.7,41.7 0 0 1 634.6,436.6" stroke-width="0.45" stroke-opacity="0.12"/>
<path d="M399.7,436.6 A5.4,21.4 0 0 1 410.5,436.6" stroke-width="0.4" stroke-opacity="0.09"/>
<path d="M434.0,436.6 A62.8,51.7 0 0 1 559.5,436.6" stroke-width="0.35" stroke-opacity="0.06"/>
<path d="M496.8,436.6 A64.9,52.3 0 0 1 626.6,436.6" stroke-width="0.5" stroke-opacity="0.10"/>
<path d="M572.6,436.6 A27.0,38.1 0 0 1 626.6,436.6" stroke-width="0.4" stroke-opacity="0.11"/>
<path d="M511.3,436.6 A64.6,52.2 0 0 1 640.5,436.6" stroke-width="0.6" stroke-opacity="0.08"/>
<path d="M394.1,436.6 A68.8,53.4 0 0 1 531.7,436.6" stroke-width="0.6" stroke-opacity="0.09"/>
<path d="M462.1,436.6 A39.1,43.5 0 0 1 540.2,436.6" stroke-width="0.4" stroke-opacity="0.05"/>
<path d="M504.7,436.6 A4.8,20.4 0 0 1 514.2,436.6" stroke-width="0.6" stroke-opacity="0.09"/>
<path d="M377.3,436.6 A40.8,44.3 0 0 1 459.0,436.6" stroke-width="0.6" stroke-opacity="0.08"/>
<path d="M519.3,436.6 A77.4,55.7 0 0 1 674.1,436.6" stroke-width="0.35" stroke-opacity="0.06"/>
<path d="M465.7,436.6 A42.5,44.9 0 0 1 550.7,436.6" stroke-width="0.35" stroke-opacity="0.11"/>
<path d="M410.5,436.6 A14.6,30.5 0 0 1 439.6,436.6" stroke-width="0.4" stroke-opacity="0.07"/>
<path d="M417.6,436.6 A22.2,35.6 0 0 1 462.1,436.6" stroke-width="0.35" stroke-opacity="0.08"/>
<path d="M488.2,436.6 A21.8,35.3 0 0 1 531.7,436.6" stroke-width="0.5" stroke-opacity="0.11"/>
<path d="M425.3,436.6 A21.7,35.2 0 0 1 468.7,436.6" stroke-width="0.35" stroke-opacity="0.07"/>
<path d="M496.8,436.6 A81.3,56.7 0 0 1 659.5,436.6" stroke-width="0.3" stroke-opacity="0.11"/>
<path d="M355.0,436.6 A27.8,38.5 0 0 1 410.5,436.6" stroke-width="0.45" stroke-opacity="0.06"/>
<path d="M546.6,436.6 A36.3,42.4 0 0 1 619.3,436.6" stroke-width="0.35" stroke-opacity="0.07"/>
<path d="M403.3,436.6 A73.7,54.7 0 0 1 550.7,436.6" stroke-width="0.45" stroke-opacity="0.06"/>
<path d="M410.5,436.6 A7.4,23.9 0 0 1 425.3,436.6" stroke-width="0.45" stroke-opacity="0.08"/>
<path d="M355.0,436.6 A11.2,27.7 0 0 1 377.3,436.6" stroke-width="0.45" stroke-opacity="0.11"/>
<path d="M528.1,436.6 A44.1,45.5 0 0 1 616.4,436.6" stroke-width="0.4" stroke-opacity="0.12"/>
<path d="M471.8,436.6 A30.0,39.6 0 0 1 531.7,436.6" stroke-width="0.45" stroke-opacity="0.11"/>
<path d="M459.0,436.6 A25.1,37.1 0 0 1 509.1,436.6" stroke-width="0.4" stroke-opacity="0.10"/>
<path d="M664.6,436.6 A9.8,26.5 0 0 1 684.3,436.6" stroke-width="0.3" stroke-opacity="0.06"/>
<path d="M403.3,436.6 A42.2,44.8 0 0 1 487.6,436.6" stroke-width="0.4" stroke-opacity="0.11"/>
<path d="M381.3,436.6 A29.2,39.2 0 0 1 439.6,436.6" stroke-width="0.6" stroke-opacity="0.10"/>
<path d="M596.7,436.6 A28.1,38.7 0 0 1 652.9,436.6" stroke-width="0.5" stroke-opacity="0.09"/>
<path d="M511.3,436.6 A6.9,23.3 0 0 1 525.1,436.6" stroke-width="0.35" stroke-opacity="0.08"/>
<path d="M616.4,436.6 A33.9,41.4 0 0 1 684.3,436.6" stroke-width="0.5" stroke-opacity="0.10"/>
<path d="M355.0,436.6 A29.2,39.2 0 0 1 413.5,436.6" stroke-width="0.4" stroke-opacity="0.10"/>
<path d="M399.7,436.6 A48.8,47.2 0 0 1 497.4,436.6" stroke-width="0.6" stroke-opacity="0.06"/>
<path d="M429.4,436.6 A44.9,45.8 0 0 1 519.3,436.6" stroke-width="0.35" stroke-opacity="0.11"/>
<path d="M410.5,436.6 A30.7,39.9 0 0 1 471.8,436.6" stroke-width="0.6" stroke-opacity="0.10"/>
<path d="M629.5,436.6 A22.3,35.6 0 0 1 674.1,436.6" stroke-width="0.6" stroke-opacity="0.07"/>
<path d="M499.4,436.6 A38.8,43.4 0 0 1 577.0,436.6" stroke-width="0.6" stroke-opacity="0.11"/>
<path d="M462.1,436.6 A28.6,38.9 0 0 1 519.3,436.6" stroke-width="0.6" stroke-opacity="0.08"/>
<path d="M355.0,436.6 A3.0,17.3 0 0 1 361.0,436.6" stroke-width="0.5" stroke-opacity="0.08"/>
<path d="M399.7,436.6 A14.8,30.7 0 0 1 429.4,436.6" stroke-width="0.6" stroke-opacity="0.10"/>
<path d="M357.5,436.6 A11.9,28.4 0 0 1 381.3,436.6" stroke-width="0.45" stroke-opacity="0.10"/>
<path d="M370.6,436.6 A77.2,55.7 0 0 1 525.1,436.6" stroke-width="0.4" stroke-opacity="0.08"/>
<path d="M425.3,436.6 A29.3,39.3 0 0 1 484.0,436.6" stroke-width="0.45" stroke-opacity="0.05"/>
<path d="M494.9,436.6 A86.3,57.9 0 0 1 667.5,436.6" stroke-width="0.45" stroke-opacity="0.10"/>
<path d="M496.8,436.6 A29.8,39.5 0 0 1 556.5,436.6" stroke-width="0.4" stroke-opacity="0.09"/>
<path d="M434.0,436.6 A17.3,32.5 0 0 1 468.7,436.6" stroke-width="0.3" stroke-opacity="0.10"/>
<path d="M403.3,436.6 A128.1,66.8 0 0 1 659.5,436.6" stroke-width="0.35" stroke-opacity="0.06"/>
<path d="M355.0,436.6 A7.8,24.4 0 0 1 370.6,436.6" stroke-width="0.35" stroke-opacity="0.09"/>
<path d="M667.5,436.6 A8.4,25.0 0 0 1 684.3,436.6" stroke-width="0.5" stroke-opacity="0.07"/>
<path d="M652.9,436.6 A15.7,31.4 0 0 1 684.3,436.6" stroke-width="0.3" stroke-opacity="0.06"/>
<path d="M488.2,436.6 A31.3,40.2 0 0 1 550.7,436.6" stroke-width="0.5" stroke-opacity="0.06"/>
<path d="M495.3,436.6 A83.2,57.2 0 0 1 661.6,436.6" stroke-width="0.4" stroke-opacity="0.10"/>
<path d="M459.0,436.6 A18.9,33.5 0 0 1 496.8,436.6" stroke-width="0.6" stroke-opacity="0.10"/>
<path d="M370.6,436.6 A38.9,43.5 0 0 1 448.5,436.6" stroke-width="0.3" stroke-opacity="0.10"/>
<path d="M652.9,436.6 A13.9,30.0 0 0 1 680.6,436.6" stroke-width="0.3" stroke-opacity="0.11"/>
<path d="M365.0,436.6 A148.3,70.4 0 0 1 661.6,436.6" stroke-width="0.5" stroke-opacity="0.11"/>
<path d="M475.9,436.6 A82.3,57.0 0 0 1 640.5,436.6" stroke-width="0.5" stroke-opacity="0.09"/>
<path d="M540.2,436.6 A26.4,37.8 0 0 1 593.0,436.6" stroke-width="0.4" stroke-opacity="0.07"/>
<path d="M434.0,436.6 A45.6,46.0 0 0 1 525.1,436.6" stroke-width="0.35" stroke-opacity="0.08"/>
<path d="M434.0,436.6 A123.3,65.9 0 0 1 680.6,436.6" stroke-width="0.4" stroke-opacity="0.09"/>
<path d="M403.3,436.6 A36.3,42.4 0 0 1 475.9,436.6" stroke-width="0.4" stroke-opacity="0.06"/>
<path d="M413.5,436.6 A52.9,48.6 0 0 1 519.3,436.6" stroke-width="0.6" stroke-opacity="0.09"/>
<path d="M494.9,436.6 A29.4,39.3 0 0 1 553.6,436.6" stroke-width="0.5" stroke-opacity="0.09"/>
<path d="M577.0,436.6 A43.8,45.4 0 0 1 664.6,436.6" stroke-width="0.5" stroke-opacity="0.05"/>
<path d="M429.4,436.6 A5.1,20.9 0 0 1 439.6,436.6" stroke-width="0.45" stroke-opacity="0.11"/>
<path d="M514.2,436.6 A6.9,23.4 0 0 1 528.1,436.6" stroke-width="0.5" stroke-opacity="0.09"/>
<path d="M384.4,436.6 A32.1,40.6 0 0 1 448.5,436.6" stroke-width="0.3" stroke-opacity="0.09"/>
<path d="M425.3,436.6 A64.2,52.1 0 0 1 553.6,436.6" stroke-width="0.5" stroke-opacity="0.07"/>
<path d="M407.4,436.6 A88.1,58.4 0 0 1 583.5,436.6" stroke-width="0.3" stroke-opacity="0.10"/>
<path d="M357.5,436.6 A54.1,49.0 0 0 1 465.7,436.6" stroke-width="0.45" stroke-opacity="0.11"/>
<path d="M434.0,436.6 A45.6,46.0 0 0 1 525.1,436.6" stroke-width="0.3" stroke-opacity="0.06"/>
<path d="M619.3,436.6 A16.8,32.1 0 0 1 652.9,436.6" stroke-width="0.6" stroke-opacity="0.11"/>
<path d="M559.5,436.6 A33.6,41.2 0 0 1 626.6,436.6" stroke-width="0.6" stroke-opacity="0.11"/>
<path d="M659.5,436.6 A10.6,27.2 0 0 1 680.6,436.6" stroke-width="0.4" stroke-opacity="0.10"/>
<path d="M417.6,436.6 A8.2,24.8 0 0 1 434.0,436.6" stroke-width="0.4" stroke-opacity="0.08"/>
<path d="M410.5,436.6 A44.4,45.6 0 0 1 499.4,436.6" stroke-width="0.6" stroke-opacity="0.12"/>
<path d="M459.0,436.6 A39.3,43.6 0 0 1 537.6,436.6" stroke-width="0.4" stroke-opacity="0.07"/>
<path d="M413.5,436.6 A94.1,59.8 0 0 1 601.8,436.6" stroke-width="0.3" stroke-opacity="0.12"/>
<path d="M496.8,436.6 A44.8,45.8 0 0 1 586.5,436.6" stroke-width="0.5" stroke-opacity="0.10"/>
<path d="M590.1,436.6 A18.2,33.1 0 0 1 626.6,436.6" stroke-width="0.35" stroke-opacity="0.08"/>
<path d="M425.3,436.6 A94.5,59.8 0 0 1 614.2,436.6" stroke-width="0.35" stroke-opacity="0.07"/>
<path d="M399.7,436.6 A119.0,65.0 0 0 1 637.6,436.6" stroke-width="0.35" stroke-opacity="0.11"/>
<path d="M495.3,436.6 A38.7,43.4 0 0 1 572.6,436.6" stroke-width="0.45" stroke-opacity="0.10"/>
<path d="M629.5,436.6 A5.5,21.5 0 0 1 640.5,436.6" stroke-width="0.6" stroke-opacity="0.07"/>
<path d="M459.0,436.6 A18.2,33.1 0 0 1 495.3,436.6" stroke-width="0.6" stroke-opacity="0.06"/>
<path d="M448.5,436.6 A28.1,38.7 0 0 1 504.7,436.6" stroke-width="0.5" stroke-opacity="0.05"/>
<path d="M499.4,436.6 A87.4,58.2 0 0 1 674.1,436.6" stroke-width="0.3" stroke-opacity="0.08"/>
<path d="M439.6,436.6 A122.3,65.7 0 0 1 684.3,436.6" stroke-width="0.35" stroke-opacity="0.06"/>
<path d="M425.3,436.6 A122.9,65.8 0 0 1 671.1,436.6" stroke-width="0.5" stroke-opacity="0.09"/>
<path d="M381.3,436.6 A113.4,63.9 0 0 1 608.1,436.6" stroke-width="0.6" stroke-opacity="0.07"/>
<path d="M384.4,436.6 A27.6,38.4 0 0 1 439.6,436.6" stroke-width="0.6" stroke-opacity="0.08"/>
<path d="M626.6,436.6 A4.0,19.2 0 0 1 634.6,436.6" stroke-width="0.45" stroke-opacity="0.06"/>
<path d="M531.7,436.6 A69.7,53.6 0 0 1 671.1,436.6" stroke-width="0.3" stroke-opacity="0.08"/>
<path d="M496.8,436.6 A11.2,27.8 0 0 1 519.3,436.6" stroke-width="0.5" stroke-opacity="0.09"/>
<path d="M667.5,436.6 A8.4,25.0 0 0 1 684.3,436.6" stroke-width="0.35" stroke-opacity="0.09"/>
<path d="M413.5,436.6 A95.6,60.1 0 0 1 604.7,436.6" stroke-width="0.3" stroke-opacity="0.07"/>
<path d="M465.7,436.6 A14.6,30.6 0 0 1 494.9,436.6" stroke-width="0.45" stroke-opacity="0.10"/>
<path d="M355.0,436.6 A111.0,63.4 0 0 1 577.0,436.6" stroke-width="0.3" stroke-opacity="0.11"/>
<path d="M407.4,436.6 A5.1,20.9 0 0 1 417.6,436.6" stroke-width="0.4" stroke-opacity="0.08"/>
<path d="M425.3,436.6 A122.9,65.8 0 0 1 671.1,436.6" stroke-width="0.5" stroke-opacity="0.09"/>
<path d="M422.7,436.6 A32.8,40.9 0 0 1 488.2,436.6" stroke-width="0.6" stroke-opacity="0.11"/>
<path d="M390.0,436.6 A135.8,68.2 0 0 1 661.6,436.6" stroke-width="0.35" stroke-opacity="0.07"/>
<path d="M448.5,436.6 A32.9,40.9 0 0 1 514.2,436.6" stroke-width="0.4" stroke-opacity="0.11"/>
<path d="M497.4,436.6 A70.1,53.8 0 0 1 637.6,436.6" stroke-width="0.45" stroke-opacity="0.11"/>
<path d="M381.3,436.6 A86.2,57.9 0 0 1 553.6,436.6" stroke-width="0.4" stroke-opacity="0.11"/>
<path d="M614.2,436.6 A29.9,39.6 0 0 1 674.1,436.6" stroke-width="0.5" stroke-opacity="0.06"/>
<path d="M590.1,436.6 A7.3,23.8 0 0 1 604.7,436.6" stroke-width="0.4" stroke-opacity="0.09"/>
<path d="M439.6,436.6 A99.0,60.9 0 0 1 637.6,436.6" stroke-width="0.4" stroke-opacity="0.07"/>
<path d="M357.5,436.6 A80.9,56.6 0 0 1 519.3,436.6" stroke-width="0.5" stroke-opacity="0.05"/>
<path d="M504.5,436.6 A36.2,42.4 0 0 1 577.0,436.6" stroke-width="0.6" stroke-opacity="0.10"/>
<path d="M377.3,436.6 A13.0,29.3 0 0 1 403.3,436.6" stroke-width="0.35" stroke-opacity="0.09"/>
<path d="M357.5,436.6 A33.9,41.4 0 0 1 425.3,436.6" stroke-width="0.35" stroke-opacity="0.06"/>
<path d="M390.0,436.6 A64.6,52.2 0 0 1 519.3,436.6" stroke-width="0.45" stroke-opacity="0.10"/>
<path d="M487.6,436.6 A70.9,54.0 0 0 1 629.5,436.6" stroke-width="0.5" stroke-opacity="0.09"/>
<path d="M471.8,436.6 A8.2,24.8 0 0 1 488.2,436.6" stroke-width="0.6" stroke-opacity="0.06"/>
<path d="M471.8,436.6 A46.7,46.5 0 0 1 565.3,436.6" stroke-width="0.6" stroke-opacity="0.05"/>
<path d="M439.6,436.6 A22.2,35.5 0 0 1 484.0,436.6" stroke-width="0.3" stroke-opacity="0.10"/>
<path d="M674.1,436.6 A5.1,20.9 0 0 1 684.3,436.6" stroke-width="0.4" stroke-opacity="0.12"/>
<path d="M608.1,436.6 A25.7,37.5 0 0 1 659.5,436.6" stroke-width="0.4" stroke-opacity="0.07"/>
<path d="M355.0,436.6 A9.6,26.3 0 0 1 374.2,436.6" stroke-width="0.35" stroke-opacity="0.07"/>
<path d="M407.4,436.6 A44.7,45.7 0 0 1 496.8,436.6" stroke-width="0.35" stroke-opacity="0.12"/>
<path d="M499.4,436.6 A25.7,37.4 0 0 1 550.7,436.6" stroke-width="0.6" stroke-opacity="0.09"/>
<path d="M355.0,436.6 A5.0,20.8 0 0 1 365.0,436.6" stroke-width="0.45" stroke-opacity="0.08"/>
<path d="M422.7,436.6 A75.0,55.1 0 0 1 572.6,436.6" stroke-width="0.4" stroke-opacity="0.09"/>
<path d="M593.0,436.6 A23.8,36.4 0 0 1 640.5,436.6" stroke-width="0.3" stroke-opacity="0.07"/>
<path d="M425.3,436.6 A37.0,42.7 0 0 1 499.4,436.6" stroke-width="0.45" stroke-opacity="0.05"/>
<path d="M381.3,436.6 A63.9,52.0 0 0 1 509.1,436.6" stroke-width="0.5" stroke-opacity="0.11"/>
<path d="M509.1,436.6 A69.3,53.5 0 0 1 647.8,436.6" stroke-width="0.5" stroke-opacity="0.06"/>
<path d="M384.4,436.6 A102.9,61.7 0 0 1 590.1,436.6" stroke-width="0.6" stroke-opacity="0.10"/>
<path d="M422.7,436.6 A37.1,42.7 0 0 1 496.8,436.6" stroke-width="0.45" stroke-opacity="0.06"/>
<path d="M534.6,436.6 A39.8,43.8 0 0 1 614.2,436.6" stroke-width="0.35" stroke-opacity="0.11"/>
<path d="M390.0,436.6 A17.7,32.7 0 0 1 425.3,436.6" stroke-width="0.35" stroke-opacity="0.07"/>
<path d="M484.0,436.6 A6.7,23.1 0 0 1 497.4,436.6" stroke-width="0.5" stroke-opacity="0.07"/>
<path d="M377.3,436.6 A84.7,57.5 0 0 1 546.6,436.6" stroke-width="0.5" stroke-opacity="0.11"/>
<path d="M553.6,436.6 A5.8,22.0 0 0 1 565.3,436.6" stroke-width="0.4" stroke-opacity="0.06"/>
<path d="M546.6,436.6 A18.4,33.2 0 0 1 583.5,436.6" stroke-width="0.4" stroke-opacity="0.11"/>
<path d="M370.6,436.6 A124.3,66.1 0 0 1 619.3,436.6" stroke-width="0.4" stroke-opacity="0.06"/>
<path d="M365.0,436.6 A59.5,50.7 0 0 1 484.0,436.6" stroke-width="0.35" stroke-opacity="0.11"/>
<path d="M365.0,436.6 A159.6,72.3 0 0 1 684.3,436.6" stroke-width="0.6" stroke-opacity="0.10"/>
<path d="M556.5,436.6 A42.0,44.7 0 0 1 640.5,436.6" stroke-width="0.3" stroke-opacity="0.12"/>
<path d="M596.7,436.6 A20.4,34.5 0 0 1 637.6,436.6" stroke-width="0.4" stroke-opacity="0.06"/>
<path d="M370.6,436.6 A27.3,38.3 0 0 1 425.3,436.6" stroke-width="0.4" stroke-opacity="0.06"/>
<path d="M497.4,436.6 A43.1,45.1 0 0 1 583.5,436.6" stroke-width="0.3" stroke-opacity="0.06"/>
<path d="M377.3,436.6 A94.0,59.7 0 0 1 565.3,436.6" stroke-width="0.4" stroke-opacity="0.12"/>
<path d="M497.4,436.6 A53.7,48.8 0 0 1 604.7,436.6" stroke-width="0.6" stroke-opacity="0.09"/>
<path d="M568.2,436.6 A42.3,44.8 0 0 1 652.9,436.6" stroke-width="0.35" stroke-opacity="0.07"/>
<path d="M475.9,436.6 A5.9,22.0 0 0 1 487.6,436.6" stroke-width="0.5" stroke-opacity="0.10"/>
<path d="M519.3,436.6 A26.7,38.0 0 0 1 572.6,436.6" stroke-width="0.5" stroke-opacity="0.07"/>
<path d="M422.7,436.6 A21.5,35.1 0 0 1 465.7,436.6" stroke-width="0.6" stroke-opacity="0.07"/>
<path d="M499.4,436.6 A14.4,30.4 0 0 1 528.1,436.6" stroke-width="0.3" stroke-opacity="0.09"/>
<path d="M355.0,436.6 A7.8,24.4 0 0 1 370.6,436.6" stroke-width="0.5" stroke-opacity="0.12"/>
<path d="M593.0,436.6 A7.6,24.1 0 0 1 608.1,436.6" stroke-width="0.45" stroke-opacity="0.11"/>
<path d="M531.7,436.6 A43.8,45.4 0 0 1 619.3,436.6" stroke-width="0.45" stroke-opacity="0.07"/>
<path d="M497.4,436.6 A18.6,33.3 0 0 1 534.6,436.6" stroke-width="0.35" stroke-opacity="0.05"/>
<path d="M509.1,436.6 A28.1,38.7 0 0 1 565.3,436.6" stroke-width="0.3" stroke-opacity="0.08"/>
<path d="M637.6,436.6 A16.8,32.1 0 0 1 671.1,436.6" stroke-width="0.3" stroke-opacity="0.10"/>
<path d="M407.4,436.6 A14.1,30.1 0 0 1 435.5,436.6" stroke-width="0.6" stroke-opacity="0.07"/>
<path d="M403.3,436.6 A36.3,42.4 0 0 1 475.9,436.6" stroke-width="0.35" stroke-opacity="0.07"/>
<path d="M365.0,436.6 A101.6,61.4 0 0 1 568.2,436.6" stroke-width="0.35" stroke-opacity="0.09"/>
<path d="M448.5,436.6 A11.7,28.2 0 0 1 471.8,436.6" stroke-width="0.45" stroke-opacity="0.08"/>
<path d="M626.6,436.6 A28.8,39.1 0 0 1 684.3,436.6" stroke-width="0.4" stroke-opacity="0.06"/>
<path d="M496.8,436.6 A37.9,43.1 0 0 1 572.6,436.6" stroke-width="0.5" stroke-opacity="0.07"/>
<path d="M410.5,436.6 A93.1,59.5 0 0 1 596.7,436.6" stroke-width="0.3" stroke-opacity="0.07"/>
<path d="M365.0,436.6 A35.2,42.0 0 0 1 435.5,436.6" stroke-width="0.4" stroke-opacity="0.07"/>
<path d="M465.7,436.6 A37.3,42.8 0 0 1 540.2,436.6" stroke-width="0.3" stroke-opacity="0.11"/>
<path d="M499.4,436.6 A92.4,59.4 0 0 1 684.3,436.6" stroke-width="0.5" stroke-opacity="0.09"/>
<path d="M519.3,436.6 A28.9,39.1 0 0 1 577.0,436.6" stroke-width="0.45" stroke-opacity="0.09"/>
<path d="M365.0,436.6 A65.9,52.6 0 0 1 496.8,436.6" stroke-width="0.6" stroke-opacity="0.10"/>
<path d="M550.7,436.6 A16.4,31.9 0 0 1 583.5,436.6" stroke-width="0.5" stroke-opacity="0.09"/>
<path d="M519.3,436.6 A44.4,45.6 0 0 1 608.1,436.6" stroke-width="0.45" stroke-opacity="0.05"/>
<path d="M407.4,436.6 A133.4,67.8 0 0 1 674.1,436.6" stroke-width="0.5" stroke-opacity="0.11"/>
<path d="M355.0,436.6 A5.0,20.8 0 0 1 365.0,436.6" stroke-width="0.4" stroke-opacity="0.10"/>
<path d="M616.4,436.6 A24.1,36.6 0 0 1 664.6,436.6" stroke-width="0.3" stroke-opacity="0.06"/>
<path d="M422.7,436.6 A38.3,43.3 0 0 1 499.4,436.6" stroke-width="0.35" stroke-opacity="0.06"/>
<path d="M410.5,436.6 A102.9,61.7 0 0 1 616.4,436.6" stroke-width="0.5" stroke-opacity="0.12"/>
<path d="M448.5,436.6 A28.0,38.6 0 0 1 504.5,436.6" stroke-width="0.35" stroke-opacity="0.08"/>
<path d="M374.2,436.6 A32.7,40.9 0 0 1 439.6,436.6" stroke-width="0.35" stroke-opacity="0.07"/>
<path d="M365.0,436.6 A100.1,61.1 0 0 1 565.3,436.6" stroke-width="0.5" stroke-opacity="0.12"/>
<path d="M619.3,436.6 A10.6,27.2 0 0 1 640.5,436.6" stroke-width="0.35" stroke-opacity="0.10"/>
<path d="M381.3,436.6 A89.1,58.6 0 0 1 559.5,436.6" stroke-width="0.4" stroke-opacity="0.08"/>
<path d="M559.5,436.6 A24.3,36.7 0 0 1 608.1,436.6" stroke-width="0.5" stroke-opacity="0.08"/>
<path d="M546.6,436.6 A13.0,29.3 0 0 1 572.6,436.6" stroke-width="0.45" stroke-opacity="0.06"/>
<path d="M499.4,436.6 A28.6,38.9 0 0 1 556.5,436.6" stroke-width="0.6" stroke-opacity="0.10"/>
<path d="M674.1,436.6 A5.1,20.9 0 0 1 684.3,436.6" stroke-width="0.45" stroke-opacity="0.07"/>
<path d="M556.5,436.6 A4.4,19.8 0 0 1 565.3,436.6" stroke-width="0.4" stroke-opacity="0.11"/>
<path d="M495.3,436.6 A19.7,34.0 0 0 1 534.6,436.6" stroke-width="0.3" stroke-opacity="0.09"/>
<path d="M355.0,436.6 A9.6,26.3 0 0 1 374.2,436.6" stroke-width="0.45" stroke-opacity="0.11"/>
<path d="M525.1,436.6 A69.8,53.7 0 0 1 664.6,436.6" stroke-width="0.35" stroke-opacity="0.12"/>
<path d="M499.4,436.6 A27.1,38.2 0 0 1 553.6,436.6" stroke-width="0.5" stroke-opacity="0.07"/>
<path d="M410.5,436.6 A38.8,43.5 0 0 1 488.2,436.6" stroke-width="0.4" stroke-opacity="0.11"/>
<path d="M407.4,436.6 A58.9,50.5 0 0 1 525.1,436.6" stroke-width="0.45" stroke-opacity="0.05"/>
<path d="M462.1,436.6 A51.6,48.1 0 0 1 565.3,436.6" stroke-width="0.35" stroke-opacity="0.11"/>
<path d="M422.7,436.6 A75.0,55.1 0 0 1 572.6,436.6" stroke-width="0.45" stroke-opacity="0.11"/>
<path d="M619.3,436.6 A10.6,27.2 0 0 1 640.5,436.6" stroke-width="0.35" stroke-opacity="0.06"/>
<path d="M499.4,436.6 A65.1,52.3 0 0 1 629.5,436.6" stroke-width="0.5" stroke-opacity="0.07"/>
<path d="M377.3,436.6 A151.7,71.0 0 0 1 680.6,436.6" stroke-width="0.6" stroke-opacity="0.08"/>
<path d="M435.5,436.6 A99.6,61.0 0 0 1 634.6,436.6" stroke-width="0.3" stroke-opacity="0.07"/>
<path d="M417.6,436.6 A93.6,59.6 0 0 1 604.7,436.6" stroke-width="0.3" stroke-opacity="0.12"/>
<path d="M365.0,436.6 A112.6,63.7 0 0 1 590.1,436.6" stroke-width="0.3" stroke-opacity="0.11"/>
<path d="M619.3,436.6 A21.2,34.9 0 0 1 661.6,436.6" stroke-width="0.3" stroke-opacity="0.08"/>
<path d="M355.0,436.6 A19.6,33.9 0 0 1 394.1,436.6" stroke-width="0.45" stroke-opacity="0.08"/>
<path d="M434.0,436.6 A106.9,62.6 0 0 1 647.8,436.6" stroke-width="0.5" stroke-opacity="0.10"/>
<path d="M504.5,436.6 A61.1,51.1 0 0 1 626.6,436.6" stroke-width="0.3" stroke-opacity="0.11"/>
<path d="M487.6,436.6 A89.9,58.8 0 0 1 667.5,436.6" stroke-width="0.4" stroke-opacity="0.08"/>
<path d="M496.8,436.6 A35.7,42.2 0 0 1 568.2,436.6" stroke-width="0.3" stroke-opacity="0.10"/>
<path d="M462.1,436.6 A3.3,17.9 0 0 1 468.7,436.6" stroke-width="0.45" stroke-opacity="0.05"/>
<path d="M357.5,436.6 A155.0,71.5 0 0 1 667.5,436.6" stroke-width="0.4" stroke-opacity="0.11"/>
<path d="M360.6,436.6 A89.4,58.2 0 0 1 539.4,436.6" stroke-width="1.2" stroke-opacity="0.7"/>
<path d="M400.5,436.6 A34.5,41.4 0 0 1 469.5,436.6" stroke-width="1.0" stroke-opacity="0.6"/>
<path d="M430.7,436.6 A84.3,56.9 0 0 1 599.3,436.6" stroke-width="1.4" stroke-opacity="0.7"/>
<path d="M450.6,436.6 A34.4,41.3 0 0 1 519.4,436.6" stroke-width="1.2" stroke-opacity="0.6"/>
<path d="M480.5,436.6 A39.5,43.4 0 0 1 559.5,436.6" stroke-width="1.0" stroke-opacity="0.6"/>
<path d="M500.6,436.6 A59.4,50.2 0 0 1 619.4,436.6" stroke-width="1.2" stroke-opacity="0.65"/>
<path d="M530.5,436.6 A39.5,43.4 0 0 1 609.5,436.6" stroke-width="1.0" stroke-opacity="0.6"/>
<path d="M560.5,436.6 A49.5,47.1 0 0 1 659.5,436.6" stroke-width="1.0" stroke-opacity="0.6"/>
<path d="M590.5,436.6 A44.5,45.3 0 0 1 679.5,436.6" stroke-width="1.0" stroke-opacity="0.6"/>
<path d="M380.5,436.6 A34.5,41.4 0 0 1 449.5,436.6" stroke-width="1.0" stroke-opacity="0.6"/>
<path d="M420.5,436.6 A109.5,62.7 0 0 1 639.5,436.6" stroke-width="1.0" stroke-opacity="0.6"/>
<path d="M355.3,436.6 A163.2,72.6 0 0 1 681.7,436.6" stroke-width="0.6" stroke-opacity="0.4"/>
<path d="M470.3,436.6 A104.7,61.9 0 0 1 679.7,436.6" stroke-width="0.6" stroke-opacity="0.4"/>
<path d="M463.3,436.6 A21.6,35.0 0 0 1 506.5,436.6" stroke-width="0.83" stroke-opacity="0.36"/>
<path d="M545.3,436.6 A24.6,36.6 0 0 1 594.4,436.6" stroke-width="0.97" stroke-opacity="0.47"/>
<path d="M494.4,436.6 A65.8,52.2 0 0 1 626.0,436.6" stroke-width="1.04" stroke-opacity="0.41"/>
<path d="M511.7,436.6 A22.3,35.3 0 0 1 556.3,436.6" stroke-width="1.33" stroke-opacity="0.39"/>
<path d="M459.7,436.6 A50.5,47.5 0 0 1 560.7,436.6" stroke-width="0.81" stroke-opacity="0.47"/>
<path d="M566.2,436.6 A29.6,39.1 0 0 1 625.4,436.6" stroke-width="1.36" stroke-opacity="0.43"/>
<path d="M548.6,436.6 A37.7,42.7 0 0 1 623.9,436.6" stroke-width="0.98" stroke-opacity="0.37"/>
<path d="M372.5,436.6 A21.5,34.8 0 0 1 415.5,436.6" stroke-width="1.39" stroke-opacity="0.43"/>
<path d="M476.9,436.6 A63.4,51.5 0 0 1 603.7,436.6" stroke-width="1.12" stroke-opacity="0.54"/>
<path d="M452.9,436.6 A22.3,35.3 0 0 1 497.4,436.6" stroke-width="1.34" stroke-opacity="0.34"/>
<path d="M552.8,436.6 A45.1,45.4 0 0 1 642.9,436.6" stroke-width="1.39" stroke-opacity="0.54"/>
<path d="M522.3,436.6 A11.8,28.3 0 0 1 545.9,436.6" stroke-width="0.72" stroke-opacity="0.42"/>
<path d="M559.0,436.6 A14.4,30.3 0 0 1 587.8,436.6" stroke-width="1.0" stroke-opacity="0.32"/>
<path d="M441.8,436.6 A9.8,26.5 0 0 1 461.4,436.6" stroke-width="0.93" stroke-opacity="0.43"/>
<path d="M416.6,436.6 A56.8,49.6 0 0 1 530.2,436.6" stroke-width="0.74" stroke-opacity="0.35"/>
<path d="M429.8,436.6 A33.6,40.9 0 0 1 497.1,436.6" stroke-width="1.23" stroke-opacity="0.39"/>
<path d="M530.2,436.6 A65.0,52.0 0 0 1 660.1,436.6" stroke-width="0.79" stroke-opacity="0.52"/>
<path d="M508.5,436.6 A54.3,48.6 0 0 1 617.0,436.6" stroke-width="1.13" stroke-opacity="0.4"/>
<path d="M392.6,436.6 A18.2,32.9 0 0 1 429.0,436.6" stroke-width="0.82" stroke-opacity="0.34"/>
<path d="M404.0,436.6 A21.9,35.1 0 0 1 447.9,436.6" stroke-width="1.09" stroke-opacity="0.49"/>
<path d="M553.9,436.6 A60.4,50.7 0 0 1 674.7,436.6" stroke-width="0.78" stroke-opacity="0.51"/>
<path d="M413.2,436.6 A13.9,29.9 0 0 1 441.1,436.6" stroke-width="0.9" stroke-opacity="0.45"/>
<path d="M381.5,436.6 A22.5,35.5 0 0 1 426.4,436.6" stroke-width="0.98" stroke-opacity="0.51"/>
<path d="M462.4,436.6 A34.4,41.3 0 0 1 531.1,436.6" stroke-width="0.96" stroke-opacity="0.32"/>
<path d="M572.9,436.6 A54.2,48.6 0 0 1 681.4,436.6" stroke-width="1.21" stroke-opacity="0.4"/>
<path d="M472.7,436.6 A28.1,38.4 0 0 1 528.9,436.6" stroke-width="1.16" stroke-opacity="0.46"/>
<path d="M442.1,436.6 A61.8,51.0 0 0 1 565.8,436.6" stroke-width="1.2" stroke-opacity="0.35"/>
<path d="M556.5,436.6 A50.0,47.3 0 0 1 656.6,436.6" stroke-width="0.87" stroke-opacity="0.37"/>
<path d="M543.3,436.6 A14.3,30.2 0 0 1 572.0,436.6" stroke-width="1.01" stroke-opacity="0.54"/>
<path d="M429.6,436.6 A39.5,43.3 0 0 1 508.6,436.6" stroke-width="1.34" stroke-opacity="0.52"/>
<path d="M552.0,436.6 A41.3,44.0 0 0 1 634.6,436.6" stroke-width="1.35" stroke-opacity="0.36"/>
<path d="M573.4,436.6 A34.0,41.1 0 0 1 641.3,436.6" stroke-width="1.16" stroke-opacity="0.45"/>
<path d="M435.5,436.6 A50.1,47.3 0 0 1 535.7,436.6" stroke-width="1.12" stroke-opacity="0.55"/>
<path d="M523.9,436.6 A35.9,42.0 0 0 1 595.7,436.6" stroke-width="0.97" stroke-opacity="0.52"/>
<path d="M450.0,436.6 A49.5,47.0 0 0 1 548.9,436.6" stroke-width="1.19" stroke-opacity="0.54"/>
<path d="M414.9,436.6 A49.5,47.2 0 0 1 513.9,436.6" stroke-width="0.82" stroke-opacity="0.46"/>
<path d="M521.8,436.6 A53.9,48.5 0 0 1 629.6,436.6" stroke-width="1.31" stroke-opacity="0.36"/>
<path d="M568.4,436.6 A30.3,39.5 0 0 1 628.9,436.6" stroke-width="0.98" stroke-opacity="0.33"/>
<path d="M492.8,436.6 A9.6,26.3 0 0 1 512.0,436.6" stroke-width="0.92" stroke-opacity="0.47"/>
<path d="M542.5,436.6 A19.4,33.6 0 0 1 581.4,436.6" stroke-width="1.25" stroke-opacity="0.41"/>
<path d="M417.8,436.6 A54.3,48.6 0 0 1 526.4,436.6" stroke-width="1.22" stroke-opacity="0.42"/>
<path d="M492.7,436.6 A46.6,46.1 0 0 1 585.9,436.6" stroke-width="1.14" stroke-opacity="0.49"/>
<path d="M547.3,436.6 A21.6,35.1 0 0 1 590.5,436.6" stroke-width="0.71" stroke-opacity="0.33"/>
<path d="M441.4,436.6 A44.2,45.1 0 0 1 529.7,436.6" stroke-width="1.37" stroke-opacity="0.4"/>
<path d="M455.6,436.6 A42.8,44.6 0 0 1 541.1,436.6" stroke-width="1.36" stroke-opacity="0.45"/>
<path d="M438.6,436.6 A54.7,48.7 0 0 1 548.0,436.6" stroke-width="1.39" stroke-opacity="0.5"/>
<path d="M462.1,436.6 A19.8,33.9 0 0 1 501.8,436.6" stroke-width="1.02" stroke-opacity="0.33"/>
<path d="M400.8,436.6 A36.1,42.0 0 0 1 473.0,436.6" stroke-width="1.3" stroke-opacity="0.48"/>
<path d="M466.6,436.6 A66.8,52.5 0 0 1 600.3,436.6" stroke-width="0.83" stroke-opacity="0.36"/>
<path d="M433.6,436.6 A43.7,44.9 0 0 1 520.9,436.6" stroke-width="1.32" stroke-opacity="0.4"/>
<path d="M560.6,436.6 A60.4,50.6 0 0 1 681.5,436.6" stroke-width="1.04" stroke-opacity="0.52"/>
<path d="M574.9,436.6 A38.2,43.0 0 0 1 651.3,436.6" stroke-width="0.82" stroke-opacity="0.32"/>
<path d="M425.5,436.6 A37.2,42.6 0 0 1 499.9,436.6" stroke-width="0.71" stroke-opacity="0.38"/>
<path d="M484.2,436.6 A29.5,39.1 0 0 1 543.3,436.6" stroke-width="1.21" stroke-opacity="0.44"/>
<path d="M493.2,436.6 A47.4,46.4 0 0 1 588.0,436.6" stroke-width="1.11" stroke-opacity="0.4"/>
<path d="M408.6,436.6 A44.9,45.6 0 0 1 498.4,436.6" stroke-width="0.73" stroke-opacity="0.31"/>
<path d="M449.3,436.6 A23.2,35.8 0 0 1 495.7,436.6" stroke-width="1.23" stroke-opacity="0.34"/>
<path d="M471.5,436.6 A51.3,47.7 0 0 1 574.0,436.6" stroke-width="0.99" stroke-opacity="0.5"/>
<path d="M397.3,436.6 A19.9,34.0 0 0 1 437.2,436.6" stroke-width="0.89" stroke-opacity="0.39"/>
<path d="M499.2,436.6 A21.4,34.8 0 0 1 542.0,436.6" stroke-width="1.09" stroke-opacity="0.48"/>
<path d="M520.5,436.6 A58.5,50.1 0 0 1 637.5,436.6" stroke-width="0.76" stroke-opacity="0.47"/>
<path d="M537.1,436.6 A59.1,50.3 0 0 1 655.3,436.6" stroke-width="0.81" stroke-opacity="0.32"/>
<path d="M545.0,436.6 A48.4,46.8 0 0 1 641.8,436.6" stroke-width="0.82" stroke-opacity="0.52"/>
<path d="M535.5,436.6 A46.3,45.9 0 0 1 628.1,436.6" stroke-width="1.23" stroke-opacity="0.45"/>
<path d="M448.7,436.6 A12.7,29.0 0 0 1 474.1,436.6" stroke-width="0.94" stroke-opacity="0.46"/>
<path d="M362.8,436.6 A101.2,61.2 0 0 1 565.3,436.6" stroke-width="0.43" stroke-opacity="0.18"/>
<path d="M398.7,436.6 A122.4,65.6 0 0 1 643.6,436.6" stroke-width="0.4" stroke-opacity="0.17"/>
<path d="M385.7,436.6 A83.9,57.1 0 0 1 553.5,436.6" stroke-width="0.64" stroke-opacity="0.15"/>
<path d="M374.7,436.6 A138.8,68.5 0 0 1 652.3,436.6" stroke-width="0.66" stroke-opacity="0.13"/>
<path d="M391.9,436.6 A136.0,68.0 0 0 1 664.0,436.6" stroke-width="0.65" stroke-opacity="0.22"/>
<path d="M371.4,436.6 A106.4,62.3 0 0 1 584.3,436.6" stroke-width="0.41" stroke-opacity="0.17"/>
<path d="M368.1,436.6 A97.1,60.2 0 0 1 562.3,436.6" stroke-width="0.68" stroke-opacity="0.23"/>
<path d="M391.4,436.6 A95.2,59.8 0 0 1 581.8,436.6" stroke-width="0.44" stroke-opacity="0.18"/>
<path d="M357.6,436.6 A116.2,64.2 0 0 1 589.9,436.6" stroke-width="0.58" stroke-opacity="0.16"/>
<path d="M369.7,436.6 A108.2,62.6 0 0 1 586.1,436.6" stroke-width="0.65" stroke-opacity="0.12"/>
<path d="M391.7,436.6 A117.4,64.5 0 0 1 626.4,436.6" stroke-width="0.56" stroke-opacity="0.21"/>
<path d="M355.1,436.6 A153.6,71.1 0 0 1 662.4,436.6" stroke-width="0.49" stroke-opacity="0.17"/>
<path d="M377.8,436.6 A145.0,69.6 0 0 1 667.8,436.6" stroke-width="0.47" stroke-opacity="0.19"/>
<path d="M399.9,436.6 A85.0,57.4 0 0 1 569.8,436.6" stroke-width="0.59" stroke-opacity="0.14"/>
<path d="M380.4,436.6 A110.5,63.1 0 0 1 601.4,436.6" stroke-width="0.57" stroke-opacity="0.12"/>
<path d="M363.5,436.6 A152.1,70.9 0 0 1 667.7,436.6" stroke-width="0.45" stroke-opacity="0.16"/>
<path d="M399.8,436.6 A88.1,58.1 0 0 1 575.9,436.6" stroke-width="0.57" stroke-opacity="0.18"/>
<path d="M354.4,436.6 A138.4,68.4 0 0 1 631.1,436.6" stroke-width="0.55" stroke-opacity="0.24"/>
<path d="M399.2,436.6 A75.5,55.0 0 0 1 550.2,436.6" stroke-width="0.58" stroke-opacity="0.16"/>
<path d="M360.3,436.6 A154.8,71.3 0 0 1 670.0,436.6" stroke-width="0.43" stroke-opacity="0.19"/>
<path d="M364.9,436.6 A128.1,66.6 0 0 1 621.1,436.6" stroke-width="0.46" stroke-opacity="0.23"/>
<path d="M374.4,436.6 A96.9,60.2 0 0 1 568.3,436.6" stroke-width="0.64" stroke-opacity="0.14"/>
<path d="M388.3,436.6 A93.3,59.3 0 0 1 575.0,436.6" stroke-width="0.65" stroke-opacity="0.15"/>
<path d="M384.3,436.6 A125.5,66.1 0 0 1 635.2,436.6" stroke-width="0.55" stroke-opacity="0.23"/>
<path d="M379.3,436.6 A96.9,60.2 0 0 1 573.0,436.6" stroke-width="0.56" stroke-opacity="0.21"/>
<path d="M373.6,436.6 A120.3,65.1 0 0 1 614.3,436.6" stroke-width="0.42" stroke-opacity="0.15"/>
<path d="M389.5,436.6 A98.9,60.7 0 0 1 587.3,436.6" stroke-width="0.46" stroke-opacity="0.22"/>
<path d="M355.6,436.6 A94.8,59.8 0 0 1 545.2,436.6" stroke-width="0.42" stroke-opacity="0.14"/>
<path d="M356.5,436.6 A112.4,63.5 0 0 1 581.4,436.6" stroke-width="0.48" stroke-opacity="0.24"/>
<path d="M365.9,436.6 A127.9,66.6 0 0 1 621.8,436.6" stroke-width="0.49" stroke-opacity="0.21"/>
<path d="M359.4,436.6 A114.6,64.0 0 0 1 588.7,436.6" stroke-width="0.44" stroke-opacity="0.16"/>
<path d="M366.3,436.6 A118.8,64.7 0 0 1 603.9,436.6" stroke-width="0.68" stroke-opacity="0.12"/>
<path d="M365.0,436.6 A130.5,67.0 0 0 1 626.1,436.6" stroke-width="0.65" stroke-opacity="0.17"/>
<path d="M370.8,436.6 A107.1,62.4 0 0 1 584.9,436.6" stroke-width="0.51" stroke-opacity="0.19"/>
<path d="M390.1,436.6 A76.4,55.3 0 0 1 542.9,436.6" stroke-width="0.45" stroke-opacity="0.15"/>
<path d="M382.8,436.6 A132.5,67.4 0 0 1 647.8,436.6" stroke-width="0.42" stroke-opacity="0.12"/>
<path d="M359.5,436.6 A121.0,65.2 0 0 1 601.6,436.6" stroke-width="0.61" stroke-opacity="0.25"/>
<path d="M371.3,436.6 A114.3,63.8 0 0 1 599.9,436.6" stroke-width="0.66" stroke-opacity="0.22"/>
<path d="M395.9,436.6 A90.5,58.7 0 0 1 577.0,436.6" stroke-width="0.61" stroke-opacity="0.23"/>
<path d="M366.9,436.6 A103.7,61.6 0 0 1 574.3,436.6" stroke-width="0.68" stroke-opacity="0.15"/>
<path d="M369.3,436.6 A92.5,59.1 0 0 1 554.3,436.6" stroke-width="0.66" stroke-opacity="0.2"/>
<path d="M365.5,436.6 A118.5,64.7 0 0 1 602.5,436.6" stroke-width="0.53" stroke-opacity="0.12"/>
<path d="M388.5,436.6 A81.1,56.5 0 0 1 550.7,436.6" stroke-width="0.52" stroke-opacity="0.22"/>
<path d="M367.3,436.6 A140.5,68.8 0 0 1 648.3,436.6" stroke-width="0.67" stroke-opacity="0.21"/>
<path d="M373.9,436.6 A148.9,70.3 0 0 1 671.8,436.6" stroke-width="0.5" stroke-opacity="0.25"/>
<path d="M382.1,436.6 A116.7,64.3 0 0 1 615.6,436.6" stroke-width="0.66" stroke-opacity="0.13"/>
<path d="M367.4,436.6 A141.2,69.0 0 0 1 649.9,436.6" stroke-width="0.42" stroke-opacity="0.24"/>
<path d="M375.2,436.6 A117.0,64.4 0 0 1 609.2,436.6" stroke-width="0.7" stroke-opacity="0.13"/>
<path d="M355.2,436.6 A132.3,67.3 0 0 1 619.7,436.6" stroke-width="0.59" stroke-opacity="0.23"/>
<path d="M363.1,436.6 A151.0,70.6 0 0 1 665.1,436.6" stroke-width="0.6" stroke-opacity="0.2"/>
<path d="M355.1,436.6 A149.1,70.3 0 0 1 653.3,436.6" stroke-width="0.47" stroke-opacity="0.21"/>
<path d="M400.0,436.6 A70.8,53.8 0 0 1 541.5,436.6" stroke-width="0.53" stroke-opacity="0.24"/>
<path d="M367.5,436.6 A145.6,69.7 0 0 1 658.7,436.6" stroke-width="0.65" stroke-opacity="0.21"/>
<path d="M400.1,436.6 A119.9,65.0 0 0 1 640.0,436.6" stroke-width="0.43" stroke-opacity="0.23"/>
<path d="M388.8,436.6 A102.9,61.6 0 0 1 594.6,436.6" stroke-width="0.43" stroke-opacity="0.15"/>
<path d="M378.6,436.6 A98.3,60.4 0 0 1 575.1,436.6" stroke-width="0.7" stroke-opacity="0.14"/>
<path d="M366.9,436.6 A95.2,59.8 0 0 1 557.3,436.6" stroke-width="0.62" stroke-opacity="0.23"/>
<path d="M365.8,436.6 A114.7,63.9 0 0 1 595.2,436.6" stroke-width="0.67" stroke-opacity="0.2"/>
<path d="M364.3,436.6 A158.4,71.8 0 0 1 681.2,436.6" stroke-width="0.63" stroke-opacity="0.16"/>
<path d="M374.9,436.6 A117.9,64.6 0 0 1 610.7,436.6" stroke-width="0.59" stroke-opacity="0.18"/>
<path d="M361.1,436.6 A112.7,63.6 0 0 1 586.5,436.6" stroke-width="0.44" stroke-opacity="0.19"/>
<path d="M382.4,436.6 A121.4,65.3 0 0 1 625.3,436.6" stroke-width="0.42" stroke-opacity="0.19"/>
<path d="M390.1,436.6 A115.5,64.1 0 0 1 621.1,436.6" stroke-width="0.5" stroke-opacity="0.22"/>
<path d="M372.6,436.6 A140.0,68.8 0 0 1 652.5,436.6" stroke-width="0.4" stroke-opacity="0.13"/>
<path d="M375.3,436.6 A88.2,58.2 0 0 1 551.7,436.6" stroke-width="0.46" stroke-opacity="0.24"/>
<path d="M389.9,436.6 A96.1,60.1 0 0 1 582.2,436.6" stroke-width="0.43" stroke-opacity="0.22"/>
<path d="M386.9,436.6 A88.7,58.3 0 0 1 564.3,436.6" stroke-width="0.57" stroke-opacity="0.2"/>
<path d="M358.3,436.6 A98.6,60.6 0 0 1 555.6,436.6" stroke-width="0.41" stroke-opacity="0.23"/>
<path d="M367.9,436.6 A109.7,63.0 0 0 1 587.3,436.6" stroke-width="0.41" stroke-opacity="0.2"/>
<path d="M365.8,436.6 A125.5,66.1 0 0 1 616.8,436.6" stroke-width="0.5" stroke-opacity="0.17"/>
</g>
<path d="M351.8,455.5 H685" stroke="#3a3a3a" stroke-width="1.15"/>
<path d="M352.00,451 V455.5" stroke="#3a3a3a" stroke-width="1"/>
<text x="352.0" y="448.5" font-size="7" text-anchor="middle" fill="#555555" font-weight="normal" >0</text>
<path d="M400.08,451 V455.5" stroke="#3a3a3a" stroke-width="1"/>
<text x="400.08" y="448.5" font-size="7" text-anchor="middle" fill="#555555" font-weight="normal" textLength="29.8">1,000,000</text>
<path d="M448.16,451 V455.5" stroke="#3a3a3a" stroke-width="1"/>
<text x="448.15999999999997" y="448.5" font-size="7" text-anchor="middle" fill="#555555" font-weight="normal" textLength="29.8">2,000,000</text>
<path d="M496.24,451 V455.5" stroke="#3a3a3a" stroke-width="1"/>
<text x="496.24" y="448.5" font-size="7" text-anchor="middle" fill="#555555" font-weight="normal" textLength="29.8">3,000,000</text>
<path d="M544.32,451 V455.5" stroke="#3a3a3a" stroke-width="1"/>
<text x="544.3199999999999" y="448.5" font-size="7" text-anchor="middle" fill="#555555" font-weight="normal" textLength="29.8">4,000,000</text>
<path d="M592.40,451 V455.5" stroke="#3a3a3a" stroke-width="1"/>
<text x="592.4" y="448.5" font-size="7" text-anchor="middle" fill="#555555" font-weight="normal" textLength="29.8">5,000,000</text>
<path d="M640.48,451 V455.5" stroke="#3a3a3a" stroke-width="1"/>
<text x="640.48" y="448.5" font-size="7" text-anchor="middle" fill="#555555" font-weight="normal" textLength="29.8">6,000,000</text>
<text x="310.2" y="458.6" font-size="8.2" text-anchor="start" fill="#555555" font-weight="normal" >129S1</text>
<text x="310.2" y="468.2" font-size="8.2" text-anchor="start" fill="#555555" font-weight="normal" >assembly</text>
<path d="M373.15,461.20 L373.68,461.20 L375.25,465.00 L373.68,468.80 L373.15,468.80 Z" fill="#8a3b84" fill-opacity="0.77"/>
<path d="M376.25,461.20 L376.78,461.20 L378.35,465.00 L376.78,468.80 L376.25,468.80 Z" fill="#8a3b84" fill-opacity="0.99"/>
<path d="M380.25,461.20 L380.78,461.20 L382.35,465.00 L380.78,468.80 L380.25,468.80 Z" fill="#8a3b84" fill-opacity="0.78"/>
<path d="M383.35,461.20 L383.88,461.20 L385.45,465.00 L383.88,468.80 L383.35,468.80 Z" fill="#8a3b84" fill-opacity="0.93"/>
<path d="M388.95,461.20 L389.48,461.20 L391.05,465.00 L389.48,468.80 L388.95,468.80 Z" fill="#8a3b84" fill-opacity="0.98"/>
<path d="M393.05,461.20 L393.58,461.20 L395.15,465.00 L393.58,468.80 L393.05,468.80 Z" fill="#8a3b84" fill-opacity="0.98"/>
<path d="M398.65,461.20 L399.18,461.20 L400.75,465.00 L399.18,468.80 L398.65,468.80 Z" fill="#8a3b84" fill-opacity="0.82"/>
<path d="M402.25,461.20 L402.78,461.20 L404.35,465.00 L402.78,468.80 L402.25,468.80 Z" fill="#8a3b84" fill-opacity="0.82"/>
<path d="M406.35,461.20 L406.88,461.20 L408.45,465.00 L406.88,468.80 L406.35,468.80 Z" fill="#8a3b84" fill-opacity="0.87"/>
<path d="M409.45,461.20 L409.98,461.20 L411.55,465.00 L409.98,468.80 L409.45,468.80 Z" fill="#8a3b84" fill-opacity="0.94"/>
<path d="M412.45,461.20 L412.98,461.20 L414.55,465.00 L412.98,468.80 L412.45,468.80 Z" fill="#8a3b84" fill-opacity="0.75"/>
<path d="M416.55,461.20 L417.08,461.20 L418.65,465.00 L417.08,468.80 L416.55,468.80 Z" fill="#8a3b84" fill-opacity="0.93"/>
<path d="M421.65,461.20 L422.18,461.20 L423.75,465.00 L422.18,468.80 L421.65,468.80 Z" fill="#8a3b84" fill-opacity="0.94"/>
<path d="M494.25,461.20 L494.78,461.20 L496.35,465.00 L494.78,468.80 L494.25,468.80 Z" fill="#8a3b84" fill-opacity="0.96"/>
<path d="M495.75,461.20 L496.28,461.20 L497.85,465.00 L496.28,468.80 L495.75,468.80 Z" fill="#8a3b84" fill-opacity="0.73"/>
<path d="M498.35,461.20 L498.88,461.20 L500.45,465.00 L498.88,468.80 L498.35,468.80 Z" fill="#8a3b84" fill-opacity="0.98"/>
<path d="M493.85,461.20 L494.38,461.20 L495.95,465.00 L494.38,468.80 L493.85,468.80 Z" fill="#8a3b84" fill-opacity="0.75"/>
<path d="M496.35,461.20 L496.88,461.20 L498.45,465.00 L496.88,468.80 L496.35,468.80 Z" fill="#8a3b84" fill-opacity="0.82"/>
<path d="M503.65,461.20 L504.18,461.20 L505.75,465.00 L504.18,468.80 L503.65,468.80 Z" fill="#8a3b84" fill-opacity="0.89"/>
<path d="M508.05,461.20 L508.58,461.20 L510.15,465.00 L508.58,468.80 L508.05,468.80 Z" fill="#8a3b84" fill-opacity="0.98"/>
<path d="M510.25,461.20 L510.78,461.20 L512.35,465.00 L510.78,468.80 L510.25,468.80 Z" fill="#8a3b84" fill-opacity="0.82"/>
<path d="M513.15,461.20 L513.67,461.20 L515.25,465.00 L513.67,468.80 L513.15,468.80 Z" fill="#8a3b84" fill-opacity="0.98"/>
<path d="M524.05,461.20 L524.57,461.20 L526.15,465.00 L524.57,468.80 L524.05,468.80 Z" fill="#8a3b84" fill-opacity="0.87"/>
<path d="M527.05,461.20 L527.57,461.20 L529.15,465.00 L527.57,468.80 L527.05,468.80 Z" fill="#8a3b84" fill-opacity="0.81"/>
<path d="M530.65,461.20 L531.17,461.20 L532.75,465.00 L531.17,468.80 L530.65,468.80 Z" fill="#8a3b84" fill-opacity="0.81"/>
<path d="M533.55,461.20 L534.07,461.20 L535.65,465.00 L534.07,468.80 L533.55,468.80 Z" fill="#8a3b84" fill-opacity="0.77"/>
<path d="M536.55,461.20 L537.07,461.20 L538.65,465.00 L537.07,468.80 L536.55,468.80 Z" fill="#8a3b84" fill-opacity="0.74"/>
<path d="M539.15,461.20 L539.67,461.20 L541.25,465.00 L539.67,468.80 L539.15,468.80 Z" fill="#8a3b84" fill-opacity="0.76"/>
<path d="M549.65,461.20 L550.17,461.20 L551.75,465.00 L550.17,468.80 L549.65,468.80 Z" fill="#8a3b84" fill-opacity="0.91"/>
<path d="M552.55,461.20 L553.07,461.20 L554.65,465.00 L553.07,468.80 L552.55,468.80 Z" fill="#8a3b84" fill-opacity="1.00"/>
<path d="M555.45,461.20 L555.97,461.20 L557.55,465.00 L555.97,468.80 L555.45,468.80 Z" fill="#8a3b84" fill-opacity="0.77"/>
<path d="M558.45,461.20 L558.97,461.20 L560.55,465.00 L558.97,468.80 L558.45,468.80 Z" fill="#8a3b84" fill-opacity="0.73"/>
<path d="M567.15,461.20 L567.67,461.20 L569.25,465.00 L567.67,468.80 L567.15,468.80 Z" fill="#8a3b84" fill-opacity="1.00"/>
<path d="M633.55,461.20 L634.07,461.20 L635.65,465.00 L634.07,468.80 L633.55,468.80 Z" fill="#8a3b84" fill-opacity="0.87"/>
<path d="M636.55,461.20 L637.07,461.20 L638.65,465.00 L637.07,468.80 L636.55,468.80 Z" fill="#8a3b84" fill-opacity="0.83"/>
<path d="M639.45,461.20 L639.97,461.20 L641.55,465.00 L639.97,468.80 L639.45,468.80 Z" fill="#8a3b84" fill-opacity="0.79"/>
<path d="M658.45,461.20 L658.97,461.20 L660.55,465.00 L658.97,468.80 L658.45,468.80 Z" fill="#8a3b84" fill-opacity="0.89"/>
<path d="M660.55,461.20 L661.07,461.20 L662.65,465.00 L661.07,468.80 L660.55,468.80 Z" fill="#8a3b84" fill-opacity="0.95"/>
<path d="M426.35,461.20 L425.82,461.20 L424.25,465.00 L425.82,468.80 L426.35,468.80 Z" fill="#8a3b84" fill-opacity="0.85"/>
<path d="M430.45,461.20 L429.92,461.20 L428.35,465.00 L429.92,468.80 L430.45,468.80 Z" fill="#8a3b84" fill-opacity="0.84"/>
<path d="M435.05,461.20 L434.52,461.20 L432.95,465.00 L434.52,468.80 L435.05,468.80 Z" fill="#8a3b84" fill-opacity="0.74"/>
<path d="M440.65,461.20 L440.12,461.20 L438.55,465.00 L440.12,468.80 L440.65,468.80 Z" fill="#8a3b84" fill-opacity="0.98"/>
<path d="M460.05,461.20 L459.52,461.20 L457.95,465.00 L459.52,468.80 L460.05,468.80 Z" fill="#8a3b84" fill-opacity="0.73"/>
<path d="M463.15,461.20 L462.62,461.20 L461.05,465.00 L462.62,468.80 L463.15,468.80 Z" fill="#8a3b84" fill-opacity="0.86"/>
<path d="M466.75,461.20 L466.22,461.20 L464.65,465.00 L466.22,468.80 L466.75,468.80 Z" fill="#8a3b84" fill-opacity="0.95"/>
<path d="M469.75,461.20 L469.22,461.20 L467.65,465.00 L469.22,468.80 L469.75,468.80 Z" fill="#8a3b84" fill-opacity="0.76"/>
<path d="M472.85,461.20 L472.32,461.20 L470.75,465.00 L472.32,468.80 L472.85,468.80 Z" fill="#8a3b84" fill-opacity="0.92"/>
<path d="M476.95,461.20 L476.42,461.20 L474.85,465.00 L476.42,468.80 L476.95,468.80 Z" fill="#8a3b84" fill-opacity="0.99"/>
<path d="M485.05,461.20 L484.52,461.20 L482.95,465.00 L484.52,468.80 L485.05,468.80 Z" fill="#8a3b84" fill-opacity="0.90"/>
<path d="M520.35,461.20 L519.83,461.20 L518.25,465.00 L519.83,468.80 L520.35,468.80 Z" fill="#8a3b84" fill-opacity="0.94"/>
<path d="M573.65,461.20 L573.13,461.20 L571.55,465.00 L573.13,468.80 L573.65,468.80 Z" fill="#8a3b84" fill-opacity="0.75"/>
<path d="M578.05,461.20 L577.53,461.20 L575.95,465.00 L577.53,468.80 L578.05,468.80 Z" fill="#8a3b84" fill-opacity="0.84"/>
<path d="M584.55,461.20 L584.03,461.20 L582.45,465.00 L584.03,468.80 L584.55,468.80 Z" fill="#8a3b84" fill-opacity="0.76"/>
<path d="M591.15,461.20 L590.63,461.20 L589.05,465.00 L590.63,468.80 L591.15,468.80 Z" fill="#8a3b84" fill-opacity="0.96"/>
<path d="M594.05,461.20 L593.53,461.20 L591.95,465.00 L593.53,468.80 L594.05,468.80 Z" fill="#8a3b84" fill-opacity="0.80"/>
<path d="M597.75,461.20 L597.23,461.20 L595.65,465.00 L597.23,468.80 L597.75,468.80 Z" fill="#8a3b84" fill-opacity="0.85"/>
<path d="M602.85,461.20 L602.33,461.20 L600.75,465.00 L602.33,468.80 L602.85,468.80 Z" fill="#8a3b84" fill-opacity="1.00"/>
<path d="M605.75,461.20 L605.23,461.20 L603.65,465.00 L605.23,468.80 L605.75,468.80 Z" fill="#8a3b84" fill-opacity="0.96"/>
<path d="M609.15,461.20 L608.63,461.20 L607.05,465.00 L608.63,468.80 L609.15,468.80 Z" fill="#8a3b84" fill-opacity="0.99"/>
<path d="M615.25,461.20 L614.73,461.20 L613.15,465.00 L614.73,468.80 L615.25,468.80 Z" fill="#8a3b84" fill-opacity="0.85"/>
<path d="M617.45,461.20 L616.93,461.20 L615.35,465.00 L616.93,468.80 L617.45,468.80 Z" fill="#8a3b84" fill-opacity="0.86"/>
<path d="M620.35,461.20 L619.83,461.20 L618.25,465.00 L619.83,468.80 L620.35,468.80 Z" fill="#8a3b84" fill-opacity="0.92"/>
<path d="M627.65,461.20 L627.13,461.20 L625.55,465.00 L627.13,468.80 L627.65,468.80 Z" fill="#8a3b84" fill-opacity="0.85"/>
<path d="M630.55,461.20 L630.03,461.20 L628.45,465.00 L630.03,468.80 L630.55,468.80 Z" fill="#8a3b84" fill-opacity="0.80"/>
<path d="M653.95,461.20 L653.43,461.20 L651.85,465.00 L653.43,468.80 L653.95,468.80 Z" fill="#8a3b84" fill-opacity="0.83"/>
<path d="M665.65,461.20 L665.13,461.20 L663.55,465.00 L665.13,468.80 L665.65,468.80 Z" fill="#8a3b84" fill-opacity="0.76"/>
<path d="M668.55,461.20 L668.03,461.20 L666.45,465.00 L668.03,468.80 L668.55,468.80 Z" fill="#8a3b84" fill-opacity="0.83"/>
<path d="M672.15,461.20 L671.63,461.20 L670.05,465.00 L671.63,468.80 L672.15,468.80 Z" fill="#8a3b84" fill-opacity="1.00"/>
<path d="M675.15,461.20 L674.63,461.20 L673.05,465.00 L674.63,468.80 L675.15,468.80 Z" fill="#8a3b84" fill-opacity="0.99"/>
<path d="M681.65,461.20 L681.13,461.20 L679.55,465.00 L681.13,468.80 L681.65,468.80 Z" fill="#8a3b84" fill-opacity="0.90"/>
<path d="M685.35,461.20 L684.83,461.20 L683.25,465.00 L684.83,468.80 L685.35,468.80 Z" fill="#8a3b84" fill-opacity="0.86"/>
<rect x="370.20000000000005" y="461.2" width="0.8" height="7.6" fill="#8a3b84" fill-opacity="0.55"/>
<rect x="435.1" y="461.2" width="0.8" height="7.6" fill="#8a3b84" fill-opacity="0.55"/>
<rect x="487.20000000000005" y="461.2" width="0.8" height="7.6" fill="#8a3b84" fill-opacity="0.55"/>
<rect x="504.1" y="461.2" width="0.8" height="7.6" fill="#8a3b84" fill-opacity="0.55"/>
<rect x="487.8" y="461.2" width="0.8" height="7.6" fill="#8a3b84" fill-opacity="0.55"/>
<rect x="564.9" y="461.2" width="0.8" height="7.6" fill="#8a3b84" fill-opacity="0.55"/>
<rect x="586.1" y="461.2" width="0.8" height="7.6" fill="#8a3b84" fill-opacity="0.55"/>
<rect x="647.4" y="461.2" width="0.8" height="7.6" fill="#8a3b84" fill-opacity="0.55"/>
<path d="M454.1,461 V468.9 L449.5,467.6 L442.5,465 L449.5,462.4 Z" fill="#8a3b84"/>
<path d="M544.30,461.10 L544.30,461.10 L548.90,465.00 L544.30,468.90 L544.30,468.90 Z" fill="#8a3b84" fill-opacity="1.00"/>
<path d="M503.40,461.20 L503.40,461.20 L506.40,465.00 L503.40,468.80 L503.40,468.80 Z" fill="#8a3b84" fill-opacity="1.00"/>
<text x="308.8" y="347.8" font-size="13.3" text-anchor="start" fill="#231f20" font-weight="bold" >e</text>
<path d="M349,475.4 H351.3 M349,533.8 H351.3" stroke="#555" stroke-width="0.7"/>
<path d="M640.3,475.4 C640.3,504.59999999999997 354.5,504.59999999999997 354.5,533.8 H362.2 C362.2,504.59999999999997 650.2,504.59999999999997 650.2,475.4 Z" fill="#f5e6d2" fill-opacity="1"/>
<path d="M651.4,475.4 C651.4,504.59999999999997 364.7,504.59999999999997 364.7,533.8 H376.8 C376.8,504.59999999999997 662.6,504.59999999999997 662.6,475.4 Z" fill="#f5e6d2" fill-opacity="1"/>
<path d="M667,475.4 C667,504.59999999999997 377.6,504.59999999999997 377.6,533.8 H388.8 C388.8,504.59999999999997 685,504.59999999999997 685,475.4 Z" fill="#f5e6d2" fill-opacity="1"/>
<path d="M357.4,475.4 C357.4,504.6 354,504.6 354,533.8" fill="none" stroke="#f5e6d2" stroke-width="0.4" stroke-opacity="0.45"/>
<path d="M370,475.4 C370,504.6 354.3,504.6 354.3,533.8" fill="none" stroke="#f5e6d2" stroke-width="0.4" stroke-opacity="0.45"/>
<path d="M409.5,475.4 C409.5,504.6 354.6,504.6 354.6,533.8" fill="none" stroke="#f5e6d2" stroke-width="0.4" stroke-opacity="0.45"/>
<path d="M411.5,475.4 C411.5,504.6 355,504.6 355,533.8" fill="none" stroke="#f5e6d2" stroke-width="0.4" stroke-opacity="0.45"/>
<path d="M466.6,475.4 C466.6,504.6 355.5,504.6 355.5,533.8" fill="none" stroke="#f5e6d2" stroke-width="0.4" stroke-opacity="0.45"/>
<path d="M468.5,475.4 C468.5,504.6 356,504.6 356,533.8" fill="none" stroke="#f5e6d2" stroke-width="0.4" stroke-opacity="0.45"/>
<path d="M516.2,475.4 C516.2,504.6 356.5,504.6 356.5,533.8" fill="none" stroke="#f5e6d2" stroke-width="0.4" stroke-opacity="0.45"/>
<path d="M520,475.4 C520,504.6 357,504.6 357,533.8" fill="none" stroke="#f5e6d2" stroke-width="0.4" stroke-opacity="0.45"/>
<text x="310.2" y="545.6" font-size="8.2" text-anchor="start" fill="#555555" font-weight="normal" >129S1.v3</text>
<text x="310.2" y="557.3" font-size="8.2" text-anchor="start" fill="#555555" font-weight="normal" >assembly</text>
<path d="M362.05,538.90 L361.68,538.90 L360.55,542.80 L361.68,546.70 L362.05,546.70 Z" fill="#5754a6" fill-opacity="0.80"/>
<path d="M366.20,538.90 L365.85,538.90 L364.80,542.80 L365.85,546.70 L366.20,546.70 Z" fill="#5754a6" fill-opacity="0.75"/>
<path d="M367.60,538.90 L367.90,538.90 L368.80,542.80 L367.90,546.70 L367.60,546.70 Z" fill="#5754a6" fill-opacity="0.30"/>
<path d="M373.70,538.90 L373.35,538.90 L372.30,542.80 L373.35,546.70 L373.70,546.70 Z" fill="#5754a6" fill-opacity="0.70"/>
<path d="M373.60,538.90 L373.95,538.90 L375.00,542.80 L373.95,546.70 L373.60,546.70 Z" fill="#5754a6" fill-opacity="0.70"/>
<path d="M375.75,538.90 L376.07,538.90 L377.05,542.80 L376.07,546.70 L375.75,546.70 Z" fill="#5754a6" fill-opacity="0.70"/>
<path d="M384.40,538.90 L384.00,538.90 L382.80,542.80 L384.00,546.70 L384.40,546.70 Z" fill="#5754a6" fill-opacity="0.80"/>
<path d="M388.15,538.90 L387.77,538.90 L386.65,542.80 L387.77,546.70 L388.15,546.70 Z" fill="#5754a6" fill-opacity="0.80"/>
<rect x="362" y="549.1" width="3" height="7" fill="#231f20"/>
<rect x="355.1" y="549.5" width="0.5" height="6.2" fill="#c8c8c8"/>
<rect x="377.2" y="549.5" width="0.5" height="6.2" fill="#c8c8c8"/>
<path d="M352,562.2 V566 H390.5 V562.2" fill="none" stroke="#3a3a3a" stroke-width="1.1"/>
<text x="352" y="574.8" font-size="7" text-anchor="middle" fill="#555555" font-weight="normal" >0</text>
<text x="390.1" y="574.8" font-size="7" text-anchor="middle" fill="#555555" font-weight="normal" textLength="25.4">800,000</text>
<text x="524" y="598.6" font-size="8.9" text-anchor="middle" fill="#222" font-weight="normal" >Position within Chr4 KZFP</text>
<text x="524" y="608.9" font-size="8.9" text-anchor="middle" fill="#222" font-weight="normal" >gene cluster (bp)</text>
<text x="634.8" y="521.6" font-size="8.1" text-anchor="start" fill="#333" font-weight="normal" >Alignment</text>
<text x="634.8" y="530.4" font-size="8.1" text-anchor="start" fill="#333" font-weight="normal" >direction</text>
<rect x="634.8" y="537.3" width="13.1" height="12.6" fill="#d9d9d9"/>
<rect x="634.8" y="551.9" width="13.1" height="12.1" fill="#f5e6d2"/>
<text x="653.8" y="545.2" font-size="6.6" text-anchor="start" fill="#333" font-weight="normal" >–</text>
<text x="653.8" y="559.8" font-size="7" text-anchor="start" fill="#333" font-weight="normal" >+</text>
</svg>
</body></html>
